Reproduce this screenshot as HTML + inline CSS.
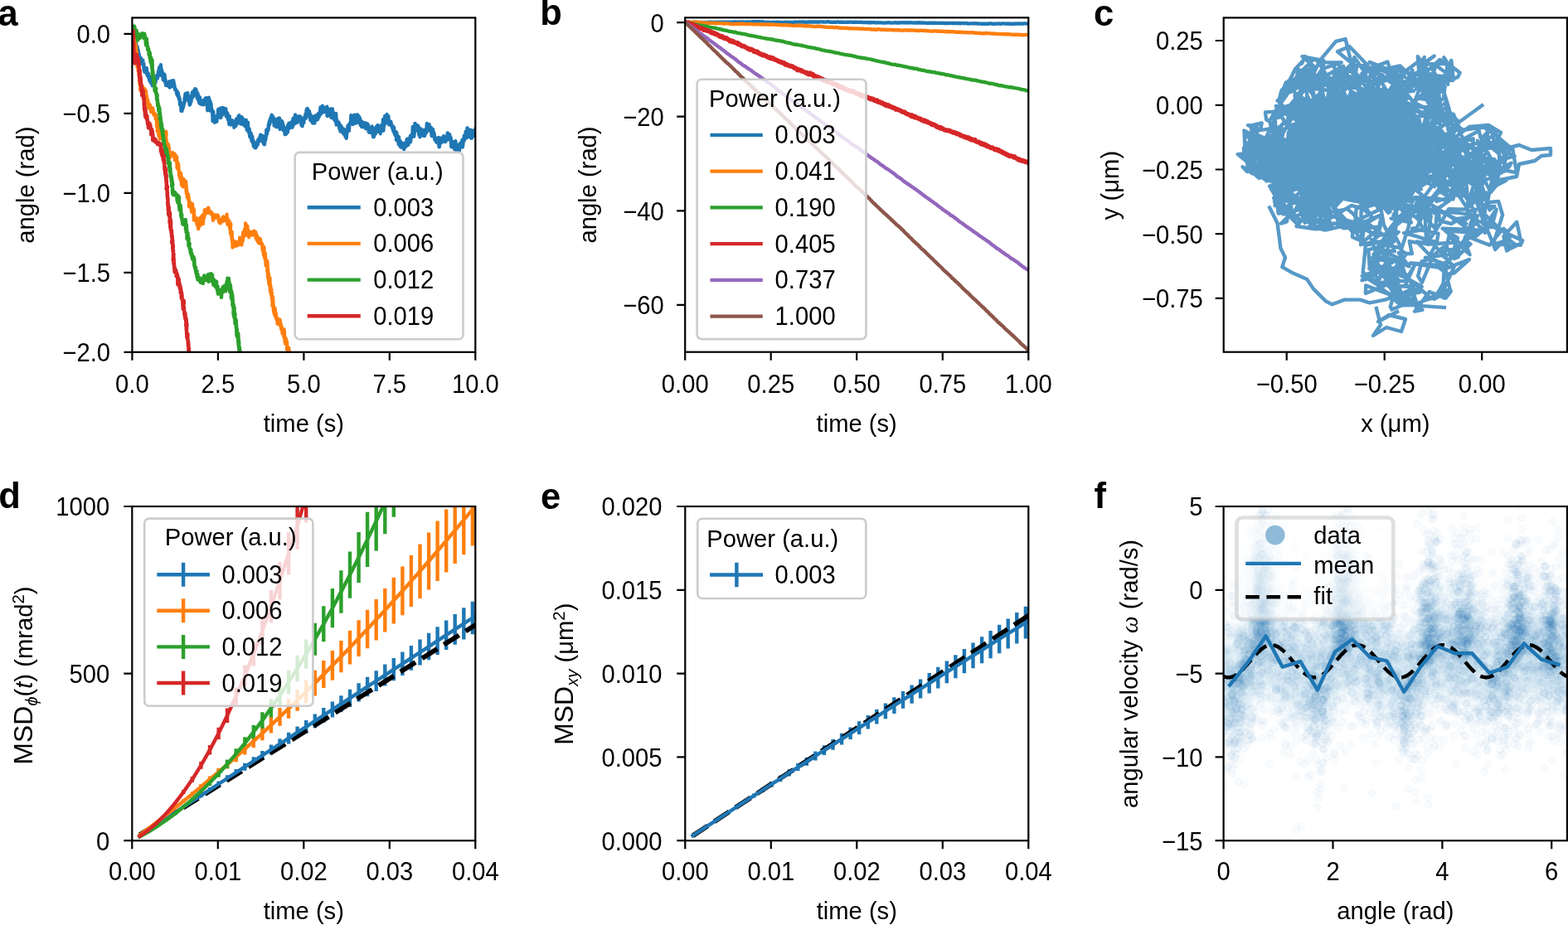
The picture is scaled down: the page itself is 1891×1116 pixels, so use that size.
<!DOCTYPE html>
<html><head><meta charset="utf-8"><title>Figure</title><style>html,body{margin:0;padding:0;background:#fff;overflow:hidden;}svg{display:block;}.sc circle{fill:#1f77b4;fill-opacity:.026;stroke:#1f77b4;stroke-opacity:.03;stroke-width:1.4px}</style></head><body>
<svg width="1891" height="1116" viewBox="0 0 1891 1116" font-family="'Liberation Sans', Arial, Helvetica, sans-serif" fill="#000"><defs><clipPath id="clipa"><rect x="159.4" y="21.4" width="413.9" height="403.4"/></clipPath><clipPath id="clipb"><rect x="826.2" y="21.3" width="414.1" height="403.4"/></clipPath><clipPath id="clipc"><rect x="1475.7" y="21.4" width="414.2" height="403.3"/></clipPath><clipPath id="clipd"><rect x="159.3" y="611" width="414" height="403.2"/></clipPath><clipPath id="clipe"><rect x="826.3" y="611" width="414" height="403.2"/></clipPath><clipPath id="clipf"><rect x="1475.6" y="611" width="414.3" height="403.2"/></clipPath><filter id="blurf" x="-20%" y="-20%" width="140%" height="140%"><feGaussianBlur stdDeviation="14"/></filter></defs><rect width="100%" height="100%" fill="#fff"/><g clip-path="url(#clipa)">
<polyline points="159.4,41 159.7,42.8 160,41.4 160.3,37 160.6,36.5 160.9,36.7 161.2,40.5 161.5,41 161.8,44.3 162.1,39 162.4,50.3 162.7,47.1 163,50.9 163.3,49.2 163.6,50.2 163.9,53.7 164.2,56.2 164.5,54.6 164.8,55.3 165.1,58.8 165.4,55.9 165.7,56.7 166,63.8 166.3,61.4 166.6,60.3 166.9,64.1 167.2,66.8 167.5,65.9 167.8,65.4 168.1,71.7 168.4,75.3 168.7,71.6 169,69.1 169.3,72 169.6,72.4 169.9,70.1 170.2,73.4 170.5,76.4 170.8,73.2 171.1,73.2 171.4,77.4 171.7,76.9 172,77.8 172.3,72.8 172.6,75.1 172.9,77 173.2,76.4 173.5,82.1 173.8,84.9 174.1,81 174.4,86.9 174.7,85.6 175,87 175.3,87.2 175.6,86.4 175.9,82.3 176.2,86.9 176.5,88.2 176.8,82.2 177.1,88.4 177.4,87.9 177.7,91 178,87.5 178.3,90.1 178.6,91.7 178.9,88.9 179.2,93.6 179.5,91.7 179.8,95.1 180.1,92.9 180.4,97.6 180.7,96.9 181,94.3 181.3,95.7 181.6,97.9 181.9,100 182.2,93 182.5,99.9 182.8,98.2 183.1,97.6 183.4,96.4 183.7,103.3 184,97.1 184.3,100.2 184.6,102.6 184.9,94.1 185.2,97.5 185.5,93.1 185.8,97.4 186.1,99.6 186.4,101.5 186.7,92.9 187,96.4 187.3,98.1 187.6,99 187.9,95 188.2,92.2 188.5,94.7 188.8,93.4 189.1,92.5 189.4,91 189.7,93.8 190,94.3 190.3,92.4 190.6,91.4 190.9,86.3 191.2,86.6 191.5,89.9 191.8,84.9 192.1,81.5 192.4,89.1 192.7,86.1 193,89.3 193.3,83.2 193.6,81.6 193.9,78.2 194.2,86.6 194.5,91 194.8,83.5 195.1,85.4 195.4,89.4 195.7,86.7 196,90.4 196.3,90.8 196.6,93.5 196.9,96.5 197.2,94 197.5,96.6 197.8,93.2 198.1,95.9 198.4,89.8 198.7,91.6 199,98.8 199.3,95.5 199.6,99.8 199.9,100.2 200.2,103.1 200.5,101.5 200.8,102.4 201.1,102 201.4,101.2 201.7,102 202,102.8 202.3,101.8 202.6,102.3 202.9,102.7 203.2,103.9 203.5,103 203.8,98.5 204.1,103 204.4,103.4 204.7,105.5 205,103.2 205.3,99.1 205.6,99 205.9,104.8 206.2,101.2 206.5,103.8 206.8,104.2 207.1,97.4 207.4,100.5 207.7,101.1 208,101 208.3,100.8 208.6,100.9 208.9,101.5 209.2,97.2 209.5,101.3 209.8,100.3 210.1,103 210.4,103.1 210.7,106.1 211,107.9 211.3,107.8 211.6,108.5 211.9,107.8 212.2,108 212.5,109.8 212.8,109.9 213.1,113 213.4,112.9 213.7,114.5 214,110.8 214.3,115.9 214.6,112.7 214.9,112.5 215.2,114.9 215.5,115.9 215.8,119.1 216.1,117.7 216.4,118.1 216.7,119.7 217,126.1 217.3,123.7 217.6,123.2 217.9,127.8 218.2,125.3 218.5,133.8 218.8,127 219.1,132 219.4,133.8 219.7,126.8 220,132 220.3,131.2 220.6,130 220.9,129.1 221.2,128.2 221.5,125 221.8,125.7 222.1,124.4 222.4,123.8 222.7,118.3 223,120.8 223.3,115.7 223.6,112.9 223.9,117.4 224.2,121.1 224.5,119.2 224.8,115.3 225.1,119.2 225.4,117 225.7,117.1 226,119.1 226.3,112.1 226.6,118.4 226.9,115.8 227.2,118.2 227.5,115.9 227.8,116.1 228.1,118.7 228.4,123.6 228.7,126.6 229,122.9 229.3,125.8 229.6,122 229.9,117.5 230.2,121.6 230.5,122.6 230.8,117.5 231.1,117.7 231.4,118.7 231.7,114.4 232,111.3 232.3,113.9 232.6,114 232.9,112.2 233.2,115.3 233.5,116.1 233.8,109.6 234.1,111.5 234.4,112.2 234.7,109.7 235,109.4 235.3,107.1 235.6,109.7 235.9,112.5 236.2,110.8 236.5,108.1 236.8,112.1 237.1,114.8 237.4,112.6 237.7,113.6 238,118.9 238.3,112.2 238.6,116.3 238.9,115.6 239.2,114.9 239.5,121.9 239.8,121.1 240.1,117.6 240.4,124.5 240.7,122.3 241,117.5 241.3,121.5 241.6,123.7 241.9,125.4 242.2,124.4 242.5,124.5 242.8,125.8 243.1,123.4 243.4,125.9 243.7,124.5 244,125 244.3,126.1 244.6,121.8 244.9,121.3 245.2,126.4 245.5,125 245.8,123.2 246.1,124.9 246.4,121.6 246.7,123.3 247,120.8 247.3,123.3 247.6,118.7 247.9,125.8 248.2,120.8 248.5,118.3 248.8,122.2 249.1,121.8 249.4,124.8 249.7,121.6 250,125.6 250.3,133.2 250.6,121.5 250.9,124.6 251.2,121.6 251.5,122.2 251.8,117.7 252.1,118.5 252.4,123.9 252.7,122.6 253,126.7 253.3,121.7 253.6,126.6 253.9,133.9 254.2,124.5 254.5,125.7 254.8,130.1 255.1,131.9 255.4,134.8 255.7,134.1 256,133 256.3,137.3 256.6,146.1 256.9,143.2 257.2,134.6 257.5,141.7 257.8,140.9 258.1,144.6 258.4,142.3 258.7,147.7 259,144.1 259.3,144.5 259.6,142 259.9,141.2 260.2,141.9 260.5,143.8 260.8,141.8 261.1,140.2 261.4,146.7 261.7,142.4 262,141.6 262.3,139.2 262.6,138.6 262.9,138.4 263.2,131.9 263.5,141.4 263.8,141.1 264.1,137.1 264.4,140.4 264.7,139.1 265,137.9 265.3,131 265.6,136.9 265.9,138.4 266.2,142 266.5,141.3 266.8,140.7 267.1,133.7 267.4,130.1 267.7,137 268,135.3 268.3,138.3 268.6,134.2 268.9,135 269.2,130.2 269.5,136.6 269.8,133.3 270.1,136.2 270.4,134.9 270.7,133.8 271,134.7 271.3,134.2 271.6,135.6 271.9,134.1 272.2,131.2 272.5,133.3 272.8,140.4 273.1,135.9 273.4,140.4 273.7,139.1 274,137 274.3,136.5 274.6,140.7 274.9,143.6 275.2,144.5 275.5,140.7 275.8,144 276.1,147.8 276.4,150 276.7,140.1 277,147.8 277.3,144.1 277.6,147.1 277.9,145 278.2,147.9 278.5,150.5 278.8,147.9 279.1,147.6 279.4,148.1 279.7,145.4 280,148.4 280.3,145.4 280.6,145.4 280.9,148.4 281.2,148.6 281.5,150.4 281.8,148.1 282.1,148.2 282.4,153.8 282.7,151.7 283,152.4 283.3,150.8 283.6,148.7 283.9,147.1 284.2,148.4 284.5,151.8 284.8,149.2 285.1,143.6 285.4,146.7 285.7,143.2 286,147.9 286.3,144 286.6,144.7 286.9,148.2 287.2,146.9 287.5,140.4 287.8,145.6 288.1,148.2 288.4,139.1 288.7,148.1 289,143 289.3,143.6 289.6,143.5 289.9,142.3 290.2,149.5 290.5,147.1 290.8,143.6 291.1,143.6 291.4,141.1 291.7,144.3 292,148.9 292.3,142.8 292.6,146.6 292.9,148.8 293.2,150.4 293.5,150.4 293.8,145.5 294.1,144.2 294.4,147.7 294.7,146 295,147.4 295.3,151.5 295.6,152 295.9,149.2 296.2,150 296.5,151 296.8,144.9 297.1,150.5 297.4,147.6 297.7,156.8 298,153.5 298.3,151.9 298.6,152.2 298.9,147.6 299.2,155.6 299.5,158.9 299.8,154.7 300.1,158.9 300.4,160.1 300.7,155.6 301,162.3 301.3,164.9 301.6,162.9 301.9,161.9 302.2,165.1 302.5,160.5 302.8,165.9 303.1,168.2 303.4,163.3 303.7,170.6 304,167.6 304.3,164.8 304.6,171.2 304.9,169.2 305.2,173.3 305.5,169.5 305.8,176.4 306.1,172 306.4,174.6 306.7,172.6 307,173.6 307.3,178.2 307.6,176.5 307.9,174.4 308.2,172.2 308.5,178.3 308.8,176.8 309.1,173.4 309.4,176.3 309.7,172.9 310,171.8 310.3,171.9 310.6,174.9 310.9,174 311.2,168.7 311.5,171.6 311.8,170.8 312.1,170.2 312.4,169.8 312.7,166.8 313,166.1 313.3,167.4 313.6,164.9 313.9,166.6 314.2,162.6 314.5,169.7 314.8,165.1 315.1,166.8 315.4,163.5 315.7,168.6 316,170.2 316.3,169.9 316.6,170.8 316.9,164 317.2,165 317.5,166.3 317.8,167.1 318.1,173.6 318.4,172.6 318.7,173.3 319,174.2 319.3,170.8 319.6,167.8 319.9,166.2 320.2,169.1 320.5,166.2 320.8,164 321.1,163.3 321.4,156.4 321.7,158.5 322,161.5 322.3,157.7 322.6,157.1 322.9,157.9 323.2,157.2 323.5,157 323.8,151.8 324.1,149.7 324.4,151.7 324.7,147 325,147.7 325.3,149.6 325.6,145.1 325.9,143.4 326.2,144.4 326.5,146.4 326.8,143.8 327.1,140.8 327.4,142.5 327.7,138.8 328,140.8 328.3,144.4 328.6,141.4 328.9,141.1 329.2,140.9 329.5,142.3 329.8,144.5 330.1,142.7 330.4,147.1 330.7,151.6 331,146.3 331.3,150.6 331.6,146.6 331.9,143.9 332.2,148.4 332.5,146.8 332.8,151.5 333.1,146.4 333.4,153.3 333.7,150.8 334,144.6 334.3,151.3 334.6,152.8 334.9,146.9 335.2,151.4 335.5,142.9 335.8,150 336.1,145.3 336.4,149.3 336.7,144.6 337,142.5 337.3,150.5 337.6,156 337.9,148 338.2,149.3 338.5,147.7 338.8,147.2 339.1,150.8 339.4,153 339.7,146 340,151.6 340.3,151.3 340.6,147.1 340.9,155.7 341.2,156.3 341.5,150.8 341.8,157.4 342.1,153.7 342.4,153.4 342.7,157.6 343,155.5 343.3,157.1 343.6,161.9 343.9,162.1 344.2,161 344.5,156.3 344.8,154.9 345.1,161.7 345.4,156.4 345.7,159 346,154.3 346.3,154.9 346.6,153.1 346.9,159.6 347.2,151 347.5,151.9 347.8,151.5 348.1,155.7 348.4,148.6 348.7,152.8 349,152 349.3,153.8 349.6,153.9 349.9,150.5 350.2,152 350.5,149.5 350.8,150.9 351.1,149.8 351.4,147.5 351.7,149 352,149.2 352.3,153.8 352.6,146.3 352.9,149.2 353.2,152 353.5,142.9 353.8,145 354.1,143.6 354.4,145.4 354.7,149.6 355,144.6 355.3,147.3 355.6,144.3 355.9,138.8 356.2,138.5 356.5,148.5 356.8,146.5 357.1,142.4 357.4,147.5 357.7,141 358,147.3 358.3,147.7 358.6,142.2 358.9,141.5 359.2,145.7 359.5,141.9 359.8,146.3 360.1,140.4 360.4,146.2 360.7,144.9 361,143.9 361.3,142.7 361.6,146 361.9,140.4 362.2,143.5 362.5,144.4 362.8,146.6 363.1,142 363.4,150.7 363.7,145.9 364,146.5 364.3,151.9 364.6,152.2 364.9,147.9 365.2,146.4 365.5,147.7 365.8,143.8 366.1,145 366.4,148.1 366.7,144.2 367,143.6 367.3,142.7 367.6,140.5 367.9,142.4 368.2,141.6 368.5,137.8 368.8,137.4 369.1,142.5 369.4,135.7 369.7,132.2 370,138.9 370.3,133.3 370.6,131 370.9,135.3 371.2,131.9 371.5,133.4 371.8,135 372.1,135.1 372.4,133.6 372.7,134.7 373,134.1 373.3,140.3 373.6,136.9 373.9,138.3 374.2,144.8 374.5,138.5 374.8,145.5 375.1,145.4 375.4,142.6 375.7,140.1 376,144.5 376.3,147.1 376.6,146.7 376.9,145.4 377.2,148.6 377.5,147.4 377.8,141.3 378.1,147.8 378.4,144.4 378.7,141.5 379,142.3 379.3,148.5 379.6,146 379.9,140 380.2,144.9 380.5,144.4 380.8,144.8 381.1,142.6 381.4,139.1 381.7,144.9 382,140.1 382.3,142.2 382.6,141.8 382.9,140.9 383.2,144 383.5,142.1 383.8,138.4 384.1,136.8 384.4,138.3 384.7,141.1 385,138.2 385.3,138.1 385.6,135.9 385.9,135.5 386.2,134.5 386.5,129.5 386.8,137.8 387.1,131.7 387.4,132.4 387.7,135.4 388,134.5 388.3,133.9 388.6,132.1 388.9,127.8 389.2,132.7 389.5,135.4 389.8,129.5 390.1,135.3 390.4,129.7 390.7,130.4 391,132.8 391.3,132.8 391.6,134.8 391.9,131.1 392.2,132.3 392.5,130.2 392.8,131.6 393.1,132 393.4,130.7 393.7,135.2 394,132.8 394.3,128.8 394.6,140 394.9,131.9 395.2,131.1 395.5,138 395.8,138.4 396.1,132.6 396.4,132.1 396.7,132.8 397,138 397.3,135.1 397.6,132 397.9,134.4 398.2,140.2 398.5,131.8 398.8,135.6 399.1,131.4 399.4,140.9 399.7,141.9 400,141.3 400.3,138 400.6,139.3 400.9,131.5 401.2,138.8 401.5,134.9 401.8,135.5 402.1,137.9 402.4,139.7 402.7,143.1 403,144 403.3,142 403.6,140.8 403.9,143.1 404.2,142.8 404.5,146.3 404.8,141.4 405.1,137 405.4,143.2 405.7,150.6 406,146.8 406.3,144.8 406.6,148.9 406.9,148 407.2,149.6 407.5,147.5 407.8,148.9 408.1,150.1 408.4,149.2 408.7,147.6 409,151.1 409.3,155 409.6,153.7 409.9,153.1 410.2,153.8 410.5,158.6 410.8,151.2 411.1,152.6 411.4,156.2 411.7,152.7 412,154.5 412.3,157.5 412.6,158.7 412.9,156.4 413.2,158.2 413.5,157.4 413.8,155.4 414.1,161.5 414.4,158.7 414.7,155.7 415,158.9 415.3,156.7 415.6,158.2 415.9,161.3 416.2,159 416.5,165 416.8,159.4 417.1,164.3 417.4,165.3 417.7,166.8 418,164 418.3,158.8 418.6,157.4 418.9,156 419.2,157.6 419.5,151.6 419.8,154.4 420.1,153 420.4,154.6 420.7,153.3 421,157.7 421.3,149.7 421.6,149.9 421.9,149.6 422.2,149.8 422.5,147.9 422.8,146.8 423.1,147 423.4,139.2 423.7,143.3 424,142.3 424.3,146.4 424.6,143.2 424.9,143.4 425.2,144.9 425.5,150 425.8,147.1 426.1,146.2 426.4,148.4 426.7,142.5 427,139 427.3,143.4 427.6,142.2 427.9,145.7 428.2,148.9 428.5,138.8 428.8,147.7 429.1,146.3 429.4,144.7 429.7,144.6 430,148.1 430.3,142.6 430.6,140.5 430.9,141.4 431.2,138.5 431.5,144.7 431.8,142.4 432.1,143.1 432.4,143.3 432.7,140.3 433,145.9 433.3,142.6 433.6,148.4 433.9,142.3 434.2,147.3 434.5,146.8 434.8,151.2 435.1,149.1 435.4,145.7 435.7,149.7 436,151.8 436.3,153 436.6,149.1 436.9,147.1 437.2,150.1 437.5,150.6 437.8,149.1 438.1,149.4 438.4,153 438.7,152.4 439,151.6 439.3,149.1 439.6,152 439.9,151 440.2,148.1 440.5,154.6 440.8,152.7 441.1,149.9 441.4,155.2 441.7,153.6 442,154.7 442.3,154.6 442.6,154.5 442.9,149.1 443.2,150.1 443.5,155.1 443.8,150.3 444.1,153.2 444.4,154.5 444.7,158.5 445,159.5 445.3,159.7 445.6,157.7 445.9,159.3 446.2,157.2 446.5,156.1 446.8,159.6 447.1,158.4 447.4,155.8 447.7,160.2 448,156 448.3,157.8 448.6,152.4 448.9,156.8 449.2,155.8 449.5,157.5 449.8,154.8 450.1,165.2 450.4,161.3 450.7,162.9 451,165 451.3,159.6 451.6,160.3 451.9,155.7 452.2,159.1 452.5,159.3 452.8,161.5 453.1,160.7 453.4,155.5 453.7,153.3 454,154.8 454.3,158.7 454.6,157.8 454.9,158 455.2,152 455.5,151.1 455.8,155 456.1,155.8 456.4,155.3 456.7,158.9 457,157.1 457.3,154.5 457.6,154.3 457.9,157.1 458.2,157 458.5,155.8 458.8,161.2 459.1,154.5 459.4,155.7 459.7,151.1 460,152.9 460.3,154.2 460.6,155.2 460.9,153.8 461.2,153.9 461.5,151.7 461.8,148 462.1,144 462.4,157.7 462.7,152.5 463,149.2 463.3,144.6 463.6,145.3 463.9,150.4 464.2,139.9 464.5,145.5 464.8,146.8 465.1,144.9 465.4,145.3 465.7,142.9 466,147.9 466.3,139.9 466.6,138 466.9,143.1 467.2,145.3 467.5,142.3 467.8,143.6 468.1,140.4 468.4,140.2 468.7,147.9 469,150.1 469.3,149.7 469.6,146.6 469.9,146.7 470.2,146.1 470.5,148.3 470.8,150.5 471.1,150.9 471.4,146.8 471.7,149.5 472,150.3 472.3,151.1 472.6,150.7 472.9,151.9 473.2,154.3 473.5,154.8 473.8,156.2 474.1,154.2 474.4,158.5 474.7,158.4 475,153.4 475.3,159.1 475.6,157.4 475.9,161.7 476.2,159.4 476.5,161.7 476.8,163.2 477.1,163.3 477.4,163 477.7,159.3 478,169 478.3,160.3 478.6,162.1 478.9,163.9 479.2,164.8 479.5,165.8 479.8,167.1 480.1,167.9 480.4,165.9 480.7,174.2 481,165.1 481.3,168.7 481.6,169.4 481.9,169.5 482.2,172.1 482.5,176.7 482.8,170.3 483.1,171.6 483.4,175 483.7,174.6 484,177.8 484.3,175.7 484.6,173.9 484.9,172.9 485.2,174.5 485.5,174.7 485.8,173 486.1,176.9 486.4,176.8 486.7,176 487,174.3 487.3,180.1 487.6,177.4 487.9,178.5 488.2,172.8 488.5,173.9 488.8,174.4 489.1,175.7 489.4,174.8 489.7,173.8 490,176.2 490.3,172.7 490.6,168.3 490.9,168.3 491.2,168.2 491.5,170.9 491.8,167.4 492.1,171.2 492.4,174.7 492.7,172.8 493,169.5 493.3,169.3 493.6,170.1 493.9,171.5 494.2,171.8 494.5,168.3 494.8,164.3 495.1,171 495.4,167 495.7,166.8 496,165.8 496.3,162.7 496.6,164.7 496.9,164 497.2,165 497.5,162.3 497.8,153 498.1,160.2 498.4,161.1 498.7,163.1 499,160.7 499.3,164.6 499.6,161.4 499.9,159 500.2,156.4 500.5,148.9 500.8,155.4 501.1,154.2 501.4,150.9 501.7,153.8 502,153.4 502.3,151 502.6,153.1 502.9,152.9 503.2,155.9 503.5,154.8 503.8,157.7 504.1,151.6 504.4,156.1 504.7,153 505,157.7 505.3,162.5 505.6,160.4 505.9,160.6 506.2,161.9 506.5,165.2 506.8,158.1 507.1,163.2 507.4,155.5 507.7,159.4 508,161.5 508.3,159.2 508.6,161.7 508.9,163 509.2,159.8 509.5,162.4 509.8,161.8 510.1,156.9 510.4,161.2 510.7,158.9 511,163.8 511.3,157 511.6,162.6 511.9,157.1 512.2,163.7 512.5,160.2 512.8,159 513.1,159.9 513.4,157.6 513.7,159.6 514,160.2 514.3,154.9 514.6,153.3 514.9,149 515.2,155.3 515.5,157.4 515.8,156.6 516.1,155.2 516.4,153.9 516.7,154 517,153.9 517.3,155.3 517.6,150.1 517.9,157.3 518.2,154.6 518.5,157.8 518.8,155.3 519.1,156 519.4,153.6 519.7,153.6 520,156.8 520.3,154.6 520.6,164 520.9,155.9 521.2,156.5 521.5,157.1 521.8,157.7 522.1,155.9 522.4,161.5 522.7,163.5 523,159.7 523.3,165 523.6,161.2 523.9,164.8 524.2,167.9 524.5,168.5 524.8,168.9 525.1,166.3 525.4,169.6 525.7,167.5 526,170.1 526.3,171.4 526.6,169.7 526.9,168.1 527.2,171.5 527.5,167.9 527.8,168.3 528.1,168.2 528.4,172.9 528.7,170 529,165.9 529.3,173.9 529.6,177.4 529.9,176.9 530.2,171.3 530.5,173 530.8,171.7 531.1,171.7 531.4,169.1 531.7,166.7 532,172.3 532.3,170.7 532.6,167 532.9,169 533.2,170.5 533.5,168.8 533.8,169.2 534.1,170.6 534.4,169.2 534.7,166.9 535,164.2 535.3,170 535.6,170 535.9,170.7 536.2,165 536.5,165.9 536.8,171.1 537.1,170.1 537.4,167.6 537.7,169.3 538,166.6 538.3,169.6 538.6,166.8 538.9,167.9 539.2,165.8 539.5,164.1 539.8,160.5 540.1,164.9 540.4,166.3 540.7,164.3 541,164.1 541.3,164 541.6,166.1 541.9,168.2 542.2,162.1 542.5,165.8 542.8,165.5 543.1,166.1 543.4,165.4 543.7,169.3 544,168 544.3,177.1 544.6,171.9 544.9,172.1 545.2,170.9 545.5,177.6 545.8,170.9 546.1,174.7 546.4,173.2 546.7,174.8 547,174.5 547.3,178.1 547.6,171.5 547.9,174.5 548.2,180.2 548.5,176.2 548.8,176.5 549.1,173.7 549.4,170.3 549.7,175.9 550,181.5 550.3,177 550.6,174.1 550.9,178.2 551.2,177.6 551.5,180.8 551.8,180.7 552.1,177.1 552.4,180.8 552.7,175.5 553,182.4 553.3,179.3 553.6,181.2 553.9,182.2 554.2,177.8 554.5,178.1 554.8,175.4 555.1,172.8 555.4,176.8 555.7,177.5 556,174 556.3,177.3 556.6,175.5 556.9,176.4 557.2,171.5 557.5,168.8 557.8,177.5 558.1,175.8 558.4,173.5 558.7,170.5 559,170.4 559.3,169.4 559.6,168.3 559.9,163.6 560.2,169 560.5,163.4 560.8,165.4 561.1,163.9 561.4,164.7 561.7,158.8 562,166.2 562.3,164.6 562.6,164.5 562.9,166.2 563.2,159.7 563.5,154.5 563.8,161.5 564.1,165.3 564.4,165 564.7,160.3 565,160.7 565.3,162 565.6,156.4 565.9,159.1 566.2,159.9 566.5,165 566.8,159 567.1,164.9 567.4,161.6 567.7,156.9 568,166.8 568.3,158.4 568.6,162.9 568.9,166.6 569.2,159.7 569.5,157.5 569.8,163 570.1,160.8 570.4,158.5 570.7,158.4 571,160 571.3,164.1 571.6,159.4 571.9,160.9 572.2,162.8 572.5,161.7 572.8,162.2 573.1,161 573.4,155.1 573.7,161.5 574,158.8 574.3,158.4" fill="none" stroke="#1f77b4" stroke-width="4.4" stroke-linejoin="round" stroke-linecap="square"/>
<polyline points="159.2,40 160,43.2 159.8,42.7 159.9,38.9 160.6,37.9 160.6,35.6 160.5,35.4 160.4,36 160.3,37.5 161.2,41.5 160.8,40.5 161.1,42.2 160.9,42.2 161.2,41.5 161.6,42.7 161.6,44.1 161.5,48 161.5,48.3 162,48 162,48.6 162.1,45.1 162.3,53.1 162.4,48.3 161.9,50.6 162.4,56.4 162.2,46.8 162.5,50 162.7,53.8 162.9,56.7 162.9,51.5 162.3,55.2 162.9,57.1 163.3,58.5 163.1,53.9 163.2,61.2 163.9,63.9 163.3,63 163.2,60.6 163.7,59.8 163.4,55.4 163.6,63.5 164.2,64.2 164.2,63.2 164.1,55.5 163.9,63.7 164.1,64.6 164.6,65 164.3,67.5 164.5,62.2 165,65.2 164.8,68 164.5,69.8 164.5,69.1 165,70.4 164.9,71 165.2,69.6 165.4,76.2 165.2,73.5 165.6,70.8 165.5,75.6 165.6,80.1 166.2,80.7 165.7,81.3 165.8,78.9 166.1,72.2 166.2,80.8 166.2,80 166.7,72.8 166.8,79.1 166.5,78.8 166.7,84.9 166.3,81.5 166.9,82.9 167.1,82.7 167,79.7 167.2,79.5 166.8,86.1 167.3,85.9 167.8,87.2 167.6,87.2 167.2,86.6 167.7,90.9 167.9,91.3 168,87.8 167.7,85.1 168,84.6 167.9,88 168.2,91.2 168.4,94 168.4,90.7 168.5,93.5 168.5,96.4 168.2,100.6 168.9,96.3 168.7,100.6 168.1,98.2 168.3,95.3 168.7,92.6 169.3,100.1 168.8,101.7 169.4,106.3 169.2,99.1 169.2,103.7 169.2,102.8 169.3,97.9 169.3,104.4 169,102.7 169.3,100.2 169.2,108.4 169.1,104 169.4,107.8 169.8,106.4 169.7,105.3 170,108.2 170.5,110.9 171.1,106.6 172,104.7 172.5,113.7 173,110.6 173.2,107.5 174,109.5 174.1,107.7 173.9,109.9 174.4,114.3 174.6,107.3 174.5,115.3 175.3,115.4 175.2,112.7 175.1,112.7 175.9,112.6 176,112.5 176.2,110.3 175.7,120.1 176.5,115.2 177,116.1 176.8,115.6 177.3,119.3 177.3,120.5 176.8,118 177.9,121.8 177.7,121.5 178.3,121 178.4,128.7 178.6,129.3 178.9,125.5 179.3,126.8 179.3,125.3 179.3,125.6 180,126.6 180.4,131.1 180.9,126.5 180.7,126.3 181.2,131.6 182.2,130.2 182.2,135.1 182.8,130 183.1,133.7 184.1,133.2 184.2,130.5 185,135.9 185.4,138.5 185.8,138.5 186.1,136.3 187.3,139.1 187.6,138 187.5,138.6 187.1,137.7 187.7,140.4 187.7,139.3 187.6,143.2 187.7,140.7 187.8,139.7 188.2,144 188.3,143.9 188.5,140.5 188.6,142.5 188.7,144.1 189.2,145.4 189.1,147.8 189.1,148.4 189.1,145.5 188.9,144.6 189.4,143.6 189.9,149.3 189.1,148.6 189.1,152.6 190,154.4 189.8,158.4 190,152.7 190.4,157.4 190.4,152 190.5,157.9 190.8,154.8 190.9,156.6 191.1,154.8 191.4,163.5 191.7,162.1 191.2,162.5 191.7,160.8 191.6,163.9 191.6,160.1 192.3,162.1 192.7,167.5 193.1,158.7 193.7,164 194.5,167.2 194.6,166.6 195,165.5 196.2,163.9 196.7,168.3 197.4,165 197.6,165.4 197.8,161.1 198.8,167.1 199.2,163.8 199.5,163.9 200.1,158.8 200.5,162.1 200,166 200,164.9 200.8,170.9 201,175.3 200.2,171.5 201,173.7 201.3,173.2 201.9,175.2 201.9,173.3 201.9,178.2 202.4,174.8 202,177 202,177.1 202.6,173.7 203.2,175 203.1,176.1 202.8,180 203.9,178.3 203.3,182 203.3,180.7 203.9,181.3 204.2,184.4 204.2,183.4 204.3,185.8 204.1,184.3 204.6,185.3 204.9,190.2 205.6,184.2 206.2,184.2 207,186.8 207.4,186.4 208,184.2 208.2,187.5 208.9,187.8 209.7,188.9 210.5,185.5 211,193.4 211.4,190.8 212.1,187.8 212.6,193.3 212.4,190 213,189.5 212.7,188.8 212.7,191.7 212.2,190.8 213.3,189.8 212.9,193.2 213,194.9 213.2,194.9 213.6,199.1 213.5,201.8 213.8,202.9 213.7,196.9 213.8,195.7 214,195.4 214.3,200.9 214.3,199.3 214.6,202.3 214.9,202 215,203.5 215,201.6 214.6,203.1 215.2,204.6 215.1,197.6 215.4,202.5 215.8,206.9 215.9,207.9 216.1,210.1 216,208.1 216,211.3 216.7,208.6 216.2,208.3 216.7,209.7 216.7,214.1 217.1,214.2 217.1,213.3 217.3,214 217.3,208.9 217.8,217.1 217.7,208.8 218.4,212.8 218,209 218.5,215.4 218.8,214.9 219,223.3 219.1,217.4 219.3,214.4 219.4,221.7 220.4,220.7 220.8,225.4 220.7,224.3 221.5,216.3 222.1,219.7 222,221 222.4,221.2 223.2,222 223.9,223.4 224,224.4 224,218.8 224.3,222.4 224.9,229.4 224.4,229.1 224.6,229.7 225.2,232.2 224.8,233.3 225.2,234 224.9,230.2 224.8,228.8 225.6,234.3 225.3,231.7 225.4,231 226,235.2 225.8,233.3 226.1,233.7 226.3,234.9 225.7,237.7 226.3,238.6 226.4,239 226.6,234.9 227.1,234.8 226.8,236.5 227.6,238 227.6,242.4 227.6,240.7 228.1,242.8 227.9,249.1 228.6,243.6 229,244 229.7,245.9 229.7,244.8 228.9,249.5 230,248.9 230,245.4 229.9,249.8 230.5,245.8 230.8,253.6 231.7,250.4 231.8,245.9 231.2,256 231.7,248.9 232,246.2 232.2,255.7 232.8,250.8 233,252.7 233.6,253.3 233.4,255.1 233.7,258.4 234,253.1 233.8,265.5 234.2,260 234.1,259.6 234.7,262.1 234.8,262.1 234.8,265.3 235.6,264.8 235.8,266.1 236,265.7 236,264.4 236.5,266.5 236.2,264.2 236.8,266.7 236.8,263.4 237.4,264.1 237.3,269.8 237.9,264.6 237.6,269.6 237.9,271.6 238.1,263.5 239,270.4 239,274.9 239,269.5 239.2,276.1 239.7,270.5 239.2,268.2 239.8,270 240.2,269.3 240.4,272.8 240.7,268.3 241,267 241.4,267.2 242.1,271.6 242.2,262 242.4,262.7 242.6,263 242.7,263 242.7,263.6 243.1,265.5 243.6,260.5 244.3,262.4 244.6,259.4 245,269.9 245.1,262.9 245.5,259.1 245.4,263.7 246,260.5 246.3,262.4 246.4,260.5 246.9,253.3 246.9,259.5 247.5,255.7 248,255 247.7,257.3 248.1,254.5 249.1,256 249.3,257.1 249.4,254.1 249.6,254.6 250.2,256.5 250.1,251.9 250.1,252.7 250.6,252.3 251.1,255.8 251.3,250.6 251.8,254.4 252.4,256.6 252.9,254.9 253.3,256.1 253.5,255.2 254,256.8 254.8,255.7 254.9,258.7 255.4,257.8 255.7,257.4 256.1,258.7 256.4,258 257,265.8 257.6,261.9 258.2,261.5 257.9,260.6 259.5,263 259.7,259.5 260.2,260.5 260.6,260.6 261,261.8 261.2,261.2 262.5,259.5 262.7,262.6 263.3,261.3 263.9,266.5 264.6,268.6 264.6,265.1 265.4,265 265.9,269.3 266.7,265.2 267,266 267.7,264.9 268.4,263.1 269.1,261.6 269.6,266.7 270.2,265.1 270.2,262.8 271.6,264 272.2,261.7 272.5,264.6 272.2,263.5 273.1,266.4 273.5,258.8 273.6,266.9 273.9,264.5 274.3,270.2 274.6,264 275,269.2 274.7,270.9 275.6,266.6 275.6,270.4 276.4,271 276.8,267.1 276.3,272.1 276.8,270 276.6,272.3 277,270 277.1,269.9 277,272.2 277.2,274.5 277.2,269.5 277.3,276.4 277.6,274.9 277.6,276.3 278.3,270.2 278,274 277.8,276.1 278,277.7 277.9,281.1 278.4,278.9 278.8,280 279,285 279.2,285.1 278.8,282.4 279.2,282.8 279.6,279.6 279.6,286 279.4,284.5 279.8,290.4 279.9,285.9 280.3,290.1 280,288.1 280.3,290.7 280.6,298.6 280.6,291.5 280.7,290.8 281.2,295.1 280.9,295.4 280.9,290.5 281.6,297 281.2,291.6 281.5,297.7 281.6,293.9 281.6,292.5 282.1,295.1 282.8,293 283.3,291.3 284,294.5 284.4,296.7 285.4,293.8 285.8,296.4 286.7,291.9 287.2,295.6 287.9,293.9 289,292 289.2,286.7 289.7,294.1 290.6,288 291,291.3 291.1,289.5 291.4,295.6 291.4,290.2 291.8,291.2 291.6,291.7 292.3,289.7 292.2,292.1 292.3,287.1 292.5,291 292.8,289.5 293,287 293,282.1 293.4,280.1 293.3,282.7 293.8,282.8 293.8,284.9 293.7,281.9 294.1,281.9 294.3,283.3 294.3,282.4 294.5,281.7 294.8,282.2 295,284.4 295.3,281.3 295.3,282.2 295.4,284.5 295.2,276.2 295.4,277.1 295.7,279.3 295.8,278 296.3,274.1 296.1,269.4 296.3,273.4 296.8,273.7 296.7,276 297.5,273.2 297.5,275.8 298.5,273.7 298.1,272.4 298.2,282.6 298.9,277 298.9,281.2 299.2,279.8 299.6,280.2 300,284.6 300.1,286.2 300.6,280.4 301,283.2 300.8,279.4 301.3,283.5 301.8,283.5 301.8,281 302.3,280.7 303.6,280 303.9,282 304.7,283.6 305.5,280.2 306,280.6 306.3,278.6 307.2,282.1 307.7,280.3 308.1,279.9 308.6,287.2 308.9,282.1 309.7,289.3 310,288.7 310.2,284.9 310.4,289.2 311.7,292.8 311.6,292.5 312.1,290.7 312.7,293.6 312.9,287.6 313.5,291.1 313.9,288.1 314,291.1 314.6,291.9 314.8,292.3 315.6,294.2 316.2,294.6 316.2,295.8 316.3,297.1 316.5,300.3 317,299.2 317.7,304.1 317.3,298.7 317,302.2 317.3,301.5 317.6,301.5 317.9,307.7 318,302.4 318.2,303.2 318.3,298 318.5,299.8 318.4,302.3 318.7,308.4 318.4,306.2 318.7,304.5 319.4,307.1 319.2,311.5 319.8,305.5 319.3,309.4 319.8,307.6 319.6,308.1 320.1,310.2 319.5,306.4 320.1,312.2 320.2,313.4 320.4,314.5 320.4,312.4 320.7,315.5 320.6,313.5 320.4,313.1 320.6,320.5 321.1,317.7 321.1,313.6 321.1,315.1 321.4,316 321.2,317 321.3,317.1 321.7,321.6 322.1,321 322.7,324.6 322.4,315.3 322.4,318.6 322.4,320.1 322.5,316.9 322.4,321.9 322.3,327.9 323,323.8 323.1,327.2 323.1,328.7 323,323.7 322.9,326.6 322.9,331.1 323.6,333.7 323.6,336.7 323.9,330.5 323.1,334.7 323.8,332.5 323.6,334.8 324,331 323.8,337.3 324.4,340.1 324.1,337.3 324.3,338.2 324.5,339.4 324.5,340.2 324.1,337.8 324.4,342.6 324.7,339 325.2,344.6 325,342.9 325,342.1 325.1,342 325.4,335.3 325.5,342.9 325.4,343.5 325.2,343.4 326,343.4 325.8,348.4 325.8,348.9 325.8,348.5 325.9,350.6 326.1,346.1 326.3,352.7 326.2,349.5 326.4,345.4 326.9,351.9 326.8,352.1 327.2,355.8 327.2,352.5 327.4,349.5 327,349.2 327.3,355.8 327.8,353.4 327.6,352.6 327.7,356 327.8,359.8 328.5,360.4 328.2,358.7 328.1,360.6 328.9,358.2 328.3,359.8 328.5,363.6 328.7,360.8 328.5,368.9 329.2,367.3 329.3,361.4 329.2,367.4 329.3,365.4 329.8,371 329.8,370.1 329.9,374.3 329.7,373.5 330.5,370.4 330.3,372.4 330.2,376 330.5,376.2 330.9,378 330.5,377.3 330.5,373.9 331,379.2 331.1,372.4 331.2,373.7 331.7,372.3 331.9,375.4 332.1,382.2 332.4,379.8 332.8,382.5 332.7,377.5 332.9,382.2 333.4,385 334.1,384.8 333.8,383.2 334.2,385.2 334.7,390.9 334.6,385.1 335.2,388.2 335.4,387.8 335.6,387.7 335.7,385.4 336.2,385.5 336.6,387.8 336.6,390.3 337.4,389.2 337,390.6 337.6,391.6 338,393 337.5,385.8 338.4,390.9 338.7,391.3 338.8,391.9 339.1,395.7 339.3,396.7 339.8,396.9 339.1,397 339.9,395.1 339.6,395.7 340.3,396.6 340.6,402.6 340.8,397.5 340.9,398.3 341.4,402.5 340.8,398.9 340.8,397.5 341.8,400.2 342.3,398.7 342,397.2 342.1,403.1 342.3,406.3 342.4,404.1 342.7,397.8 342.8,399 343.2,406.5 343,407.1 343.4,408.8 343.3,409 343.3,406.7 343.8,413 344.3,407.8 344.1,414.8 344.8,412.3 345.2,411.1 345.2,413.3 344.7,408.7 345.2,410.5 345.1,415.1 346.1,412.8 346.2,417.5 346,421.4 346.5,421.8 346.1,420.1 346.9,422.6 347,421.5 347.2,421.2 347.3,422 347.1,423.1 347.6,421.9 347.9,420.3 348.5,420.3 348,425.6 347.9,419.4 348.8,428.1 348.5,424 349,425.1 348.6,427.9 349.7,430.8 349.2,424.8 349.3,426 349.2,430.6 349.6,429 350.3,433.1" fill="none" stroke="#ff7f0e" stroke-width="4.4" stroke-linejoin="round" stroke-linecap="square"/>
<polyline points="159.3,41.8 159.2,43.2 159.6,34.8 160.2,42.7 160.5,38.4 160.1,37 160.3,36.5 160.5,34.9 160.7,36.7 160.8,38.9 161.1,37.4 161.6,36.3 161.8,31.5 162.3,32.1 162.2,39.5 162,39.2 162.6,42.4 162.8,40.2 163.2,35.9 163.4,41.6 164.1,40.5 163.9,39.4 164.4,36.4 165.1,39.7 165,41.5 164.9,44 165.7,43.8 165.9,48.8 166.3,44.4 166.9,46 167.1,45 167.7,42.7 168.5,41.3 168.7,46.2 169.4,45 170.5,43.3 170.5,43.6 171.5,40.3 172.2,42.7 172.5,40.4 172.7,42.2 173.4,45.7 173.1,43.6 174.1,46.6 173.8,41.9 174.3,45 174.3,40.7 174.6,44.7 175.4,45.3 175.5,44.9 175.8,46.2 175.7,51.1 176.1,54.5 176.1,48.1 176.5,54.7 176.8,46.7 177,50.6 177.2,52 177,53.4 177.5,52.2 177.4,54.4 178,57.1 177.8,56.5 178.3,56.5 178.1,59.3 178.5,59.2 178.5,57.8 178.3,60.3 179,60.3 178.8,59.7 178.7,59.8 179.3,59.4 179.7,62.6 179.8,62.2 179.6,63.6 179.5,64.4 179.5,65 180.1,67.2 180.3,64.3 180.6,65.9 181,67.1 180.8,63.9 180.7,70.1 180.9,70.3 181,71.1 181.2,69.2 181.6,72.6 181.5,74.9 181.7,72.7 181.9,71.3 182,69.1 182.3,76.9 182.5,73.8 182.1,71.6 182.4,76.2 182.6,74.6 182.7,70.9 183.1,76 183.2,76 183,80.1 183.6,72.8 183.5,78.3 183.7,79.2 183.4,83.1 183.8,79.4 183.6,75.8 183.6,80.8 183.9,83.9 183.7,87.2 183.7,91.5 184.2,88.5 184.3,85.8 184.1,90 184.5,89.3 184.6,88.1 184.7,89.6 184.6,95 184.5,90.1 185,91.9 184.6,94.5 184.9,94.6 185.1,93.8 185.3,93.9 185.1,97.5 185.1,100 185.3,97.9 185.3,98.3 185.6,100.9 185.7,94.4 186,96 185.7,98.8 186,97.3 185.8,98.3 186,101.5 186.5,98.7 186.2,101.5 186,98.5 186.4,102.8 186.6,109.6 186.4,105.8 187,107.4 187.2,108.2 187.1,106 187.5,109.4 186.9,109.8 187.7,110.1 187.7,107.7 188.3,106.6 187.9,108.1 188,109.4 188.2,113.1 188.2,111.9 188.3,112.6 188.7,112.2 188.8,115.6 188.9,113.7 189,119.8 188.9,113.1 189.7,115.3 189.1,118.6 189.7,119.9 189.6,118.4 190,121.5 189.8,121.5 190.2,126.1 190.2,126.7 190.5,124.3 190.8,128.5 190.5,126.7 190.7,127.5 190.2,127.7 190.9,126.1 191.2,127.8 191.1,129.7 191.3,131.3 191.4,133.9 191.1,131.7 191.9,129.1 191.6,132.3 191.5,133.2 192.2,133.2 192.1,133.7 192.2,134.5 192.2,132.8 192.1,133.4 192.6,131.3 192.2,138.3 192.6,136.6 192.4,134.8 192.4,134.4 193,136.6 192.7,143.1 193.3,140.3 192.7,135.8 193.4,140.4 193.1,141.8 193.5,144.4 193.5,144.4 193,142.3 193.7,146.7 193.5,143.5 193.5,141.4 194,145.1 193.9,145.1 194,151.3 194.4,154.8 194.3,150.7 194.2,153.2 194.1,151.5 194.7,148.5 194.3,147.6 194.2,152.6 195.1,153.7 195.2,152 194.5,148.2 195.1,155.4 194.8,154.6 195.3,152.7 195.2,155.3 195.1,153 195.8,158.7 195.4,158.2 195.8,156 195.7,158.9 196.4,158.2 196.3,156.1 196.1,160.8 195.8,161.8 196.5,158.7 196.3,162.6 196.9,164.9 197.1,163.4 196.9,169.1 197.2,170.8 196.8,166.6 197.3,170.3 197.7,174.2 197.1,168.9 197.7,169.3 197.7,171 197.9,168.7 197.9,168.7 197.9,173.3 198.3,172.4 198.2,175.3 198.4,176.4 198.2,174.5 198.7,176.2 199,177.9 198.9,177.3 199.1,177.9 198.8,181.5 199.2,179.7 199.5,182.3 199.7,184.1 200.4,185.4 200.3,179 200,178.8 200.9,179.6 200.2,180.2 200.5,183.2 200.7,179.7 201,181.3 201.8,184 201.3,187 201.7,189.1 201.4,184.8 201.8,187.8 202.6,187.6 202.5,193.8 202.6,193.8 202.9,191 202.8,190.8 203,193.5 202.7,196.6 202.8,193.2 203.2,195.5 203.4,195.8 203.4,197.4 203.9,198.6 204.3,196.6 204,198.4 203.7,194.4 203.9,199.6 204.5,203.3 204.6,197.1 204.5,200.3 204.7,203.8 205,200.3 204.8,196.2 205,204.2 204.9,198.6 204.6,207.1 205.2,202.7 205.3,202.5 205.5,205 205.4,205.8 205.7,208.5 205.8,209.2 205.7,208.3 205.7,213.2 205.9,212.2 206.2,211.1 206.4,211.5 206.8,213.3 206.4,213.3 206.7,217.8 206.9,217.3 206.5,217.3 207,218.9 206.9,216.3 207,219.9 207.4,220.5 207.2,215.7 207.5,218.8 207.2,224.6 207.5,217.5 207.3,222.6 207.5,218.3 208.4,223.1 207.7,220.8 207.7,222.5 207.7,224.3 207.7,225.5 208.4,228.9 207.8,229.9 208.6,231.2 208,231 208.5,234.6 208.2,233.5 208.1,232.3 208.3,229 209.1,234.6 209.1,235 209.1,233.2 210.5,235.4 210.2,235.1 210.8,231.8 211.6,233.9 211.3,234.2 212,235 212.6,234.1 213.1,234.9 213.5,238.5 213.5,241.3 214.4,244.4 214.5,238.4 215,236.2 215.2,238.2 216.1,237.9 215.7,239.7 215.8,241.7 215.8,239.9 216.1,244.6 215.8,246.2 216.2,249.9 216.3,250 216.8,249.4 216.4,253.4 216.6,246.3 216.7,248.8 217.1,248.8 217.4,249.2 217.1,252.1 217.2,248.8 217.6,253 217.3,253.6 217.5,251.8 217.3,253.3 217.5,250.7 217.5,247.4 218.3,253.9 218,253.6 218.1,254.2 217.8,251.1 218.2,254.2 218.1,260.1 218.2,258.1 218.1,258.9 218.4,256.7 219.3,259.8 218.6,261.9 219,262 219.1,259 219.1,262.4 219.3,260.4 218.9,262.3 219.7,265.7 220.1,264.5 220,266.8 220.2,270.4 220.6,268.1 220.9,270.8 221.8,269.7 222.3,267 223,270.1 222.6,269.6 223.6,265 224,267.3 223.9,270.7 223.9,276.9 224.3,273 224.9,275 224.1,276.7 224.4,278.1 224.5,275.8 224.7,280.4 225.2,279.6 224.9,271.2 224.5,280 224.9,280.3 225,280.8 225.5,280.2 225.6,284.1 225.4,288 225.9,287.7 225.4,287.9 225.9,287.5 226.4,286.3 225.8,286.4 226.4,280.8 226.7,290 226.4,287.4 226.7,288 226.4,289 226.9,289.6 226.7,283.6 226.9,289.7 227.3,287.7 227.2,288.3 227.1,286.4 227.5,287.6 227.5,295.3 227.5,293.3 227.3,296.3 227.9,296.9 228.3,294.6 228,297.1 228.1,295.6 228.3,297.7 228.6,293.7 228.3,297.6 229,300.6 229.5,301.6 229.3,302.4 229.4,302.5 229.7,300.5 229.9,305.6 229.9,305.5 230.2,305.2 230.3,301.1 230.7,306.1 231.2,308.8 231,308.6 231.6,306.4 231.1,308.3 231.7,308.1 231.5,308.8 231.9,310.3 232.1,310.8 231.8,311.2 232.4,312.9 232.8,310.7 232.9,310.5 232.7,312.6 232.9,310.5 233.6,314.1 233.4,309.6 234.3,316.9 234.1,315.1 234.3,320.4 234.3,312.3 234.3,314.3 234.8,322.7 234.8,320.6 235.5,322.1 235.3,323.3 235.5,324.2 235.9,324.5 236,322.6 235.5,323.6 236.6,328.4 236,327.3 236.3,325.3 236.6,327.6 236.7,330.4 237.5,327.1 237.2,328.2 237.1,329.8 237.5,331.7 237.6,334.5 237.8,332 238.2,334.8 238.4,337.2 238.4,330.7 238.4,335.9 239.2,336.7 240.2,336.2 240.6,335 241,339 241.9,340.6 241.8,338.2 242.6,336.3 243.4,336.7 244,341.5 244.8,341.9 245.1,337.9 245.8,334 246.4,332.4 246.7,335.2 247.5,335.7 248.5,338 248.9,335.9 249.2,336.7 249.9,337.7 250.9,331.3 251.5,339.9 252.2,335.4 252.6,334.6 252.7,330.7 253.1,331.7 253.1,336.2 254.2,337.2 254.6,330.1 255.3,339.2 254.9,337.1 255.9,335.9 256.1,331.6 256.3,336.5 256.8,335.9 256.8,339.7 257.5,343.8 257.7,339.6 258.1,341.9 258.6,339 258.7,338.1 259.3,340.8 259.2,342.8 259.6,345.7 259.9,343.2 260.3,344.1 260.7,342.2 261.1,339.6 261.1,345.8 261.3,347.9 261.9,346.8 262.5,348.9 262.6,345.8 262.2,350.2 263,354.7 263.2,351.8 263.7,352.9 264.6,353.4 265.1,350.6 265.7,351.6 265.9,349.6 267,358.8 267.4,351.6 268.3,347.9 269.2,345.9 269.4,352.2 270.2,350.4 270.9,350.3 270.6,345.2 271.1,346.9 271.2,344.5 271.7,349.5 272,345.4 272.2,351.3 272.9,348.4 273,345.1 273.1,348.8 273.6,339.5 274.1,342.1 273.8,343.4 274.1,346.5 274.5,345.1 274.9,342.2 274.4,335.8 275.1,338.1 276,336 275.5,342.2 276.2,338.7 276.4,342.4 276.2,345.6 276.7,341.7 276.3,344.4 276,343.2 276.5,345.1 277.1,346.1 277.5,346.8 277.2,348.4 276.8,347.6 277.3,352.5 277,347.2 277.6,349.3 278.2,347 277.7,343.5 277.8,352.3 278.1,351.5 278.3,348.7 278.6,350.8 278.7,350.2 279,355.6 278.7,359.1 279.4,358.9 279.4,351.7 279.2,351.9 279.4,357.1 279.5,361.2 279.4,357.9 280.5,361.2 280.2,355.4 280.2,360.7 280.5,361.1 280.3,359.8 280.4,360.4 280.9,362.4 280.4,361.4 280.5,361.4 280.4,368.4 280.7,368.3 281.3,366 281,370.4 281.6,367.4 281.2,369.9 281.4,370.1 281.2,370.6 281.8,369.3 282.2,372.4 281.7,372.5 281.5,378.9 281.9,374.8 282.2,371.5 281.9,381.2 282.7,371.1 282,381.2 282.6,375.1 282.9,378.8 282.7,377.2 283,379 282.9,379.3 282.8,380.2 282.9,382 283.6,378.9 282.7,384 283.3,380.9 283.2,383.3 283.4,384.5 283.8,386.7 283.4,390.5 283.4,384.8 284.2,384.7 284.3,385 284.1,386.5 284,389.4 284,386.9 284.5,389.6 284.6,390.8 284.7,391.3 284.9,387.2 284.8,395.7 285.1,395.9 285,391.3 285.2,394.9 285.2,393.6 285.4,398.5 285.2,398.4 285.5,405.2 285.3,398.2 285.9,397.4 285.7,399.1 285.7,398.1 285.8,402.4 285.9,403.5 285.9,405.4 286.4,405.5 286.5,403.7 286.7,408 286.4,405.8 286.7,406.6 286.2,402.6 287,404.1 286.6,405.8 287.3,406.3 287.2,402.2 287.7,409.9 287.4,407.3 287.1,411.7 288,412.7 287.8,415 287.9,413.9 288.1,414.4 287.8,411.6 287.3,413.8 287.9,418 287.9,410.6 288.3,414.5 288.1,418 288.4,421.8 288.2,417.3 288.8,419.3 288.7,421.7 288.5,429.6 289.1,421.1 289.2,422 289.1,425.3 288.9,422.1 289.2,425.4 289.2,425.3 289.1,423.6 289.3,427.1 289.4,431.9 289.1,427.4 289.5,426.9 289.3,426.5 289.7,430.5 289.7,433.4 290.1,432.4 289.8,433.3 290,439.6" fill="none" stroke="#2ca02c" stroke-width="4.4" stroke-linejoin="round" stroke-linecap="square"/>
<polyline points="159.4,37.4 160,37.9 160.6,37.1 160.5,39.2 160.4,45.7 160.9,39.4 160.7,46.3 160.8,46.6 160.2,42.4 160.1,41.5 161,46.2 160.8,49.1 160.3,52.1 160.8,49.5 160.7,51.3 160.5,47.7 160.7,46.5 161.2,44.5 160.6,47.4 160.9,50.6 160.6,52.6 160.5,48.5 161.5,53.6 161.1,53 160.8,52.8 160.9,54.4 160.9,61.5 160.7,57.5 161.1,54.7 161.2,56.7 160.9,62.8 161,58.1 160.8,64.5 161.2,64.8 160.6,54.9 161.1,64 161.5,59.9 161.1,59.1 161.8,61.3 161,64.2 161.2,64.5 161.3,66.8 161.5,64.5 161.6,69.9 161.4,72.9 161,73.5 161.7,71.7 162,75.7 162.5,76.5 162.4,71.9 163.3,72.2 163.6,70.3 164.4,70.6 165,72.6 164.9,65.7 165.5,71.4 166,75.1 166.3,69.8 167,71.4 167.1,79.6 166.8,74.2 166.9,77 167.2,80.7 166.8,77.2 167.4,76.3 167.6,77 167.7,77.8 167.3,78.5 168,83.1 168.2,87.1 167.5,85.3 168.2,89 168.2,87.3 168.2,89.4 167.9,88.2 168.4,87.1 167.9,91 168.3,93.8 168.5,89.7 168.5,93.6 168.4,92.4 168.7,92 168.6,90.3 168.8,85.7 168.6,97.4 168.6,93.8 168.8,89.4 168.7,95.5 169.4,92.3 169.8,96.5 169.4,93.4 169.6,97.6 169.1,97.1 169.4,98.1 169.3,98.7 169.7,102.2 169.7,95.7 169.5,102.7 170.2,101.9 170,99.7 170.3,102 170.5,101.8 170.7,102.7 170.8,105.7 170.6,104 170.7,108.9 170.7,109.8 170.7,109 171.5,112.7 171.1,109.2 171.6,110.2 171.2,115.1 171.4,111.2 171.9,110 171.7,111.2 171.7,112.8 172.4,110.6 171.8,112 172.1,108.4 172.5,109 172.8,110 172.6,110.9 172.5,113.6 173.4,116.5 173,114.5 172.9,115.1 173.2,118.8 173.6,119.2 172.7,115.2 173.2,119.8 173.7,118 173.7,121 173.7,121.7 173.7,126.2 174,123.1 174.2,125.5 173.8,127.3 174,129.9 174.3,131.9 174.1,126.4 174,132.3 174.3,130 174.2,132.5 174.6,134.1 174.8,130.2 174.5,132.7 174.7,134.3 174.9,136.7 175.1,140.1 175.2,135.9 175.1,132.6 175.2,140.6 175.5,132 175.5,136.3 175.7,137.6 175.6,134.1 176.1,140.6 176.4,141.5 176.5,140.9 176.5,143.1 176.6,143.4 177.4,139.5 177.6,146.4 177.7,143.7 177.7,145.5 178.1,149.5 178.4,150.7 178.8,147.2 178.9,151.7 178.9,154.3 179.2,150.8 179.3,149.2 180.2,150.9 179.9,149.9 180.6,149 180.6,153.3 181.2,154.7 180.6,151.3 181.2,151.4 181,152.3 181.2,152.9 181.4,151.5 181.4,151.2 181.7,156.6 182,155 182.6,157.2 182.3,162.6 182.2,156.4 182.8,159.3 183.2,156.2 182.4,157.6 183.3,162.2 183,160.5 183.1,158.5 183.8,158.4 184.2,164.3 184.4,162.3 184.2,167.6 184.2,169.3 184.6,167.8 185.3,168.6 185.9,170 186.5,170 186.8,167.4 187.4,171.4 187.8,169 188.1,169.4 188.9,172.3 189.7,172.4 190,174.1 189.9,172.3 191.2,172 191.2,173.4 192.5,175.1 193,173 193.1,173.8 193.9,174 193.5,174.5 193.8,176.4 193.9,182.7 194.3,177.3 194.3,179.4 194.5,179.3 194.6,180.2 195.1,180.5 194.9,186.5 194.9,182.7 195.2,186.1 195.4,185 195.6,182.2 195.4,183.3 195.6,184.5 195.8,182.4 195.8,188.8 195.8,187.7 196.2,187.3 195.8,184.1 196.5,187.4 196.4,186 196.8,193.2 197,188.1 197.6,188.7 197.8,189.6 197.9,188.1 197.5,189.1 197.4,191 197.8,196.6 197.5,192.1 197.8,194.9 197.7,196.4 197.9,195 198.2,193.2 197.9,194.2 198.3,196.7 198.3,196.8 198.4,203.1 198.6,201.6 198.4,202 198.6,200.6 198.6,205.1 198.4,204.9 199.2,202.9 199.1,202.9 199.2,210.6 198.9,204.3 198.8,204.1 199.3,209.8 199.1,207.3 199.8,205.2 199.9,209.6 199.5,202.7 200,205.7 199.9,203.8 199.8,212.4 199.5,209.4 200.1,215.2 200.3,211.6 200.3,214.2 200,211.2 200.2,211.9 200.3,213.4 200.3,217.7 200.2,215.1 200.7,210.8 200.6,220.2 200.4,219.4 200.7,217.1 200.9,221.7 200.8,223.7 200.8,224.7 201,220 200.7,223.5 201.1,223 200.8,228.1 201.1,226.5 201.4,225 201,227.1 201.5,228.8 201.4,223.3 201.6,224.4 201,227.2 200.5,227.5 201.2,228 202,225.9 201.6,226.9 201.6,231.3 201.7,234 201.9,231.8 201.8,236.3 202.4,240 201.9,234.5 201.6,235.7 201.7,234.6 202,239.2 202.1,239.2 202.4,240.4 202.5,239.2 202.5,242.5 202.1,244.1 202.5,244.1 202.3,247.9 202.5,240.5 202.3,247.3 202.9,245.8 203,249.6 202.8,251.3 202.5,247.7 203.1,247.3 203,248.3 202.7,253 203.2,254.5 203.4,252.8 203.4,254.6 202.9,258.2 203.6,255.7 203.8,250.1 203.5,253.1 204,253.7 203.9,256 204.1,254.6 203.6,259.4 204,255.2 204.3,258.9 203.9,253.8 204.4,258.8 204.9,256.6 204.2,261.2 205,263.2 204.9,263.6 204.6,262.9 204.7,260.3 204.7,261.7 205.1,256.9 204.5,268.6 205.3,269.4 204.9,269.1 205.2,264.3 205.3,274.7 205.6,266.5 205.3,270 205.4,263.8 206,266.9 206.1,272.5 205.8,273.4 205.8,268.4 206,271.8 206.1,275.6 206.1,268.7 205.9,277.9 205.7,272.2 206.4,277.4 206.4,276.1 206.7,281.1 206.8,277.6 207,279.6 206.6,279.2 206.9,278 206.5,280.2 207,278.8 207.1,280.7 206.9,284.4 207.1,282.4 207.8,285.8 207.1,286.2 207.6,287.3 207.3,283.4 207.7,288.8 207,292.3 207.3,291.7 207.7,294.2 208.2,294.9 207.8,286.7 207.6,292.1 207.9,291.8 208.3,290.7 207.8,288.6 208.3,293.1 208.3,293.4 208.2,299.9 208.5,299.3 208.2,295.8 208.6,294.7 208.7,295.4 209,298.1 208.7,297 208.6,303.5 208.4,296.2 208.6,300.3 208.4,301.7 209.1,302.5 208.3,300.2 209,303.1 209,304 209.1,306.4 208.9,305.7 209.6,306.7 209,309.4 208.7,314.2 209,307.4 209,311.8 209.6,314.2 209.3,307.3 209.1,314.9 209.2,315.1 209.4,311.3 209.3,313.5 209.5,316.1 209.8,312.7 209.3,315.8 209.5,314.3 209.7,315.6 209.4,318.2 209.9,316.9 210.1,322.4 209.9,319.4 210.1,317 209.9,322.2 210,322.6 210.1,322.6 210.1,322.8 210.4,321 210.1,321.8 210.6,328.2 210.5,327.2 211.2,325.9 211.4,327.7 211.3,325.7 211.1,323.9 211.4,326.3 211.2,328.6 212.3,326.4 212.2,327.1 212.3,326.3 212.7,330.2 212.6,333.4 213,329.3 213.4,330.3 213.8,330.8 214.3,334.3 213.8,334.1 214.4,334.3 214.2,333.8 214.3,343.3 214.9,337.1 215,335.5 214.9,336 215.4,338.7 216.1,340.4 215.6,340.9 215.7,336.6 216.3,345.1 216.2,345.6 216.1,344.7 216.6,345.1 216.4,343.9 216.5,346.3 216.9,342.9 216.7,348 217.3,345.3 217.6,346.1 217.2,345.9 217.3,345.8 217.4,347.1 217.7,351 217.7,353.2 218,349.4 218.3,348.8 218,353.9 218.4,350.8 218.8,354.1 218.9,355 218.6,358.3 219.2,353.8 218.8,359.8 219.4,359.6 218.9,352.7 219.6,357.4 219.5,358.6 219.6,361.1 219.7,360.2 219.7,359.8 220.2,363.3 220.2,364.1 220.5,364.1 220.3,365.5 220.8,373.1 221,368.3 220.6,364.2 221.3,366.1 221.5,367.3 220.9,363.5 221.1,366.3 222,366 221.6,362.4 221.5,368.2 221.4,369.9 221.9,371.1 221.7,370.3 222,371 222.1,373.2 222.2,374.4 222.4,376.9 222.2,378.3 222.5,378.8 222.6,376.8 222.5,378.6 222.5,375.6 222.8,381.4 223.2,381.9 222.9,382.4 222.9,380.5 223.2,383.4 223.1,378.2 223.3,381.2 223.3,380.3 223.3,381.5 223.6,378.4 223.4,382.1 223.5,380.2 223.4,385 223.7,384.6 224,386.8 224.3,383.5 224.9,387 224.2,388.6 224.2,384.9 224.9,395.4 224.1,391.9 224.8,389 224.7,397.9 225.1,395.9 224.8,388.2 224.9,393.3 224.5,393.3 224.9,396.5 225.1,393.8 225,397 225,396.6 225.5,391.1 225,397.8 225,402.1 225.1,400.4 225.3,404.5 225.3,407 225.5,403.9 225.5,404 226.1,405 225.6,403.1 225.8,408.8 226.1,403.5 226.5,404.5 226,406.3 226,408.7 226.4,402.9 226.1,403.4 225.9,407.5 226,408.5 226.3,405.7 226.2,406.2 226.8,413.6 226.7,414.4 227.1,412.2 226.8,412.7 226.7,412.6 227.1,412.4 227.1,414.4 226.8,416.8 227.5,415.8 227.2,420 227.4,415.1 227.1,415.7 227.6,422.2 228,420.4 227.4,422.8 227.3,423 227.6,420.1 227.7,420.4 227.9,424.6 227.4,417.9 228.1,427.3 228,422.9 228,430.4 227.8,428.5 228.2,429.8 228.5,430.3 228.5,430.1 228.5,426.4 228.5,433.3" fill="none" stroke="#d62728" stroke-width="4.4" stroke-linejoin="round" stroke-linecap="square"/>
</g>
<rect x="159.4" y="21.4" width="413.9" height="403.4" fill="none" stroke="#000" stroke-width="2.2" stroke-linejoin="miter"/>
<path d="M159.4 424.8v10.0M262.9 424.8v10.0M366.4 424.8v10.0M469.8 424.8v10.0M573.3 424.8v10.0" stroke="#000" stroke-width="2.2"/>
<text transform="translate(159.4 463.3) scale(1 1.06)" y="10.2" text-anchor="middle" font-size="29.2">0.0</text>
<text transform="translate(262.9 463.3) scale(1 1.06)" y="10.2" text-anchor="middle" font-size="29.2">2.5</text>
<text transform="translate(366.4 463.3) scale(1 1.06)" y="10.2" text-anchor="middle" font-size="29.2">5.0</text>
<text transform="translate(469.8 463.3) scale(1 1.06)" y="10.2" text-anchor="middle" font-size="29.2">7.5</text>
<text transform="translate(573.3 463.3) scale(1 1.06)" y="10.2" text-anchor="middle" font-size="29.2">10.0</text>
<path d="M159.4 40.9h-10.0M159.4 136.9h-10.0M159.4 232.9h-10.0M159.4 328.8h-10.0M159.4 424.8h-10.0" stroke="#000" stroke-width="2.2"/>
<text transform="translate(133 41.5) scale(1 1.06)" y="10.2" text-anchor="end" font-size="29.2">0.0</text>
<text transform="translate(133 137.5) scale(1 1.06)" y="10.2" text-anchor="end" font-size="29.2">−0.5</text>
<text transform="translate(133 233.5) scale(1 1.06)" y="10.2" text-anchor="end" font-size="29.2">−1.0</text>
<text transform="translate(133 329.4) scale(1 1.06)" y="10.2" text-anchor="end" font-size="29.2">−1.5</text>
<text transform="translate(133 425.4) scale(1 1.06)" y="10.2" text-anchor="end" font-size="29.2">−2.0</text>
<text x="366.4" y="520.5" text-anchor="middle" font-size="29.2">time (s)</text>
<text transform="translate(41 223.1) rotate(-90)" text-anchor="middle" font-size="29.2">angle (rad)</text>
<rect x="355.7" y="183.9" width="202.8" height="225.4" rx="5.5" fill="#fff" fill-opacity="0.8" stroke="#cccccc" stroke-width="2.6"/>
<text x="375.8" y="217.1" font-size="29.2">Power (a.u.)</text>
<path d="M370.7 250.2H434.8" stroke="#1f77b4" stroke-width="4.4"/>
<text transform="translate(450.2 249.9) scale(1 1.06)" y="10.2" font-size="29.2">0.003</text>
<path d="M370.7 293.9H434.8" stroke="#ff7f0e" stroke-width="4.4"/>
<text transform="translate(450.2 293.6) scale(1 1.06)" y="10.2" font-size="29.2">0.006</text>
<path d="M370.7 337.6H434.8" stroke="#2ca02c" stroke-width="4.4"/>
<text transform="translate(450.2 337.3) scale(1 1.06)" y="10.2" font-size="29.2">0.012</text>
<path d="M370.7 381.3H434.8" stroke="#d62728" stroke-width="4.4"/>
<text transform="translate(450.2 381) scale(1 1.06)" y="10.2" font-size="29.2">0.019</text>
<g clip-path="url(#clipb)">
<polyline points="826.2,26.9 827.8,26.7 829.4,26.8 831,26.9 832.6,26.9 834.2,27 835.8,27 837.4,26.7 839,26.7 840.6,27.1 842.2,27 843.8,27.1 845.4,26.8 847,27.2 848.6,27.1 850.2,26.9 851.8,26.9 853.4,26.9 855,26.8 856.7,26.8 858.3,26.7 859.9,27 861.5,26.9 863.1,26.8 864.7,26.9 866.3,26.6 867.9,26.9 869.5,26.8 871.1,26.8 872.7,26.8 874.3,26.6 875.9,26.8 877.5,26.7 879.1,26.6 880.7,26.6 882.3,26.7 883.9,26.7 885.5,26.5 887.1,26.4 888.7,26.6 890.3,26.4 891.9,26.8 893.5,26.5 895.1,26.5 896.7,26.4 898.3,26.6 899.9,26.6 901.5,26.4 903.1,26.5 904.7,26.6 906.3,26.4 907.9,26.3 909.5,26.3 911.1,26.2 912.7,26.3 914.3,26.3 916,26.3 917.6,26.5 919.2,26.3 920.8,26.5 922.4,27 924,26.9 925.6,26.8 927.2,26.8 928.8,27.1 930.4,26.9 932,26.9 933.6,26.7 935.2,26.9 936.8,26.8 938.4,26.8 940,26.9 941.6,27 943.2,26.9 944.8,27.1 946.4,26.8 948,26.8 949.6,27 951.2,26.9 952.8,27 954.4,26.9 956,26.9 957.6,26.9 959.2,26.5 960.8,26.6 962.4,26.6 964,26.4 965.6,26.6 967.2,26.5 968.8,26.4 970.4,26.6 972,26.7 973.6,26.6 975.3,26.5 976.9,26.5 978.5,26.5 980.1,26.5 981.7,26.5 983.3,26.5 984.9,26.5 986.5,26.5 988.1,26.5 989.7,26.4 991.3,26.4 992.9,26.5 994.5,26.6 996.1,26.6 997.7,26.2 999.3,26.3 1000.9,26.7 1002.5,26.7 1004.1,26.9 1005.7,26.8 1007.3,26.7 1008.9,26.7 1010.5,26.4 1012.1,26.7 1013.7,26.6 1015.3,26.7 1016.9,26.7 1018.5,26.9 1020.1,26.9 1021.7,26.7 1023.3,26.7 1024.9,26.6 1026.5,26.6 1028.1,26.9 1029.7,26.7 1031.3,26.8 1032.9,26.8 1034.6,26.9 1036.2,26.9 1037.8,26.7 1039.4,26.9 1041,27.1 1042.6,27 1044.2,27.1 1045.8,27 1047.4,27.2 1049,27 1050.6,27.3 1052.2,27.1 1053.8,27 1055.4,27.5 1057,27.4 1058.6,27.3 1060.2,27.4 1061.8,27.4 1063.4,27.4 1065,27.6 1066.6,27.6 1068.2,27.5 1069.8,27.4 1071.4,27.3 1073,27.4 1074.6,27.6 1076.2,27.6 1077.8,27.4 1079.4,27.3 1081,27.5 1082.6,27.5 1084.2,27.5 1085.8,27.3 1087.4,27.4 1089,27.3 1090.6,27.4 1092.2,27.2 1093.9,27.5 1095.5,27.3 1097.1,27.4 1098.7,27.3 1100.3,27.4 1101.9,27.6 1103.5,27.4 1105.1,27.5 1106.7,27.5 1108.3,27.3 1109.9,27.5 1111.5,27.4 1113.1,27.6 1114.7,27.5 1116.3,27.6 1117.9,27.9 1119.5,27.8 1121.1,27.8 1122.7,27.7 1124.3,27.7 1125.9,27.8 1127.5,27.8 1129.1,27.8 1130.7,27.9 1132.3,27.8 1133.9,27.9 1135.5,27.7 1137.1,27.9 1138.7,28 1140.3,28 1141.9,28 1143.5,28.1 1145.1,27.9 1146.7,27.9 1148.3,28 1149.9,27.8 1151.5,28.1 1153.2,28 1154.8,27.9 1156.4,28 1158,28.2 1159.6,28 1161.2,28 1162.8,28.1 1164.4,28 1166,28.1 1167.6,28.5 1169.2,28.4 1170.8,28.4 1172.4,28.4 1174,28.2 1175.6,28.4 1177.2,28.2 1178.8,28.6 1180.4,28.4 1182,28.6 1183.6,28.7 1185.2,28.6 1186.8,28.8 1188.4,28.7 1190,28.7 1191.6,28.9 1193.2,28.4 1194.8,28.3 1196.4,28.7 1198,28.7 1199.6,28.8 1201.2,28.6 1202.8,28.6 1204.4,28.4 1206,28.7 1207.6,28.7 1209.2,28.4 1210.8,28.4 1212.5,28.6 1214.1,28.7 1215.7,28.4 1217.3,28.7 1218.9,28.7 1220.5,28.6 1222.1,28.7 1223.7,28.7 1225.3,28.5 1226.9,28.6 1228.5,28.5 1230.1,28.4 1231.7,28.6 1233.3,28.7 1234.9,28.4 1236.5,28.4 1238.1,28.5 1239.7,29 1241.3,28.8" fill="none" stroke="#1f77b4" stroke-width="4.4" stroke-linejoin="round" stroke-linecap="square"/>
<polyline points="826.2,26.8 827.8,26.8 829.4,27 831,26.8 832.6,26.9 834.2,27.2 835.8,26.8 837.4,26.8 839,27 840.6,26.8 842.2,26.8 843.8,27.3 845.4,27.4 847,27.5 848.6,27.7 850.2,27.7 851.8,27.5 853.4,27.7 855,27.7 856.7,27.9 858.3,27.8 859.9,27.7 861.5,27.9 863.1,28.3 864.7,27.8 866.3,28.1 867.9,28 869.5,28.1 871.1,28.1 872.7,28.5 874.3,28.5 875.9,28.4 877.5,28.4 879.1,28.6 880.7,28.8 882.3,28.9 883.9,29.1 885.5,28.9 887.1,29 888.7,28.8 890.3,28.9 891.9,29 893.5,28.8 895.1,28.7 896.7,28.6 898.3,28.9 899.9,29.1 901.5,29.1 903.1,28.9 904.7,29 906.3,29.1 907.9,29.2 909.5,29.2 911.1,29.4 912.7,29.4 914.3,29.4 916,29.2 917.6,29.5 919.2,29.4 920.8,29.5 922.4,29.5 924,29.4 925.6,29.5 927.2,29.5 928.8,29.8 930.4,29.6 932,29.4 933.6,29.8 935.2,29.9 936.8,29.9 938.4,29.9 940,30.1 941.6,30.2 943.2,30.2 944.8,30.1 946.4,30.3 948,30.1 949.6,30.2 951.2,30.5 952.8,30.4 954.4,30.7 956,31.1 957.6,30.9 959.2,30.8 960.8,30.6 962.4,30.8 964,30.7 965.6,30.7 967.2,31 968.8,31 970.4,31.3 972,31.5 973.6,31.3 975.3,31.4 976.9,31.5 978.5,31.6 980.1,31.7 981.7,31.9 983.3,32.1 984.9,31.8 986.5,31.8 988.1,31.8 989.7,31.9 991.3,32.1 992.9,32.3 994.5,32.5 996.1,32.7 997.7,32.7 999.3,32.9 1000.9,32.9 1002.5,33.1 1004.1,32.7 1005.7,33.3 1007.3,33 1008.9,33 1010.5,33.4 1012.1,33.5 1013.7,33.7 1015.3,33.6 1016.9,33.7 1018.5,33.9 1020.1,33.8 1021.7,34 1023.3,34.2 1024.9,34.2 1026.5,34.2 1028.1,34.4 1029.7,34.6 1031.3,34.4 1032.9,34.4 1034.6,34.7 1036.2,34.6 1037.8,34.6 1039.4,34.8 1041,34.7 1042.6,35.1 1044.2,35 1045.8,35 1047.4,35.1 1049,35.1 1050.6,35.5 1052.2,35.5 1053.8,35.4 1055.4,35.8 1057,35.8 1058.6,35.4 1060.2,35.2 1061.8,35.8 1063.4,35.7 1065,35.7 1066.6,35.7 1068.2,36 1069.8,36 1071.4,36 1073,35.9 1074.6,36 1076.2,36.2 1077.8,36 1079.4,36.4 1081,36.3 1082.6,36.3 1084.2,36.3 1085.8,36.5 1087.4,36.6 1089,36.7 1090.6,36.4 1092.2,36.4 1093.9,36.5 1095.5,36.4 1097.1,36.5 1098.7,36.4 1100.3,36.5 1101.9,36.6 1103.5,36.8 1105.1,36.8 1106.7,37 1108.3,37 1109.9,36.7 1111.5,36.9 1113.1,36.9 1114.7,37 1116.3,36.9 1117.9,37.2 1119.5,37.3 1121.1,37.4 1122.7,37.6 1124.3,37.7 1125.9,37.4 1127.5,37.4 1129.1,37.6 1130.7,37.5 1132.3,37.7 1133.9,37.8 1135.5,37.9 1137.1,37.8 1138.7,38.1 1140.3,38 1141.9,38.2 1143.5,38 1145.1,38.2 1146.7,38.3 1148.3,38.2 1149.9,38.2 1151.5,38.7 1153.2,38.7 1154.8,38.6 1156.4,38.7 1158,38.8 1159.6,39 1161.2,39 1162.8,39.1 1164.4,39.1 1166,39.2 1167.6,39.4 1169.2,39.3 1170.8,39.4 1172.4,39.2 1174,39.4 1175.6,39.7 1177.2,39.7 1178.8,39.9 1180.4,40 1182,40 1183.6,40.3 1185.2,40.1 1186.8,40.2 1188.4,40.2 1190,40 1191.6,40.1 1193.2,40.4 1194.8,40.3 1196.4,40.6 1198,40.5 1199.6,40.7 1201.2,40.9 1202.8,40.9 1204.4,41.1 1206,40.8 1207.6,41.1 1209.2,41.1 1210.8,41.2 1212.5,41.2 1214.1,41.3 1215.7,41.3 1217.3,41.3 1218.9,41.6 1220.5,41.6 1222.1,41.7 1223.7,41.7 1225.3,41.7 1226.9,41.7 1228.5,41.9 1230.1,42 1231.7,42 1233.3,42.3 1234.9,42.1 1236.5,42 1238.1,41.9 1239.7,41.9 1241.3,42.1" fill="none" stroke="#ff7f0e" stroke-width="4.4" stroke-linejoin="round" stroke-linecap="square"/>
<polyline points="826.2,26.9 827.8,27.3 829.4,27.6 831,27.6 832.6,27.9 834.2,28.3 835.8,28.6 837.4,29.2 839,29.4 840.6,30 842.2,30 843.8,30.4 845.4,30.7 847,31.1 848.6,31 850.2,31.4 851.8,31.6 853.4,31.9 855,32.6 856.7,32.9 858.3,33.3 859.9,33.4 861.5,33.8 863.1,34 864.7,34.4 866.3,34.6 867.9,35.2 869.5,35.3 871.1,36.1 872.7,36.2 874.3,36.6 875.9,36.8 877.5,37.2 879.1,37.8 880.7,38 882.3,38.1 883.9,38.5 885.5,39 887.1,38.8 888.7,39.6 890.3,40 891.9,40 893.5,40.5 895.1,40.8 896.7,40.9 898.3,41.2 899.9,41.7 901.5,42.2 903.1,42.6 904.7,42.8 906.3,43 907.9,43.3 909.5,43.6 911.1,43.9 912.7,44.4 914.3,44.5 916,45 917.6,45.2 919.2,45.6 920.8,45.9 922.4,46.1 924,46.6 925.6,46.7 927.2,46.9 928.8,47.3 930.4,47.5 932,47.5 933.6,48.1 935.2,48.5 936.8,48.7 938.4,49 940,49.1 941.6,49.5 943.2,49.7 944.8,50 946.4,50.6 948,51.1 949.6,51.6 951.2,51.7 952.8,52 954.4,52.6 956,53 957.6,53.5 959.2,53.7 960.8,53.7 962.4,54.2 964,54.4 965.6,54.6 967.2,55 968.8,55.4 970.4,55.7 972,56 973.6,56.6 975.3,56.9 976.9,57.2 978.5,57.5 980.1,57.6 981.7,57.9 983.3,58.4 984.9,58.8 986.5,58.9 988.1,59.4 989.7,59.8 991.3,60.4 992.9,60.6 994.5,60.9 996.1,61.4 997.7,61.6 999.3,61.7 1000.9,62.2 1002.5,62.3 1004.1,62.7 1005.7,63.1 1007.3,63.6 1008.9,63.7 1010.5,63.9 1012.1,64.4 1013.7,64.8 1015.3,65.1 1016.9,65.4 1018.5,65.8 1020.1,66.1 1021.7,66.3 1023.3,66.4 1024.9,66.9 1026.5,66.8 1028.1,67.4 1029.7,67.9 1031.3,68 1032.9,68.6 1034.6,69 1036.2,69.3 1037.8,69.5 1039.4,69.9 1041,70 1042.6,70.3 1044.2,70.5 1045.8,70.8 1047.4,71.1 1049,71.4 1050.6,71.6 1052.2,72.2 1053.8,72.5 1055.4,73 1057,73.3 1058.6,73.7 1060.2,74.1 1061.8,74.4 1063.4,74.6 1065,75 1066.6,75.2 1068.2,75.7 1069.8,76.2 1071.4,76.3 1073,76.8 1074.6,77.4 1076.2,77.7 1077.8,77.9 1079.4,77.8 1081,78.3 1082.6,78.8 1084.2,78.9 1085.8,79.2 1087.4,79.4 1089,80 1090.6,80.1 1092.2,80.5 1093.9,80.8 1095.5,81.4 1097.1,81.6 1098.7,82 1100.3,82 1101.9,82.7 1103.5,82.8 1105.1,82.8 1106.7,83.2 1108.3,84 1109.9,84.1 1111.5,84.8 1113.1,84.8 1114.7,84.9 1116.3,85.7 1117.9,86 1119.5,86.3 1121.1,86.3 1122.7,86.6 1124.3,87 1125.9,87.1 1127.5,87.2 1129.1,87.9 1130.7,88 1132.3,88.5 1133.9,88.7 1135.5,89 1137.1,89.3 1138.7,89.4 1140.3,90.2 1141.9,90.2 1143.5,90.5 1145.1,91 1146.7,91.2 1148.3,91.6 1149.9,92 1151.5,92.3 1153.2,92.7 1154.8,93.1 1156.4,93.2 1158,93.6 1159.6,93.8 1161.2,94.4 1162.8,94.3 1164.4,94.9 1166,95.1 1167.6,95.4 1169.2,95.7 1170.8,96.1 1172.4,96.5 1174,96.4 1175.6,96.6 1177.2,97 1178.8,97.4 1180.4,97.8 1182,98.2 1183.6,98.6 1185.2,98.7 1186.8,99 1188.4,99.4 1190,99.7 1191.6,100.2 1193.2,100.8 1194.8,100.8 1196.4,100.9 1198,101.1 1199.6,101.8 1201.2,102 1202.8,102.3 1204.4,103 1206,103.2 1207.6,103.2 1209.2,103.6 1210.8,104.1 1212.5,104.4 1214.1,104.5 1215.7,105 1217.3,105.2 1218.9,105.2 1220.5,105.5 1222.1,105.7 1223.7,106.1 1225.3,106.4 1226.9,106.6 1228.5,106.9 1230.1,107.3 1231.7,107.8 1233.3,108.1 1234.9,108.2 1236.5,108.8 1238.1,109.3 1239.7,109.4 1241.3,109.6" fill="none" stroke="#2ca02c" stroke-width="4.4" stroke-linejoin="round" stroke-linecap="square"/>
<polyline points="826.2,27.1 826.8,26.8 827.4,27.3 828,27.4 828.6,28.1 829.2,27.8 829.8,27.4 830.4,28.8 831,29.2 831.5,29.1 832.1,28.9 832.7,28.9 833.3,29.8 833.9,29.5 834.5,30.1 835.1,30.4 835.7,30.3 836.3,29.8 836.9,31 837.5,30.7 838.1,30.9 838.7,31.5 839.3,31.9 839.9,32 840.5,32.6 841,31.8 841.6,33 842.2,33.5 842.8,33.2 843.4,33.4 844,33.7 844.6,34.4 845.2,34 845.8,34.1 846.4,33.9 847,35.1 847.6,35.2 848.2,35 848.8,36 849.4,35.4 850,36.1 850.5,35.6 851.1,36 851.7,36.6 852.3,37 852.9,37.2 853.5,36.8 854.1,37.2 854.7,37.5 855.3,37.6 855.9,38 856.5,38.6 857.1,39 857.7,38.3 858.3,39.5 858.9,39.2 859.5,39.6 860,39.8 860.6,40.3 861.2,40.5 861.8,39.9 862.4,41 863,40.7 863.6,41.6 864.2,41.7 864.8,41.3 865.4,42 866,42.3 866.6,42.4 867.2,43.5 867.8,43.1 868.4,43.2 869,44.2 869.6,43.8 870.1,44 870.7,43.7 871.3,44.9 871.9,45.3 872.5,45.8 873.1,45.1 873.7,46 874.3,46.4 874.9,46.5 875.5,46.5 876.1,45.9 876.7,47 877.3,47.1 877.9,47.1 878.5,48.2 879.1,48.2 879.6,48.7 880.2,49.6 880.8,49 881.4,48.8 882,49 882.6,50.3 883.2,50.1 883.8,50.3 884.4,49.9 885,50.8 885.6,51 886.2,51.5 886.8,51.3 887.4,51.5 888,52.1 888.6,52 889.1,52.8 889.7,51.8 890.3,52.7 890.9,53.7 891.5,53.6 892.1,53.4 892.7,54 893.3,54.2 893.9,54.5 894.5,55.5 895.1,55.2 895.7,55.7 896.3,55.6 896.9,55.9 897.5,55.8 898.1,56.4 898.6,56.8 899.2,56.9 899.8,57.4 900.4,57.6 901,58.2 901.6,58 902.2,58.9 902.8,59 903.4,59.5 904,59.2 904.6,59.9 905.2,59.7 905.8,59.4 906.4,60.2 907,60.3 907.6,60.1 908.2,60.6 908.7,61 909.3,62.2 909.9,61.6 910.5,62.4 911.1,62.5 911.7,62.7 912.3,62.9 912.9,62.3 913.5,63.6 914.1,63 914.7,63.9 915.3,64 915.9,64.8 916.5,65.1 917.1,65.5 917.7,65.1 918.2,65.3 918.8,65.8 919.4,66.6 920,66.2 920.6,66.4 921.2,66.1 921.8,66.5 922.4,66.8 923,67.3 923.6,67.4 924.2,67.5 924.8,67.9 925.4,68.7 926,69 926.6,69.1 927.2,69.3 927.7,69.5 928.3,70 928.9,69.1 929.5,69.5 930.1,70.1 930.7,70.3 931.3,70.8 931.9,69.9 932.5,70.8 933.1,71 933.7,71.1 934.3,71.5 934.9,72.2 935.5,72.2 936.1,72.3 936.7,72.6 937.2,72.7 937.8,73.4 938.4,73.5 939,74.1 939.6,73.9 940.2,74.3 940.8,74.3 941.4,74.8 942,75.3 942.6,74.9 943.2,75.3 943.8,75.7 944.4,75.7 945,76.4 945.6,75.9 946.2,77 946.8,77.6 947.3,78 947.9,77.6 948.5,77.6 949.1,77.7 949.7,78.7 950.3,78.9 950.9,78.8 951.5,79.1 952.1,79.6 952.7,79.5 953.3,79.4 953.9,79.6 954.5,80.2 955.1,80.4 955.7,80.2 956.3,80.9 956.8,80.9 957.4,81.8 958,81.9 958.6,82.4 959.2,82 959.8,82.5 960.4,82.5 961,83.4 961.6,84.6 962.2,83.9 962.8,83.7 963.4,84.1 964,84.2 964.6,84.9 965.2,84.8 965.8,84.7 966.3,84.7 966.9,85.8 967.5,86.2 968.1,86.2 968.7,86.2 969.3,86.6 969.9,86.7 970.5,87.2 971.1,87.3 971.7,88 972.3,87.7 972.9,87.8 973.5,88.8 974.1,88.1 974.7,88.3 975.3,89.5 975.8,89 976.4,89.7 977,88.2 977.6,89.6 978.2,89.6 978.8,89.9 979.4,90.4 980,89.4 980.6,90.5 981.2,91.2 981.8,92.4 982.4,91.4 983,92.7 983.6,92.5 984.2,92.9 984.8,92.4 985.4,93.2 985.9,92.8 986.5,92.9 987.1,94.1 987.7,93.5 988.3,93.9 988.9,94.6 989.5,94.4 990.1,94.5 990.7,95.4 991.3,95.8 991.9,96.5 992.5,95.8 993.1,96.8 993.7,97 994.3,96.9 994.9,97.3 995.4,97.6 996,97.3 996.6,97.3 997.2,98.4 997.8,97.9 998.4,98.1 999,99 999.6,98.9 1000.2,99.2 1000.8,99.1 1001.4,99.3 1002,99.4 1002.6,99.6 1003.2,100.9 1003.8,100.4 1004.4,100.3 1004.9,101 1005.5,101.6 1006.1,101.3 1006.7,101.9 1007.3,101.6 1007.9,101.7 1008.5,102.3 1009.1,102.4 1009.7,103.1 1010.3,103.6 1010.9,103.5 1011.5,104.8 1012.1,103.7 1012.7,104.8 1013.3,104.8 1013.9,105.6 1014.4,105.6 1015,104.8 1015.6,105.7 1016.2,106.4 1016.8,106.3 1017.4,106.1 1018,106.6 1018.6,107.1 1019.2,107.8 1019.8,107.5 1020.4,108 1021,107.9 1021.6,108 1022.2,108.3 1022.8,109.2 1023.4,109.2 1024,109.1 1024.5,109.4 1025.1,109.8 1025.7,109.6 1026.3,109.7 1026.9,109.9 1027.5,110.5 1028.1,110.3 1028.7,110.9 1029.3,110.3 1029.9,110.9 1030.5,111.3 1031.1,111.9 1031.7,111.7 1032.3,112 1032.9,112.6 1033.5,112.7 1034,112.6 1034.6,113 1035.2,113 1035.8,113.9 1036.4,114 1037,114.5 1037.6,115 1038.2,114.8 1038.8,114.9 1039.4,114.8 1040,115.9 1040.6,115.4 1041.2,115.4 1041.8,116.1 1042.4,115.9 1043,116 1043.5,116.6 1044.1,117.2 1044.7,116.8 1045.3,117.2 1045.9,117 1046.5,117.4 1047.1,118.2 1047.7,118 1048.3,118.3 1048.9,118.9 1049.5,118.6 1050.1,119.6 1050.7,118.9 1051.3,119.1 1051.9,119.2 1052.5,119.3 1053.1,120.4 1053.6,120.4 1054.2,121 1054.8,120.5 1055.4,121.2 1056,121.6 1056.6,121.3 1057.2,121.5 1057.8,121.1 1058.4,122.9 1059,122.4 1059.6,122.8 1060.2,122.6 1060.8,123.2 1061.4,123 1062,124 1062.6,124.1 1063.1,124.3 1063.7,124.7 1064.3,124.2 1064.9,125.1 1065.5,125 1066.1,125.9 1066.7,125.8 1067.3,125.7 1067.9,125.9 1068.5,127.3 1069.1,126.4 1069.7,127.5 1070.3,127.4 1070.9,127.8 1071.5,127 1072.1,128.2 1072.6,128 1073.2,128.1 1073.8,128.7 1074.4,128.5 1075,129.3 1075.6,129.2 1076.2,130 1076.8,130.1 1077.4,129.9 1078,129.9 1078.6,130.2 1079.2,130.7 1079.8,130.9 1080.4,132 1081,131.7 1081.6,131.7 1082.1,131.8 1082.7,132 1083.3,132.6 1083.9,132.7 1084.5,132.9 1085.1,133.1 1085.7,133.4 1086.3,133.6 1086.9,134.2 1087.5,134.2 1088.1,134.9 1088.7,134.7 1089.3,135.2 1089.9,135.2 1090.5,135 1091.1,135.4 1091.7,136.1 1092.2,136.6 1092.8,136.9 1093.4,137.2 1094,137.6 1094.6,137.6 1095.2,138 1095.8,138.1 1096.4,138.6 1097,138.7 1097.6,138.7 1098.2,139.1 1098.8,140.1 1099.4,138.8 1100,139.6 1100.6,140 1101.2,140.4 1101.7,140.5 1102.3,141.3 1102.9,140.4 1103.5,141.7 1104.1,140.8 1104.7,141.3 1105.3,142.1 1105.9,142.2 1106.5,142.3 1107.1,142.6 1107.7,142.9 1108.3,143.3 1108.9,143.4 1109.5,143 1110.1,143.5 1110.7,144.5 1111.2,145 1111.8,144.9 1112.4,145.1 1113,145 1113.6,145.8 1114.2,145.1 1114.8,145.3 1115.4,145.3 1116,146.5 1116.6,146.1 1117.2,146.8 1117.8,146.5 1118.4,146.7 1119,147.8 1119.6,147.8 1120.2,148.1 1120.7,148.2 1121.3,148.3 1121.9,148.6 1122.5,148.8 1123.1,149.5 1123.7,150.3 1124.3,150.1 1124.9,149.9 1125.5,150.6 1126.1,150.4 1126.7,150.5 1127.3,151 1127.9,151.3 1128.5,151.2 1129.1,152.5 1129.7,152.9 1130.3,152.6 1130.8,153.4 1131.4,153.2 1132,153.6 1132.6,154.3 1133.2,154.3 1133.8,154.8 1134.4,153.7 1135,155.1 1135.6,155.1 1136.2,155.3 1136.8,155 1137.4,155.5 1138,156.1 1138.6,156.4 1139.2,156.7 1139.8,156.8 1140.3,157.1 1140.9,157.1 1141.5,157 1142.1,157.1 1142.7,157.4 1143.3,157.3 1143.9,157.5 1144.5,157.9 1145.1,157.4 1145.7,158 1146.3,158.3 1146.9,158.8 1147.5,159.1 1148.1,159.2 1148.7,159.2 1149.3,159.3 1149.8,160 1150.4,160 1151,159.8 1151.6,160.1 1152.2,160.5 1152.8,160.9 1153.4,160.7 1154,161.6 1154.6,161.8 1155.2,161.4 1155.8,161.8 1156.4,161.8 1157,162 1157.6,162.6 1158.2,163.4 1158.8,163.7 1159.3,163.6 1159.9,163.7 1160.5,163.7 1161.1,164.3 1161.7,164.3 1162.3,164.9 1162.9,164.7 1163.5,164.9 1164.1,165 1164.7,166 1165.3,166 1165.9,165.8 1166.5,165.7 1167.1,166.6 1167.7,166.8 1168.3,166.3 1168.9,166.9 1169.4,167.7 1170,167.2 1170.6,167.2 1171.2,167.9 1171.8,168.7 1172.4,168.2 1173,168.3 1173.6,168.6 1174.2,169 1174.8,169.6 1175.4,169.5 1176,168.8 1176.6,170.1 1177.2,170.5 1177.8,171 1178.4,171.1 1178.9,171.2 1179.5,171.7 1180.1,171.5 1180.7,171.4 1181.3,172.1 1181.9,172 1182.5,173.3 1183.1,172.9 1183.7,173.8 1184.3,173 1184.9,173.3 1185.5,174.2 1186.1,173.8 1186.7,174.4 1187.3,174.1 1187.9,175.1 1188.4,174.6 1189,175.5 1189.6,175.1 1190.2,176.1 1190.8,176.7 1191.4,176.5 1192,176.3 1192.6,177 1193.2,177.3 1193.8,177.4 1194.4,178 1195,178.4 1195.6,178.1 1196.2,178 1196.8,178.2 1197.4,178.7 1197.9,178.9 1198.5,179.1 1199.1,179.7 1199.7,180.5 1200.3,179.8 1200.9,180.1 1201.5,180.3 1202.1,180.1 1202.7,181.2 1203.3,181 1203.9,181.5 1204.5,181 1205.1,182.2 1205.7,182.2 1206.3,182 1206.9,183 1207.5,183.2 1208,183.1 1208.6,183.7 1209.2,183.5 1209.8,184.5 1210.4,184.4 1211,185.1 1211.6,185.5 1212.2,185.7 1212.8,185.4 1213.4,186.1 1214,186.4 1214.6,187 1215.2,186.7 1215.8,187.4 1216.4,187.5 1217,187.6 1217.5,188.4 1218.1,188.1 1218.7,187.9 1219.3,188.2 1219.9,188.2 1220.5,188.3 1221.1,188.8 1221.7,189.1 1222.3,189.9 1222.9,189.8 1223.5,189 1224.1,190.1 1224.7,190.2 1225.3,190.7 1225.9,191.2 1226.5,191.4 1227,191.9 1227.6,191.8 1228.2,192.7 1228.8,192.3 1229.4,193.1 1230,192.8 1230.6,193.2 1231.2,193 1231.8,193.9 1232.4,193.7 1233,193.6 1233.6,194 1234.2,194.5 1234.8,194.1 1235.4,194.7 1236,194.6 1236.5,195.3 1237.1,195.2 1237.7,195.2 1238.3,195.6 1238.9,195.9 1239.5,195.2 1240.1,196.2 1240.7,197.1 1241.3,196.3" fill="none" stroke="#d62728" stroke-width="5.6" stroke-linejoin="round" stroke-linecap="square"/>
<polyline points="826.2,27.1 827.8,27.9 829.4,28.9 831,30.2 832.6,31.4 834.2,32.4 835.8,33.8 837.4,34.7 839,36 840.6,37.5 842.2,38.3 843.8,39.8 845.4,40.9 847,42 848.6,43.3 850.2,44.4 851.8,45.6 853.4,46.5 855,48.1 856.7,49.1 858.3,50.4 859.9,51.5 861.5,52.6 863.1,54 864.7,55.1 866.3,56.3 867.9,57.3 869.5,58.5 871.1,59.8 872.7,60.8 874.3,62.2 875.9,63.5 877.5,64.9 879.1,65.8 880.7,67.2 882.3,68.3 883.9,69.4 885.5,70.4 887.1,71.6 888.7,73 890.3,74.2 891.9,75.4 893.5,76.6 895.1,77.9 896.7,79.2 898.3,79.7 899.9,81 901.5,82.2 903.1,83.2 904.7,84.1 906.3,85.2 907.9,86.6 909.5,87.8 911.1,88.8 912.7,89.9 914.3,90.9 916,92.1 917.6,93.2 919.2,94.5 920.8,95.5 922.4,96.7 924,97.7 925.6,99.1 927.2,100.2 928.8,101.1 930.4,102.3 932,103.7 933.6,104.7 935.2,105.9 936.8,107.3 938.4,108.8 940,109.8 941.6,110.8 943.2,112.3 944.8,113.5 946.4,114.7 948,115.9 949.6,117.2 951.2,118.3 952.8,119.4 954.4,120.7 956,121.9 957.6,123.1 959.2,124.2 960.8,125.4 962.4,126.2 964,127.5 965.6,128.6 967.2,129.9 968.8,130.9 970.4,132.1 972,133.1 973.6,134.3 975.3,135.4 976.9,136.7 978.5,138.2 980.1,139.1 981.7,140.2 983.3,141.6 984.9,142.6 986.5,143.6 988.1,144.9 989.7,146.2 991.3,147.5 992.9,148.5 994.5,149.5 996.1,150.8 997.7,151.8 999.3,153 1000.9,154.1 1002.5,155.1 1004.1,156.2 1005.7,157.6 1007.3,158.6 1008.9,159.9 1010.5,161.2 1012.1,162.5 1013.7,163.6 1015.3,165 1016.9,166.2 1018.5,167.3 1020.1,168.5 1021.7,169.6 1023.3,170.4 1024.9,172.1 1026.5,173.3 1028.1,174.5 1029.7,175.5 1031.3,176.3 1032.9,177.3 1034.6,178.3 1036.2,179.6 1037.8,180.6 1039.4,182 1041,183.4 1042.6,184.4 1044.2,185.6 1045.8,186.8 1047.4,187.9 1049,189.1 1050.6,190.3 1052.2,191.3 1053.8,192.4 1055.4,193.5 1057,194.6 1058.6,195.6 1060.2,196.9 1061.8,198.3 1063.4,199.4 1065,200.2 1066.6,201.5 1068.2,203 1069.8,203.6 1071.4,204.7 1073,205.8 1074.6,207 1076.2,208.1 1077.8,209.3 1079.4,210.4 1081,212 1082.6,213.3 1084.2,214 1085.8,215.3 1087.4,216.4 1089,217.8 1090.6,219.1 1092.2,220.2 1093.9,221.3 1095.5,222.3 1097.1,223.3 1098.7,224.7 1100.3,225.6 1101.9,226.8 1103.5,228 1105.1,228.8 1106.7,230.2 1108.3,231.3 1109.9,232.6 1111.5,233.8 1113.1,235 1114.7,236.2 1116.3,237.5 1117.9,238.5 1119.5,239.6 1121.1,240.8 1122.7,242.1 1124.3,243 1125.9,244.3 1127.5,245.3 1129.1,246.4 1130.7,247.9 1132.3,249.1 1133.9,250.3 1135.5,251.3 1137.1,253 1138.7,253.7 1140.3,255.1 1141.9,256 1143.5,257.1 1145.1,258.2 1146.7,259.9 1148.3,260.3 1149.9,261.6 1151.5,262.8 1153.2,264.2 1154.8,265.2 1156.4,266.7 1158,267.8 1159.6,268.8 1161.2,270 1162.8,271.3 1164.4,272.4 1166,273.6 1167.6,274.6 1169.2,275.7 1170.8,276.8 1172.4,277.8 1174,279.3 1175.6,280.2 1177.2,281.3 1178.8,282.3 1180.4,283.8 1182,284.9 1183.6,285.8 1185.2,287.2 1186.8,288.1 1188.4,289.1 1190,290.4 1191.6,291.5 1193.2,292.4 1194.8,294 1196.4,295.2 1198,296.3 1199.6,297.5 1201.2,298.7 1202.8,300 1204.4,300.8 1206,302 1207.6,303.2 1209.2,304.4 1210.8,305.4 1212.5,306.9 1214.1,307.7 1215.7,308.8 1217.3,310 1218.9,311.2 1220.5,312.5 1222.1,313.1 1223.7,314.3 1225.3,315.3 1226.9,316.4 1228.5,317.6 1230.1,319.2 1231.7,320.2 1233.3,321.6 1234.9,322.6 1236.5,323.7 1238.1,324.6 1239.7,325.6 1241.3,327.1" fill="none" stroke="#9467bd" stroke-width="4.4" stroke-linejoin="round" stroke-linecap="square"/>
<polyline points="826.2,26.9 827.8,28.3 829.4,29.7 831,31.5 832.6,32.9 834.2,34.5 835.8,35.9 837.4,37.4 839,39.2 840.6,40.6 842.2,42 843.8,43.8 845.4,45.4 847,46.6 848.6,48.2 850.2,49.9 851.8,51.2 853.4,53.1 855,54.6 856.7,56.2 858.3,57.8 859.9,59.7 861.5,60.9 863.1,62.5 864.7,64 866.3,65.7 867.9,67.3 869.5,68.8 871.1,70.5 872.7,72 874.3,73.6 875.9,75.1 877.5,76.5 879.1,77.8 880.7,79.4 882.3,80.8 883.9,82.7 885.5,84.2 887.1,86 888.7,87 890.3,88.9 891.9,90.4 893.5,92.2 895.1,93.4 896.7,94.9 898.3,96.6 899.9,98.1 901.5,99.7 903.1,101.4 904.7,102.4 906.3,104.1 907.9,105.8 909.5,107.2 911.1,108.5 912.7,110.4 914.3,111.6 916,113 917.6,114.7 919.2,116.1 920.8,117.7 922.4,119.4 924,120.8 925.6,122.4 927.2,124.1 928.8,125.3 930.4,126.8 932,128.1 933.6,130 935.2,131.4 936.8,132.8 938.4,134.2 940,135.9 941.6,137.4 943.2,138.9 944.8,140.6 946.4,142.4 948,143.5 949.6,145 951.2,146.8 952.8,148.2 954.4,150 956,151.6 957.6,153 959.2,154.5 960.8,156.1 962.4,157.9 964,159.3 965.6,160.7 967.2,161.9 968.8,163.8 970.4,165.6 972,166.8 973.6,168.6 975.3,169.8 976.9,171.1 978.5,172.8 980.1,174.5 981.7,175.9 983.3,177.4 984.9,178.8 986.5,180.2 988.1,181.8 989.7,183.5 991.3,185 992.9,186.6 994.5,187.9 996.1,189.3 997.7,190.9 999.3,192.4 1000.9,194.2 1002.5,195.5 1004.1,197.4 1005.7,198.8 1007.3,200.5 1008.9,201.8 1010.5,203.1 1012.1,204.5 1013.7,206.3 1015.3,207.8 1016.9,209.4 1018.5,211.1 1020.1,212.8 1021.7,214.1 1023.3,215.6 1024.9,216.9 1026.5,218.7 1028.1,220.2 1029.7,221.8 1031.3,223.9 1032.9,225.2 1034.6,226.4 1036.2,228 1037.8,229.2 1039.4,230.9 1041,232.6 1042.6,233.9 1044.2,235.6 1045.8,237.2 1047.4,238.7 1049,240.2 1050.6,241.8 1052.2,243.6 1053.8,245.2 1055.4,246.5 1057,248.2 1058.6,249.8 1060.2,251.1 1061.8,252.7 1063.4,254.3 1065,255.8 1066.6,257.3 1068.2,258.7 1069.8,260.2 1071.4,261.7 1073,263 1074.6,264.7 1076.2,266 1077.8,267.8 1079.4,269.1 1081,270.9 1082.6,272 1084.2,273.4 1085.8,274.7 1087.4,276.4 1089,277.9 1090.6,279.6 1092.2,281.4 1093.9,282.8 1095.5,284.4 1097.1,286.3 1098.7,287.4 1100.3,289.2 1101.9,291 1103.5,292.3 1105.1,293.9 1106.7,295.1 1108.3,296.7 1109.9,298.4 1111.5,300.3 1113.1,301.4 1114.7,302.9 1116.3,304.4 1117.9,306 1119.5,307.7 1121.1,309.2 1122.7,310.6 1124.3,312.1 1125.9,313.8 1127.5,315.3 1129.1,316.9 1130.7,318.4 1132.3,320.1 1133.9,321.4 1135.5,323.1 1137.1,324.8 1138.7,326.5 1140.3,327.6 1141.9,329.2 1143.5,330.6 1145.1,332.2 1146.7,333.7 1148.3,335.5 1149.9,336.8 1151.5,338.4 1153.2,340.1 1154.8,341.3 1156.4,342.9 1158,344.3 1159.6,346.2 1161.2,347.9 1162.8,349.4 1164.4,350.9 1166,352.2 1167.6,353.7 1169.2,355.2 1170.8,357 1172.4,358.5 1174,360 1175.6,361.4 1177.2,362.7 1178.8,364.4 1180.4,365.8 1182,367.6 1183.6,368.9 1185.2,370.6 1186.8,371.8 1188.4,373.5 1190,375.2 1191.6,376.4 1193.2,378.3 1194.8,379.8 1196.4,381.4 1198,382.8 1199.6,384.6 1201.2,385.9 1202.8,387.8 1204.4,389.2 1206,390.6 1207.6,392 1209.2,393.4 1210.8,395 1212.5,396.9 1214.1,398.2 1215.7,399.6 1217.3,401 1218.9,402.6 1220.5,404 1222.1,405.4 1223.7,407 1225.3,408.5 1226.9,410 1228.5,411.5 1230.1,413.1 1231.7,415.1 1233.3,416.1 1234.9,417.6 1236.5,419 1238.1,420.5 1239.7,422.2 1241.3,423.5" fill="none" stroke="#8c564b" stroke-width="4.4" stroke-linejoin="round" stroke-linecap="square"/>
</g>
<rect x="826.2" y="21.3" width="414.1" height="403.4" fill="none" stroke="#000" stroke-width="2.2" stroke-linejoin="miter"/>
<path d="M826.2 424.7v10.0M929.7 424.7v10.0M1033.2 424.7v10.0M1136.8 424.7v10.0M1240.3 424.7v10.0" stroke="#000" stroke-width="2.2"/>
<text transform="translate(826.2 463.3) scale(1 1.06)" y="10.2" text-anchor="middle" font-size="29.2">0.00</text>
<text transform="translate(929.7 463.3) scale(1 1.06)" y="10.2" text-anchor="middle" font-size="29.2">0.25</text>
<text transform="translate(1033.2 463.3) scale(1 1.06)" y="10.2" text-anchor="middle" font-size="29.2">0.50</text>
<text transform="translate(1136.8 463.3) scale(1 1.06)" y="10.2" text-anchor="middle" font-size="29.2">0.75</text>
<text transform="translate(1240.3 463.3) scale(1 1.06)" y="10.2" text-anchor="middle" font-size="29.2">1.00</text>
<path d="M826.2 27.1h-10.0M826.2 140.7h-10.0M826.2 254.3h-10.0M826.2 367.9h-10.0" stroke="#000" stroke-width="2.2"/>
<text transform="translate(800.8 27.7) scale(1 1.06)" y="10.2" text-anchor="end" font-size="29.2">0</text>
<text transform="translate(800.8 141.3) scale(1 1.06)" y="10.2" text-anchor="end" font-size="29.2">−20</text>
<text transform="translate(800.8 254.9) scale(1 1.06)" y="10.2" text-anchor="end" font-size="29.2">−40</text>
<text transform="translate(800.8 368.5) scale(1 1.06)" y="10.2" text-anchor="end" font-size="29.2">−60</text>
<text x="1033.2" y="520.5" text-anchor="middle" font-size="29.2">time (s)</text>
<text transform="translate(719 223) rotate(-90)" text-anchor="middle" font-size="29.2">angle (rad)</text>
<rect x="840.6" y="95.8" width="203.9" height="313.3" rx="5.5" fill="#fff" fill-opacity="0.8" stroke="#cccccc" stroke-width="2.6"/>
<text x="855.1" y="128.8" font-size="29.2">Power (a.u.)</text>
<path d="M856.5 162.9H919.8" stroke="#1f77b4" stroke-width="4.4"/>
<text transform="translate(934.6 162.6) scale(1 1.06)" y="10.2" font-size="29.2">0.003</text>
<path d="M856.5 206.6H919.8" stroke="#ff7f0e" stroke-width="4.4"/>
<text transform="translate(934.6 206.3) scale(1 1.06)" y="10.2" font-size="29.2">0.041</text>
<path d="M856.5 250.4H919.8" stroke="#2ca02c" stroke-width="4.4"/>
<text transform="translate(934.6 250.1) scale(1 1.06)" y="10.2" font-size="29.2">0.190</text>
<path d="M856.5 294.1H919.8" stroke="#d62728" stroke-width="4.4"/>
<text transform="translate(934.6 293.8) scale(1 1.06)" y="10.2" font-size="29.2">0.405</text>
<path d="M856.5 337.9H919.8" stroke="#9467bd" stroke-width="4.4"/>
<text transform="translate(934.6 337.5) scale(1 1.06)" y="10.2" font-size="29.2">0.737</text>
<path d="M856.5 381.6H919.8" stroke="#8c564b" stroke-width="4.4"/>
<text transform="translate(934.6 381.3) scale(1 1.06)" y="10.2" font-size="29.2">1.000</text>
<g clip-path="url(#clipc)">
<polygon points="1560,150 1600,120 1657,112 1700,130 1720,160 1728,190 1720,222 1695,240 1650,248 1600,238 1560,218 1545,185" fill="#5799c7"/>
<polyline points="1640,190 1649.7,176.3 1608.8,171.3 1609.3,178.5 1596.9,215.6 1602.1,254 1603.7,246.8 1574,237.8 1576.9,234.4 1582.7,236.5 1559.5,244.8 1570.5,244.5 1569.5,230.4 1592.1,226.2 1604.1,210.8 1596.5,216.5 1599.4,221.5 1578,207 1582,203.7 1576.4,196.2 1575.4,193.1 1578.9,205.3 1590.6,197.3 1607.6,191.9 1602.7,172.4 1599.2,191.5 1596.1,165.6 1576.6,172.8 1576,172.6 1589.3,179.4 1591.1,199.7 1587.9,178.9 1585.3,191.8 1595.5,206.9 1620.6,201.3 1614.5,204.9 1608.7,187 1617.4,179.4 1591.3,179.7 1600,184 1591.6,199.5 1565.7,207.7 1554.8,210.6 1574.3,190.4 1572.3,164.6 1596.9,155.9 1593.1,159.7 1604.8,143.3 1609.8,177.3 1608.4,159.3 1584.2,162.4 1600.6,162.9 1595.5,141.7 1610.4,137.9 1606.6,156.4 1595.7,151.3 1614.1,168.7 1646.3,169.1 1617.9,167.1 1609.7,172.2 1608.8,184 1615.8,175.8 1594.1,180 1588.3,187.9 1605.2,176.2 1604.9,169.1 1613,168.8 1620,182.8 1618,180.8 1602.7,176 1607,162.8 1592.6,171.5 1610.5,159.5 1607.8,175.6 1613.8,183.3 1623.5,195.9 1633.6,178.9 1636.3,167.1 1635.7,169.6 1631.9,166.2 1630.2,170.9 1640.2,164.1 1634,154.9 1658.1,158.3 1660.6,154.3 1671.7,183.4 1694.9,194.6 1700.3,198.8 1706.8,203.2 1711.5,195.9 1696.3,185.1 1692.4,188.2 1684.7,201.7 1702.5,201.3 1701.6,188.2 1694,185.7 1673.5,181 1666.1,179.2 1657.2,175.5 1652.3,176.7 1638,158.8 1657.5,157.4 1673.2,171 1653.3,153.7 1672.4,175.7 1668,192.8 1655.4,199.7 1651.3,195.6 1651.6,174.4 1663,185.4 1668,188.5 1665.9,191.2 1666.9,173.6 1661.4,171.9 1675.6,182.2 1670.5,197 1701.6,189 1721.4,174.5 1725.1,175.9 1726.3,155.8 1720.1,158.6 1723.3,160.8 1718.7,161.7 1704.6,150.3 1685.8,141.9 1691.9,136.4 1697.3,173.9 1694.7,180.5 1704.8,140.4 1706.5,122.5 1724.2,105 1733.5,130.8 1735.8,122.9 1732,117.3 1730.2,143.8 1729.6,127 1702.2,147.1 1696.5,146.7 1718.2,164.7 1723.2,160.8 1719.9,140.7 1712.1,167.4 1703.8,192.6 1703.2,189.8 1719,170.4 1734.5,164.4 1713,169.7 1707.5,174.3 1719.7,184.3 1733.3,182 1745.3,192.8 1733.6,208.9 1728.2,202.6 1718,166.2 1703,141 1694.3,151.9 1709.3,164.1 1718.5,187.7 1697,187.2 1712.7,183.8 1709.4,182.5 1707.9,178.8 1695.5,162.6 1695.8,155.1 1698.5,176.6 1723.9,141.9 1725.2,126.2 1716.3,105.3 1708,107.2 1707.4,99.7 1674.1,97.1 1693.5,110.8 1704.9,109.8 1695.1,103.2 1686.5,95.7 1670.5,93.7 1663.5,90.3 1643.8,84.3 1633.3,69 1632,85.3 1622.6,47.1 1611.1,49.9 1590,75.2 1599.2,89.6 1609.1,101.8 1583.3,102.8 1566.7,112.5 1572.9,99.6 1550.6,106 1554.1,97.3 1573.1,92.9 1572.6,102 1595.8,104 1586.3,101.6 1600.9,102.5 1612.6,100 1599.2,125.7 1594.4,156.6 1603.2,148.2 1602.8,143.8 1621.9,139.8 1625.2,141.2 1614.7,163.7 1600.9,182.1 1600.7,168.5 1605,137.8 1596.2,159.6 1605.7,169.9 1622.4,151.8 1617.2,133.8 1619.7,123.7 1640.6,125.2 1640.8,124.8 1625.8,133.1 1636.2,133 1617.6,130 1616.5,131 1599,127.7 1593.8,106.9 1590.9,123.7 1579.7,109.6 1579.5,95.7 1573.2,98.9 1580,97 1596.6,99.9 1578.7,96.7 1558.6,95.6 1561.3,108.8 1563.8,92.2 1577.2,84.6 1565.3,85 1565.2,81.4 1564.5,90.9 1580.7,88.5 1577.2,84.1 1570.1,103.3 1546.8,114.4 1556.6,108.8 1551,99.4 1543,118.7 1545.5,109 1551.8,103.7 1562.2,82.9 1570,74.7 1570,76.7 1573.9,68 1578.6,75.5 1586,71.1 1596.4,82.1 1589.8,99.5 1586.2,100.6 1572.8,109.3 1554.6,129.1 1552.7,151.3 1541.9,135.2 1527.2,164.9 1528.3,175.3 1512.4,163.7 1500.3,157.5 1519.3,186.7 1537,199.1 1541,195.2 1554,198.3 1578.6,201.2 1586.7,212.7 1582.5,207 1538.1,206.7 1549,212.2 1533.4,210.4 1534.9,214.1 1542.8,207.2 1547.2,225.2 1570,220.6 1579.4,203.7 1585.1,206.6 1588.3,224.8 1561.4,220 1575.6,229.9 1560.6,196.4 1560.7,170.8 1570.1,147.5 1570.5,157 1564.7,187.4 1556.3,203.9 1551.3,215.2 1532.1,218.6 1529.6,210.9 1518.4,214.8 1507.5,205.4 1509.6,204.2 1527.7,218.4 1529,216 1551.7,205 1534,188.2 1523.7,206.7 1532.9,204.3 1516.3,182.6 1537.5,177.6 1526.2,185.2 1525,180.3 1501.9,171.9 1523.7,184.6 1505.8,166.4 1508.1,162.9 1510,185.5 1504.7,180.9 1507.4,203 1532.4,203.2 1538.1,207.9 1525.4,196.5 1527.5,182.5 1525.5,178.6 1506.3,202.5 1500.8,188.7 1512.6,186.1 1518.4,178.1 1530.7,178.3 1531.2,173.9 1551.7,178.7 1538.7,176 1525.5,183.2 1538.7,188.3 1550,192.4 1535.4,186.5 1555.5,191.8 1542.2,198.1 1532,195.2 1534.8,205 1547.8,192.8 1528.6,210.5 1533.2,216 1533.7,210.3 1546,202.3 1536.3,214.7 1545.9,226.7 1548.1,216.6 1537.5,248.1 1550.7,239.1 1549.4,236.8 1528.8,209.7 1514.6,206.7 1519,192 1542.8,187.2 1549,187.7 1532.9,190.3 1561.3,180 1574.7,196.2 1586.6,163.7 1589.4,162.6 1579.9,159.4 1565.3,174.8 1561,195.2 1565.7,218.1 1564.3,225.5 1557.5,215.5 1561.6,228.8 1583.7,219 1575.4,202.3 1559.2,198.6 1579.1,195.5 1570.8,201.3 1575,212.4 1562.7,222 1566.5,214.3 1575.1,219.6 1584.9,207 1596.1,205.6 1586.9,206.1 1584.2,195.4 1566.2,194 1574.8,184.7 1572.1,185.4 1570.4,207.4 1563.8,204.5 1551.5,216.6 1551.5,227 1586.6,230.5 1582.7,228.1 1579.2,240.4 1595.8,225 1568.3,240.7 1559.1,260.2 1551.6,255.6 1547,244 1537,242.4 1547.7,258.5 1540.9,241.2 1541.2,234.4 1547.4,238.5 1558,226 1533.8,218.5 1532.8,213.5 1528.5,200.9 1529,208.3 1525.2,215.6 1539.1,201.3 1533.4,194 1515.2,186.1 1505.7,173.4 1511.4,160.5 1515.4,156.5 1505.1,151.1 1515.6,151.7 1516.2,162.7 1556.9,180.1 1550.5,185.5 1545.6,196.3 1529,194.3 1546.5,204.6 1575.3,197.8 1581.7,196.8 1589.1,217.6 1591.1,230.5 1586.6,237.1 1595.3,245.8 1599.5,240 1605,257.4 1594.1,269.1 1575.6,266.3 1595.6,266.4 1603.2,274.8 1586.8,276.2 1563.5,273 1587.8,244.7 1580.9,253.4 1570.1,264.7 1578.6,240.3 1545.2,243.1 1561.8,261.1 1581.5,254 1582.6,248.5 1575.3,267.1 1579.2,253.7 1582.8,264.9 1580.8,229.6 1572.7,208.8 1583.6,203.2 1582.9,216.7 1600.8,219.8 1621.8,216 1622.4,175.3 1622.6,172.7 1615.1,178.8 1620.4,154.6 1612.9,175.3 1620.2,177.4 1603.4,179.6 1623.5,174.5 1620.8,154 1624.7,134.6 1613.7,115.4 1592.2,120.4 1584.4,132.2 1575.7,131.9 1574.6,127.1 1567.8,113.2 1576.9,138 1592.3,111 1596.7,126 1601,127 1598,145.7 1591.8,150.6 1575.3,130.8 1577.6,126.5 1574.5,100.6 1585.4,80.7 1570.5,68.1 1596.4,73.1 1593,111.4 1582.2,122.5 1570.6,158.9 1579.1,171.6 1572.8,190.7 1566.3,184 1555.7,178.6 1564.4,145.1 1583.1,129.8 1564.9,149.6 1571.9,152.8 1554.2,174.1 1557,191.6 1585.6,211.3 1576.1,215.1 1579.5,205 1591.8,203.6 1576.4,192.5 1544.8,176.4 1516.6,180.2 1525.1,168.2 1542.1,165.4 1548.6,155.8 1546.2,165.5 1551.6,181.8 1547.1,187.1 1529.1,186.3 1528.1,177.5 1535.1,168.2 1536.9,169.9 1569.9,183.2 1584.6,163.1 1562.3,150 1553.7,160.1 1552.8,184.4 1560.7,195.5 1573.8,174.1 1569.7,177.1 1587.4,172 1603.2,185.1 1583.1,192.4 1578.5,199.5 1589,204.9 1597.5,212.3 1594.9,208.4 1610,198.9 1615.1,194.9 1638,170.1 1635.5,161.9 1633.7,169.2 1648.6,168.9 1658.4,183.9 1668.1,197.6 1640.9,181.3 1642,175 1653.2,198.6 1647.4,205.6 1668.6,211.8 1676,220.2 1666.1,211.5 1651.4,187.3 1687.9,189.2 1663.7,184.4 1679,190.5 1691,177.5 1683.3,194.8 1655.7,168.4 1658.6,184.8 1680.2,196.3 1666.7,216.7 1681.4,206.6 1655.6,214.8 1655.9,173.7 1640.1,161.8 1636.2,163.5 1640.3,163.2 1630,134.3 1634.9,150.2 1622.7,151.1 1630.4,189.5 1609.6,168.9 1614.7,163.7 1615.9,170.3 1620.8,144.8 1612.6,121.6 1611.1,122.6 1601.1,119.4 1604.1,97.9 1581.5,99.6 1576.8,100.5 1580,96 1589.3,147.5 1582.4,152.3 1592.5,149.6 1575.2,149.2 1579,137.4 1563.3,144.6 1558.4,137.9 1581,123.3 1582.2,128.1 1548.4,136.2 1560.4,143.1 1578.6,138.1 1607.3,155.2 1609,175.7 1607.8,156.9 1603,159.6 1618.9,134.8 1605.6,124.4 1603.6,107.8 1592.6,91.3 1617.4,101.2 1620.8,87.1 1620.1,79.6 1598.5,91.6 1617.7,102.3 1600.8,92.7 1614.4,97.5 1612.5,88.2 1607.2,77.2 1614.9,77.3 1619.5,108.3 1621.2,90.9 1628.7,92.5 1641.4,107 1619.3,104.1 1616.9,127.8 1611.3,133.2 1598.7,127.8 1622.6,142.1 1617.9,157.8 1615,151.7 1628.8,148.5 1621.2,137.7 1630.4,138.6 1625.9,143.8 1626.7,146 1615.4,124.6 1623.5,144.2 1625.8,164.2 1631.7,180 1618.4,163.6 1609.5,178.9 1636.7,194.6 1624,192.7 1612.7,205.4 1620.8,186 1604.3,207.5 1596.9,208.9 1609.4,213.7 1588.6,214.2 1586.3,196.9 1591.8,186.5 1590.2,195.6 1593.5,177.2 1604.6,180.8 1618.8,146.2 1628.7,147.9 1611.9,156.3 1611.2,163.3 1621.8,184.3 1616.2,185.9 1627.8,185.4 1633.4,169.4 1640.3,174.7 1638.5,170.4 1634.8,171.7 1669.8,162.2 1670.9,181.2 1650.3,149.6 1659.5,116.2 1646.8,114.2 1649.6,136.4 1654.3,139.9 1649.6,152.8 1658.9,153.1 1671,155.1 1680.9,136.8 1668.1,123.1 1655.8,122.1 1652.2,126.3 1652.1,121.2 1656.7,101.1 1641.2,118.9 1632.2,119.2 1604.6,109.2 1582.8,106.8 1587.1,125.7 1581.6,141.9 1587.3,162.2 1602.3,179.9 1614.2,162 1615.6,158.6 1619.1,141.8 1626,153.5 1612.3,130.1 1614.1,133.9 1602.9,146 1609.8,159.6 1604.2,166.3 1587.2,143.3 1593.7,151.7 1603.4,161.3 1585.9,164 1609.2,184.4 1583.1,190.8 1601.3,187.2 1602.1,155.8 1583.9,159.6 1592.4,166.1 1607.9,150.6 1602.5,137.4 1610.8,153.2 1607.4,166.4 1610.1,162.8 1602.6,186.6 1610.4,182.3 1608.7,186 1594.1,162.5 1603.6,157.5 1611.8,142 1617.5,161.6 1620.3,169.6 1630.2,174.2 1620.3,193.1 1651.6,182.9 1683.5,199.5 1708.3,204.6 1708.6,209.6 1701.4,211.9 1705.7,197.5 1699.5,198.3 1711.8,211.3 1710.6,227.3 1709.9,227 1712.8,204.5 1722.9,186.5 1743.7,165.5 1770.6,180.1 1762.6,174.9 1745.1,195.4 1736.4,199 1737.1,203.1 1738.6,203.1 1748.7,203.8 1758.9,213.5 1752.7,193.4 1787.2,188.1 1781.9,169.7 1793.3,184.9 1791.9,181.6 1787.5,177.6 1784.3,182 1763.3,191.2 1774.7,197.3 1749.2,198.2 1750.7,186.2 1717.8,198.9 1723.9,207.2 1731.8,201 1699.6,199 1712.5,222.6 1703.5,225 1705.4,217.6 1722.8,202.8 1736.4,199.4 1719.3,189.5 1733.9,178.6 1740.2,188.2 1754.4,213.1 1763.2,204.1 1765.1,199.6 1750.5,175 1739.8,189 1745.8,175.4 1741.6,188.2 1727.2,192.8 1740.7,198.4 1731.8,188.9 1745,184.5 1759.6,188.1 1756.4,195 1777.7,215.6 1783.1,206 1787.4,210.8 1792.7,205.2 1776.5,217.5 1763.9,218.6 1744,198.3 1741.9,209.7 1737.6,203.9 1756.6,181.6 1742.5,161.6 1754.1,165.2 1783.5,181.5 1800.6,177.8 1814.1,179.2 1806.4,184.2 1789.3,170.6 1810,174 1803.2,160 1783.4,178.9 1789.4,169.8 1804.1,179 1811.8,195.4 1803.5,200.7 1793.9,183.7 1781,195.9 1786.1,189.9 1765.4,200.7 1776.2,199.9 1784.3,204.3 1785.3,175.9 1774.6,185.4 1787.1,174.2 1791.6,170.6 1795.9,154.6 1792.4,155.8 1793.3,153.3 1784.4,154.2 1764.5,156.8 1755.4,150.7 1742.3,148.8 1735.3,127.1 1738.5,126.8 1735.3,139.3 1737.3,155.4 1726.5,166.4 1711.8,154.5 1721.9,148.5 1714.3,164 1723.8,173 1705.7,170.2 1692.5,140 1716.4,156.6 1716.3,161.1 1716.8,182.5 1722,182.9 1725.6,181.8 1701.4,207.9 1708.2,227.8 1700,210.7 1684.9,210.2 1703.1,216.2 1696.2,221.7 1718.3,208 1715.8,192.8 1707.3,205.9 1706.9,215.7 1730.1,212.2 1729.9,217.1 1737.4,212.5 1735.1,228.7 1708.4,261.8 1708.5,262.3 1737.2,249.6 1748.2,241.8 1754.5,216.2 1764.4,197 1781.4,211.6 1798,195.5 1770.9,186.6 1795.5,197.1 1779.1,207.4 1773.4,206.5 1766,179.2 1771.3,187.1 1783.1,185.7 1804,168.8 1824.1,180.2 1797.6,157.9 1788.1,165.4 1798.6,154.4 1803.4,178.3 1810.4,175.6 1815.5,191.3 1798.8,202.6 1794.3,190.5 1777.9,195.6 1776.1,173.7 1776.7,167.3 1754.5,170.7 1775.9,168.4 1762.1,170.3 1737.8,188.1 1730.4,215.7 1737.3,226.8 1730.6,219.8 1718.1,236.7 1684.2,246 1685.3,250.7 1688.8,236.7 1703,244.2 1705.9,238.1 1732.4,239.2 1732.4,243 1751.1,237.3 1754.5,233.2 1752.3,240.5 1738.2,232.2 1750.8,218.6 1761.2,204.8 1774.6,198.3 1763.5,176.7 1794.8,207.4 1764.4,204.6 1762.6,238.1 1766.1,228.2 1755.4,226.9 1766.1,222.9 1744.2,223.2 1741.7,213.6 1758.2,201.7 1766.5,201.4 1758.5,208 1748.9,206.8 1742,208.2 1754.3,187.2 1749.6,179.3 1726.8,159.7 1706.3,180.4 1705.4,183.2 1715.5,174.4 1731.6,205.1 1732.6,199.3 1730.5,180.9 1751.4,197.2 1732.1,211.6 1737.3,226.7 1741.3,216.1 1738.1,229.7 1727.8,238.3 1742.4,241.3 1760.2,224.7 1730,215.7 1712.4,216.4 1708.7,208.9 1714.2,203 1731.5,207.3 1735.1,205 1721.2,218.8 1714.9,197.1 1711.9,183.4 1723.2,194.1 1703.5,204.8 1690.2,209 1687.9,217.8 1702.7,202.1 1674,185.8 1661.2,184.9 1675.9,189.9 1680.9,206.7 1716.5,222.6 1687.6,218.4 1693.2,224.1 1678.3,224.2 1694.7,207.7 1688,199.6 1681.4,212.7 1691.4,216.3 1685.2,218.2 1687.4,229.9 1693.7,239.5 1680.5,259.7 1691,240.1 1686.3,244.1 1669.6,240.6 1672.6,232 1673,242.4 1685.7,242.9 1678.8,231.2 1674.6,221.4 1673.8,199 1675.1,182 1667.3,163.6 1671.2,169.5 1675.2,147.1 1682.2,144.6 1670.5,149.2 1673.1,156.8 1681.6,151.3 1706.3,166.2 1707.9,179.1 1710.1,167.4 1718.2,153.7 1701.6,162.7 1709.5,151.4 1722.7,151.1 1721.7,131.4 1710.6,140.6 1734.2,137.7 1709.6,125.7 1692.7,128.8 1722.8,129.1 1731.2,139.4 1716.8,114.1 1712,101.6 1730.5,92.5 1737,95.6 1746,128.5 1741.9,124.7 1752.2,140.5 1759.9,155 1738.6,164.8 1728.8,153.8 1720.7,174.8 1710.1,147.3 1711.5,144.2 1713.8,155.2 1694.5,166.5 1703.5,156.6 1713.3,154.3 1738,146.3 1721.2,153.4 1703.5,181.9 1704,187 1694.5,197.8 1664,197.5 1660.8,178.9 1660.7,171.4 1663.4,189.6 1659.1,184.1 1660,196.5 1668.7,198 1653.9,193.5 1656.4,200 1661.4,197.8 1643.9,227.7 1646.2,210.6 1649.6,197.9 1636.4,188.5 1661.1,201.6 1676.1,186.1 1694.2,171.6 1709.9,190.5 1691.4,207 1662.7,203.4 1667.1,190.8 1668.6,188.7 1675.1,193.3 1673.7,184.8 1665.6,177.9 1654.6,195.4 1652.6,200.8 1650,209 1637.2,215.3 1631.7,214 1630.8,201.9 1625.5,226.1 1648.5,225.7 1635.1,227.3 1615.4,234.7 1608.9,252.3 1624.6,267.6 1613.3,272.3 1620.5,275.3 1632.8,274.1 1634.2,268.3 1635.6,252.4 1659.1,233 1651.6,227.5 1639.7,229.5 1627.5,221.9 1644.3,226.8 1632.9,230 1621.1,223.6 1650.7,221.3 1663.2,207.2 1655.7,214.6 1633.9,227.6 1648.6,220.1 1671.8,237.7 1668.8,247.3 1686,248.9 1692,232.3 1709.7,197.1 1690.5,190.7 1692.8,187 1688.5,173 1684.9,193.8 1698.1,182.5 1690.7,187.3 1674.5,191.1 1662.6,196.3 1619.3,193.4 1640.5,187.6 1647.3,158.5 1657.1,157 1683.7,148.2 1691.6,157.1 1690.6,167.3 1685.1,172.6 1696.2,164.9 1732.1,187.4 1740.9,187.2 1758.2,194.3 1767.6,209.9 1769.5,235.3 1785.5,240.1 1789.6,257.6 1810.6,278.1 1796.5,295.7 1768.1,284.8 1768.6,299.5 1764.9,300.6 1772.6,307.2 1769.6,299.7 1759.5,297.1 1758.7,310.2 1753.5,312 1745.6,299.7 1740.9,298 1725.1,311.1 1740.4,318.7 1757.3,306.4 1723.4,309.8 1733.1,292.4 1726.4,292 1753.6,321.9 1738.3,355.9 1729.7,360.9 1740.7,341.8 1741.5,326.5 1741.2,320.2 1701,317.5 1735.5,322.9 1743.7,329.2 1749.5,351.9 1743.5,359.7 1723.8,352.1 1706,375.7 1715.5,373.8 1708.3,366.5 1721.3,361.3 1741.4,356 1741.1,359.6 1734.1,353.7 1735.8,356.1 1749.8,351 1738.6,348.6 1730.3,356.7 1725.2,359.5 1698.1,335.7 1676.4,328.2 1671.2,318.1 1675.1,287.5 1660,310.2 1656.6,306.7 1656.4,329.1 1647.6,331.3 1642.5,338.2 1649.7,336.4 1660.8,343.3 1674.7,355 1647.2,344.4 1646.9,354 1674.3,342.8 1686.6,364.2 1700.1,361.5 1686.5,365.8 1672.4,352.8 1687.5,359.9 1684.4,353.9 1686.4,337.7 1680.8,338.2 1675.5,319.6 1657.7,331.2 1652.7,332.3 1653.1,330.8 1655.5,321.2 1653.3,320.7 1651.3,324 1657.1,327.8 1642.7,332.9 1664.1,342.9 1704.6,346.5 1707,365.3 1691.4,354 1702.1,349.1 1709.1,374.6 1707.2,361.3 1678.5,373.6 1676.8,370 1680.6,356.5 1682.7,352.7 1678.2,339.8 1684.2,344.3 1683,336.1 1682.7,329.6 1688.4,330.9 1714.7,345.8 1691.2,361.3 1691.8,368.2 1705.1,368 1701.3,338.1 1669.1,340.8 1688.7,356.7 1712.3,352.7 1695,343.5 1705.5,320.9 1697.6,334.2 1682.4,313.7 1691.6,328.6 1675.5,335.3 1670.3,318.9 1677.6,323.2 1693.8,328.9 1688,310.7 1693.2,318.3 1678.3,313.9 1665.4,332.3 1654.9,311 1671,314.7 1666.8,302.5 1692.1,314.1 1669.6,340.5 1662.3,342.2 1665.4,329.8 1667.3,322 1662.6,323.8 1655.5,312.2 1664.9,291.5 1663.1,310.7 1676.7,317.2 1668,329.1 1662.4,319.3 1658.2,333.3 1659.5,321.4 1654.5,317.9 1660.2,301.5 1681.9,303.3 1676.2,289.7 1686.7,280 1659.1,284.5 1656.7,291.9 1641,295.2 1643.3,273.4 1629.6,278.3 1644.3,279.5 1642.7,291.7 1631,273.9 1597,237.1 1576.2,238.4 1570.4,233.3 1567,248 1545.1,269.6 1552,267.3 1555.2,242.2 1552.2,236.9 1553.9,239.8 1549.3,228.5 1568.8,240.9 1574,218.9 1563.4,206.6 1568,216.5 1568.8,218.3 1580.2,238.1 1604.1,270.3 1620.6,268.3 1627.9,276.2 1636.4,269.2 1613,265.2 1644.3,278.8 1654.1,261.4 1639.8,238 1632.8,242.2 1611.9,217.6 1610.2,212.2 1620.9,224.8 1600.9,229.6 1589.2,232.6 1578,233.9 1572.2,226.6 1564.2,217 1584.3,239.8 1587.8,248.6 1572,236.7 1571.9,241.1 1575.9,251 1572,264.6 1586.8,272.9 1606.5,273.4 1598.4,257.1 1580.4,274.4 1579.1,273.2 1586.6,264.3 1574,246.8 1573.7,237.3 1577.5,242.8 1570.8,265.4 1553,260.5 1537.3,244.3 1543.3,246.2 1534.3,226.4 1555.4,238.6 1552.8,231.9 1538.6,238.7 1557.5,215.6 1568.5,213.3 1566.2,201.4 1564.3,197.4 1573.4,202 1558.6,183.2 1572.5,203.8 1575.1,206.6 1584.1,209.6 1591.3,205 1595.2,217.4 1572.9,227.8 1559.2,239.3 1545.7,235.3 1550.2,215.9 1562.7,212.8 1556.8,236.3 1557.3,255 1541.7,257.5 1539.6,240.8 1548.1,236.5 1545.4,223.7 1530.6,197.7 1509,199.4 1492.7,186.1 1503.3,185.1 1513.2,190.5 1500.7,188.2 1500,178.4 1508.7,176.7 1509.5,194.2 1498.3,190.6 1509,176.3 1531.3,170.8 1515.6,173.7 1529.8,178 1536.4,182.8 1539.3,175.8 1532.7,172 1518.2,164.1 1511.1,180.8 1520.2,190.4 1532.5,193.3 1528.2,218 1517.4,203.3 1510.4,209.4 1498.6,201.2 1504,207 1506.1,173.8 1522.1,196.8 1538.2,183.3 1525.2,205.7 1519.3,188.3 1508.2,181.2 1514.4,204.4 1520.4,199.5 1528.4,190 1507.4,202.6 1527.4,200.2 1530.9,182 1539.1,166 1556,170.1 1563.2,179.3 1559.1,192.3 1567.7,182.2 1584.8,185.5 1607.6,170.2 1596.9,170.3 1591.1,200.8 1569.3,191.8 1596.7,147.6 1599.5,126.1 1616.2,114.1 1621.6,112.8 1626.5,132.2 1614.8,124.8 1623.6,120.2 1633.8,123.7 1642.5,152.8 1653.1,134.6 1634.9,149.9 1630.2,151.8 1617.9,145.7 1620.2,164.6 1631.4,181.4 1629.7,169.6 1628.1,159.6 1640,163.7 1636.3,148.4 1649.3,125.8 1667.3,128.7 1637.8,108.4 1640.6,98.9 1627.4,83.8 1620.3,95.6 1613.1,100.9 1642.2,99.2 1648.2,96 1645.5,82.3 1667.9,90.7 1651,100.3 1635.4,89.2 1622.5,100.9 1615.8,97.9 1607.4,122.2 1603.8,131.8 1584.5,139.6 1581.5,153.8 1569.5,147 1555,151.8 1566.9,176.5 1569.2,157.8 1575.5,174.9 1548.6,187.4 1539.1,185.5 1541.5,208.5 1545.9,209.6 1529.4,209.2 1540.3,209.1 1550,206.4 1566.7,222.4 1569,214.2 1597,191.2 1616.2,197.4 1624.1,225.7 1645.4,199.8 1616.3,199.5 1631.1,201.7 1640.9,179.6 1655.8,192.9 1643.1,227.8 1626,212.3 1628.5,209.9 1655.1,191.2 1644.4,192.9 1660.3,187.2 1676,199.4 1682.7,200.1 1665.5,202.3 1665.4,212.1 1658.2,202.8 1667.1,205.8 1650.7,209 1661.4,198.9 1657.6,187.1 1640.9,193.6 1638.1,190.8 1653,188.2 1635.5,214.6 1633,207.4 1641,202.1 1673.4,201.1 1666.6,202.7 1671.5,202.4 1662.9,197.2 1665.9,182.7 1639.8,182.9 1631,187.5 1613.6,185.1 1613.7,177.7 1606.2,191.2 1621.7,176.3 1604.7,159.6 1597.8,158.8 1584.6,168.6 1556.6,158.4 1569.7,143.7 1569,133.5 1546.5,138.1 1538.9,134.6 1526,135.4 1527.1,144.2 1531.3,146.5 1535.4,164.9 1540.2,163.5 1540.6,160 1548.3,147.8 1543.3,153.4 1519.7,157.1 1521.7,148.5 1508.8,151.5 1510.7,167.8 1514.3,168.4 1500.6,158.7 1501.7,186.8 1512.7,192.8 1513.4,182.2 1528.2,200.4 1523.3,210.9 1540.8,221.9 1527.1,203.6 1528.7,210.4 1532.7,202.6 1545.7,212 1540.4,218.3 1516.8,207.9 1528,206.9 1526.1,185.9 1524.4,169.3 1544.5,183.1 1545.1,189.3 1551.5,193.7 1561.1,191.6 1573.6,202.2 1578,202.9 1564.1,192.5 1555.8,189.1 1571.9,188.6 1569.2,168 1578.1,153.5 1585.2,144.7 1581.8,143 1576.6,135.8 1569.1,142.9 1568.1,138.7 1566.8,134.9 1586.3,122.6 1571.6,118.7 1557.6,129.4 1568.3,128.7 1576.2,124 1561.3,111.7 1581,130.1 1577.3,116.4 1580.7,127.3 1561.8,140.3 1568.8,128.5 1558.5,142.2 1559.6,139.8 1545,164.5 1539.6,158.3 1549.2,176.7 1536.6,176.9 1564.1,191.3 1548,193.4 1538.8,214 1569,201.2 1579.5,220.4 1579.2,205.5 1574.8,202.2 1574.1,201.6 1582,203.8 1555.4,199.9 1559.4,206.3 1540.7,216.3 1539.5,221 1539.2,210.6 1548.3,202.5 1538.5,200.4 1543,203.2 1556.1,192.1 1563.1,181.4 1550.9,176.8 1531.7,164.1 1546.9,191.9 1541.7,193.5 1548.3,176 1569.2,175.7 1572.5,173.8 1574.6,177.2 1592.8,185.1 1606.4,188.6 1610.8,172.9 1605.2,174 1611.6,165.4 1621.9,167.9 1615.5,160.8 1593.9,163.9 1569.6,190.5 1573.2,183 1582.4,177 1600.3,156.9 1589.6,162.9 1593.6,151.8 1575.3,143.4 1581.1,142.8 1596,117.9 1595,147.3 1602.5,129.5 1611.1,138.7 1617.2,123.9 1613,145 1600.2,140.5 1589.9,147.4 1583,120.3 1595.1,141 1606.8,141.5 1598.2,145.9 1593.8,144.8 1591.5,145 1592.3,131 1591.9,119.4 1588.4,144.2 1607.1,146 1597.1,130.8 1585.2,132.2 1582.1,123.9 1590.8,134.9 1597.1,138.7 1624.2,147.5 1633.2,160.1 1617.7,178.9 1634.9,183.7 1670.3,178.7 1654.5,184.9 1657,184.1 1661,206.8 1686.2,203.7 1689.2,182.4 1676,162.1 1692.9,173 1697.4,188.2 1694.1,202.1 1704.9,196.5 1697.5,188.9 1703.5,196.8 1707.2,186 1726.7,193.4 1748.8,211.2 1743,204.1 1727.5,201.2 1732,219.4 1760.3,237.5 1770.3,252.6 1747,252.2 1738.7,267.1 1722,292.1 1707,292.5 1699.7,291.1 1702.9,306.1 1686.8,305.3 1699.5,321.4 1673.4,310.9 1679.3,316.7 1665.4,322.3 1654.6,325.9 1667.4,345.3 1643.7,328.6 1646.9,296 1676.1,288.6 1673.6,280.7 1659,303.8 1653.7,289.1 1670.3,295.3 1690.2,299.4 1680.5,281.3 1677.2,287.6 1668.9,271.5 1665.4,251.9 1643.8,262.4 1638.4,270.5 1663.4,260.3 1643.1,272 1635.1,268.9 1606.6,260.8 1600.6,258.8 1596.7,272.8 1604.9,256.1 1625,252.1 1631.8,257.9 1649.6,277.3 1656.2,282.3 1643.4,275 1664.6,273.7 1660.6,286.3 1666.1,259.6 1664.3,274.4 1644.2,291.6 1631,286 1631.7,272 1648.3,268.4 1669.4,284.3 1686.6,262.3 1693.2,256.6 1694.7,232.5 1693.7,237.7 1668.9,224.7 1661.1,240.7 1649.5,220 1646.6,218.4 1637.9,211.4 1640.5,198.1 1647.3,196 1665.9,187.9 1663.8,185.5 1653.9,170.9 1659.2,193.2 1651.2,204.5 1653.5,201.3 1666.9,199.8 1687.7,158.8 1716.6,182.1 1721.6,172.8 1726.2,185.2 1720.2,203.9 1737,194.1 1700.6,174.3 1704.3,173.7 1690.5,165.4 1689,158.8 1673,164.4 1673.8,132.9 1680.9,125.9 1689.7,123.8 1667,134.8 1662.9,133.2 1641.2,136.3 1640.4,131.7 1647.6,147.6 1660.4,132.4 1652.6,126.4 1660,114.3 1658.5,117.6 1676,115 1655.6,125.7 1634.3,132.3 1642.9,141.3 1638.8,141.8 1663.3,128.8 1654.9,131.1 1664.6,96.3 1676.7,116.8 1657.2,111.3 1646.2,107.5 1635.9,113.8 1628.6,109.4 1625.1,93.8 1613.6,90.5 1627.6,103.7 1643.8,94.1 1639.2,93.2 1621.3,109.1 1613.9,102.3 1610.7,102.9 1608.6,88.2 1610.2,103.5 1614.8,120.8 1624.5,122.9 1623.7,142.6 1630.2,152.5 1609.9,166.6 1617.5,168.2 1599.7,175.4 1610,175.6 1612.9,179.3 1630.2,162.9 1632.6,145 1617.2,150.8 1631,129.7 1628.3,130.3 1650.7,118.8 1650.2,114.4 1667.5,111.1 1656.4,110.5 1670,109.4 1666.3,114.7 1664.9,111.5 1673.6,112.3 1686.4,132.4 1658.6,130.6 1628,113.3 1649.9,114.4 1638.8,108.8 1638.4,113.5 1645.4,116.3 1652.7,90.7 1662.6,98.9 1646.6,80.7 1671.8,86.3 1689.6,83.2 1703.5,90.2 1716.6,83.8 1713.5,72.1 1694.4,86.3 1690.5,94.2 1681.1,108.1 1674.7,121.1 1666.6,119.1 1683.6,116.2 1693.9,117.3 1687.4,122.7 1668,125.3 1677.9,126.5 1681.5,139.7 1675.9,140.5 1671.2,142.7 1655.9,132.5 1656.8,118.9 1669.4,105.6 1667.8,146.7 1664.4,159.2 1659.8,167.2 1639.9,179.9 1664.8,176.3 1660.4,201.9 1673.7,179.1 1671.9,192.6 1691.5,207.9 1687.8,203.3 1669.4,206 1671.2,199.2 1702.6,183.7 1692.3,181.5 1687.7,198.7 1706.4,180.3 1713.3,155.1 1730.7,152.9 1743.3,169.8 1756.9,154.5 1750.7,165.1 1738,133.5 1733.3,100 1735.6,91.6 1740.5,107.1 1727.7,121.3 1718.9,100.6 1711.3,89.8 1720.7,105.7 1712.3,118.8 1727.6,112.1 1725.6,89.1 1743,94.7 1724.3,100.3 1731.4,96.1 1728.6,105.6 1728.5,101.5 1721.4,102.5 1722.5,119.2 1728.8,113.1 1707.9,118.2 1729.7,121.4 1740.9,92.5 1746.2,101.9 1744,94.4 1751.6,97.3 1741.3,69.2 1746.8,77.9 1747.5,82.7 1750,82.8 1743.1,99.3 1758.1,93 1760.6,87.7 1748.5,78.4 1736.3,72 1724.3,83.2 1728.3,83.9 1733.3,79.9 1747.7,90.7 1707.3,95.9 1687,126.9 1688.2,125.4 1690.8,134.7 1662.4,122.2 1648.6,108.9 1634.5,105.1 1643.5,99 1647.2,95.3 1632.2,102.2 1636.1,81.3 1630.5,79.2 1649.8,79.3 1627.4,55.9 1613,62.2 1630.9,76.7 1620,86.2 1620.3,89.6 1591.5,106 1600.6,98 1616.3,130.6 1622.4,152.5 1627.1,173 1618.9,154.1 1627.5,130.6 1629,136.2 1623.2,128.1 1617,112.2 1596.4,87.6 1574.7,106.8 1558.1,98.9 1562.6,96.5 1551.1,115.5 1536.6,135.7 1545.3,141.1 1532.5,143.5 1537.3,135.3 1538.1,149.8 1539.5,179.6 1551.5,178 1552.2,181.5 1557.2,175.5 1571,179.1 1563.4,205.2 1551.1,201.3 1549.3,214.9 1531.6,208.8 1548.3,211.1 1538.9,187.9 1533.7,186.4 1537.4,196.9 1523.6,211.9 1533.9,215 1539.3,216.4 1552.6,229.5 1535,231 1535.8,226 1564.1,221.5 1577.9,219.3 1589.5,215.9 1597.9,229.5 1608.1,189.1 1602.8,226.8 1596.7,222.5 1574.9,228 1547,224.2 1536.2,238.9 1554,257 1570.3,251.6 1569.3,243.1 1571.3,251.7 1595.3,240.3 1592.2,273.7 1583.8,273 1582.3,273.6 1598.3,277.6 1623.9,271.6 1634.8,278.3 1640.1,269.5 1640.7,275.9 1641.9,250.7 1647.8,255.5 1647.7,242.7 1623.8,220.7 1635.9,214.3 1630.8,213.3 1626,214.7 1626.6,216.6 1632.1,203.6 1620.6,234.2 1612.1,218 1623.6,204.2 1622.3,197.4 1623,175.3 1661.7,203 1660.3,196.3 1662.1,184.7 1650.5,179.5 1635,186.1 1644.5,183 1642,177.2 1638.1,180.7 1628.7,193.4 1629.3,175.4 1625.5,175.8 1628,182.1 1607.9,176.2 1609.6,183.5 1614.2,155.3 1603.4,186.7 1594.8,221.6 1613.7,221 1622.7,207.8 1639.4,193.1 1608.6,168.3 1597.9,201.3 1606.8,200.6 1619.6,189.4 1605.6,202.5 1604,205.4 1615.5,218 1612.4,209.3 1609.5,198.4 1601.4,213.2 1629.1,202.7 1602.7,185.2 1594.4,167.4 1601.2,169.5 1597.5,160.1 1570.1,138.1 1567,147.5 1538.8,127.9 1546.2,138.8 1568,112.2 1570.3,98.2 1565.4,92.6 1572.7,92.9 1585.3,103.7 1583.2,92 1562.8,95 1558.6,110 1544.2,115.7 1556,103.1 1583.1,90.8 1590.7,75.3 1617.8,75.4 1594.9,82.8 1579.1,105.5 1561.5,115.4 1566.2,132.6 1566,133.3 1561.8,124.8 1540.3,132.2 1556.2,158.1 1560.6,160.6 1568,166.6 1559.6,201.3 1563.4,179.4 1563.9,174.9 1545.4,181.2 1535.7,179.3 1526.2,187.1 1541.9,191.1 1569.6,186.1 1587.1,195 1603.4,211.8 1620.3,214.5 1617.7,216.4 1609,234.9 1588.1,240.4 1609.9,232.8 1591.6,234.9 1584.4,228.1 1586.8,231.7 1594.1,243 1588,256.3 1580.5,250.6 1577.5,252.7 1598.2,249.2 1585.1,260.9 1563.1,268.9 1548.9,254.9 1531.1,224.6 1551.2,216.8 1553.6,205.1 1560.2,226.5 1551.4,228.4 1550,231.6 1540.6,235.1 1543.1,229.1 1541.4,210.3 1541.8,192.5 1547.1,204.4 1552.1,184.4 1569.1,166.7 1567.9,162.1 1563.5,176.6 1574.4,193.2 1573.1,180.4 1572.9,178.7 1545.9,178.9 1555.4,177.3 1559.5,183.2 1566.9,173.4 1588.1,161.1 1603.2,166.6 1605.7,182.9 1603,166.9 1617.8,183 1594.7,201.4 1602.7,200.2 1594.7,176 1609,149 1616.4,158 1619.3,140.4 1623.4,164.7 1614.9,161.1 1604.3,154.1 1605.5,163.3 1591.2,192.1 1576,195.7 1576.4,201 1576.4,188 1586.4,173.6 1580,198.9 1581.5,179.6 1597.8,179.8 1600.5,184.6 1573.9,163.7 1567.7,175.1 1587.8,189.1 1596,209.6 1574.1,234.4 1568.4,257.2 1591.4,244.1 1607.7,238 1619.4,239.2 1608.4,251.6 1605.9,239.5 1592.7,242.8 1605.2,218 1612.4,224.2 1633.7,231.9 1652.7,227.4 1641.6,228.6 1648.8,244.4 1642.9,250.5 1660.2,239.6 1674.4,256.9 1676.7,231.7 1682.6,227.3 1688.2,228.9 1696.2,260.5 1706.5,251.2 1709.2,241.9 1718.4,255.7 1723.6,260.2 1706.6,251.9 1677.2,251.4 1680,250.7 1677.7,248.5 1684.5,246.4 1683.6,271.1 1670,296 1650.2,301.3 1651.8,322 1670.6,309 1658.4,313.8 1661.4,320 1674.7,333.3 1678.1,328 1686.8,338 1683.1,351.1 1678.4,333.6 1682.1,344.7 1666,331.8 1682.6,333.7 1690.8,355.8 1678.1,340.9 1680,326.1 1696.2,306.4 1689.6,302.1 1698.6,273.8 1702.6,253.5 1684.4,266.5 1681.1,291.5 1674.4,279.9 1693.5,263.7 1696.5,247.4 1717.4,251.4 1720.9,256.6 1723.2,245.5 1709.2,238 1711.1,249.9 1735.3,259 1736,266.3 1750.6,270 1756.2,266.4 1764.8,267 1772.1,261.9 1752.7,264.7 1768.3,269.7 1737.3,255.5 1758.9,256.9 1782.1,260.2 1773.3,280.6 1742.9,278.3 1759,292.2 1740.9,293.5 1721.4,294.7 1708.6,291.4 1727.2,311.1 1722.8,322.2 1714.9,340.9 1710.1,333.1 1714.6,315.4 1721.6,313.4 1718.9,310.7 1742.5,318.3 1744.3,330.6 1753.5,329.6 1772,313 1744.2,323.9 1746,315.8 1767.4,287.6 1789.3,277 1777.7,287.2 1766.7,286.2 1767,296.5 1755.3,300.2 1755.9,311.2 1773.5,294.3 1766.2,290 1779.9,252.7 1769.6,255.8 1777.6,253.6 1763,230.2 1742.8,230.6 1740.5,208.5 1735.8,166.4 1720.7,170.2 1712.6,192.4 1712.8,187.4 1714.2,176.8 1720.4,164 1722.5,181.5 1715.7,187.2 1738,193 1749.1,202.7 1756,186.3 1753,176.5 1743.8,165.6 1729.4,159.7 1726.1,173.6 1716.2,178.7 1696.6,161.9 1676.8,159.4 1668.5,138.8 1677.8,138.3 1671.5,163.6 1668.3,168.7 1661.1,168 1647,178 1652.9,177.9 1664.2,188.4 1648.2,192.1 1652,199.2 1654.6,214 1651.9,203.1 1664,223.4 1643.2,206.4 1632.4,202.6 1653.9,210.6 1636.9,224.9 1651.1,228.3 1652.6,235.4 1661.7,251 1674.3,245.6 1682.9,247.3 1664.6,249.6 1665.7,207.7 1666.5,209.7 1671.1,201.6 1682.8,217.9 1680,199.3 1696.2,208.8 1715.2,215 1722.1,191.7 1740.7,200 1732,199.9 1751.7,193.8 1744.9,185.8 1759.7,168 1754.2,188.7 1764.1,176.1 1770.4,174.7 1783.3,186.7 1804.8,205.4 1791.5,208.2 1783.5,239.3 1767.5,252.4 1778.5,220.2 1777.6,195 1784.9,189.7 1788.8,176.7 1792.6,177.9 1785.3,165.3 1783.7,157.8 1760.5,170.3 1747.7,178.6 1738.9,165.1 1734.7,171.2 1753.9,184.9 1751.9,180.8 1766.6,176.2 1733.9,187.2 1738.6,160.6 1713.3,167.4 1741.3,177.1 1711.5,189 1742.2,201.9 1737.4,199.2 1719.6,196.6 1724.1,196.3 1715.3,209.8 1743.6,200.9 1716.8,197.1 1726,205.7 1738.1,188.3 1738.7,185.1 1746.7,180 1743.8,191.1 1750.1,222.5 1725.3,212.5 1712.1,217.6 1722.9,221.2 1730,225.1 1730,212 1743.5,223.1 1724.1,243.3 1710.3,238.8 1708.3,238.1 1717.9,246.7 1719.9,285.6 1722.2,286 1725.7,260.7 1718.8,252 1697.5,258.9 1677.6,263.6 1702,268.5 1695.7,261.1 1683.2,241.5 1664.4,233.3 1676.5,255.5 1662.6,245.4 1641.8,251.4 1630.1,247.9 1603.7,263.5 1602,254.2 1597.7,254 1573.8,269 1582,228.5 1578.5,212.5 1590.6,234.8 1614,243.5 1615.9,241.8 1604.5,241.1 1599.8,234.7 1599.5,249.4 1591.5,231.6 1597.8,225.7 1600.4,248.2 1591.3,259.7 1598.3,260.7 1598.3,247.5 1577.1,264.6 1587.1,249.2 1606.2,247 1607.4,234.4 1611.9,237.7 1642.7,230.2 1625.4,229.7 1643.1,205.7 1642.6,222.1 1626.3,228.9 1643.8,214.1 1613.6,212.4 1628.7,218.1 1649.5,213.8 1668,200.7 1639.8,187.1 1642.8,190.5 1650.1,212.9 1652,212 1680.4,212.7 1669.4,197.9 1654.8,189.8 1654,184.4 1684.3,174.8 1639.3,173.8 1650.8,159.6 1642.6,155.7 1663.3,164.3 1650.1,174.8 1632.2,183.3 1641.3,187.6 1647.9,170.1 1655.2,173.8 1668.5,163.3 1672.8,146.3 1654.7,134.2 1630.6,149.5 1628.3,147.5 1633.9,148.3 1604.8,160.3 1625.5,152.8 1621.2,139.2 1635.6,174 1626.3,180 1647.7,180.3 1675.7,180 1674,199.3 1668.6,212.4 1671.5,193.5 1645.6,178.5 1647,184.3 1634.6,189.1 1632.5,180.1 1622.6,193.8 1625.2,202.7 1621.5,206.4 1629.7,174.4 1637.3,155.5 1631.8,162.1 1629.3,171 1627.9,180.7 1668.2,162.4 1670.5,159.6 1644.5,139.3 1613.7,156.1 1624.9,140 1610.7,155.4 1588.3,132.5 1625.6,135.2 1632.5,131.9 1635,133 1641.5,127.4 1629.9,135.8 1622.3,136.4 1627.4,129.4 1607.8,143.4 1599.7,163.1 1619.2,162.1 1620.7,160.2 1640.6,169.9 1629.4,170.8 1614.9,188.4 1623.4,184.8 1595.9,201.1 1602.8,212.4 1601.3,197.9 1602.8,209.7 1584,213.8 1593.1,221.1 1591.7,218.8 1558.7,218.2 1564.3,215.9 1582.3,222 1579.3,200.9 1582.8,187.8 1582.3,189.8 1600.2,199.1 1634.3,184.9 1635.1,149.1 1645.2,151.4 1644.7,129.5 1642,137.6 1650.6,131.8 1653.6,134.2 1655.8,136.7 1672.6,137.5 1673.5,144.9 1676.2,164.4 1676.1,175.1 1673.4,172 1638.3,176.7 1646.5,176.2 1653.2,189.4 1646.8,209.8 1668.7,217.9 1681,220.4 1678.7,218.9 1656,197.4 1648.5,176.1 1644.2,172.5 1652.8,170.6 1643.9,170.5 1658.3,160.6 1640.4,159.2 1649.3,156.5 1656.2,146.2 1681.9,135.4 1685.8,144.6 1684.9,138.2 1679.4,145.6 1657.1,145.1 1662.6,153 1693.9,158 1665.9,140.4 1691.8,149.4 1683.5,141.8 1682,150.1 1708.5,182.9 1691.7,178 1705.6,182.2 1713.5,163.1 1703.8,164.4 1699.3,180.9 1690.7,158.6 1694.8,155.3 1672.6,155.7 1683.2,169.3 1685.7,166.8 1660.4,151.7 1675,157.1 1688,166.8 1680.3,175.3 1666,199.7 1653.2,187.8 1647.6,195.5 1640.6,222.2 1638.9,213.8 1633.6,213.9 1636.8,194.2 1650.4,213.4 1670.1,227 1713.9,228.4 1698.9,221.6 1684.7,202.9 1701.5,210.1 1694.2,200.3 1684.2,184.1 1674.7,186.4 1659.9,171.9 1664.5,173 1674.9,174.5 1652.8,156.3 1664.4,160.9 1662.7,160.1 1688.9,142.4 1702.3,139.8 1710,145.8 1706.6,150.8 1694.3,132.4 1680.9,142.1 1688.1,127.3 1700.5,131.7 1704.6,141.7 1706.7,139 1702.9,144.2 1684.7,174.6 1685.3,165.5 1685.5,163.7 1682.2,162.9 1673,168.9 1686.1,178.2 1692.4,171.4 1686.3,182.2 1698.4,175.2 1711.5,188.9 1717.9,193.1 1725.7,179.7 1723.9,163.1 1727,180.2 1713.3,163.8 1708.7,169.7 1717,163.5 1717.6,190.2 1706.1,181.3 1720.8,181.1 1714.8,175.8 1707,204.3 1721.7,212.2 1706.2,190.3 1703.6,183.2 1706.3,171.9 1702.5,158.4 1722,182.3 1712.7,200.7 1708.2,203.5 1710.6,193.1 1674.5,160.1 1664.4,169.1 1680.2,168.7 1662.9,171.4 1662.9,170.9 1662.2,175 1655.8,175.3 1669.1,183.7 1685.8,185.4 1683,189.9 1694.2,189 1696,189.5 1703.9,202.6 1684,187.1 1662.8,194.1 1645.1,200.8 1633.9,189.6 1622.3,186.1 1616.6,194.4 1621.7,176.8 1638.7,160.7 1658.4,147.4 1637.9,149.7 1642.4,178.6 1652.8,187 1644.6,203 1658.8,207 1654.8,206.1 1624.4,192.7 1608.2,177.5 1595.9,192.1 1590.4,174 1598.4,150.4 1586.6,154.3 1574.8,142.7 1593.2,151.5 1584.1,163.5 1588.5,167.5 1598.2,144.2 1581.6,124.1 1596.1,129.8 1594.6,147.4 1594.4,165.7 1585.6,165.8 1588,173.6 1614,160.2 1629.8,168.4 1623.4,177.8 1651.8,178.5 1645.6,182.2 1637.1,191.7 1633,193.9 1625.6,178.1 1628.5,153.7 1638.4,150.6 1638,151.8 1625.7,140.6 1635.2,123.7 1645.6,111.3 1653.4,106.3 1652,99.5 1661.3,100.2 1643.8,94.9 1642.3,88.8 1651.8,82.3 1673.5,74.6 1678.3,90.6 1669.8,86.4 1659.8,80.1 1651.7,74.9 1671.5,82.7 1685.8,84.6 1660,100.9 1665.4,115.6 1698.3,117.9 1679.8,105.7 1681.7,121.4 1681.1,126.3 1688,113.7 1709.4,100.6 1703.1,89.6 1703.5,84.6 1694.1,101.5 1701.5,91.9 1688.3,79.3 1678.1,81.6 1681.9,88.1 1691.4,104.2 1682.1,94.8 1704.7,123.3 1680.5,95 1671.5,87 1676.5,90.1 1694.1,92.9 1687.1,83.9 1681.4,83.4 1697.8,107.6 1700.3,98.5 1720.4,77.1 1710.4,101.6 1718.6,111.1 1727.1,128.5 1739.4,135.1 1753.4,143.5 1747.4,136.1 1754.2,145.6 1743,130.7 1721,137.9 1703,130.9 1713.1,103.6 1705.8,102.7 1720.9,91.6 1711.7,92.3 1709.8,68.2 1715.7,77.1 1717.8,69 1712.2,80.8 1729.7,67.5 1714.5,77.5 1746,76.8 1744.1,89.3 1750.3,72.9 1752.9,96.2 1725.3,101.7 1731.6,98 1727,137.5 1731.3,144.5 1751.5,145.9 1723.9,159 1743.6,162.6 1732.5,157.7 1734.4,156.8 1723,162.5 1728.1,143.5 1725.7,154.5 1736.5,138.1 1729,133.1 1691.7,122.9 1675.7,111.9 1689,113.5 1689.6,97 1688,101.1 1672.3,92.6 1667.9,98.1 1693.4,90 1678,110.5 1673.9,118.5 1686.2,106.2 1696.5,119.7 1672.1,133.9 1687.3,149.6 1691.5,167.2 1698.8,158.6 1707,159.9 1709.4,151.3 1724.1,173.2 1734.4,164.5 1738.2,170.1 1721,173.5 1714.7,178.9 1731.8,194.8 1750.4,179.1 1765.6,199.3 1775.6,202.6 1753.2,220.7 1742.8,218.5 1739.5,232.5 1751,237.6 1760.2,231.9 1772.8,200.6 1783.8,205.9 1765.3,202.1 1766.3,206.1 1754.3,194.8 1744.8,207.6 1738.9,221.9 1768.8,216.5 1776.2,217.5 1790.6,201.1 1802.9,211.9 1790.7,205.3 1761.5,188.1 1760.8,205 1751.3,220.5 1783,210.7 1785.5,201 1811.2,208.3 1813.1,201.8 1822.5,196.8 1820.5,200.5 1814.7,206.6 1813.8,203.9 1785.1,207.4 1791.4,201.4 1789.6,203.9 1780.9,208.6 1748.2,209.5 1764.4,222.5 1770.4,218.6 1783.1,228.5 1776.2,218.5 1779.4,222.5 1804.1,211.7 1809.8,206.1 1800.1,226.1 1816.2,217.7 1799.6,215.4 1794,243.1 1781.9,220.8 1788,226.7 1793.5,242.1 1794.3,244.1 1807.2,243 1812.1,259.3 1800.7,295.1 1812.8,291.4 1822.3,299.6 1834.7,293.5 1829.2,267.8 1813.4,285.1 1817.1,302.6 1825,297 1807.6,294.3 1818.1,290.8 1821.3,285.5 1813.5,275.8 1819.7,297.1 1816.3,278.2 1802.4,274.6 1836.2,290.3 1833.7,295.9 1827,294.8 1816.8,286.9 1803.2,301.1 1800,292.2 1788.7,265.8 1781.3,244.9 1800.7,249.3 1802.4,248.7 1796.5,253.3 1791.8,241 1802,218.2 1810.2,217.9 1790.9,207.9 1774.4,216.2 1761.2,212.3 1764.6,211.7 1765,219.5 1757.4,221.2 1769.2,211 1754.4,196 1741.7,174.3 1762.3,172.4 1759.5,171 1744.7,162.3 1758.6,150.7 1753,151.5 1744.3,177.5 1739.2,158.1 1722.6,157.8 1725.8,153.2 1717.7,168.4 1725.6,161.7 1726.3,158.3 1717.9,174.5 1714,161.1 1723.3,181 1733.9,166.8 1758.3,195.5 1777.5,224.5 1788.3,239 1777.3,232.6 1794.6,232.6 1790.1,258.8 1793.5,276.4 1790.7,280.8 1799.1,260.5 1804.6,252.6 1798.8,274.2 1796.8,272.8 1793.5,276.4 1786.9,267.9 1775.7,265.6 1789.4,277.7 1739.6,275.6 1758,287 1753.1,301.7 1738.2,300.2 1741.7,310.3 1747.8,283.2 1757.6,297.4 1763.3,297.2 1776.5,280.7 1754.9,264.8 1727.6,247.9 1733,254.6 1731.2,276.3 1720.6,264.3 1721.3,254.5 1729.7,252.4 1712.9,252.1 1720.2,239.5 1695.4,219.5 1684.9,228.1 1647,231.9 1642.7,219 1643.5,230.4 1647.4,202.5 1644.3,199.3 1648,205.9 1656.7,205.8 1668.3,193 1666.1,172.3 1651.8,189.1 1649.9,176.2 1627.8,190.8 1634.7,186.2 1641.5,181.3 1637.7,181.7 1637.2,176.9 1630.5,181.4 1623.9,159.7 1620,178.4 1603.3,191 1599.8,173.4 1591.5,156.2 1595.5,149.2 1585.3,162.5 1584.2,189 1590.8,206.3 1591.1,207.5 1587.1,215.9 1591,216 1570.5,201.3 1578.1,181 1571.5,184.5 1582.2,170.8 1601,172.1 1611.8,173.7 1591.5,185.8 1602.7,187.8 1603.8,181.5 1634.1,196.7 1621.2,185.4 1606.6,170.8 1611.2,170.6 1588.3,149 1565.2,153.6 1580.1,139.9 1572,163.8 1568.1,132 1565.2,120.8 1579.7,133.5 1577.4,121.5 1569.9,128.9 1552.4,132.8 1540.6,121.4 1547.2,117.2 1566.3,88.8 1578.4,77.5 1591,98.9 1603.8,104.8 1610.4,106.6 1616.7,91.5 1614.1,86.6 1633.3,85.3 1646.3,103.8 1667.8,109.2 1666.9,122.8 1672.8,158.8 1670.9,180.7 1641.9,210.4 1652.4,194.1 1653.2,183.7 1659.7,192.3 1668.7,204.9 1672.9,204.9 1671.3,204.5 1664.8,201.7 1676.5,190.9 1679.9,204.7 1670.5,205.7 1685.2,207.8 1686.5,190.5 1677.3,205.9 1672.3,212.7 1656.6,214.5 1652.4,225.6 1649.1,227.3 1682,223.6 1685.3,215 1677,213.5 1697.1,204.7 1706,229.5 1726.2,217.1 1739.6,225.1 1718,255.5 1708.6,275 1702.9,275.7 1734.6,281.7 1732.8,292.2 1720.8,289.3 1709.3,285.4 1693.1,281.1 1716.7,277.1 1709.6,263.6 1697.3,255.3 1694.4,242.9 1694.8,223.6 1696.5,235.8 1698.6,242.4 1711.5,217.3 1704.6,208.1 1682.8,225.2 1687.8,220 1690.2,224.8 1688.8,199.4 1706.2,183.8 1718.6,176.4 1731.3,136.2 1743.6,142 1728.9,143.5 1739.7,152.1 1748.2,144 1727.5,141.2 1723.7,140.5 1704.1,132.4 1693.9,150.7 1699.7,162.5 1695.2,166.9 1714.4,153.1 1693.5,150.2 1692.7,142 1683.3,127.4 1667.8,120.3 1680.3,102.2 1676.6,108.6 1661.1,111 1672.2,124.1 1671.3,137.5 1661.6,129.6 1654,130.1 1665.7,118.9 1691.1,126.9 1707,128.1 1737.8,130.6 1724.5,124.3 1727.7,127.7 1740.8,119 1742.5,104.8 1740.6,102 1728.7,86.7 1729.8,84.6 1722.8,102.2 1721.6,83.2 1715,101.5 1729.3,99.3 1741.6,112 1747.8,132 1744.5,137 1757.3,144.9 1752.5,144.2 1752.9,137.8 1759.9,153.9 1758,155.5 1764.9,167.9 1750.5,175.8 1759.7,182.3 1754.2,181.2 1753.8,193 1760.2,184.9 1744.9,202.8 1766.6,176.7 1794.3,169.3 1804.5,180.4 1806,171.9 1809.8,175.3 1816.8,185 1813.3,205 1829,208.3 1824,177.9 1808.9,193.5 1826.6,188.2 1808.6,180.4 1807.2,210.4 1792.3,199.4 1788.2,203.4 1787.6,201.3 1784.7,223.3 1777.7,203.9 1785.7,222.2 1772.2,243.3 1783.6,239.7 1791.2,235.9 1786.5,243.7 1772.7,242.5" fill="none" stroke="#5799c7" stroke-width="4.4" stroke-linejoin="round" stroke-linecap="square"/>
<polyline points="1531.2,250.5 1540.6,269.4 1544.4,299.5 1550,310.8 1546.3,322.1 1559.4,329.6 1576.4,337.1 1583.9,348.4 1598.9,363.4 1606.5,367.2 1621.5,361.6 1640.3,361.6 1651.6,365.3 1670.4,361.6 1681.7,357.8 1696.8,361.6 1715.6,369.1 1741.9,371" fill="none" stroke="#5799c7" stroke-width="4.4" stroke-linejoin="round" stroke-linecap="square"/>
<polyline points="1660,372 1665,392 1656,405 1672,395 1690,400 1695,385 1675,380 1662,388 1685,376" fill="none" stroke="#5799c7" stroke-width="4.4" stroke-linejoin="round" stroke-linecap="square"/>
<polyline points="1757,164 1772,153 1795,151 1810,160 1802,175 1817,179 1832,175 1847,181 1870,179 1870,187 1859,188 1851,194 1832,198 1829,213 1810,217 1798,232 1780,198 1802,192 1810,202 1798,209 1783,211" fill="none" stroke="#5799c7" stroke-width="4.4" stroke-linejoin="round" stroke-linecap="square"/>
<path d="M1745 158L1789.1 126" stroke="#5799c7" stroke-width="4.4"/>
</g>
<rect x="1475.7" y="21.4" width="414.2" height="403.3" fill="none" stroke="#000" stroke-width="2.2" stroke-linejoin="miter"/>
<path d="M1551.7 424.7v10.0M1669.7 424.7v10.0M1787.2 424.7v10.0" stroke="#000" stroke-width="2.2"/>
<text transform="translate(1551.7 463.3) scale(1 1.06)" y="10.2" text-anchor="middle" font-size="29.2">−0.50</text>
<text transform="translate(1669.7 463.3) scale(1 1.06)" y="10.2" text-anchor="middle" font-size="29.2">−0.25</text>
<text transform="translate(1787.2 463.3) scale(1 1.06)" y="10.2" text-anchor="middle" font-size="29.2">0.00</text>
<path d="M1475.7 49h-10.0M1475.7 126.9h-10.0M1475.7 204.5h-10.0M1475.7 282.2h-10.0M1475.7 359.9h-10.0" stroke="#000" stroke-width="2.2"/>
<text transform="translate(1450.8 49.6) scale(1 1.06)" y="10.2" text-anchor="end" font-size="29.2">0.25</text>
<text transform="translate(1450.8 127.5) scale(1 1.06)" y="10.2" text-anchor="end" font-size="29.2">0.00</text>
<text transform="translate(1450.8 205.1) scale(1 1.06)" y="10.2" text-anchor="end" font-size="29.2">−0.25</text>
<text transform="translate(1450.8 282.8) scale(1 1.06)" y="10.2" text-anchor="end" font-size="29.2">−0.50</text>
<text transform="translate(1450.8 360.5) scale(1 1.06)" y="10.2" text-anchor="end" font-size="29.2">−0.75</text>
<text x="1682.8" y="520.5" text-anchor="middle" font-size="29.2">x (μm)</text>
<text transform="translate(1348.5 223.5) rotate(-90)" text-anchor="middle" font-size="29.2">y (μm)</text>
<g clip-path="url(#clipd)">
<path d="M168.5 1007.9V1008.4M179.1 1000.7V1001.8M189.6 993.5V995.2M200.2 986.3V988.6M210.8 979V982M221.3 971.8V975.4M231.9 964.5V968.9M242.4 957.2V962.3M253 949.9V955.8M263.6 942.6V949.3M274.1 935.3V942.8M284.7 928V936.3M295.3 920.7V929.8M305.8 913.3V923.3M316.4 906V916.8M326.9 898.6V910.4M337.5 891.2V903.9M348.1 883.8V897.5M358.6 876.4V891.1M369.2 869V884.7M379.8 861.5V878.3M390.3 854.1V871.9M400.9 846.6V865.6M411.4 839.2V859.2M422 831.7V852.9M432.6 824.2V846.5M443.1 816.7V840.2M453.7 809.2V833.9M464.3 801.6V827.6M474.8 794.1V821.3M485.4 786.5V815M495.9 779V808.8M506.5 771.4V802.5M517.1 763.8V796.3M527.6 756.2V790.1M538.2 748.6V783.9M548.7 741V777.7M559.3 733.3V771.5M569.9 725.7V765.3M580.4 718V759.1" stroke="#1f77b4" stroke-width="4.4"/>
<path d="M168.5 1007.3V1007.5M179.1 999.1V999.8M189.6 990.7V992.1M200.2 982.1V984.3M210.8 973.4V976.4M221.3 964.4V968.5M231.9 955.3V960.5M242.4 946V952.4M253 936.5V944.2M263.6 926.8V935.9M274.1 916.9V927.6M284.7 906.9V919.2M295.3 896.7V910.6M305.8 886.3V902M316.4 875.8V893.3M326.9 865V884.6M337.5 854.1V875.7M348.1 843.1V866.7M358.6 831.8V857.7M369.2 820.4V848.6M379.8 808.8V839.4M390.3 797.1V830M400.9 785.1V820.7M411.4 773V811.2M422 760.8V801.6M432.6 748.3V791.9M443.1 735.7V782.2M453.7 722.9V772.4M464.3 709.9V762.4M474.8 696.8V752.4M485.4 683.5V742.3M495.9 670V732.1M506.5 656.4V721.9M517.1 642.5V711.5M527.6 628.5V701M538.2 614.4V690.5M548.7 600V679.9M559.3 585.5V669.2M569.9 570.8V658.4M580.4 555.9V647.5" stroke="#ff7f0e" stroke-width="4.4"/>
<path d="M168.5 1009.4V1009.6M179.1 1003.3V1003.8M189.6 996.5V997.5M200.2 988.9V990.6M210.8 980.7V983.2M221.3 971.8V975.2M231.9 962.1V966.7M242.4 951.8V957.6M253 940.7V948M263.6 928.9V937.8M274.1 916.4V927.1M284.7 903.2V915.9M295.3 889.3V904.1M305.8 874.7V891.8M316.4 859.3V879M326.9 843.2V865.6M337.5 826.4V851.7M348.1 808.8V837.2M358.6 790.6V822.3M369.2 771.6V806.8M379.8 751.8V790.8M390.3 731.3V774.3M400.9 710.1V757.3M411.4 688.2V739.7M422 665.5V721.7M432.6 642V703.1M443.1 617.8V684M453.7 592.9V664.4M464.3 567.2V644.3M474.8 540.8V623.7M485.4 513.6V602.6M495.9 485.6V581M506.5 456.9V558.9M517.1 427.5V536.3M527.6 397.3V513.2M538.2 366.3V489.7M548.7 334.5V465.6M559.3 302V441M569.9 268.8V416M580.4 234.7V390.4" stroke="#2ca02c" stroke-width="4.4"/>
<path d="M168.5 1008.8V1009M179.1 1001.1V1001.7M189.6 991.7V993M200.2 980.5V982.8M210.8 967.7V971.2M221.3 953.1V958.1M231.9 936.9V943.7M242.4 918.9V927.8M253 899.1V910.6M263.6 877.7V892M274.1 854.4V871.9M284.7 829.4V850.5M295.3 802.7V827.8M305.8 774.2V803.6M316.4 743.9V778.2M326.9 711.8V751.3M337.5 677.9V723.2M348.1 642.2V693.6M358.6 604.7V662.8M369.2 565.4V630.6M379.8 524.3V597.1M390.3 481.4V562.3M400.9 436.7V526.2M411.4 390.1V488.8M422 341.7V450.1M432.6 291.5V410M443.1 239.4V368.7M453.7 185.4V326.1M464.3 129.6V282.3M474.8 72V237.1M485.4 12.5V190.7M495.9 -48.9V143M506.5 -112.1V94M517.1 -177.2V43.8M527.6 -244.2V-7.7M538.2 -313.1V-60.4M548.7 -383.9V-114.3M559.3 -456.6V-169.5M569.9 -531.1V-226M580.4 -607.6V-283.7" stroke="#d62728" stroke-width="4.4"/>
<path d="M168.5 1007.2L583.6 747.6" stroke="#000" stroke-width="5.83" stroke-dasharray="21.6 9.3" fill="none"/>
<polyline points="168.5,1008.2 179.1,1001.3 189.6,994.3 200.2,987.4 210.8,980.5 221.3,973.6 231.9,966.7 242.4,959.8 253,952.9 263.6,946 274.1,939 284.7,932.1 295.3,925.2 305.8,918.3 316.4,911.4 326.9,904.5 337.5,897.6 348.1,890.7 358.6,883.7 369.2,876.8 379.8,869.9 390.3,863 400.9,856.1 411.4,849.2 422,842.3 432.6,835.4 443.1,828.4 453.7,821.5 464.3,814.6 474.8,807.7 485.4,800.8 495.9,793.9 506.5,787 517.1,780.1 527.6,773.1 538.2,766.2 548.7,759.3 559.3,752.4 569.9,745.5 580.4,738.6" fill="none" stroke="#1f77b4" stroke-width="4.4" stroke-linejoin="round" stroke-linecap="square"/>
<polyline points="168.5,1007.4 179.1,999.5 189.6,991.4 200.2,983.2 210.8,974.9 221.3,966.5 231.9,957.9 242.4,949.2 253,940.3 263.6,931.4 274.1,922.3 284.7,913 295.3,903.7 305.8,894.2 316.4,884.6 326.9,874.8 337.5,864.9 348.1,854.9 358.6,844.8 369.2,834.5 379.8,824.1 390.3,813.6 400.9,802.9 411.4,792.1 422,781.2 432.6,770.1 443.1,758.9 453.7,747.6 464.3,736.2 474.8,724.6 485.4,712.9 495.9,701.1 506.5,689.1 517.1,677 527.6,664.8 538.2,652.4 548.7,639.9 559.3,627.3 569.9,614.6 580.4,601.7" fill="none" stroke="#ff7f0e" stroke-width="4.4" stroke-linejoin="round" stroke-linecap="square"/>
<polyline points="168.5,1009.5 179.1,1003.6 189.6,997 200.2,989.8 210.8,982 221.3,973.5 231.9,964.4 242.4,954.7 253,944.3 263.6,933.4 274.1,921.8 284.7,909.6 295.3,896.7 305.8,883.2 316.4,869.1 326.9,854.4 337.5,839 348.1,823 358.6,806.4 369.2,789.2 379.8,771.3 390.3,752.8 400.9,733.7 411.4,713.9 422,693.6 432.6,672.5 443.1,650.9 453.7,628.7 464.3,605.8 474.8,582.2 485.4,558.1 495.9,533.3 506.5,507.9 517.1,481.9 527.6,455.3 538.2,428 548.7,400.1 559.3,371.5 569.9,342.4 580.4,312.6" fill="none" stroke="#2ca02c" stroke-width="4.4" stroke-linejoin="round" stroke-linecap="square"/>
<polyline points="168.5,1008.9 179.1,1001.4 189.6,992.3 200.2,981.7 210.8,969.4 221.3,955.6 231.9,940.3 242.4,923.4 253,904.9 263.6,884.8 274.1,863.2 284.7,840 295.3,815.2 305.8,788.9 316.4,761 326.9,731.5 337.5,700.5 348.1,667.9 358.6,633.8 369.2,598 379.8,560.7 390.3,521.9 400.9,481.4 411.4,439.4 422,395.9 432.6,350.8 443.1,304.1 453.7,255.8 464.3,206 474.8,154.6 485.4,101.6 495.9,47.1 506.5,-9 517.1,-66.7 527.6,-126 538.2,-186.8 548.7,-249.1 559.3,-313.1 569.9,-378.6 580.4,-445.6" fill="none" stroke="#d62728" stroke-width="4.4" stroke-linejoin="round" stroke-linecap="square"/>
</g>
<rect x="159.3" y="611" width="414" height="403.2" fill="none" stroke="#000" stroke-width="2.2" stroke-linejoin="miter"/>
<path d="M159.3 1014.2v10.0M262.8 1014.2v10.0M366.3 1014.2v10.0M469.8 1014.2v10.0M573.3 1014.2v10.0" stroke="#000" stroke-width="2.2"/>
<text transform="translate(159.3 1051.4) scale(1 1.06)" y="10.2" text-anchor="middle" font-size="29.2">0.00</text>
<text transform="translate(262.8 1051.4) scale(1 1.06)" y="10.2" text-anchor="middle" font-size="29.2">0.01</text>
<text transform="translate(366.3 1051.4) scale(1 1.06)" y="10.2" text-anchor="middle" font-size="29.2">0.02</text>
<text transform="translate(469.8 1051.4) scale(1 1.06)" y="10.2" text-anchor="middle" font-size="29.2">0.03</text>
<text transform="translate(573.3 1051.4) scale(1 1.06)" y="10.2" text-anchor="middle" font-size="29.2">0.04</text>
<path d="M159.3 1014.2h-10.0M159.3 812.6h-10.0M159.3 611h-10.0" stroke="#000" stroke-width="2.2"/>
<text transform="translate(132.2 1014.8) scale(1 1.06)" y="10.2" text-anchor="end" font-size="29.2">0</text>
<text transform="translate(132.2 813.2) scale(1 1.06)" y="10.2" text-anchor="end" font-size="29.2">500</text>
<text transform="translate(132.2 611.6) scale(1 1.06)" y="10.2" text-anchor="end" font-size="29.2">1000</text>
<text x="366.3" y="1109.3" text-anchor="middle" font-size="29.2">time (s)</text>
<text transform="translate(39 815) rotate(-90)" text-anchor="middle" font-size="29.2"><tspan font-size="31.8">MSD</tspan><tspan font-size="20.4" dy="6" font-style="italic">ϕ</tspan><tspan dy="-6">(</tspan><tspan font-style="italic">t</tspan>) (mrad<tspan font-size="20.4" dy="-10">2</tspan><tspan dy="10">)</tspan></text>
<rect x="174.2" y="625.6" width="203.2" height="226.1" rx="5.5" fill="#fff" fill-opacity="0.8" stroke="#cccccc" stroke-width="2.6"/>
<text x="198.7" y="658.3" font-size="29.2">Power (a.u.)</text>
<path d="M189.3 693.2H252.9M221.1 678.7V707.7" stroke="#1f77b4" stroke-width="4.4"/>
<text transform="translate(267.5 692.9) scale(1 1.06)" y="10.2" font-size="29.2">0.003</text>
<path d="M189.3 736.8H252.9M221.1 722.3V751.3" stroke="#ff7f0e" stroke-width="4.4"/>
<text transform="translate(267.5 736.5) scale(1 1.06)" y="10.2" font-size="29.2">0.006</text>
<path d="M189.3 780.4H252.9M221.1 765.9V794.9" stroke="#2ca02c" stroke-width="4.4"/>
<text transform="translate(267.5 780.1) scale(1 1.06)" y="10.2" font-size="29.2">0.012</text>
<path d="M189.3 824H252.9M221.1 809.5V838.5" stroke="#d62728" stroke-width="4.4"/>
<text transform="translate(267.5 823.7) scale(1 1.06)" y="10.2" font-size="29.2">0.019</text>
<g clip-path="url(#clipe)">
<path d="M835.5 1007.9V1008.4M846.1 1000.7V1001.8M856.6 993.5V995.2M867.2 986.2V988.6M877.8 979V982M888.3 971.8V975.4M898.9 964.5V968.9M909.4 957.3V962.4M920 950.1V955.9M930.6 942.8V949.4M941.1 935.6V943M951.7 928.3V936.6M962.3 921.1V930.1M972.8 913.8V923.8M983.4 906.6V917.4M993.9 899.3V911M1004.5 892.1V904.7M1015.1 884.8V898.4M1025.6 877.5V892.1M1036.2 870.3V885.9M1046.8 863V879.6M1057.3 855.7V873.4M1067.9 848.5V867.2M1078.4 841.2V861M1089 833.9V854.8M1099.6 826.6V848.7M1110.1 819.4V842.6M1120.7 812.1V836.5M1131.3 804.8V830.4M1141.8 797.5V824.3M1152.4 790.2V818.3M1162.9 782.9V812.2M1173.5 775.6V806.2M1184.1 768.3V800.2M1194.6 761V794.3M1205.2 753.7V788.3M1215.7 746.4V782.4M1226.3 739.1V776.5M1236.9 731.8V770.6M1247.4 724.5V764.7" stroke="#1f77b4" stroke-width="4.4"/>
<path d="M835.5 1008.2L1250.6 736" stroke="#000" stroke-width="5.83" stroke-dasharray="21.6 9.3" fill="none"/>
<polyline points="835.5,1008.2 846.1,1001.2 856.6,994.3 867.2,987.4 877.8,980.5 888.3,973.6 898.9,966.7 909.4,959.8 920,953 930.6,946.1 941.1,939.3 951.7,932.4 962.3,925.6 972.8,918.8 983.4,912 993.9,905.2 1004.5,898.4 1015.1,891.6 1025.6,884.8 1036.2,878.1 1046.8,871.3 1057.3,864.6 1067.9,857.8 1078.4,851.1 1089,844.4 1099.6,837.7 1110.1,831 1120.7,824.3 1131.3,817.6 1141.8,810.9 1152.4,804.2 1162.9,797.6 1173.5,790.9 1184.1,784.3 1194.6,777.7 1205.2,771 1215.7,764.4 1226.3,757.8 1236.9,751.2 1247.4,744.6" fill="none" stroke="#1f77b4" stroke-width="4.4" stroke-linejoin="round" stroke-linecap="square"/>
</g>
<rect x="826.3" y="611" width="414" height="403.2" fill="none" stroke="#000" stroke-width="2.2" stroke-linejoin="miter"/>
<path d="M826.3 1014.2v10.0M929.8 1014.2v10.0M1033.3 1014.2v10.0M1136.8 1014.2v10.0M1240.3 1014.2v10.0" stroke="#000" stroke-width="2.2"/>
<text transform="translate(826.3 1051.4) scale(1 1.06)" y="10.2" text-anchor="middle" font-size="29.2">0.00</text>
<text transform="translate(929.8 1051.4) scale(1 1.06)" y="10.2" text-anchor="middle" font-size="29.2">0.01</text>
<text transform="translate(1033.3 1051.4) scale(1 1.06)" y="10.2" text-anchor="middle" font-size="29.2">0.02</text>
<text transform="translate(1136.8 1051.4) scale(1 1.06)" y="10.2" text-anchor="middle" font-size="29.2">0.03</text>
<text transform="translate(1240.3 1051.4) scale(1 1.06)" y="10.2" text-anchor="middle" font-size="29.2">0.04</text>
<path d="M826.3 1014.2h-10.0M826.3 913.4h-10.0M826.3 812.6h-10.0M826.3 711.8h-10.0M826.3 611h-10.0" stroke="#000" stroke-width="2.2"/>
<text transform="translate(798.5 1014.8) scale(1 1.06)" y="10.2" text-anchor="end" font-size="29.2">0.000</text>
<text transform="translate(798.5 914) scale(1 1.06)" y="10.2" text-anchor="end" font-size="29.2">0.005</text>
<text transform="translate(798.5 813.2) scale(1 1.06)" y="10.2" text-anchor="end" font-size="29.2">0.010</text>
<text transform="translate(798.5 712.4) scale(1 1.06)" y="10.2" text-anchor="end" font-size="29.2">0.015</text>
<text transform="translate(798.5 611.6) scale(1 1.06)" y="10.2" text-anchor="end" font-size="29.2">0.020</text>
<text x="1033.3" y="1109.3" text-anchor="middle" font-size="29.2">time (s)</text>
<text transform="translate(691.3 813.1) rotate(-90)" text-anchor="middle" font-size="29.2"><tspan font-size="31.8">MSD</tspan><tspan font-size="20.4" dy="6" font-style="italic">xy</tspan><tspan dy="-6"> (μm</tspan><tspan font-size="20.4" dy="-10">2</tspan><tspan dy="10">)</tspan></text>
<rect x="841.3" y="625.7" width="203" height="96.3" rx="5.5" fill="#fff" fill-opacity="0.8" stroke="#cccccc" stroke-width="2.6"/>
<text x="852.3" y="660.2" font-size="29.2">Power (a.u.)</text>
<path d="M856.1 693.5H920.1M888.4 678.7V708.3" stroke="#1f77b4" stroke-width="4.4"/>
<text transform="translate(934.6 693.2) scale(1 1.06)" y="10.2" font-size="29.2">0.003</text>
<g clip-path="url(#clipf)">
<g fill="#1f77b4" filter="url(#blurf)"><polygon points="1460,786 1465,786 1470,786 1475,786 1480,785.1 1485,782.1 1490,775.8 1495,769.6 1500,763.4 1505,757.2 1510,749.8 1515,742.5 1520,735.1 1525,727.8 1530,731.5 1535,740.9 1540,750.2 1545,759.6 1550,761.6 1555,760.1 1560,758.6 1565,757.1 1570,758.9 1575,767.3 1580,775.6 1585,784 1590,788.1 1595,777.1 1600,766.2 1605,755.2 1610,744.4 1615,740.8 1620,737.2 1625,733.6 1630,730 1635,733.5 1640,738.5 1645,743.6 1650,748.7 1655,751.6 1660,752.7 1665,753.8 1670,754.9 1675,759.9 1680,768.9 1685,777.9 1690,786.9 1695,790 1700,782.4 1705,774.9 1710,767.3 1715,760.3 1720,754.3 1725,748.2 1730,742.2 1735,738.2 1740,740.3 1745,742.3 1750,744.4 1755,746.3 1760,746.3 1765,746.3 1770,746.3 1775,746.3 1780,751.6 1785,757.2 1790,762.8 1795,768.4 1800,768.7 1805,767 1810,765.3 1815,763.6 1820,759.8 1825,752.7 1830,745.6 1835,738.5 1840,736.3 1845,740.9 1850,745.5 1855,750 1860,753.9 1865,755.4 1870,756.9 1875,758.4 1880,759.9 1885,761.8 1890,763.6 1895,764 1900,764 1905,764 1905,854.3 1900,854.3 1895,854.3 1890,853.9 1885,852.1 1880,850.2 1875,848.7 1870,847.2 1865,845.7 1860,844.2 1855,840.3 1850,835.8 1845,831.2 1840,826.6 1835,828.8 1830,835.9 1825,843 1820,850.1 1815,853.9 1810,855.6 1805,857.3 1800,859 1795,858.7 1790,853.1 1785,847.5 1780,841.9 1775,836.6 1770,836.6 1765,836.6 1760,836.6 1755,836.6 1750,834.7 1745,832.6 1740,830.6 1735,828.5 1730,832.5 1725,838.5 1720,844.6 1715,850.6 1710,857.6 1705,865.2 1700,872.7 1695,880.3 1690,877.2 1685,868.2 1680,859.2 1675,850.2 1670,845.2 1665,844.1 1660,843 1655,841.9 1650,839 1645,833.9 1640,828.8 1635,823.8 1630,820.3 1625,823.9 1620,827.5 1615,831.1 1610,834.7 1605,845.5 1600,856.5 1595,867.4 1590,878.4 1585,874.3 1580,865.9 1575,857.6 1570,849.2 1565,847.4 1560,848.9 1555,850.4 1550,851.9 1545,849.9 1540,840.5 1535,831.2 1530,821.8 1525,818.1 1520,825.4 1515,832.8 1510,840.1 1505,847.5 1500,853.7 1495,859.9 1490,866.1 1485,872.4 1480,875.4 1475,876.3 1470,876.3 1465,876.3 1460,876.3" fill-opacity="0.13"/><rect x="1513" y="658.7" width="16" height="117" fill-opacity="0.2"/><rect x="1611" y="669.4" width="16" height="110.5" fill-opacity="0.2"/><rect x="1716" y="697.8" width="16" height="93.6" fill-opacity="0.1"/><rect x="1757" y="697.3" width="16" height="91" fill-opacity="0.1"/><rect x="1822" y="699.2" width="16" height="88.4" fill-opacity="0.1"/><rect x="1862" y="720.9" width="16" height="78" fill-opacity="0.1"/><rect x="1487" y="811.6" width="16" height="65" fill-opacity="0"/><rect x="1584" y="825.7" width="16" height="71.5" fill-opacity="0"/><rect x="1689" y="829" width="16" height="65" fill-opacity="0"/><rect x="1797" y="809" width="16" height="58.5" fill-opacity="0"/></g>
<g class="sc"><circle cx="1777" cy="789" r="4.3"/><circle cx="1524" cy="690" r="4.3"/><circle cx="1510" cy="747" r="4.3"/><circle cx="1664" cy="814" r="4.3"/><circle cx="1624" cy="810" r="4.3"/><circle cx="1692" cy="730" r="4.3"/><circle cx="1753" cy="778" r="4.3"/><circle cx="1759" cy="776" r="4.3"/><circle cx="1878" cy="791" r="4.3"/><circle cx="1605" cy="791" r="4.3"/><circle cx="1772" cy="699" r="4.3"/><circle cx="1770" cy="770" r="4.3"/><circle cx="1586" cy="868" r="4.3"/><circle cx="1614" cy="812" r="4.3"/><circle cx="1528" cy="674" r="4.3"/><circle cx="1485" cy="861" r="4.3"/><circle cx="1851" cy="732" r="4.3"/><circle cx="1767" cy="837" r="4.3"/><circle cx="1506" cy="812" r="4.3"/><circle cx="1553" cy="759" r="4.3"/><circle cx="1506" cy="894" r="4.3"/><circle cx="1736" cy="790" r="4.3"/><circle cx="1632" cy="729" r="4.3"/><circle cx="1572" cy="742" r="4.3"/><circle cx="1603" cy="804" r="4.3"/><circle cx="1723" cy="770" r="4.3"/><circle cx="1507" cy="797" r="4.3"/><circle cx="1725" cy="782" r="4.3"/><circle cx="1700" cy="784" r="4.3"/><circle cx="1529" cy="696" r="4.3"/><circle cx="1816" cy="767" r="4.3"/><circle cx="1501" cy="790" r="4.3"/><circle cx="1617" cy="703" r="4.3"/><circle cx="1617" cy="763" r="4.3"/><circle cx="1746" cy="800" r="4.3"/><circle cx="1771" cy="785" r="4.3"/><circle cx="1735" cy="844" r="4.3"/><circle cx="1872" cy="785" r="4.3"/><circle cx="1565" cy="789" r="4.3"/><circle cx="1570" cy="759" r="4.3"/><circle cx="1816" cy="834" r="4.3"/><circle cx="1486" cy="809" r="4.3"/><circle cx="1652" cy="812" r="4.3"/><circle cx="1757" cy="767" r="4.3"/><circle cx="1624" cy="676" r="4.3"/><circle cx="1564" cy="822" r="4.3"/><circle cx="1764" cy="772" r="4.3"/><circle cx="1819" cy="865" r="4.3"/><circle cx="1490" cy="922" r="4.3"/><circle cx="1875" cy="804" r="4.3"/><circle cx="1779" cy="738" r="4.3"/><circle cx="1741" cy="787" r="4.3"/><circle cx="1711" cy="821" r="4.3"/><circle cx="1834" cy="657" r="4.3"/><circle cx="1523" cy="740" r="4.3"/><circle cx="1727" cy="771" r="4.3"/><circle cx="1515" cy="815" r="4.3"/><circle cx="1767" cy="789" r="4.3"/><circle cx="1606" cy="888" r="4.3"/><circle cx="1545" cy="872" r="4.3"/><circle cx="1515" cy="762" r="4.3"/><circle cx="1754" cy="756" r="4.3"/><circle cx="1833" cy="741" r="4.3"/><circle cx="1752" cy="803" r="4.3"/><circle cx="1871" cy="793" r="4.3"/><circle cx="1879" cy="797" r="4.3"/><circle cx="1828" cy="752" r="4.3"/><circle cx="1571" cy="782" r="4.3"/><circle cx="1667" cy="855" r="4.3"/><circle cx="1729" cy="757" r="4.3"/><circle cx="1834" cy="745" r="4.3"/><circle cx="1523" cy="696" r="4.3"/><circle cx="1575" cy="866" r="4.3"/><circle cx="1515" cy="729" r="4.3"/><circle cx="1755" cy="862" r="4.3"/><circle cx="1635" cy="778" r="4.3"/><circle cx="1622" cy="720" r="4.3"/><circle cx="1722" cy="700" r="4.3"/><circle cx="1884" cy="808" r="4.3"/><circle cx="1789" cy="802" r="4.3"/><circle cx="1526" cy="635" r="4.3"/><circle cx="1843" cy="736" r="4.3"/><circle cx="1602" cy="785" r="4.3"/><circle cx="1494" cy="816" r="4.3"/><circle cx="1512" cy="796" r="4.3"/><circle cx="1858" cy="860" r="4.3"/><circle cx="1611" cy="783" r="4.3"/><circle cx="1883" cy="816" r="4.3"/><circle cx="1828" cy="892" r="4.3"/><circle cx="1580" cy="842" r="4.3"/><circle cx="1547" cy="719" r="4.3"/><circle cx="1536" cy="730" r="4.3"/><circle cx="1885" cy="754" r="4.3"/><circle cx="1823" cy="686" r="4.3"/><circle cx="1481" cy="876" r="4.3"/><circle cx="1821" cy="730" r="4.3"/><circle cx="1616" cy="754" r="4.3"/><circle cx="1537" cy="729" r="4.3"/><circle cx="1822" cy="855" r="4.3"/><circle cx="1583" cy="885" r="4.3"/><circle cx="1726" cy="748" r="4.3"/><circle cx="1563" cy="815" r="4.3"/><circle cx="1872" cy="852" r="4.3"/><circle cx="1884" cy="786" r="4.3"/><circle cx="1754" cy="818" r="4.3"/><circle cx="1860" cy="807" r="4.3"/><circle cx="1866" cy="703" r="4.3"/><circle cx="1473" cy="792" r="4.3"/><circle cx="1772" cy="820" r="4.3"/><circle cx="1770" cy="823" r="4.3"/><circle cx="1471" cy="841" r="4.3"/><circle cx="1862" cy="732" r="4.3"/><circle cx="1832" cy="732" r="4.3"/><circle cx="1743" cy="853" r="4.3"/><circle cx="1625" cy="701" r="4.3"/><circle cx="1728" cy="666" r="4.3"/><circle cx="1599" cy="800" r="4.3"/><circle cx="1867" cy="804" r="4.3"/><circle cx="1599" cy="741" r="4.3"/><circle cx="1883" cy="753" r="4.3"/><circle cx="1873" cy="834" r="4.3"/><circle cx="1613" cy="670" r="4.3"/><circle cx="1807" cy="823" r="4.3"/><circle cx="1790" cy="737" r="4.3"/><circle cx="1593" cy="757" r="4.3"/><circle cx="1787" cy="737" r="4.3"/><circle cx="1529" cy="744" r="4.3"/><circle cx="1538" cy="763" r="4.3"/><circle cx="1488" cy="850" r="4.3"/><circle cx="1622" cy="703" r="4.3"/><circle cx="1672" cy="767" r="4.3"/><circle cx="1666" cy="765" r="4.3"/><circle cx="1587" cy="809" r="4.3"/><circle cx="1680" cy="792" r="4.3"/><circle cx="1647" cy="874" r="4.3"/><circle cx="1786" cy="756" r="4.3"/><circle cx="1794" cy="857" r="4.3"/><circle cx="1808" cy="829" r="4.3"/><circle cx="1554" cy="781" r="4.3"/><circle cx="1605" cy="805" r="4.3"/><circle cx="1750" cy="818" r="4.3"/><circle cx="1674" cy="800" r="4.3"/><circle cx="1528" cy="799" r="4.3"/><circle cx="1682" cy="865" r="4.3"/><circle cx="1611" cy="767" r="4.3"/><circle cx="1655" cy="760" r="4.3"/><circle cx="1857" cy="722" r="4.3"/><circle cx="1559" cy="737" r="4.3"/><circle cx="1826" cy="747" r="4.3"/><circle cx="1622" cy="802" r="4.3"/><circle cx="1584" cy="870" r="4.3"/><circle cx="1732" cy="742" r="4.3"/><circle cx="1876" cy="765" r="4.3"/><circle cx="1869" cy="798" r="4.3"/><circle cx="1816" cy="823" r="4.3"/><circle cx="1738" cy="764" r="4.3"/><circle cx="1878" cy="885" r="4.3"/><circle cx="1494" cy="767" r="4.3"/><circle cx="1858" cy="755" r="4.3"/><circle cx="1815" cy="791" r="4.3"/><circle cx="1609" cy="917" r="4.3"/><circle cx="1620" cy="628" r="4.3"/><circle cx="1618" cy="728" r="4.3"/><circle cx="1615" cy="713" r="4.3"/><circle cx="1767" cy="833" r="4.3"/><circle cx="1845" cy="786" r="4.3"/><circle cx="1702" cy="822" r="4.3"/><circle cx="1477" cy="928" r="4.3"/><circle cx="1815" cy="784" r="4.3"/><circle cx="1784" cy="727" r="4.3"/><circle cx="1826" cy="720" r="4.3"/><circle cx="1863" cy="696" r="4.3"/><circle cx="1747" cy="770" r="4.3"/><circle cx="1759" cy="741" r="4.3"/><circle cx="1617" cy="751" r="4.3"/><circle cx="1694" cy="822" r="4.3"/><circle cx="1785" cy="748" r="4.3"/><circle cx="1781" cy="858" r="4.3"/><circle cx="1476" cy="950" r="4.3"/><circle cx="1723" cy="757" r="4.3"/><circle cx="1725" cy="781" r="4.3"/><circle cx="1767" cy="720" r="4.3"/><circle cx="1782" cy="802" r="4.3"/><circle cx="1709" cy="813" r="4.3"/><circle cx="1812" cy="796" r="4.3"/><circle cx="1754" cy="744" r="4.3"/><circle cx="1713" cy="840" r="4.3"/><circle cx="1482" cy="898" r="4.3"/><circle cx="1775" cy="712" r="4.3"/><circle cx="1833" cy="857" r="4.3"/><circle cx="1677" cy="873" r="4.3"/><circle cx="1790" cy="791" r="4.3"/><circle cx="1702" cy="822" r="4.3"/><circle cx="1729" cy="809" r="4.3"/><circle cx="1526" cy="701" r="4.3"/><circle cx="1716" cy="780" r="4.3"/><circle cx="1722" cy="679" r="4.3"/><circle cx="1878" cy="847" r="4.3"/><circle cx="1780" cy="841" r="4.3"/><circle cx="1507" cy="795" r="4.3"/><circle cx="1727" cy="816" r="4.3"/><circle cx="1509" cy="679" r="4.3"/><circle cx="1832" cy="733" r="4.3"/><circle cx="1722" cy="802" r="4.3"/><circle cx="1613" cy="729" r="4.3"/><circle cx="1514" cy="719" r="4.3"/><circle cx="1724" cy="778" r="4.3"/><circle cx="1510" cy="892" r="4.3"/><circle cx="1878" cy="853" r="4.3"/><circle cx="1794" cy="789" r="4.3"/><circle cx="1726" cy="777" r="4.3"/><circle cx="1842" cy="851" r="4.3"/><circle cx="1613" cy="787" r="4.3"/><circle cx="1623" cy="709" r="4.3"/><circle cx="1633" cy="694" r="4.3"/><circle cx="1869" cy="745" r="4.3"/><circle cx="1474" cy="869" r="4.3"/><circle cx="1722" cy="716" r="4.3"/><circle cx="1627" cy="670" r="4.3"/><circle cx="1887" cy="750" r="4.3"/><circle cx="1517" cy="694" r="4.3"/><circle cx="1836" cy="727" r="4.3"/><circle cx="1474" cy="819" r="4.3"/><circle cx="1520" cy="837" r="4.3"/><circle cx="1646" cy="760" r="4.3"/><circle cx="1729" cy="726" r="4.3"/><circle cx="1816" cy="822" r="4.3"/><circle cx="1826" cy="774" r="4.3"/><circle cx="1612" cy="765" r="4.3"/><circle cx="1880" cy="770" r="4.3"/><circle cx="1831" cy="771" r="4.3"/><circle cx="1874" cy="743" r="4.3"/><circle cx="1826" cy="748" r="4.3"/><circle cx="1769" cy="742" r="4.3"/><circle cx="1761" cy="797" r="4.3"/><circle cx="1698" cy="822" r="4.3"/><circle cx="1517" cy="744" r="4.3"/><circle cx="1616" cy="819" r="4.3"/><circle cx="1744" cy="797" r="4.3"/><circle cx="1763" cy="781" r="4.3"/><circle cx="1608" cy="625" r="4.3"/><circle cx="1613" cy="701" r="4.3"/><circle cx="1596" cy="773" r="4.3"/><circle cx="1756" cy="656" r="4.3"/><circle cx="1508" cy="822" r="4.3"/><circle cx="1692" cy="864" r="4.3"/><circle cx="1895" cy="854" r="4.3"/><circle cx="1547" cy="774" r="4.3"/><circle cx="1888" cy="755" r="4.3"/><circle cx="1496" cy="878" r="4.3"/><circle cx="1485" cy="873" r="4.3"/><circle cx="1578" cy="851" r="4.3"/><circle cx="1831" cy="836" r="4.3"/><circle cx="1855" cy="862" r="4.3"/><circle cx="1655" cy="756" r="4.3"/><circle cx="1799" cy="891" r="4.3"/><circle cx="1624" cy="727" r="4.3"/><circle cx="1499" cy="759" r="4.3"/><circle cx="1632" cy="699" r="4.3"/><circle cx="1773" cy="767" r="4.3"/><circle cx="1508" cy="887" r="4.3"/><circle cx="1683" cy="836" r="4.3"/><circle cx="1694" cy="830" r="4.3"/><circle cx="1873" cy="763" r="4.3"/><circle cx="1872" cy="781" r="4.3"/><circle cx="1763" cy="754" r="4.3"/><circle cx="1594" cy="833" r="4.3"/><circle cx="1788" cy="826" r="4.3"/><circle cx="1827" cy="690" r="4.3"/><circle cx="1564" cy="848" r="4.3"/><circle cx="1534" cy="660" r="4.3"/><circle cx="1826" cy="878" r="4.3"/><circle cx="1529" cy="694" r="4.3"/><circle cx="1528" cy="665" r="4.3"/><circle cx="1840" cy="725" r="4.3"/><circle cx="1759" cy="765" r="4.3"/><circle cx="1675" cy="790" r="4.3"/><circle cx="1525" cy="691" r="4.3"/><circle cx="1475" cy="787" r="4.3"/><circle cx="1496" cy="770" r="4.3"/><circle cx="1891" cy="836" r="4.3"/><circle cx="1840" cy="731" r="4.3"/><circle cx="1475" cy="844" r="4.3"/><circle cx="1641" cy="742" r="4.3"/><circle cx="1533" cy="843" r="4.3"/><circle cx="1767" cy="733" r="4.3"/><circle cx="1871" cy="805" r="4.3"/><circle cx="1860" cy="857" r="4.3"/><circle cx="1741" cy="746" r="4.3"/><circle cx="1515" cy="717" r="4.3"/><circle cx="1523" cy="875" r="4.3"/><circle cx="1759" cy="712" r="4.3"/><circle cx="1607" cy="798" r="4.3"/><circle cx="1512" cy="697" r="4.3"/><circle cx="1501" cy="867" r="4.3"/><circle cx="1625" cy="757" r="4.3"/><circle cx="1694" cy="893" r="4.3"/><circle cx="1615" cy="608" r="4.3"/><circle cx="1776" cy="726" r="4.3"/><circle cx="1532" cy="841" r="4.3"/><circle cx="1514" cy="726" r="4.3"/><circle cx="1757" cy="858" r="4.3"/><circle cx="1760" cy="838" r="4.3"/><circle cx="1541" cy="786" r="4.3"/><circle cx="1617" cy="777" r="4.3"/><circle cx="1626" cy="757" r="4.3"/><circle cx="1757" cy="849" r="4.3"/><circle cx="1699" cy="910" r="4.3"/><circle cx="1841" cy="787" r="4.3"/><circle cx="1710" cy="830" r="4.3"/><circle cx="1568" cy="798" r="4.3"/><circle cx="1528" cy="715" r="4.3"/><circle cx="1594" cy="770" r="4.3"/><circle cx="1827" cy="798" r="4.3"/><circle cx="1492" cy="777" r="4.3"/><circle cx="1684" cy="868" r="4.3"/><circle cx="1617" cy="744" r="4.3"/><circle cx="1618" cy="783" r="4.3"/><circle cx="1637" cy="741" r="4.3"/><circle cx="1589" cy="974" r="4.3"/><circle cx="1758" cy="798" r="4.3"/><circle cx="1875" cy="807" r="4.3"/><circle cx="1860" cy="778" r="4.3"/><circle cx="1636" cy="695" r="4.3"/><circle cx="1739" cy="747" r="4.3"/><circle cx="1824" cy="870" r="4.3"/><circle cx="1653" cy="850" r="4.3"/><circle cx="1829" cy="787" r="4.3"/><circle cx="1613" cy="749" r="4.3"/><circle cx="1769" cy="785" r="4.3"/><circle cx="1606" cy="793" r="4.3"/><circle cx="1651" cy="806" r="4.3"/><circle cx="1600" cy="914" r="4.3"/><circle cx="1836" cy="759" r="4.3"/><circle cx="1608" cy="755" r="4.3"/><circle cx="1530" cy="750" r="4.3"/><circle cx="1717" cy="717" r="4.3"/><circle cx="1611" cy="771" r="4.3"/><circle cx="1876" cy="823" r="4.3"/><circle cx="1611" cy="776" r="4.3"/><circle cx="1525" cy="693" r="4.3"/><circle cx="1487" cy="840" r="4.3"/><circle cx="1808" cy="764" r="4.3"/><circle cx="1502" cy="798" r="4.3"/><circle cx="1565" cy="792" r="4.3"/><circle cx="1619" cy="722" r="4.3"/><circle cx="1832" cy="747" r="4.3"/><circle cx="1585" cy="816" r="4.3"/><circle cx="1720" cy="667" r="4.3"/><circle cx="1559" cy="818" r="4.3"/><circle cx="1775" cy="761" r="4.3"/><circle cx="1714" cy="812" r="4.3"/><circle cx="1852" cy="766" r="4.3"/><circle cx="1587" cy="848" r="4.3"/><circle cx="1718" cy="732" r="4.3"/><circle cx="1649" cy="768" r="4.3"/><circle cx="1581" cy="795" r="4.3"/><circle cx="1516" cy="709" r="4.3"/><circle cx="1718" cy="833" r="4.3"/><circle cx="1702" cy="891" r="4.3"/><circle cx="1530" cy="741" r="4.3"/><circle cx="1759" cy="703" r="4.3"/><circle cx="1628" cy="691" r="4.3"/><circle cx="1478" cy="801" r="4.3"/><circle cx="1698" cy="952" r="4.3"/><circle cx="1864" cy="799" r="4.3"/><circle cx="1484" cy="899" r="4.3"/><circle cx="1849" cy="768" r="4.3"/><circle cx="1603" cy="796" r="4.3"/><circle cx="1670" cy="785" r="4.3"/><circle cx="1834" cy="775" r="4.3"/><circle cx="1887" cy="804" r="4.3"/><circle cx="1828" cy="839" r="4.3"/><circle cx="1866" cy="717" r="4.3"/><circle cx="1667" cy="791" r="4.3"/><circle cx="1683" cy="841" r="4.3"/><circle cx="1838" cy="782" r="4.3"/><circle cx="1868" cy="748" r="4.3"/><circle cx="1856" cy="764" r="4.3"/><circle cx="1833" cy="773" r="4.3"/><circle cx="1561" cy="827" r="4.3"/><circle cx="1773" cy="855" r="4.3"/><circle cx="1520" cy="699" r="4.3"/><circle cx="1553" cy="854" r="4.3"/><circle cx="1516" cy="736" r="4.3"/><circle cx="1547" cy="798" r="4.3"/><circle cx="1701" cy="842" r="4.3"/><circle cx="1517" cy="774" r="4.3"/><circle cx="1613" cy="621" r="4.3"/><circle cx="1823" cy="775" r="4.3"/><circle cx="1754" cy="804" r="4.3"/><circle cx="1737" cy="794" r="4.3"/><circle cx="1827" cy="759" r="4.3"/><circle cx="1874" cy="738" r="4.3"/><circle cx="1497" cy="898" r="4.3"/><circle cx="1563" cy="863" r="4.3"/><circle cx="1509" cy="815" r="4.3"/><circle cx="1565" cy="849" r="4.3"/><circle cx="1832" cy="790" r="4.3"/><circle cx="1822" cy="829" r="4.3"/><circle cx="1705" cy="816" r="4.3"/><circle cx="1619" cy="724" r="4.3"/><circle cx="1872" cy="800" r="4.3"/><circle cx="1837" cy="785" r="4.3"/><circle cx="1837" cy="758" r="4.3"/><circle cx="1479" cy="822" r="4.3"/><circle cx="1519" cy="656" r="4.3"/><circle cx="1545" cy="780" r="4.3"/><circle cx="1816" cy="774" r="4.3"/><circle cx="1544" cy="843" r="4.3"/><circle cx="1511" cy="791" r="4.3"/><circle cx="1764" cy="775" r="4.3"/><circle cx="1471" cy="833" r="4.3"/><circle cx="1737" cy="764" r="4.3"/><circle cx="1719" cy="796" r="4.3"/><circle cx="1746" cy="763" r="4.3"/><circle cx="1760" cy="737" r="4.3"/><circle cx="1612" cy="739" r="4.3"/><circle cx="1725" cy="783" r="4.3"/><circle cx="1627" cy="742" r="4.3"/><circle cx="1855" cy="859" r="4.3"/><circle cx="1518" cy="802" r="4.3"/><circle cx="1715" cy="779" r="4.3"/><circle cx="1591" cy="880" r="4.3"/><circle cx="1866" cy="871" r="4.3"/><circle cx="1870" cy="813" r="4.3"/><circle cx="1512" cy="726" r="4.3"/><circle cx="1509" cy="730" r="4.3"/><circle cx="1614" cy="737" r="4.3"/><circle cx="1623" cy="738" r="4.3"/><circle cx="1765" cy="836" r="4.3"/><circle cx="1831" cy="786" r="4.3"/><circle cx="1617" cy="637" r="4.3"/><circle cx="1766" cy="670" r="4.3"/><circle cx="1870" cy="744" r="4.3"/><circle cx="1614" cy="878" r="4.3"/><circle cx="1625" cy="742" r="4.3"/><circle cx="1523" cy="629" r="4.3"/><circle cx="1629" cy="711" r="4.3"/><circle cx="1791" cy="745" r="4.3"/><circle cx="1693" cy="875" r="4.3"/><circle cx="1674" cy="864" r="4.3"/><circle cx="1770" cy="787" r="4.3"/><circle cx="1516" cy="715" r="4.3"/><circle cx="1830" cy="675" r="4.3"/><circle cx="1586" cy="744" r="4.3"/><circle cx="1533" cy="702" r="4.3"/><circle cx="1775" cy="742" r="4.3"/><circle cx="1756" cy="701" r="4.3"/><circle cx="1755" cy="774" r="4.3"/><circle cx="1715" cy="735" r="4.3"/><circle cx="1602" cy="723" r="4.3"/><circle cx="1524" cy="717" r="4.3"/><circle cx="1500" cy="780" r="4.3"/><circle cx="1527" cy="607" r="4.3"/><circle cx="1824" cy="779" r="4.3"/><circle cx="1848" cy="808" r="4.3"/><circle cx="1700" cy="861" r="4.3"/><circle cx="1561" cy="736" r="4.3"/><circle cx="1630" cy="717" r="4.3"/><circle cx="1543" cy="671" r="4.3"/><circle cx="1587" cy="839" r="4.3"/><circle cx="1827" cy="720" r="4.3"/><circle cx="1614" cy="700" r="4.3"/><circle cx="1890" cy="794" r="4.3"/><circle cx="1720" cy="879" r="4.3"/><circle cx="1548" cy="907" r="4.3"/><circle cx="1821" cy="723" r="4.3"/><circle cx="1694" cy="831" r="4.3"/><circle cx="1551" cy="836" r="4.3"/><circle cx="1477" cy="788" r="4.3"/><circle cx="1626" cy="740" r="4.3"/><circle cx="1821" cy="681" r="4.3"/><circle cx="1491" cy="840" r="4.3"/><circle cx="1769" cy="773" r="4.3"/><circle cx="1498" cy="818" r="4.3"/><circle cx="1619" cy="770" r="4.3"/><circle cx="1855" cy="804" r="4.3"/><circle cx="1815" cy="765" r="4.3"/><circle cx="1633" cy="735" r="4.3"/><circle cx="1760" cy="835" r="4.3"/><circle cx="1622" cy="770" r="4.3"/><circle cx="1592" cy="805" r="4.3"/><circle cx="1817" cy="834" r="4.3"/><circle cx="1668" cy="806" r="4.3"/><circle cx="1520" cy="784" r="4.3"/><circle cx="1873" cy="658" r="4.3"/><circle cx="1726" cy="759" r="4.3"/><circle cx="1727" cy="793" r="4.3"/><circle cx="1829" cy="830" r="4.3"/><circle cx="1490" cy="856" r="4.3"/><circle cx="1506" cy="776" r="4.3"/><circle cx="1731" cy="654" r="4.3"/><circle cx="1619" cy="622" r="4.3"/><circle cx="1808" cy="755" r="4.3"/><circle cx="1586" cy="846" r="4.3"/><circle cx="1492" cy="857" r="4.3"/><circle cx="1709" cy="803" r="4.3"/><circle cx="1827" cy="773" r="4.3"/><circle cx="1711" cy="847" r="4.3"/><circle cx="1547" cy="757" r="4.3"/><circle cx="1658" cy="786" r="4.3"/><circle cx="1630" cy="786" r="4.3"/><circle cx="1816" cy="759" r="4.3"/><circle cx="1650" cy="830" r="4.3"/><circle cx="1712" cy="844" r="4.3"/><circle cx="1727" cy="727" r="4.3"/><circle cx="1638" cy="692" r="4.3"/><circle cx="1706" cy="865" r="4.3"/><circle cx="1625" cy="695" r="4.3"/><circle cx="1743" cy="848" r="4.3"/><circle cx="1698" cy="886" r="4.3"/><circle cx="1707" cy="862" r="4.3"/><circle cx="1585" cy="748" r="4.3"/><circle cx="1609" cy="779" r="4.3"/><circle cx="1791" cy="757" r="4.3"/><circle cx="1848" cy="765" r="4.3"/><circle cx="1888" cy="837" r="4.3"/><circle cx="1720" cy="705" r="4.3"/><circle cx="1858" cy="823" r="4.3"/><circle cx="1520" cy="759" r="4.3"/><circle cx="1739" cy="792" r="4.3"/><circle cx="1806" cy="850" r="4.3"/><circle cx="1528" cy="737" r="4.3"/><circle cx="1770" cy="863" r="4.3"/><circle cx="1729" cy="747" r="4.3"/><circle cx="1759" cy="801" r="4.3"/><circle cx="1618" cy="633" r="4.3"/><circle cx="1560" cy="757" r="4.3"/><circle cx="1835" cy="780" r="4.3"/><circle cx="1510" cy="778" r="4.3"/><circle cx="1721" cy="765" r="4.3"/><circle cx="1495" cy="823" r="4.3"/><circle cx="1765" cy="760" r="4.3"/><circle cx="1562" cy="872" r="4.3"/><circle cx="1522" cy="670" r="4.3"/><circle cx="1885" cy="746" r="4.3"/><circle cx="1813" cy="703" r="4.3"/><circle cx="1807" cy="853" r="4.3"/><circle cx="1752" cy="851" r="4.3"/><circle cx="1870" cy="712" r="4.3"/><circle cx="1874" cy="801" r="4.3"/><circle cx="1483" cy="851" r="4.3"/><circle cx="1832" cy="821" r="4.3"/><circle cx="1870" cy="694" r="4.3"/><circle cx="1695" cy="847" r="4.3"/><circle cx="1837" cy="700" r="4.3"/><circle cx="1665" cy="807" r="4.3"/><circle cx="1515" cy="761" r="4.3"/><circle cx="1706" cy="789" r="4.3"/><circle cx="1882" cy="815" r="4.3"/><circle cx="1601" cy="713" r="4.3"/><circle cx="1663" cy="822" r="4.3"/><circle cx="1545" cy="788" r="4.3"/><circle cx="1480" cy="873" r="4.3"/><circle cx="1868" cy="779" r="4.3"/><circle cx="1615" cy="709" r="4.3"/><circle cx="1513" cy="766" r="4.3"/><circle cx="1643" cy="700" r="4.3"/><circle cx="1754" cy="817" r="4.3"/><circle cx="1699" cy="821" r="4.3"/><circle cx="1526" cy="635" r="4.3"/><circle cx="1851" cy="732" r="4.3"/><circle cx="1831" cy="766" r="4.3"/><circle cx="1727" cy="781" r="4.3"/><circle cx="1492" cy="831" r="4.3"/><circle cx="1766" cy="742" r="4.3"/><circle cx="1668" cy="834" r="4.3"/><circle cx="1639" cy="647" r="4.3"/><circle cx="1765" cy="734" r="4.3"/><circle cx="1617" cy="718" r="4.3"/><circle cx="1849" cy="798" r="4.3"/><circle cx="1870" cy="789" r="4.3"/><circle cx="1496" cy="795" r="4.3"/><circle cx="1602" cy="813" r="4.3"/><circle cx="1749" cy="710" r="4.3"/><circle cx="1470" cy="868" r="4.3"/><circle cx="1771" cy="715" r="4.3"/><circle cx="1826" cy="797" r="4.3"/><circle cx="1637" cy="815" r="4.3"/><circle cx="1773" cy="748" r="4.3"/><circle cx="1761" cy="789" r="4.3"/><circle cx="1619" cy="770" r="4.3"/><circle cx="1765" cy="697" r="4.3"/><circle cx="1829" cy="763" r="4.3"/><circle cx="1608" cy="720" r="4.3"/><circle cx="1868" cy="877" r="4.3"/><circle cx="1510" cy="870" r="4.3"/><circle cx="1871" cy="753" r="4.3"/><circle cx="1507" cy="748" r="4.3"/><circle cx="1665" cy="802" r="4.3"/><circle cx="1668" cy="760" r="4.3"/><circle cx="1623" cy="657" r="4.3"/><circle cx="1830" cy="768" r="4.3"/><circle cx="1872" cy="758" r="4.3"/><circle cx="1770" cy="765" r="4.3"/><circle cx="1614" cy="649" r="4.3"/><circle cx="1836" cy="775" r="4.3"/><circle cx="1722" cy="771" r="4.3"/><circle cx="1525" cy="686" r="4.3"/><circle cx="1650" cy="768" r="4.3"/><circle cx="1880" cy="802" r="4.3"/><circle cx="1725" cy="890" r="4.3"/><circle cx="1528" cy="728" r="4.3"/><circle cx="1613" cy="700" r="4.3"/><circle cx="1761" cy="773" r="4.3"/><circle cx="1726" cy="764" r="4.3"/><circle cx="1862" cy="756" r="4.3"/><circle cx="1818" cy="728" r="4.3"/><circle cx="1714" cy="798" r="4.3"/><circle cx="1742" cy="743" r="4.3"/><circle cx="1823" cy="779" r="4.3"/><circle cx="1764" cy="789" r="4.3"/><circle cx="1669" cy="838" r="4.3"/><circle cx="1823" cy="802" r="4.3"/><circle cx="1615" cy="694" r="4.3"/><circle cx="1673" cy="755" r="4.3"/><circle cx="1862" cy="694" r="4.3"/><circle cx="1693" cy="895" r="4.3"/><circle cx="1761" cy="709" r="4.3"/><circle cx="1526" cy="720" r="4.3"/><circle cx="1596" cy="853" r="4.3"/><circle cx="1870" cy="810" r="4.3"/><circle cx="1495" cy="731" r="4.3"/><circle cx="1783" cy="732" r="4.3"/><circle cx="1518" cy="718" r="4.3"/><circle cx="1815" cy="788" r="4.3"/><circle cx="1496" cy="872" r="4.3"/><circle cx="1771" cy="746" r="4.3"/><circle cx="1515" cy="778" r="4.3"/><circle cx="1794" cy="756" r="4.3"/><circle cx="1562" cy="820" r="4.3"/><circle cx="1523" cy="626" r="4.3"/><circle cx="1498" cy="802" r="4.3"/><circle cx="1812" cy="823" r="4.3"/><circle cx="1629" cy="898" r="4.3"/><circle cx="1728" cy="804" r="4.3"/><circle cx="1592" cy="830" r="4.3"/><circle cx="1539" cy="832" r="4.3"/><circle cx="1542" cy="794" r="4.3"/><circle cx="1508" cy="785" r="4.3"/><circle cx="1894" cy="872" r="4.3"/><circle cx="1672" cy="743" r="4.3"/><circle cx="1861" cy="792" r="4.3"/><circle cx="1660" cy="770" r="4.3"/><circle cx="1702" cy="885" r="4.3"/><circle cx="1615" cy="738" r="4.3"/><circle cx="1830" cy="730" r="4.3"/><circle cx="1525" cy="748" r="4.3"/><circle cx="1868" cy="776" r="4.3"/><circle cx="1824" cy="795" r="4.3"/><circle cx="1889" cy="762" r="4.3"/><circle cx="1591" cy="803" r="4.3"/><circle cx="1612" cy="751" r="4.3"/><circle cx="1498" cy="882" r="4.3"/><circle cx="1813" cy="807" r="4.3"/><circle cx="1768" cy="698" r="4.3"/><circle cx="1585" cy="804" r="4.3"/><circle cx="1482" cy="839" r="4.3"/><circle cx="1714" cy="745" r="4.3"/><circle cx="1509" cy="865" r="4.3"/><circle cx="1624" cy="740" r="4.3"/><circle cx="1615" cy="780" r="4.3"/><circle cx="1522" cy="732" r="4.3"/><circle cx="1772" cy="653" r="4.3"/><circle cx="1639" cy="789" r="4.3"/><circle cx="1624" cy="721" r="4.3"/><circle cx="1606" cy="799" r="4.3"/><circle cx="1650" cy="816" r="4.3"/><circle cx="1796" cy="837" r="4.3"/><circle cx="1864" cy="770" r="4.3"/><circle cx="1874" cy="734" r="4.3"/><circle cx="1840" cy="753" r="4.3"/><circle cx="1613" cy="845" r="4.3"/><circle cx="1622" cy="807" r="4.3"/><circle cx="1525" cy="733" r="4.3"/><circle cx="1884" cy="834" r="4.3"/><circle cx="1852" cy="790" r="4.3"/><circle cx="1647" cy="764" r="4.3"/><circle cx="1582" cy="723" r="4.3"/><circle cx="1506" cy="781" r="4.3"/><circle cx="1783" cy="854" r="4.3"/><circle cx="1717" cy="768" r="4.3"/><circle cx="1598" cy="794" r="4.3"/><circle cx="1708" cy="721" r="4.3"/><circle cx="1489" cy="818" r="4.3"/><circle cx="1623" cy="815" r="4.3"/><circle cx="1796" cy="806" r="4.3"/><circle cx="1690" cy="765" r="4.3"/><circle cx="1743" cy="725" r="4.3"/><circle cx="1625" cy="701" r="4.3"/><circle cx="1731" cy="779" r="4.3"/><circle cx="1792" cy="874" r="4.3"/><circle cx="1478" cy="819" r="4.3"/><circle cx="1728" cy="672" r="4.3"/><circle cx="1519" cy="714" r="4.3"/><circle cx="1873" cy="825" r="4.3"/><circle cx="1862" cy="804" r="4.3"/><circle cx="1833" cy="887" r="4.3"/><circle cx="1476" cy="871" r="4.3"/><circle cx="1780" cy="755" r="4.3"/><circle cx="1819" cy="791" r="4.3"/><circle cx="1770" cy="776" r="4.3"/><circle cx="1703" cy="864" r="4.3"/><circle cx="1637" cy="833" r="4.3"/><circle cx="1520" cy="643" r="4.3"/><circle cx="1762" cy="650" r="4.3"/><circle cx="1612" cy="847" r="4.3"/><circle cx="1525" cy="670" r="4.3"/><circle cx="1762" cy="822" r="4.3"/><circle cx="1832" cy="651" r="4.3"/><circle cx="1696" cy="828" r="4.3"/><circle cx="1745" cy="811" r="4.3"/><circle cx="1563" cy="758" r="4.3"/><circle cx="1520" cy="735" r="4.3"/><circle cx="1652" cy="860" r="4.3"/><circle cx="1604" cy="813" r="4.3"/><circle cx="1614" cy="672" r="4.3"/><circle cx="1724" cy="782" r="4.3"/><circle cx="1824" cy="753" r="4.3"/><circle cx="1754" cy="793" r="4.3"/><circle cx="1614" cy="743" r="4.3"/><circle cx="1834" cy="678" r="4.3"/><circle cx="1837" cy="767" r="4.3"/><circle cx="1573" cy="849" r="4.3"/><circle cx="1646" cy="725" r="4.3"/><circle cx="1619" cy="782" r="4.3"/><circle cx="1574" cy="843" r="4.3"/><circle cx="1886" cy="714" r="4.3"/><circle cx="1805" cy="821" r="4.3"/><circle cx="1481" cy="843" r="4.3"/><circle cx="1484" cy="807" r="4.3"/><circle cx="1809" cy="845" r="4.3"/><circle cx="1521" cy="661" r="4.3"/><circle cx="1652" cy="831" r="4.3"/><circle cx="1709" cy="766" r="4.3"/><circle cx="1714" cy="751" r="4.3"/><circle cx="1696" cy="855" r="4.3"/><circle cx="1767" cy="773" r="4.3"/><circle cx="1877" cy="794" r="4.3"/><circle cx="1748" cy="705" r="4.3"/><circle cx="1871" cy="766" r="4.3"/><circle cx="1614" cy="829" r="4.3"/><circle cx="1693" cy="753" r="4.3"/><circle cx="1753" cy="855" r="4.3"/><circle cx="1675" cy="763" r="4.3"/><circle cx="1606" cy="728" r="4.3"/><circle cx="1508" cy="856" r="4.3"/><circle cx="1496" cy="721" r="4.3"/><circle cx="1587" cy="916" r="4.3"/><circle cx="1817" cy="752" r="4.3"/><circle cx="1820" cy="758" r="4.3"/><circle cx="1586" cy="850" r="4.3"/><circle cx="1844" cy="692" r="4.3"/><circle cx="1821" cy="834" r="4.3"/><circle cx="1766" cy="772" r="4.3"/><circle cx="1535" cy="800" r="4.3"/><circle cx="1624" cy="704" r="4.3"/><circle cx="1770" cy="756" r="4.3"/><circle cx="1636" cy="824" r="4.3"/><circle cx="1694" cy="882" r="4.3"/><circle cx="1754" cy="775" r="4.3"/><circle cx="1689" cy="852" r="4.3"/><circle cx="1599" cy="840" r="4.3"/><circle cx="1822" cy="799" r="4.3"/><circle cx="1595" cy="920" r="4.3"/><circle cx="1498" cy="889" r="4.3"/><circle cx="1618" cy="673" r="4.3"/><circle cx="1493" cy="822" r="4.3"/><circle cx="1550" cy="841" r="4.3"/><circle cx="1678" cy="753" r="4.3"/><circle cx="1732" cy="653" r="4.3"/><circle cx="1531" cy="684" r="4.3"/><circle cx="1522" cy="712" r="4.3"/><circle cx="1826" cy="741" r="4.3"/><circle cx="1488" cy="705" r="4.3"/><circle cx="1754" cy="671" r="4.3"/><circle cx="1650" cy="680" r="4.3"/><circle cx="1557" cy="773" r="4.3"/><circle cx="1868" cy="796" r="4.3"/><circle cx="1877" cy="757" r="4.3"/><circle cx="1671" cy="791" r="4.3"/><circle cx="1821" cy="827" r="4.3"/><circle cx="1859" cy="731" r="4.3"/><circle cx="1850" cy="707" r="4.3"/><circle cx="1799" cy="839" r="4.3"/><circle cx="1769" cy="784" r="4.3"/><circle cx="1733" cy="739" r="4.3"/><circle cx="1711" cy="828" r="4.3"/><circle cx="1526" cy="728" r="4.3"/><circle cx="1696" cy="842" r="4.3"/><circle cx="1760" cy="713" r="4.3"/><circle cx="1663" cy="823" r="4.3"/><circle cx="1824" cy="680" r="4.3"/><circle cx="1721" cy="769" r="4.3"/><circle cx="1633" cy="754" r="4.3"/><circle cx="1738" cy="774" r="4.3"/><circle cx="1865" cy="786" r="4.3"/><circle cx="1586" cy="867" r="4.3"/><circle cx="1534" cy="807" r="4.3"/><circle cx="1733" cy="806" r="4.3"/><circle cx="1565" cy="851" r="4.3"/><circle cx="1865" cy="713" r="4.3"/><circle cx="1736" cy="793" r="4.3"/><circle cx="1529" cy="747" r="4.3"/><circle cx="1817" cy="882" r="4.3"/><circle cx="1674" cy="757" r="4.3"/><circle cx="1830" cy="703" r="4.3"/><circle cx="1757" cy="855" r="4.3"/><circle cx="1844" cy="898" r="4.3"/><circle cx="1642" cy="872" r="4.3"/><circle cx="1621" cy="673" r="4.3"/><circle cx="1845" cy="761" r="4.3"/><circle cx="1863" cy="683" r="4.3"/><circle cx="1563" cy="1001" r="4.3"/><circle cx="1812" cy="910" r="4.3"/><circle cx="1662" cy="888" r="4.3"/><circle cx="1836" cy="767" r="4.3"/><circle cx="1883" cy="837" r="4.3"/><circle cx="1654" cy="739" r="4.3"/><circle cx="1871" cy="783" r="4.3"/><circle cx="1520" cy="748" r="4.3"/><circle cx="1876" cy="710" r="4.3"/><circle cx="1727" cy="682" r="4.3"/><circle cx="1804" cy="768" r="4.3"/><circle cx="1699" cy="864" r="4.3"/><circle cx="1839" cy="751" r="4.3"/><circle cx="1863" cy="763" r="4.3"/><circle cx="1827" cy="898" r="4.3"/><circle cx="1520" cy="670" r="4.3"/><circle cx="1520" cy="743" r="4.3"/><circle cx="1788" cy="883" r="4.3"/><circle cx="1497" cy="856" r="4.3"/><circle cx="1517" cy="769" r="4.3"/><circle cx="1615" cy="674" r="4.3"/><circle cx="1859" cy="728" r="4.3"/><circle cx="1876" cy="787" r="4.3"/><circle cx="1805" cy="821" r="4.3"/><circle cx="1835" cy="773" r="4.3"/><circle cx="1861" cy="777" r="4.3"/><circle cx="1513" cy="772" r="4.3"/><circle cx="1510" cy="799" r="4.3"/><circle cx="1603" cy="831" r="4.3"/><circle cx="1765" cy="785" r="4.3"/><circle cx="1512" cy="820" r="4.3"/><circle cx="1647" cy="795" r="4.3"/><circle cx="1769" cy="789" r="4.3"/><circle cx="1830" cy="771" r="4.3"/><circle cx="1522" cy="825" r="4.3"/><circle cx="1833" cy="789" r="4.3"/><circle cx="1601" cy="845" r="4.3"/><circle cx="1635" cy="760" r="4.3"/><circle cx="1836" cy="652" r="4.3"/><circle cx="1501" cy="795" r="4.3"/><circle cx="1856" cy="807" r="4.3"/><circle cx="1528" cy="682" r="4.3"/><circle cx="1657" cy="840" r="4.3"/><circle cx="1871" cy="778" r="4.3"/><circle cx="1723" cy="767" r="4.3"/><circle cx="1523" cy="690" r="4.3"/><circle cx="1823" cy="778" r="4.3"/><circle cx="1662" cy="745" r="4.3"/><circle cx="1737" cy="840" r="4.3"/><circle cx="1631" cy="776" r="4.3"/><circle cx="1784" cy="781" r="4.3"/><circle cx="1541" cy="859" r="4.3"/><circle cx="1516" cy="709" r="4.3"/><circle cx="1836" cy="829" r="4.3"/><circle cx="1665" cy="858" r="4.3"/><circle cx="1761" cy="749" r="4.3"/><circle cx="1543" cy="833" r="4.3"/><circle cx="1583" cy="846" r="4.3"/><circle cx="1718" cy="712" r="4.3"/><circle cx="1822" cy="758" r="4.3"/><circle cx="1834" cy="760" r="4.3"/><circle cx="1753" cy="808" r="4.3"/><circle cx="1510" cy="757" r="4.3"/><circle cx="1888" cy="758" r="4.3"/><circle cx="1501" cy="886" r="4.3"/><circle cx="1745" cy="825" r="4.3"/><circle cx="1731" cy="789" r="4.3"/><circle cx="1877" cy="796" r="4.3"/><circle cx="1696" cy="896" r="4.3"/><circle cx="1613" cy="724" r="4.3"/><circle cx="1699" cy="840" r="4.3"/><circle cx="1599" cy="841" r="4.3"/><circle cx="1502" cy="805" r="4.3"/><circle cx="1633" cy="808" r="4.3"/><circle cx="1661" cy="812" r="4.3"/><circle cx="1734" cy="739" r="4.3"/><circle cx="1732" cy="825" r="4.3"/><circle cx="1599" cy="823" r="4.3"/><circle cx="1485" cy="864" r="4.3"/><circle cx="1596" cy="845" r="4.3"/><circle cx="1617" cy="782" r="4.3"/><circle cx="1789" cy="805" r="4.3"/><circle cx="1518" cy="713" r="4.3"/><circle cx="1583" cy="868" r="4.3"/><circle cx="1723" cy="703" r="4.3"/><circle cx="1770" cy="684" r="4.3"/><circle cx="1828" cy="690" r="4.3"/><circle cx="1834" cy="769" r="4.3"/><circle cx="1729" cy="688" r="4.3"/><circle cx="1707" cy="803" r="4.3"/><circle cx="1562" cy="885" r="4.3"/><circle cx="1583" cy="817" r="4.3"/><circle cx="1713" cy="796" r="4.3"/><circle cx="1834" cy="741" r="4.3"/><circle cx="1708" cy="879" r="4.3"/><circle cx="1621" cy="952" r="4.3"/><circle cx="1511" cy="889" r="4.3"/><circle cx="1705" cy="790" r="4.3"/><circle cx="1827" cy="759" r="4.3"/><circle cx="1873" cy="821" r="4.3"/><circle cx="1863" cy="776" r="4.3"/><circle cx="1719" cy="747" r="4.3"/><circle cx="1718" cy="779" r="4.3"/><circle cx="1697" cy="874" r="4.3"/><circle cx="1773" cy="757" r="4.3"/><circle cx="1598" cy="732" r="4.3"/><circle cx="1731" cy="779" r="4.3"/><circle cx="1818" cy="650" r="4.3"/><circle cx="1624" cy="672" r="4.3"/><circle cx="1757" cy="746" r="4.3"/><circle cx="1586" cy="857" r="4.3"/><circle cx="1607" cy="778" r="4.3"/><circle cx="1489" cy="845" r="4.3"/><circle cx="1608" cy="803" r="4.3"/><circle cx="1523" cy="676" r="4.3"/><circle cx="1472" cy="847" r="4.3"/><circle cx="1708" cy="778" r="4.3"/><circle cx="1696" cy="786" r="4.3"/><circle cx="1720" cy="735" r="4.3"/><circle cx="1667" cy="740" r="4.3"/><circle cx="1713" cy="864" r="4.3"/><circle cx="1836" cy="704" r="4.3"/><circle cx="1828" cy="790" r="4.3"/><circle cx="1892" cy="766" r="4.3"/><circle cx="1890" cy="855" r="4.3"/><circle cx="1572" cy="790" r="4.3"/><circle cx="1837" cy="831" r="4.3"/><circle cx="1505" cy="727" r="4.3"/><circle cx="1872" cy="818" r="4.3"/><circle cx="1526" cy="761" r="4.3"/><circle cx="1478" cy="812" r="4.3"/><circle cx="1582" cy="854" r="4.3"/><circle cx="1502" cy="805" r="4.3"/><circle cx="1521" cy="755" r="4.3"/><circle cx="1767" cy="777" r="4.3"/><circle cx="1678" cy="778" r="4.3"/><circle cx="1626" cy="713" r="4.3"/><circle cx="1723" cy="963" r="4.3"/><circle cx="1597" cy="765" r="4.3"/><circle cx="1772" cy="732" r="4.3"/><circle cx="1806" cy="818" r="4.3"/><circle cx="1613" cy="737" r="4.3"/><circle cx="1647" cy="766" r="4.3"/><circle cx="1830" cy="781" r="4.3"/><circle cx="1880" cy="779" r="4.3"/><circle cx="1548" cy="776" r="4.3"/><circle cx="1522" cy="691" r="4.3"/><circle cx="1754" cy="828" r="4.3"/><circle cx="1763" cy="754" r="4.3"/><circle cx="1893" cy="910" r="4.3"/><circle cx="1622" cy="724" r="4.3"/><circle cx="1839" cy="779" r="4.3"/><circle cx="1527" cy="704" r="4.3"/><circle cx="1689" cy="838" r="4.3"/><circle cx="1699" cy="832" r="4.3"/><circle cx="1692" cy="779" r="4.3"/><circle cx="1724" cy="795" r="4.3"/><circle cx="1532" cy="816" r="4.3"/><circle cx="1714" cy="876" r="4.3"/><circle cx="1522" cy="627" r="4.3"/><circle cx="1635" cy="776" r="4.3"/><circle cx="1539" cy="834" r="4.3"/><circle cx="1770" cy="774" r="4.3"/><circle cx="1709" cy="835" r="4.3"/><circle cx="1770" cy="743" r="4.3"/><circle cx="1597" cy="767" r="4.3"/><circle cx="1533" cy="789" r="4.3"/><circle cx="1682" cy="786" r="4.3"/><circle cx="1630" cy="730" r="4.3"/><circle cx="1837" cy="746" r="4.3"/><circle cx="1533" cy="688" r="4.3"/><circle cx="1795" cy="764" r="4.3"/><circle cx="1571" cy="848" r="4.3"/><circle cx="1750" cy="790" r="4.3"/><circle cx="1807" cy="830" r="4.3"/><circle cx="1819" cy="729" r="4.3"/><circle cx="1816" cy="844" r="4.3"/><circle cx="1824" cy="865" r="4.3"/><circle cx="1697" cy="807" r="4.3"/><circle cx="1551" cy="826" r="4.3"/><circle cx="1627" cy="774" r="4.3"/><circle cx="1628" cy="729" r="4.3"/><circle cx="1871" cy="789" r="4.3"/><circle cx="1620" cy="738" r="4.3"/><circle cx="1613" cy="746" r="4.3"/><circle cx="1564" cy="810" r="4.3"/><circle cx="1719" cy="766" r="4.3"/><circle cx="1616" cy="754" r="4.3"/><circle cx="1487" cy="820" r="4.3"/><circle cx="1759" cy="859" r="4.3"/><circle cx="1832" cy="792" r="4.3"/><circle cx="1768" cy="848" r="4.3"/><circle cx="1867" cy="811" r="4.3"/><circle cx="1850" cy="809" r="4.3"/><circle cx="1724" cy="834" r="4.3"/><circle cx="1884" cy="682" r="4.3"/><circle cx="1538" cy="783" r="4.3"/><circle cx="1536" cy="778" r="4.3"/><circle cx="1670" cy="789" r="4.3"/><circle cx="1808" cy="822" r="4.3"/><circle cx="1820" cy="778" r="4.3"/><circle cx="1539" cy="766" r="4.3"/><circle cx="1622" cy="744" r="4.3"/><circle cx="1717" cy="752" r="4.3"/><circle cx="1820" cy="836" r="4.3"/><circle cx="1849" cy="759" r="4.3"/><circle cx="1838" cy="710" r="4.3"/><circle cx="1696" cy="900" r="4.3"/><circle cx="1509" cy="769" r="4.3"/><circle cx="1764" cy="802" r="4.3"/><circle cx="1767" cy="822" r="4.3"/><circle cx="1886" cy="794" r="4.3"/><circle cx="1533" cy="772" r="4.3"/><circle cx="1894" cy="869" r="4.3"/><circle cx="1497" cy="804" r="4.3"/><circle cx="1629" cy="680" r="4.3"/><circle cx="1494" cy="897" r="4.3"/><circle cx="1532" cy="663" r="4.3"/><circle cx="1725" cy="758" r="4.3"/><circle cx="1502" cy="772" r="4.3"/><circle cx="1794" cy="901" r="4.3"/><circle cx="1514" cy="670" r="4.3"/><circle cx="1600" cy="816" r="4.3"/><circle cx="1520" cy="678" r="4.3"/><circle cx="1832" cy="764" r="4.3"/><circle cx="1673" cy="793" r="4.3"/><circle cx="1513" cy="749" r="4.3"/><circle cx="1842" cy="797" r="4.3"/><circle cx="1878" cy="797" r="4.3"/><circle cx="1825" cy="677" r="4.3"/><circle cx="1800" cy="750" r="4.3"/><circle cx="1521" cy="748" r="4.3"/><circle cx="1832" cy="699" r="4.3"/><circle cx="1693" cy="897" r="4.3"/><circle cx="1494" cy="818" r="4.3"/><circle cx="1868" cy="754" r="4.3"/><circle cx="1610" cy="824" r="4.3"/><circle cx="1529" cy="765" r="4.3"/><circle cx="1828" cy="821" r="4.3"/><circle cx="1877" cy="716" r="4.3"/><circle cx="1627" cy="673" r="4.3"/><circle cx="1750" cy="805" r="4.3"/><circle cx="1523" cy="744" r="4.3"/><circle cx="1652" cy="808" r="4.3"/><circle cx="1525" cy="722" r="4.3"/><circle cx="1619" cy="778" r="4.3"/><circle cx="1888" cy="836" r="4.3"/><circle cx="1626" cy="721" r="4.3"/><circle cx="1724" cy="801" r="4.3"/><circle cx="1705" cy="916" r="4.3"/><circle cx="1502" cy="883" r="4.3"/><circle cx="1497" cy="792" r="4.3"/><circle cx="1607" cy="743" r="4.3"/><circle cx="1481" cy="873" r="4.3"/><circle cx="1620" cy="711" r="4.3"/><circle cx="1639" cy="720" r="4.3"/><circle cx="1492" cy="839" r="4.3"/><circle cx="1774" cy="720" r="4.3"/><circle cx="1674" cy="834" r="4.3"/><circle cx="1632" cy="799" r="4.3"/><circle cx="1825" cy="769" r="4.3"/><circle cx="1628" cy="744" r="4.3"/><circle cx="1513" cy="737" r="4.3"/><circle cx="1763" cy="689" r="4.3"/><circle cx="1535" cy="780" r="4.3"/><circle cx="1509" cy="716" r="4.3"/><circle cx="1536" cy="799" r="4.3"/><circle cx="1516" cy="626" r="4.3"/><circle cx="1611" cy="711" r="4.3"/><circle cx="1711" cy="795" r="4.3"/><circle cx="1823" cy="730" r="4.3"/><circle cx="1733" cy="767" r="4.3"/><circle cx="1479" cy="820" r="4.3"/><circle cx="1754" cy="850" r="4.3"/><circle cx="1838" cy="838" r="4.3"/><circle cx="1818" cy="705" r="4.3"/><circle cx="1724" cy="707" r="4.3"/><circle cx="1715" cy="665" r="4.3"/><circle cx="1706" cy="759" r="4.3"/><circle cx="1600" cy="805" r="4.3"/><circle cx="1682" cy="877" r="4.3"/><circle cx="1890" cy="854" r="4.3"/><circle cx="1768" cy="777" r="4.3"/><circle cx="1879" cy="713" r="4.3"/><circle cx="1477" cy="810" r="4.3"/><circle cx="1653" cy="792" r="4.3"/><circle cx="1538" cy="796" r="4.3"/><circle cx="1594" cy="804" r="4.3"/><circle cx="1828" cy="748" r="4.3"/><circle cx="1557" cy="863" r="4.3"/><circle cx="1606" cy="793" r="4.3"/><circle cx="1606" cy="817" r="4.3"/><circle cx="1609" cy="840" r="4.3"/><circle cx="1848" cy="753" r="4.3"/><circle cx="1763" cy="734" r="4.3"/><circle cx="1725" cy="742" r="4.3"/><circle cx="1527" cy="753" r="4.3"/><circle cx="1596" cy="751" r="4.3"/><circle cx="1547" cy="755" r="4.3"/><circle cx="1797" cy="858" r="4.3"/><circle cx="1829" cy="800" r="4.3"/><circle cx="1721" cy="778" r="4.3"/><circle cx="1784" cy="759" r="4.3"/><circle cx="1607" cy="807" r="4.3"/><circle cx="1569" cy="797" r="4.3"/><circle cx="1560" cy="790" r="4.3"/><circle cx="1847" cy="706" r="4.3"/><circle cx="1873" cy="802" r="4.3"/><circle cx="1597" cy="893" r="4.3"/><circle cx="1827" cy="772" r="4.3"/><circle cx="1728" cy="789" r="4.3"/><circle cx="1820" cy="889" r="4.3"/><circle cx="1610" cy="749" r="4.3"/><circle cx="1801" cy="754" r="4.3"/><circle cx="1772" cy="771" r="4.3"/><circle cx="1705" cy="695" r="4.3"/><circle cx="1805" cy="791" r="4.3"/><circle cx="1588" cy="754" r="4.3"/><circle cx="1587" cy="890" r="4.3"/><circle cx="1689" cy="901" r="4.3"/><circle cx="1520" cy="750" r="4.3"/><circle cx="1497" cy="836" r="4.3"/><circle cx="1561" cy="713" r="4.3"/><circle cx="1789" cy="803" r="4.3"/><circle cx="1759" cy="790" r="4.3"/><circle cx="1640" cy="799" r="4.3"/><circle cx="1857" cy="765" r="4.3"/><circle cx="1868" cy="708" r="4.3"/><circle cx="1600" cy="736" r="4.3"/><circle cx="1691" cy="891" r="4.3"/><circle cx="1615" cy="716" r="4.3"/><circle cx="1519" cy="784" r="4.3"/><circle cx="1510" cy="769" r="4.3"/><circle cx="1519" cy="800" r="4.3"/><circle cx="1509" cy="815" r="4.3"/><circle cx="1600" cy="842" r="4.3"/><circle cx="1727" cy="717" r="4.3"/><circle cx="1715" cy="758" r="4.3"/><circle cx="1771" cy="777" r="4.3"/><circle cx="1608" cy="857" r="4.3"/><circle cx="1530" cy="808" r="4.3"/><circle cx="1825" cy="757" r="4.3"/><circle cx="1605" cy="706" r="4.3"/><circle cx="1811" cy="775" r="4.3"/><circle cx="1687" cy="823" r="4.3"/><circle cx="1634" cy="749" r="4.3"/><circle cx="1493" cy="785" r="4.3"/><circle cx="1851" cy="780" r="4.3"/><circle cx="1584" cy="817" r="4.3"/><circle cx="1673" cy="874" r="4.3"/><circle cx="1500" cy="828" r="4.3"/><circle cx="1677" cy="765" r="4.3"/><circle cx="1641" cy="640" r="4.3"/><circle cx="1831" cy="681" r="4.3"/><circle cx="1812" cy="785" r="4.3"/><circle cx="1583" cy="908" r="4.3"/><circle cx="1596" cy="776" r="4.3"/><circle cx="1515" cy="756" r="4.3"/><circle cx="1829" cy="768" r="4.3"/><circle cx="1829" cy="804" r="4.3"/><circle cx="1707" cy="941" r="4.3"/><circle cx="1533" cy="890" r="4.3"/><circle cx="1731" cy="823" r="4.3"/><circle cx="1634" cy="749" r="4.3"/><circle cx="1768" cy="812" r="4.3"/><circle cx="1703" cy="898" r="4.3"/><circle cx="1818" cy="795" r="4.3"/><circle cx="1876" cy="736" r="4.3"/><circle cx="1871" cy="810" r="4.3"/><circle cx="1747" cy="792" r="4.3"/><circle cx="1748" cy="803" r="4.3"/><circle cx="1888" cy="858" r="4.3"/><circle cx="1600" cy="892" r="4.3"/><circle cx="1817" cy="825" r="4.3"/><circle cx="1810" cy="769" r="4.3"/><circle cx="1711" cy="824" r="4.3"/><circle cx="1640" cy="759" r="4.3"/><circle cx="1513" cy="684" r="4.3"/><circle cx="1623" cy="761" r="4.3"/><circle cx="1517" cy="791" r="4.3"/><circle cx="1662" cy="788" r="4.3"/><circle cx="1721" cy="736" r="4.3"/><circle cx="1828" cy="793" r="4.3"/><circle cx="1487" cy="806" r="4.3"/><circle cx="1596" cy="788" r="4.3"/><circle cx="1525" cy="685" r="4.3"/><circle cx="1596" cy="863" r="4.3"/><circle cx="1596" cy="747" r="4.3"/><circle cx="1628" cy="769" r="4.3"/><circle cx="1524" cy="677" r="4.3"/><circle cx="1523" cy="713" r="4.3"/><circle cx="1836" cy="786" r="4.3"/><circle cx="1830" cy="690" r="4.3"/><circle cx="1552" cy="719" r="4.3"/><circle cx="1881" cy="780" r="4.3"/><circle cx="1767" cy="722" r="4.3"/><circle cx="1870" cy="727" r="4.3"/><circle cx="1864" cy="776" r="4.3"/><circle cx="1779" cy="735" r="4.3"/><circle cx="1586" cy="896" r="4.3"/><circle cx="1693" cy="845" r="4.3"/><circle cx="1496" cy="764" r="4.3"/><circle cx="1717" cy="776" r="4.3"/><circle cx="1874" cy="894" r="4.3"/><circle cx="1722" cy="660" r="4.3"/><circle cx="1859" cy="806" r="4.3"/><circle cx="1490" cy="884" r="4.3"/><circle cx="1556" cy="910" r="4.3"/><circle cx="1564" cy="815" r="4.3"/><circle cx="1507" cy="772" r="4.3"/><circle cx="1815" cy="765" r="4.3"/><circle cx="1886" cy="795" r="4.3"/><circle cx="1790" cy="713" r="4.3"/><circle cx="1575" cy="783" r="4.3"/><circle cx="1813" cy="831" r="4.3"/><circle cx="1868" cy="803" r="4.3"/><circle cx="1690" cy="835" r="4.3"/><circle cx="1777" cy="779" r="4.3"/><circle cx="1723" cy="756" r="4.3"/><circle cx="1624" cy="792" r="4.3"/><circle cx="1698" cy="828" r="4.3"/><circle cx="1876" cy="710" r="4.3"/><circle cx="1616" cy="774" r="4.3"/><circle cx="1820" cy="752" r="4.3"/><circle cx="1647" cy="690" r="4.3"/><circle cx="1724" cy="726" r="4.3"/><circle cx="1487" cy="830" r="4.3"/><circle cx="1508" cy="829" r="4.3"/><circle cx="1502" cy="784" r="4.3"/><circle cx="1588" cy="956" r="4.3"/><circle cx="1562" cy="703" r="4.3"/><circle cx="1868" cy="766" r="4.3"/><circle cx="1847" cy="774" r="4.3"/><circle cx="1662" cy="851" r="4.3"/><circle cx="1733" cy="751" r="4.3"/><circle cx="1825" cy="802" r="4.3"/><circle cx="1781" cy="839" r="4.3"/><circle cx="1728" cy="766" r="4.3"/><circle cx="1832" cy="794" r="4.3"/><circle cx="1517" cy="645" r="4.3"/><circle cx="1608" cy="754" r="4.3"/><circle cx="1574" cy="808" r="4.3"/><circle cx="1674" cy="797" r="4.3"/><circle cx="1696" cy="745" r="4.3"/><circle cx="1645" cy="760" r="4.3"/><circle cx="1864" cy="791" r="4.3"/><circle cx="1605" cy="794" r="4.3"/><circle cx="1869" cy="803" r="4.3"/><circle cx="1753" cy="656" r="4.3"/><circle cx="1607" cy="871" r="4.3"/><circle cx="1857" cy="803" r="4.3"/><circle cx="1525" cy="754" r="4.3"/><circle cx="1827" cy="720" r="4.3"/><circle cx="1729" cy="703" r="4.3"/><circle cx="1557" cy="770" r="4.3"/><circle cx="1525" cy="725" r="4.3"/><circle cx="1507" cy="818" r="4.3"/><circle cx="1759" cy="844" r="4.3"/><circle cx="1811" cy="854" r="4.3"/><circle cx="1832" cy="711" r="4.3"/><circle cx="1804" cy="891" r="4.3"/><circle cx="1728" cy="669" r="4.3"/><circle cx="1758" cy="835" r="4.3"/><circle cx="1861" cy="736" r="4.3"/><circle cx="1738" cy="770" r="4.3"/><circle cx="1759" cy="774" r="4.3"/><circle cx="1613" cy="793" r="4.3"/><circle cx="1629" cy="702" r="4.3"/><circle cx="1757" cy="779" r="4.3"/><circle cx="1875" cy="724" r="4.3"/><circle cx="1627" cy="750" r="4.3"/><circle cx="1761" cy="714" r="4.3"/><circle cx="1874" cy="730" r="4.3"/><circle cx="1664" cy="766" r="4.3"/><circle cx="1566" cy="788" r="4.3"/><circle cx="1526" cy="749" r="4.3"/><circle cx="1748" cy="809" r="4.3"/><circle cx="1584" cy="883" r="4.3"/><circle cx="1580" cy="866" r="4.3"/><circle cx="1680" cy="728" r="4.3"/><circle cx="1725" cy="769" r="4.3"/><circle cx="1805" cy="854" r="4.3"/><circle cx="1891" cy="764" r="4.3"/><circle cx="1674" cy="812" r="4.3"/><circle cx="1619" cy="775" r="4.3"/><circle cx="1684" cy="973" r="4.3"/><circle cx="1522" cy="735" r="4.3"/><circle cx="1717" cy="771" r="4.3"/><circle cx="1490" cy="894" r="4.3"/><circle cx="1532" cy="762" r="4.3"/><circle cx="1845" cy="803" r="4.3"/><circle cx="1494" cy="818" r="4.3"/><circle cx="1802" cy="808" r="4.3"/><circle cx="1591" cy="838" r="4.3"/><circle cx="1852" cy="797" r="4.3"/><circle cx="1604" cy="770" r="4.3"/><circle cx="1773" cy="771" r="4.3"/><circle cx="1584" cy="834" r="4.3"/><circle cx="1549" cy="836" r="4.3"/><circle cx="1520" cy="737" r="4.3"/><circle cx="1587" cy="841" r="4.3"/><circle cx="1563" cy="773" r="4.3"/><circle cx="1532" cy="634" r="4.3"/><circle cx="1520" cy="780" r="4.3"/><circle cx="1805" cy="839" r="4.3"/><circle cx="1837" cy="726" r="4.3"/><circle cx="1473" cy="795" r="4.3"/><circle cx="1713" cy="778" r="4.3"/><circle cx="1696" cy="821" r="4.3"/><circle cx="1587" cy="839" r="4.3"/><circle cx="1673" cy="702" r="4.3"/><circle cx="1880" cy="834" r="4.3"/><circle cx="1544" cy="727" r="4.3"/><circle cx="1630" cy="740" r="4.3"/><circle cx="1842" cy="748" r="4.3"/><circle cx="1782" cy="740" r="4.3"/><circle cx="1773" cy="697" r="4.3"/><circle cx="1519" cy="657" r="4.3"/><circle cx="1631" cy="788" r="4.3"/><circle cx="1767" cy="791" r="4.3"/><circle cx="1616" cy="746" r="4.3"/><circle cx="1486" cy="879" r="4.3"/><circle cx="1486" cy="877" r="4.3"/><circle cx="1527" cy="774" r="4.3"/><circle cx="1523" cy="668" r="4.3"/><circle cx="1647" cy="837" r="4.3"/><circle cx="1682" cy="745" r="4.3"/><circle cx="1888" cy="876" r="4.3"/><circle cx="1621" cy="734" r="4.3"/><circle cx="1819" cy="898" r="4.3"/><circle cx="1517" cy="630" r="4.3"/><circle cx="1858" cy="778" r="4.3"/><circle cx="1613" cy="756" r="4.3"/><circle cx="1623" cy="735" r="4.3"/><circle cx="1532" cy="755" r="4.3"/><circle cx="1838" cy="811" r="4.3"/><circle cx="1855" cy="764" r="4.3"/><circle cx="1547" cy="834" r="4.3"/><circle cx="1806" cy="757" r="4.3"/><circle cx="1787" cy="750" r="4.3"/><circle cx="1549" cy="762" r="4.3"/><circle cx="1614" cy="657" r="4.3"/><circle cx="1795" cy="757" r="4.3"/><circle cx="1781" cy="771" r="4.3"/><circle cx="1525" cy="814" r="4.3"/><circle cx="1844" cy="784" r="4.3"/><circle cx="1604" cy="751" r="4.3"/><circle cx="1831" cy="872" r="4.3"/><circle cx="1823" cy="715" r="4.3"/><circle cx="1877" cy="797" r="4.3"/><circle cx="1724" cy="700" r="4.3"/><circle cx="1538" cy="728" r="4.3"/><circle cx="1769" cy="744" r="4.3"/><circle cx="1611" cy="784" r="4.3"/><circle cx="1867" cy="787" r="4.3"/><circle cx="1779" cy="764" r="4.3"/><circle cx="1505" cy="893" r="4.3"/><circle cx="1523" cy="757" r="4.3"/><circle cx="1604" cy="766" r="4.3"/><circle cx="1626" cy="788" r="4.3"/><circle cx="1873" cy="804" r="4.3"/><circle cx="1731" cy="786" r="4.3"/><circle cx="1682" cy="854" r="4.3"/><circle cx="1812" cy="827" r="4.3"/><circle cx="1833" cy="757" r="4.3"/><circle cx="1665" cy="836" r="4.3"/><circle cx="1798" cy="817" r="4.3"/><circle cx="1726" cy="661" r="4.3"/><circle cx="1550" cy="748" r="4.3"/><circle cx="1708" cy="831" r="4.3"/><circle cx="1634" cy="730" r="4.3"/><circle cx="1632" cy="727" r="4.3"/><circle cx="1489" cy="824" r="4.3"/><circle cx="1606" cy="771" r="4.3"/><circle cx="1620" cy="774" r="4.3"/><circle cx="1521" cy="726" r="4.3"/><circle cx="1569" cy="918" r="4.3"/><circle cx="1727" cy="708" r="4.3"/><circle cx="1716" cy="746" r="4.3"/><circle cx="1670" cy="707" r="4.3"/><circle cx="1763" cy="780" r="4.3"/><circle cx="1507" cy="731" r="4.3"/><circle cx="1774" cy="710" r="4.3"/><circle cx="1596" cy="904" r="4.3"/><circle cx="1515" cy="762" r="4.3"/><circle cx="1793" cy="816" r="4.3"/><circle cx="1828" cy="780" r="4.3"/><circle cx="1615" cy="804" r="4.3"/><circle cx="1591" cy="850" r="4.3"/><circle cx="1724" cy="759" r="4.3"/><circle cx="1517" cy="741" r="4.3"/><circle cx="1506" cy="824" r="4.3"/><circle cx="1498" cy="817" r="4.3"/><circle cx="1880" cy="835" r="4.3"/><circle cx="1625" cy="695" r="4.3"/><circle cx="1828" cy="693" r="4.3"/><circle cx="1600" cy="830" r="4.3"/><circle cx="1593" cy="866" r="4.3"/><circle cx="1713" cy="740" r="4.3"/><circle cx="1649" cy="711" r="4.3"/><circle cx="1777" cy="739" r="4.3"/><circle cx="1502" cy="859" r="4.3"/><circle cx="1731" cy="722" r="4.3"/><circle cx="1838" cy="726" r="4.3"/><circle cx="1721" cy="716" r="4.3"/><circle cx="1543" cy="831" r="4.3"/><circle cx="1566" cy="859" r="4.3"/><circle cx="1614" cy="710" r="4.3"/><circle cx="1750" cy="853" r="4.3"/><circle cx="1843" cy="702" r="4.3"/><circle cx="1700" cy="767" r="4.3"/><circle cx="1640" cy="793" r="4.3"/><circle cx="1618" cy="757" r="4.3"/><circle cx="1873" cy="707" r="4.3"/><circle cx="1516" cy="746" r="4.3"/><circle cx="1690" cy="857" r="4.3"/><circle cx="1876" cy="718" r="4.3"/><circle cx="1485" cy="910" r="4.3"/><circle cx="1672" cy="825" r="4.3"/><circle cx="1646" cy="791" r="4.3"/><circle cx="1721" cy="747" r="4.3"/><circle cx="1478" cy="870" r="4.3"/><circle cx="1717" cy="711" r="4.3"/><circle cx="1869" cy="796" r="4.3"/><circle cx="1732" cy="828" r="4.3"/><circle cx="1610" cy="761" r="4.3"/><circle cx="1561" cy="757" r="4.3"/><circle cx="1547" cy="782" r="4.3"/><circle cx="1610" cy="763" r="4.3"/><circle cx="1790" cy="798" r="4.3"/><circle cx="1842" cy="752" r="4.3"/><circle cx="1685" cy="810" r="4.3"/><circle cx="1654" cy="773" r="4.3"/><circle cx="1800" cy="841" r="4.3"/><circle cx="1650" cy="844" r="4.3"/><circle cx="1659" cy="868" r="4.3"/><circle cx="1848" cy="844" r="4.3"/><circle cx="1825" cy="760" r="4.3"/><circle cx="1867" cy="753" r="4.3"/><circle cx="1871" cy="756" r="4.3"/><circle cx="1765" cy="704" r="4.3"/><circle cx="1773" cy="836" r="4.3"/><circle cx="1770" cy="724" r="4.3"/><circle cx="1595" cy="832" r="4.3"/><circle cx="1677" cy="782" r="4.3"/><circle cx="1697" cy="835" r="4.3"/><circle cx="1823" cy="728" r="4.3"/><circle cx="1725" cy="685" r="4.3"/><circle cx="1723" cy="971" r="4.3"/><circle cx="1863" cy="758" r="4.3"/><circle cx="1531" cy="672" r="4.3"/><circle cx="1806" cy="827" r="4.3"/><circle cx="1521" cy="739" r="4.3"/><circle cx="1796" cy="818" r="4.3"/><circle cx="1769" cy="727" r="4.3"/><circle cx="1866" cy="795" r="4.3"/><circle cx="1769" cy="742" r="4.3"/><circle cx="1588" cy="886" r="4.3"/><circle cx="1628" cy="818" r="4.3"/><circle cx="1587" cy="898" r="4.3"/><circle cx="1486" cy="876" r="4.3"/><circle cx="1866" cy="803" r="4.3"/><circle cx="1835" cy="753" r="4.3"/><circle cx="1530" cy="750" r="4.3"/><circle cx="1735" cy="739" r="4.3"/><circle cx="1811" cy="723" r="4.3"/><circle cx="1848" cy="801" r="4.3"/><circle cx="1591" cy="834" r="4.3"/><circle cx="1850" cy="826" r="4.3"/><circle cx="1528" cy="835" r="4.3"/><circle cx="1620" cy="716" r="4.3"/><circle cx="1716" cy="796" r="4.3"/><circle cx="1724" cy="777" r="4.3"/><circle cx="1866" cy="798" r="4.3"/><circle cx="1492" cy="857" r="4.3"/><circle cx="1576" cy="854" r="4.3"/><circle cx="1609" cy="821" r="4.3"/><circle cx="1521" cy="616" r="4.3"/><circle cx="1833" cy="886" r="4.3"/><circle cx="1823" cy="752" r="4.3"/><circle cx="1821" cy="842" r="4.3"/><circle cx="1531" cy="738" r="4.3"/><circle cx="1714" cy="795" r="4.3"/><circle cx="1521" cy="706" r="4.3"/><circle cx="1533" cy="728" r="4.3"/><circle cx="1576" cy="800" r="4.3"/><circle cx="1762" cy="757" r="4.3"/><circle cx="1621" cy="774" r="4.3"/><circle cx="1750" cy="730" r="4.3"/><circle cx="1790" cy="751" r="4.3"/><circle cx="1823" cy="801" r="4.3"/><circle cx="1620" cy="727" r="4.3"/><circle cx="1856" cy="840" r="4.3"/><circle cx="1521" cy="754" r="4.3"/><circle cx="1556" cy="901" r="4.3"/><circle cx="1636" cy="766" r="4.3"/><circle cx="1534" cy="777" r="4.3"/><circle cx="1823" cy="740" r="4.3"/><circle cx="1480" cy="779" r="4.3"/><circle cx="1557" cy="770" r="4.3"/><circle cx="1823" cy="707" r="4.3"/><circle cx="1716" cy="816" r="4.3"/><circle cx="1767" cy="766" r="4.3"/><circle cx="1869" cy="748" r="4.3"/><circle cx="1511" cy="752" r="4.3"/><circle cx="1561" cy="758" r="4.3"/><circle cx="1706" cy="840" r="4.3"/><circle cx="1725" cy="800" r="4.3"/><circle cx="1495" cy="821" r="4.3"/><circle cx="1894" cy="850" r="4.3"/><circle cx="1816" cy="691" r="4.3"/><circle cx="1569" cy="858" r="4.3"/><circle cx="1680" cy="844" r="4.3"/><circle cx="1667" cy="801" r="4.3"/><circle cx="1863" cy="837" r="4.3"/><circle cx="1682" cy="830" r="4.3"/><circle cx="1522" cy="763" r="4.3"/><circle cx="1741" cy="721" r="4.3"/><circle cx="1750" cy="798" r="4.3"/><circle cx="1781" cy="797" r="4.3"/><circle cx="1622" cy="761" r="4.3"/><circle cx="1557" cy="787" r="4.3"/><circle cx="1531" cy="769" r="4.3"/><circle cx="1772" cy="795" r="4.3"/><circle cx="1479" cy="786" r="4.3"/><circle cx="1499" cy="819" r="4.3"/><circle cx="1817" cy="830" r="4.3"/><circle cx="1828" cy="658" r="4.3"/><circle cx="1494" cy="816" r="4.3"/><circle cx="1511" cy="788" r="4.3"/><circle cx="1621" cy="757" r="4.3"/><circle cx="1745" cy="843" r="4.3"/><circle cx="1814" cy="764" r="4.3"/><circle cx="1833" cy="732" r="4.3"/><circle cx="1820" cy="779" r="4.3"/><circle cx="1879" cy="793" r="4.3"/><circle cx="1792" cy="768" r="4.3"/><circle cx="1833" cy="793" r="4.3"/><circle cx="1831" cy="722" r="4.3"/><circle cx="1867" cy="754" r="4.3"/><circle cx="1732" cy="749" r="4.3"/><circle cx="1478" cy="828" r="4.3"/><circle cx="1725" cy="721" r="4.3"/><circle cx="1742" cy="687" r="4.3"/><circle cx="1625" cy="708" r="4.3"/><circle cx="1519" cy="705" r="4.3"/><circle cx="1554" cy="761" r="4.3"/><circle cx="1880" cy="878" r="4.3"/><circle cx="1878" cy="720" r="4.3"/><circle cx="1719" cy="728" r="4.3"/><circle cx="1581" cy="823" r="4.3"/><circle cx="1516" cy="640" r="4.3"/><circle cx="1678" cy="789" r="4.3"/><circle cx="1824" cy="735" r="4.3"/><circle cx="1529" cy="790" r="4.3"/><circle cx="1602" cy="895" r="4.3"/><circle cx="1782" cy="752" r="4.3"/><circle cx="1523" cy="770" r="4.3"/><circle cx="1754" cy="755" r="4.3"/><circle cx="1629" cy="680" r="4.3"/><circle cx="1805" cy="779" r="4.3"/><circle cx="1786" cy="757" r="4.3"/><circle cx="1880" cy="725" r="4.3"/><circle cx="1726" cy="808" r="4.3"/><circle cx="1508" cy="806" r="4.3"/><circle cx="1620" cy="843" r="4.3"/><circle cx="1504" cy="764" r="4.3"/><circle cx="1865" cy="748" r="4.3"/><circle cx="1734" cy="799" r="4.3"/><circle cx="1628" cy="636" r="4.3"/><circle cx="1886" cy="832" r="4.3"/><circle cx="1616" cy="860" r="4.3"/><circle cx="1807" cy="784" r="4.3"/><circle cx="1618" cy="749" r="4.3"/><circle cx="1634" cy="754" r="4.3"/><circle cx="1825" cy="758" r="4.3"/><circle cx="1715" cy="820" r="4.3"/><circle cx="1575" cy="765" r="4.3"/><circle cx="1623" cy="726" r="4.3"/><circle cx="1486" cy="838" r="4.3"/><circle cx="1603" cy="792" r="4.3"/><circle cx="1677" cy="820" r="4.3"/><circle cx="1834" cy="768" r="4.3"/><circle cx="1606" cy="755" r="4.3"/><circle cx="1504" cy="676" r="4.3"/><circle cx="1717" cy="789" r="4.3"/><circle cx="1533" cy="771" r="4.3"/><circle cx="1625" cy="669" r="4.3"/><circle cx="1520" cy="666" r="4.3"/><circle cx="1703" cy="833" r="4.3"/><circle cx="1526" cy="729" r="4.3"/><circle cx="1526" cy="742" r="4.3"/><circle cx="1758" cy="751" r="4.3"/><circle cx="1623" cy="767" r="4.3"/><circle cx="1720" cy="798" r="4.3"/><circle cx="1844" cy="817" r="4.3"/><circle cx="1690" cy="795" r="4.3"/><circle cx="1877" cy="684" r="4.3"/><circle cx="1722" cy="762" r="4.3"/><circle cx="1769" cy="848" r="4.3"/><circle cx="1817" cy="786" r="4.3"/><circle cx="1719" cy="732" r="4.3"/><circle cx="1870" cy="758" r="4.3"/><circle cx="1592" cy="827" r="4.3"/><circle cx="1511" cy="729" r="4.3"/><circle cx="1837" cy="774" r="4.3"/><circle cx="1724" cy="740" r="4.3"/><circle cx="1593" cy="817" r="4.3"/><circle cx="1829" cy="794" r="4.3"/><circle cx="1477" cy="796" r="4.3"/><circle cx="1762" cy="738" r="4.3"/><circle cx="1644" cy="890" r="4.3"/><circle cx="1650" cy="839" r="4.3"/><circle cx="1558" cy="780" r="4.3"/><circle cx="1764" cy="744" r="4.3"/><circle cx="1620" cy="783" r="4.3"/><circle cx="1660" cy="713" r="4.3"/><circle cx="1815" cy="762" r="4.3"/><circle cx="1659" cy="855" r="4.3"/><circle cx="1619" cy="731" r="4.3"/><circle cx="1845" cy="838" r="4.3"/><circle cx="1598" cy="888" r="4.3"/><circle cx="1690" cy="851" r="4.3"/><circle cx="1482" cy="893" r="4.3"/><circle cx="1565" cy="753" r="4.3"/><circle cx="1512" cy="776" r="4.3"/><circle cx="1624" cy="613" r="4.3"/><circle cx="1755" cy="778" r="4.3"/><circle cx="1525" cy="766" r="4.3"/><circle cx="1649" cy="836" r="4.3"/><circle cx="1782" cy="687" r="4.3"/><circle cx="1597" cy="812" r="4.3"/><circle cx="1883" cy="739" r="4.3"/><circle cx="1830" cy="795" r="4.3"/><circle cx="1477" cy="847" r="4.3"/><circle cx="1689" cy="873" r="4.3"/><circle cx="1684" cy="724" r="4.3"/><circle cx="1505" cy="808" r="4.3"/><circle cx="1868" cy="826" r="4.3"/><circle cx="1772" cy="694" r="4.3"/><circle cx="1470" cy="765" r="4.3"/><circle cx="1765" cy="679" r="4.3"/><circle cx="1689" cy="787" r="4.3"/><circle cx="1850" cy="768" r="4.3"/><circle cx="1714" cy="812" r="4.3"/><circle cx="1811" cy="861" r="4.3"/><circle cx="1872" cy="767" r="4.3"/><circle cx="1604" cy="708" r="4.3"/><circle cx="1828" cy="832" r="4.3"/><circle cx="1511" cy="748" r="4.3"/><circle cx="1728" cy="764" r="4.3"/><circle cx="1825" cy="778" r="4.3"/><circle cx="1622" cy="706" r="4.3"/><circle cx="1720" cy="838" r="4.3"/><circle cx="1725" cy="781" r="4.3"/><circle cx="1558" cy="784" r="4.3"/><circle cx="1618" cy="715" r="4.3"/><circle cx="1828" cy="656" r="4.3"/><circle cx="1726" cy="812" r="4.3"/><circle cx="1842" cy="822" r="4.3"/><circle cx="1863" cy="742" r="4.3"/><circle cx="1615" cy="729" r="4.3"/><circle cx="1503" cy="870" r="4.3"/><circle cx="1579" cy="770" r="4.3"/><circle cx="1655" cy="833" r="4.3"/><circle cx="1587" cy="858" r="4.3"/><circle cx="1736" cy="855" r="4.3"/><circle cx="1649" cy="797" r="4.3"/><circle cx="1513" cy="675" r="4.3"/><circle cx="1473" cy="800" r="4.3"/><circle cx="1799" cy="826" r="4.3"/><circle cx="1800" cy="666" r="4.3"/><circle cx="1613" cy="670" r="4.3"/><circle cx="1829" cy="701" r="4.3"/><circle cx="1622" cy="675" r="4.3"/><circle cx="1560" cy="731" r="4.3"/><circle cx="1478" cy="878" r="4.3"/><circle cx="1807" cy="809" r="4.3"/><circle cx="1847" cy="857" r="4.3"/><circle cx="1779" cy="774" r="4.3"/><circle cx="1501" cy="799" r="4.3"/><circle cx="1555" cy="821" r="4.3"/><circle cx="1503" cy="851" r="4.3"/><circle cx="1619" cy="638" r="4.3"/><circle cx="1773" cy="746" r="4.3"/><circle cx="1630" cy="683" r="4.3"/><circle cx="1616" cy="651" r="4.3"/><circle cx="1884" cy="848" r="4.3"/><circle cx="1579" cy="767" r="4.3"/><circle cx="1507" cy="790" r="4.3"/><circle cx="1676" cy="755" r="4.3"/><circle cx="1563" cy="686" r="4.3"/><circle cx="1844" cy="856" r="4.3"/><circle cx="1800" cy="866" r="4.3"/><circle cx="1846" cy="808" r="4.3"/><circle cx="1759" cy="758" r="4.3"/><circle cx="1746" cy="715" r="4.3"/><circle cx="1870" cy="875" r="4.3"/><circle cx="1837" cy="804" r="4.3"/><circle cx="1547" cy="874" r="4.3"/><circle cx="1502" cy="834" r="4.3"/><circle cx="1614" cy="693" r="4.3"/><circle cx="1516" cy="784" r="4.3"/><circle cx="1809" cy="809" r="4.3"/><circle cx="1757" cy="832" r="4.3"/><circle cx="1787" cy="859" r="4.3"/><circle cx="1508" cy="786" r="4.3"/><circle cx="1838" cy="738" r="4.3"/><circle cx="1818" cy="801" r="4.3"/><circle cx="1626" cy="730" r="4.3"/><circle cx="1526" cy="777" r="4.3"/><circle cx="1644" cy="830" r="4.3"/><circle cx="1519" cy="754" r="4.3"/><circle cx="1533" cy="769" r="4.3"/><circle cx="1553" cy="770" r="4.3"/><circle cx="1624" cy="771" r="4.3"/><circle cx="1829" cy="747" r="4.3"/><circle cx="1480" cy="797" r="4.3"/><circle cx="1760" cy="792" r="4.3"/><circle cx="1835" cy="786" r="4.3"/><circle cx="1615" cy="651" r="4.3"/><circle cx="1522" cy="696" r="4.3"/><circle cx="1806" cy="860" r="4.3"/><circle cx="1868" cy="819" r="4.3"/><circle cx="1822" cy="781" r="4.3"/><circle cx="1786" cy="747" r="4.3"/><circle cx="1714" cy="762" r="4.3"/><circle cx="1524" cy="795" r="4.3"/><circle cx="1516" cy="750" r="4.3"/><circle cx="1826" cy="749" r="4.3"/><circle cx="1553" cy="816" r="4.3"/><circle cx="1864" cy="748" r="4.3"/><circle cx="1633" cy="738" r="4.3"/><circle cx="1489" cy="906" r="4.3"/><circle cx="1490" cy="868" r="4.3"/><circle cx="1503" cy="740" r="4.3"/><circle cx="1524" cy="736" r="4.3"/><circle cx="1683" cy="860" r="4.3"/><circle cx="1596" cy="844" r="4.3"/><circle cx="1525" cy="737" r="4.3"/><circle cx="1875" cy="712" r="4.3"/><circle cx="1767" cy="745" r="4.3"/><circle cx="1557" cy="844" r="4.3"/><circle cx="1875" cy="770" r="4.3"/><circle cx="1793" cy="905" r="4.3"/><circle cx="1554" cy="783" r="4.3"/><circle cx="1535" cy="747" r="4.3"/><circle cx="1521" cy="761" r="4.3"/><circle cx="1889" cy="858" r="4.3"/><circle cx="1708" cy="967" r="4.3"/><circle cx="1894" cy="857" r="4.3"/><circle cx="1659" cy="761" r="4.3"/><circle cx="1627" cy="720" r="4.3"/><circle cx="1820" cy="833" r="4.3"/><circle cx="1818" cy="707" r="4.3"/><circle cx="1827" cy="765" r="4.3"/><circle cx="1676" cy="758" r="4.3"/><circle cx="1718" cy="807" r="4.3"/><circle cx="1471" cy="895" r="4.3"/><circle cx="1618" cy="762" r="4.3"/><circle cx="1799" cy="892" r="4.3"/><circle cx="1665" cy="845" r="4.3"/><circle cx="1873" cy="777" r="4.3"/><circle cx="1818" cy="841" r="4.3"/><circle cx="1506" cy="814" r="4.3"/><circle cx="1828" cy="655" r="4.3"/><circle cx="1625" cy="783" r="4.3"/><circle cx="1855" cy="845" r="4.3"/><circle cx="1819" cy="886" r="4.3"/><circle cx="1661" cy="876" r="4.3"/><circle cx="1816" cy="905" r="4.3"/><circle cx="1733" cy="690" r="4.3"/><circle cx="1799" cy="859" r="4.3"/><circle cx="1534" cy="825" r="4.3"/><circle cx="1633" cy="846" r="4.3"/><circle cx="1815" cy="770" r="4.3"/><circle cx="1758" cy="742" r="4.3"/><circle cx="1634" cy="668" r="4.3"/><circle cx="1607" cy="853" r="4.3"/><circle cx="1656" cy="760" r="4.3"/><circle cx="1775" cy="790" r="4.3"/><circle cx="1626" cy="747" r="4.3"/><circle cx="1848" cy="787" r="4.3"/><circle cx="1574" cy="761" r="4.3"/><circle cx="1661" cy="798" r="4.3"/><circle cx="1754" cy="789" r="4.3"/><circle cx="1749" cy="776" r="4.3"/><circle cx="1866" cy="707" r="4.3"/><circle cx="1577" cy="772" r="4.3"/><circle cx="1563" cy="895" r="4.3"/><circle cx="1759" cy="755" r="4.3"/><circle cx="1669" cy="754" r="4.3"/><circle cx="1620" cy="686" r="4.3"/><circle cx="1863" cy="784" r="4.3"/><circle cx="1738" cy="736" r="4.3"/><circle cx="1770" cy="761" r="4.3"/><circle cx="1593" cy="786" r="4.3"/><circle cx="1570" cy="815" r="4.3"/><circle cx="1724" cy="657" r="4.3"/><circle cx="1625" cy="775" r="4.3"/><circle cx="1506" cy="886" r="4.3"/><circle cx="1629" cy="765" r="4.3"/><circle cx="1864" cy="664" r="4.3"/><circle cx="1813" cy="889" r="4.3"/><circle cx="1886" cy="747" r="4.3"/><circle cx="1531" cy="778" r="4.3"/><circle cx="1551" cy="900" r="4.3"/><circle cx="1826" cy="687" r="4.3"/><circle cx="1486" cy="719" r="4.3"/><circle cx="1806" cy="784" r="4.3"/><circle cx="1511" cy="777" r="4.3"/><circle cx="1485" cy="868" r="4.3"/><circle cx="1722" cy="909" r="4.3"/><circle cx="1863" cy="790" r="4.3"/><circle cx="1827" cy="855" r="4.3"/><circle cx="1494" cy="764" r="4.3"/><circle cx="1837" cy="757" r="4.3"/><circle cx="1799" cy="826" r="4.3"/><circle cx="1534" cy="695" r="4.3"/><circle cx="1574" cy="854" r="4.3"/><circle cx="1713" cy="801" r="4.3"/><circle cx="1694" cy="834" r="4.3"/><circle cx="1833" cy="731" r="4.3"/><circle cx="1590" cy="833" r="4.3"/><circle cx="1850" cy="831" r="4.3"/><circle cx="1474" cy="850" r="4.3"/><circle cx="1717" cy="727" r="4.3"/><circle cx="1488" cy="857" r="4.3"/><circle cx="1870" cy="866" r="4.3"/><circle cx="1522" cy="828" r="4.3"/><circle cx="1877" cy="773" r="4.3"/><circle cx="1743" cy="802" r="4.3"/><circle cx="1768" cy="746" r="4.3"/><circle cx="1483" cy="877" r="4.3"/><circle cx="1508" cy="812" r="4.3"/><circle cx="1621" cy="766" r="4.3"/><circle cx="1526" cy="714" r="4.3"/><circle cx="1701" cy="778" r="4.3"/><circle cx="1696" cy="837" r="4.3"/><circle cx="1584" cy="780" r="4.3"/><circle cx="1845" cy="748" r="4.3"/><circle cx="1710" cy="842" r="4.3"/><circle cx="1576" cy="796" r="4.3"/><circle cx="1775" cy="817" r="4.3"/><circle cx="1866" cy="695" r="4.3"/><circle cx="1856" cy="762" r="4.3"/><circle cx="1472" cy="802" r="4.3"/><circle cx="1670" cy="759" r="4.3"/><circle cx="1755" cy="729" r="4.3"/><circle cx="1637" cy="736" r="4.3"/><circle cx="1824" cy="734" r="4.3"/><circle cx="1744" cy="877" r="4.3"/><circle cx="1613" cy="827" r="4.3"/><circle cx="1655" cy="798" r="4.3"/><circle cx="1806" cy="799" r="4.3"/><circle cx="1814" cy="751" r="4.3"/><circle cx="1794" cy="821" r="4.3"/><circle cx="1549" cy="751" r="4.3"/><circle cx="1613" cy="777" r="4.3"/><circle cx="1854" cy="809" r="4.3"/><circle cx="1835" cy="671" r="4.3"/><circle cx="1718" cy="772" r="4.3"/><circle cx="1745" cy="818" r="4.3"/><circle cx="1486" cy="860" r="4.3"/><circle cx="1581" cy="854" r="4.3"/><circle cx="1799" cy="819" r="4.3"/><circle cx="1619" cy="750" r="4.3"/><circle cx="1726" cy="777" r="4.3"/><circle cx="1513" cy="781" r="4.3"/><circle cx="1836" cy="766" r="4.3"/><circle cx="1786" cy="765" r="4.3"/><circle cx="1522" cy="700" r="4.3"/><circle cx="1652" cy="762" r="4.3"/><circle cx="1835" cy="625" r="4.3"/><circle cx="1892" cy="768" r="4.3"/><circle cx="1722" cy="774" r="4.3"/><circle cx="1739" cy="779" r="4.3"/><circle cx="1828" cy="787" r="4.3"/><circle cx="1834" cy="761" r="4.3"/><circle cx="1707" cy="916" r="4.3"/><circle cx="1543" cy="779" r="4.3"/><circle cx="1815" cy="813" r="4.3"/><circle cx="1763" cy="761" r="4.3"/><circle cx="1661" cy="817" r="4.3"/><circle cx="1831" cy="900" r="4.3"/><circle cx="1638" cy="716" r="4.3"/><circle cx="1695" cy="771" r="4.3"/><circle cx="1723" cy="790" r="4.3"/><circle cx="1731" cy="821" r="4.3"/><circle cx="1526" cy="776" r="4.3"/><circle cx="1703" cy="789" r="4.3"/><circle cx="1506" cy="790" r="4.3"/><circle cx="1715" cy="738" r="4.3"/><circle cx="1615" cy="752" r="4.3"/><circle cx="1527" cy="716" r="4.3"/><circle cx="1625" cy="749" r="4.3"/><circle cx="1518" cy="765" r="4.3"/><circle cx="1696" cy="903" r="4.3"/><circle cx="1522" cy="759" r="4.3"/><circle cx="1596" cy="803" r="4.3"/><circle cx="1730" cy="649" r="4.3"/><circle cx="1723" cy="770" r="4.3"/><circle cx="1766" cy="859" r="4.3"/><circle cx="1522" cy="718" r="4.3"/><circle cx="1637" cy="821" r="4.3"/><circle cx="1868" cy="822" r="4.3"/><circle cx="1801" cy="815" r="4.3"/><circle cx="1560" cy="749" r="4.3"/><circle cx="1736" cy="802" r="4.3"/><circle cx="1478" cy="852" r="4.3"/><circle cx="1723" cy="818" r="4.3"/><circle cx="1670" cy="798" r="4.3"/><circle cx="1731" cy="753" r="4.3"/><circle cx="1692" cy="904" r="4.3"/><circle cx="1845" cy="733" r="4.3"/><circle cx="1878" cy="773" r="4.3"/><circle cx="1840" cy="742" r="4.3"/><circle cx="1843" cy="778" r="4.3"/><circle cx="1632" cy="678" r="4.3"/><circle cx="1730" cy="779" r="4.3"/><circle cx="1570" cy="857" r="4.3"/><circle cx="1495" cy="821" r="4.3"/><circle cx="1763" cy="775" r="4.3"/><circle cx="1502" cy="773" r="4.3"/><circle cx="1605" cy="819" r="4.3"/><circle cx="1870" cy="704" r="4.3"/><circle cx="1887" cy="857" r="4.3"/><circle cx="1869" cy="757" r="4.3"/><circle cx="1500" cy="785" r="4.3"/><circle cx="1791" cy="769" r="4.3"/><circle cx="1618" cy="686" r="4.3"/><circle cx="1634" cy="817" r="4.3"/><circle cx="1470" cy="848" r="4.3"/><circle cx="1515" cy="665" r="4.3"/><circle cx="1633" cy="712" r="4.3"/><circle cx="1801" cy="814" r="4.3"/><circle cx="1689" cy="824" r="4.3"/><circle cx="1583" cy="849" r="4.3"/><circle cx="1494" cy="890" r="4.3"/><circle cx="1877" cy="792" r="4.3"/><circle cx="1778" cy="854" r="4.3"/><circle cx="1525" cy="777" r="4.3"/><circle cx="1835" cy="718" r="4.3"/><circle cx="1630" cy="726" r="4.3"/><circle cx="1673" cy="774" r="4.3"/><circle cx="1520" cy="736" r="4.3"/><circle cx="1652" cy="804" r="4.3"/><circle cx="1518" cy="704" r="4.3"/><circle cx="1637" cy="742" r="4.3"/><circle cx="1581" cy="935" r="4.3"/><circle cx="1828" cy="685" r="4.3"/><circle cx="1558" cy="823" r="4.3"/><circle cx="1606" cy="817" r="4.3"/><circle cx="1785" cy="758" r="4.3"/><circle cx="1863" cy="927" r="4.3"/><circle cx="1777" cy="763" r="4.3"/><circle cx="1588" cy="888" r="4.3"/><circle cx="1565" cy="723" r="4.3"/><circle cx="1697" cy="848" r="4.3"/><circle cx="1514" cy="679" r="4.3"/><circle cx="1632" cy="778" r="4.3"/><circle cx="1605" cy="793" r="4.3"/><circle cx="1615" cy="797" r="4.3"/><circle cx="1666" cy="714" r="4.3"/><circle cx="1688" cy="757" r="4.3"/><circle cx="1714" cy="825" r="4.3"/><circle cx="1647" cy="758" r="4.3"/><circle cx="1867" cy="743" r="4.3"/><circle cx="1523" cy="812" r="4.3"/><circle cx="1753" cy="764" r="4.3"/><circle cx="1681" cy="861" r="4.3"/><circle cx="1518" cy="774" r="4.3"/><circle cx="1862" cy="786" r="4.3"/><circle cx="1729" cy="730" r="4.3"/><circle cx="1764" cy="711" r="4.3"/><circle cx="1701" cy="781" r="4.3"/><circle cx="1534" cy="858" r="4.3"/><circle cx="1620" cy="785" r="4.3"/><circle cx="1722" cy="784" r="4.3"/><circle cx="1630" cy="622" r="4.3"/><circle cx="1477" cy="784" r="4.3"/><circle cx="1786" cy="854" r="4.3"/><circle cx="1610" cy="775" r="4.3"/><circle cx="1789" cy="846" r="4.3"/><circle cx="1598" cy="875" r="4.3"/><circle cx="1539" cy="831" r="4.3"/><circle cx="1834" cy="753" r="4.3"/><circle cx="1838" cy="845" r="4.3"/><circle cx="1887" cy="809" r="4.3"/><circle cx="1767" cy="748" r="4.3"/><circle cx="1493" cy="825" r="4.3"/><circle cx="1737" cy="746" r="4.3"/><circle cx="1831" cy="746" r="4.3"/><circle cx="1706" cy="792" r="4.3"/><circle cx="1617" cy="747" r="4.3"/><circle cx="1816" cy="878" r="4.3"/><circle cx="1620" cy="697" r="4.3"/><circle cx="1550" cy="763" r="4.3"/><circle cx="1835" cy="787" r="4.3"/><circle cx="1679" cy="749" r="4.3"/><circle cx="1725" cy="731" r="4.3"/><circle cx="1549" cy="787" r="4.3"/><circle cx="1838" cy="784" r="4.3"/><circle cx="1892" cy="802" r="4.3"/><circle cx="1614" cy="700" r="4.3"/><circle cx="1590" cy="789" r="4.3"/><circle cx="1665" cy="755" r="4.3"/><circle cx="1833" cy="782" r="4.3"/><circle cx="1881" cy="874" r="4.3"/><circle cx="1728" cy="777" r="4.3"/><circle cx="1670" cy="733" r="4.3"/><circle cx="1571" cy="739" r="4.3"/><circle cx="1726" cy="792" r="4.3"/><circle cx="1549" cy="749" r="4.3"/><circle cx="1584" cy="876" r="4.3"/><circle cx="1562" cy="787" r="4.3"/><circle cx="1621" cy="690" r="4.3"/><circle cx="1615" cy="727" r="4.3"/><circle cx="1795" cy="774" r="4.3"/><circle cx="1622" cy="638" r="4.3"/><circle cx="1713" cy="723" r="4.3"/><circle cx="1870" cy="749" r="4.3"/><circle cx="1718" cy="704" r="4.3"/><circle cx="1526" cy="763" r="4.3"/><circle cx="1819" cy="770" r="4.3"/><circle cx="1589" cy="775" r="4.3"/><circle cx="1490" cy="824" r="4.3"/><circle cx="1579" cy="814" r="4.3"/><circle cx="1773" cy="773" r="4.3"/><circle cx="1763" cy="741" r="4.3"/><circle cx="1521" cy="774" r="4.3"/><circle cx="1624" cy="640" r="4.3"/><circle cx="1528" cy="791" r="4.3"/><circle cx="1862" cy="695" r="4.3"/><circle cx="1775" cy="754" r="4.3"/><circle cx="1518" cy="705" r="4.3"/><circle cx="1489" cy="914" r="4.3"/><circle cx="1510" cy="730" r="4.3"/><circle cx="1594" cy="844" r="4.3"/><circle cx="1676" cy="732" r="4.3"/><circle cx="1610" cy="759" r="4.3"/><circle cx="1546" cy="782" r="4.3"/><circle cx="1792" cy="885" r="4.3"/><circle cx="1852" cy="843" r="4.3"/><circle cx="1655" cy="957" r="4.3"/><circle cx="1627" cy="696" r="4.3"/><circle cx="1614" cy="727" r="4.3"/><circle cx="1854" cy="781" r="4.3"/><circle cx="1642" cy="778" r="4.3"/><circle cx="1592" cy="839" r="4.3"/><circle cx="1586" cy="856" r="4.3"/><circle cx="1728" cy="786" r="4.3"/><circle cx="1726" cy="791" r="4.3"/><circle cx="1714" cy="777" r="4.3"/><circle cx="1613" cy="748" r="4.3"/><circle cx="1755" cy="709" r="4.3"/><circle cx="1504" cy="816" r="4.3"/><circle cx="1745" cy="747" r="4.3"/><circle cx="1783" cy="806" r="4.3"/><circle cx="1619" cy="758" r="4.3"/><circle cx="1832" cy="764" r="4.3"/><circle cx="1528" cy="766" r="4.3"/><circle cx="1702" cy="875" r="4.3"/><circle cx="1873" cy="779" r="4.3"/><circle cx="1814" cy="812" r="4.3"/><circle cx="1752" cy="785" r="4.3"/><circle cx="1527" cy="769" r="4.3"/><circle cx="1526" cy="707" r="4.3"/><circle cx="1756" cy="745" r="4.3"/><circle cx="1865" cy="795" r="4.3"/><circle cx="1637" cy="775" r="4.3"/><circle cx="1665" cy="864" r="4.3"/><circle cx="1582" cy="791" r="4.3"/><circle cx="1872" cy="845" r="4.3"/><circle cx="1615" cy="775" r="4.3"/><circle cx="1610" cy="792" r="4.3"/><circle cx="1565" cy="817" r="4.3"/><circle cx="1557" cy="840" r="4.3"/><circle cx="1827" cy="788" r="4.3"/><circle cx="1516" cy="734" r="4.3"/><circle cx="1818" cy="853" r="4.3"/><circle cx="1539" cy="623" r="4.3"/><circle cx="1642" cy="733" r="4.3"/><circle cx="1860" cy="828" r="4.3"/><circle cx="1826" cy="881" r="4.3"/><circle cx="1632" cy="824" r="4.3"/><circle cx="1835" cy="757" r="4.3"/><circle cx="1531" cy="710" r="4.3"/><circle cx="1593" cy="862" r="4.3"/><circle cx="1730" cy="744" r="4.3"/><circle cx="1605" cy="754" r="4.3"/><circle cx="1726" cy="743" r="4.3"/><circle cx="1686" cy="857" r="4.3"/><circle cx="1813" cy="805" r="4.3"/><circle cx="1792" cy="852" r="4.3"/><circle cx="1861" cy="729" r="4.3"/><circle cx="1772" cy="867" r="4.3"/><circle cx="1761" cy="737" r="4.3"/><circle cx="1548" cy="635" r="4.3"/><circle cx="1879" cy="821" r="4.3"/><circle cx="1830" cy="683" r="4.3"/><circle cx="1726" cy="782" r="4.3"/><circle cx="1747" cy="687" r="4.3"/><circle cx="1824" cy="693" r="4.3"/><circle cx="1614" cy="661" r="4.3"/><circle cx="1486" cy="839" r="4.3"/><circle cx="1782" cy="751" r="4.3"/><circle cx="1685" cy="815" r="4.3"/><circle cx="1889" cy="829" r="4.3"/><circle cx="1722" cy="747" r="4.3"/><circle cx="1539" cy="848" r="4.3"/><circle cx="1702" cy="827" r="4.3"/><circle cx="1821" cy="709" r="4.3"/><circle cx="1519" cy="709" r="4.3"/><circle cx="1724" cy="788" r="4.3"/><circle cx="1773" cy="644" r="4.3"/><circle cx="1603" cy="716" r="4.3"/><circle cx="1828" cy="751" r="4.3"/><circle cx="1661" cy="817" r="4.3"/><circle cx="1892" cy="755" r="4.3"/><circle cx="1682" cy="789" r="4.3"/><circle cx="1751" cy="777" r="4.3"/><circle cx="1510" cy="744" r="4.3"/><circle cx="1862" cy="834" r="4.3"/><circle cx="1729" cy="758" r="4.3"/><circle cx="1624" cy="608" r="4.3"/><circle cx="1799" cy="843" r="4.3"/><circle cx="1500" cy="863" r="4.3"/><circle cx="1610" cy="753" r="4.3"/><circle cx="1547" cy="815" r="4.3"/><circle cx="1622" cy="672" r="4.3"/><circle cx="1869" cy="729" r="4.3"/><circle cx="1596" cy="844" r="4.3"/><circle cx="1830" cy="760" r="4.3"/><circle cx="1739" cy="823" r="4.3"/><circle cx="1588" cy="862" r="4.3"/><circle cx="1815" cy="759" r="4.3"/><circle cx="1873" cy="809" r="4.3"/><circle cx="1864" cy="683" r="4.3"/><circle cx="1882" cy="759" r="4.3"/><circle cx="1782" cy="794" r="4.3"/><circle cx="1780" cy="716" r="4.3"/><circle cx="1615" cy="746" r="4.3"/><circle cx="1845" cy="744" r="4.3"/><circle cx="1694" cy="804" r="4.3"/><circle cx="1597" cy="822" r="4.3"/><circle cx="1591" cy="749" r="4.3"/><circle cx="1707" cy="879" r="4.3"/><circle cx="1471" cy="817" r="4.3"/><circle cx="1697" cy="837" r="4.3"/><circle cx="1870" cy="767" r="4.3"/><circle cx="1612" cy="699" r="4.3"/><circle cx="1828" cy="774" r="4.3"/><circle cx="1699" cy="767" r="4.3"/><circle cx="1853" cy="697" r="4.3"/><circle cx="1495" cy="847" r="4.3"/><circle cx="1603" cy="833" r="4.3"/><circle cx="1624" cy="757" r="4.3"/><circle cx="1785" cy="897" r="4.3"/><circle cx="1841" cy="726" r="4.3"/><circle cx="1544" cy="721" r="4.3"/><circle cx="1881" cy="746" r="4.3"/><circle cx="1610" cy="718" r="4.3"/><circle cx="1883" cy="797" r="4.3"/><circle cx="1554" cy="795" r="4.3"/><circle cx="1756" cy="783" r="4.3"/><circle cx="1599" cy="862" r="4.3"/><circle cx="1765" cy="747" r="4.3"/><circle cx="1505" cy="797" r="4.3"/><circle cx="1700" cy="892" r="4.3"/><circle cx="1618" cy="772" r="4.3"/><circle cx="1636" cy="800" r="4.3"/><circle cx="1709" cy="632" r="4.3"/><circle cx="1524" cy="726" r="4.3"/><circle cx="1735" cy="840" r="4.3"/><circle cx="1662" cy="844" r="4.3"/><circle cx="1522" cy="682" r="4.3"/><circle cx="1830" cy="658" r="4.3"/><circle cx="1516" cy="734" r="4.3"/><circle cx="1854" cy="726" r="4.3"/><circle cx="1529" cy="722" r="4.3"/><circle cx="1575" cy="783" r="4.3"/><circle cx="1618" cy="668" r="4.3"/><circle cx="1822" cy="770" r="4.3"/><circle cx="1872" cy="789" r="4.3"/><circle cx="1729" cy="793" r="4.3"/><circle cx="1633" cy="766" r="4.3"/><circle cx="1530" cy="727" r="4.3"/><circle cx="1884" cy="746" r="4.3"/><circle cx="1805" cy="827" r="4.3"/><circle cx="1512" cy="746" r="4.3"/><circle cx="1660" cy="875" r="4.3"/><circle cx="1783" cy="809" r="4.3"/><circle cx="1527" cy="622" r="4.3"/><circle cx="1693" cy="881" r="4.3"/><circle cx="1546" cy="771" r="4.3"/><circle cx="1485" cy="867" r="4.3"/><circle cx="1790" cy="805" r="4.3"/><circle cx="1842" cy="822" r="4.3"/><circle cx="1768" cy="888" r="4.3"/><circle cx="1766" cy="643" r="4.3"/><circle cx="1623" cy="749" r="4.3"/><circle cx="1819" cy="807" r="4.3"/><circle cx="1500" cy="820" r="4.3"/><circle cx="1728" cy="620" r="4.3"/><circle cx="1874" cy="810" r="4.3"/><circle cx="1670" cy="809" r="4.3"/><circle cx="1527" cy="754" r="4.3"/><circle cx="1843" cy="725" r="4.3"/><circle cx="1716" cy="705" r="4.3"/><circle cx="1880" cy="809" r="4.3"/><circle cx="1805" cy="802" r="4.3"/><circle cx="1733" cy="644" r="4.3"/><circle cx="1837" cy="756" r="4.3"/><circle cx="1714" cy="929" r="4.3"/><circle cx="1876" cy="739" r="4.3"/><circle cx="1775" cy="840" r="4.3"/><circle cx="1762" cy="882" r="4.3"/><circle cx="1822" cy="771" r="4.3"/><circle cx="1674" cy="809" r="4.3"/><circle cx="1804" cy="876" r="4.3"/><circle cx="1753" cy="847" r="4.3"/><circle cx="1735" cy="713" r="4.3"/><circle cx="1693" cy="859" r="4.3"/><circle cx="1729" cy="745" r="4.3"/><circle cx="1626" cy="752" r="4.3"/><circle cx="1841" cy="742" r="4.3"/><circle cx="1569" cy="765" r="4.3"/><circle cx="1545" cy="831" r="4.3"/><circle cx="1815" cy="835" r="4.3"/><circle cx="1845" cy="778" r="4.3"/><circle cx="1722" cy="762" r="4.3"/><circle cx="1853" cy="823" r="4.3"/><circle cx="1496" cy="844" r="4.3"/><circle cx="1611" cy="752" r="4.3"/><circle cx="1751" cy="677" r="4.3"/><circle cx="1616" cy="660" r="4.3"/><circle cx="1481" cy="872" r="4.3"/><circle cx="1521" cy="804" r="4.3"/><circle cx="1797" cy="751" r="4.3"/><circle cx="1515" cy="713" r="4.3"/><circle cx="1865" cy="859" r="4.3"/><circle cx="1891" cy="744" r="4.3"/><circle cx="1770" cy="674" r="4.3"/><circle cx="1696" cy="831" r="4.3"/><circle cx="1782" cy="911" r="4.3"/><circle cx="1614" cy="687" r="4.3"/><circle cx="1620" cy="730" r="4.3"/><circle cx="1791" cy="897" r="4.3"/><circle cx="1598" cy="852" r="4.3"/><circle cx="1609" cy="719" r="4.3"/><circle cx="1798" cy="849" r="4.3"/><circle cx="1768" cy="868" r="4.3"/><circle cx="1877" cy="801" r="4.3"/><circle cx="1585" cy="783" r="4.3"/><circle cx="1620" cy="761" r="4.3"/><circle cx="1623" cy="688" r="4.3"/><circle cx="1886" cy="783" r="4.3"/><circle cx="1716" cy="774" r="4.3"/><circle cx="1876" cy="798" r="4.3"/><circle cx="1770" cy="726" r="4.3"/><circle cx="1523" cy="725" r="4.3"/><circle cx="1620" cy="730" r="4.3"/><circle cx="1485" cy="837" r="4.3"/><circle cx="1825" cy="811" r="4.3"/><circle cx="1858" cy="689" r="4.3"/><circle cx="1620" cy="745" r="4.3"/><circle cx="1628" cy="827" r="4.3"/><circle cx="1759" cy="741" r="4.3"/><circle cx="1724" cy="770" r="4.3"/><circle cx="1487" cy="860" r="4.3"/><circle cx="1742" cy="766" r="4.3"/><circle cx="1862" cy="713" r="4.3"/><circle cx="1683" cy="778" r="4.3"/><circle cx="1707" cy="909" r="4.3"/><circle cx="1518" cy="767" r="4.3"/><circle cx="1835" cy="761" r="4.3"/><circle cx="1575" cy="749" r="4.3"/><circle cx="1593" cy="798" r="4.3"/><circle cx="1819" cy="862" r="4.3"/><circle cx="1670" cy="822" r="4.3"/><circle cx="1763" cy="735" r="4.3"/><circle cx="1515" cy="786" r="4.3"/><circle cx="1830" cy="753" r="4.3"/><circle cx="1501" cy="782" r="4.3"/><circle cx="1540" cy="812" r="4.3"/><circle cx="1876" cy="809" r="4.3"/><circle cx="1718" cy="799" r="4.3"/><circle cx="1647" cy="731" r="4.3"/><circle cx="1543" cy="680" r="4.3"/><circle cx="1762" cy="763" r="4.3"/><circle cx="1770" cy="771" r="4.3"/><circle cx="1699" cy="831" r="4.3"/><circle cx="1522" cy="662" r="4.3"/><circle cx="1635" cy="847" r="4.3"/><circle cx="1510" cy="762" r="4.3"/><circle cx="1756" cy="791" r="4.3"/><circle cx="1772" cy="666" r="4.3"/><circle cx="1623" cy="710" r="4.3"/><circle cx="1594" cy="885" r="4.3"/><circle cx="1517" cy="751" r="4.3"/><circle cx="1519" cy="815" r="4.3"/><circle cx="1696" cy="863" r="4.3"/><circle cx="1509" cy="873" r="4.3"/><circle cx="1774" cy="819" r="4.3"/><circle cx="1521" cy="750" r="4.3"/><circle cx="1529" cy="805" r="4.3"/><circle cx="1618" cy="764" r="4.3"/><circle cx="1819" cy="847" r="4.3"/><circle cx="1839" cy="759" r="4.3"/><circle cx="1726" cy="763" r="4.3"/><circle cx="1660" cy="813" r="4.3"/><circle cx="1715" cy="762" r="4.3"/><circle cx="1862" cy="805" r="4.3"/><circle cx="1505" cy="783" r="4.3"/><circle cx="1557" cy="754" r="4.3"/><circle cx="1807" cy="844" r="4.3"/><circle cx="1553" cy="821" r="4.3"/><circle cx="1610" cy="831" r="4.3"/><circle cx="1663" cy="826" r="4.3"/><circle cx="1491" cy="910" r="4.3"/><circle cx="1490" cy="810" r="4.3"/><circle cx="1529" cy="720" r="4.3"/><circle cx="1582" cy="797" r="4.3"/><circle cx="1767" cy="786" r="4.3"/><circle cx="1628" cy="772" r="4.3"/><circle cx="1813" cy="825" r="4.3"/><circle cx="1798" cy="832" r="4.3"/><circle cx="1629" cy="748" r="4.3"/><circle cx="1489" cy="897" r="4.3"/><circle cx="1747" cy="698" r="4.3"/><circle cx="1660" cy="746" r="4.3"/><circle cx="1712" cy="783" r="4.3"/><circle cx="1831" cy="756" r="4.3"/><circle cx="1749" cy="818" r="4.3"/><circle cx="1844" cy="711" r="4.3"/><circle cx="1768" cy="756" r="4.3"/><circle cx="1658" cy="803" r="4.3"/><circle cx="1651" cy="813" r="4.3"/><circle cx="1762" cy="702" r="4.3"/><circle cx="1846" cy="764" r="4.3"/><circle cx="1621" cy="702" r="4.3"/><circle cx="1521" cy="631" r="4.3"/><circle cx="1514" cy="788" r="4.3"/><circle cx="1611" cy="827" r="4.3"/><circle cx="1554" cy="728" r="4.3"/><circle cx="1747" cy="772" r="4.3"/><circle cx="1813" cy="667" r="4.3"/><circle cx="1796" cy="812" r="4.3"/><circle cx="1505" cy="790" r="4.3"/><circle cx="1631" cy="797" r="4.3"/><circle cx="1522" cy="696" r="4.3"/><circle cx="1825" cy="771" r="4.3"/><circle cx="1531" cy="884" r="4.3"/><circle cx="1767" cy="777" r="4.3"/><circle cx="1819" cy="742" r="4.3"/><circle cx="1613" cy="736" r="4.3"/><circle cx="1757" cy="795" r="4.3"/><circle cx="1519" cy="727" r="4.3"/><circle cx="1769" cy="825" r="4.3"/><circle cx="1572" cy="753" r="4.3"/><circle cx="1652" cy="807" r="4.3"/><circle cx="1513" cy="835" r="4.3"/><circle cx="1557" cy="721" r="4.3"/><circle cx="1615" cy="706" r="4.3"/><circle cx="1700" cy="816" r="4.3"/><circle cx="1867" cy="778" r="4.3"/><circle cx="1770" cy="780" r="4.3"/><circle cx="1820" cy="762" r="4.3"/><circle cx="1662" cy="822" r="4.3"/><circle cx="1719" cy="735" r="4.3"/><circle cx="1625" cy="745" r="4.3"/><circle cx="1770" cy="744" r="4.3"/><circle cx="1520" cy="850" r="4.3"/><circle cx="1809" cy="775" r="4.3"/><circle cx="1486" cy="934" r="4.3"/><circle cx="1501" cy="795" r="4.3"/><circle cx="1629" cy="680" r="4.3"/><circle cx="1487" cy="764" r="4.3"/><circle cx="1829" cy="796" r="4.3"/><circle cx="1645" cy="751" r="4.3"/><circle cx="1485" cy="831" r="4.3"/><circle cx="1526" cy="748" r="4.3"/><circle cx="1587" cy="839" r="4.3"/><circle cx="1873" cy="787" r="4.3"/><circle cx="1777" cy="802" r="4.3"/><circle cx="1620" cy="744" r="4.3"/><circle cx="1782" cy="718" r="4.3"/><circle cx="1563" cy="783" r="4.3"/><circle cx="1509" cy="743" r="4.3"/><circle cx="1762" cy="742" r="4.3"/><circle cx="1617" cy="763" r="4.3"/><circle cx="1721" cy="727" r="4.3"/><circle cx="1491" cy="903" r="4.3"/><circle cx="1765" cy="773" r="4.3"/><circle cx="1746" cy="857" r="4.3"/><circle cx="1760" cy="758" r="4.3"/><circle cx="1784" cy="844" r="4.3"/><circle cx="1849" cy="786" r="4.3"/><circle cx="1763" cy="796" r="4.3"/><circle cx="1664" cy="829" r="4.3"/><circle cx="1868" cy="749" r="4.3"/><circle cx="1714" cy="774" r="4.3"/><circle cx="1655" cy="754" r="4.3"/><circle cx="1846" cy="846" r="4.3"/><circle cx="1721" cy="781" r="4.3"/><circle cx="1481" cy="783" r="4.3"/><circle cx="1877" cy="768" r="4.3"/><circle cx="1619" cy="749" r="4.3"/><circle cx="1513" cy="838" r="4.3"/><circle cx="1494" cy="812" r="4.3"/><circle cx="1784" cy="798" r="4.3"/><circle cx="1831" cy="767" r="4.3"/><circle cx="1751" cy="733" r="4.3"/><circle cx="1622" cy="685" r="4.3"/><circle cx="1817" cy="858" r="4.3"/><circle cx="1849" cy="772" r="4.3"/><circle cx="1761" cy="804" r="4.3"/><circle cx="1629" cy="794" r="4.3"/><circle cx="1830" cy="769" r="4.3"/><circle cx="1654" cy="772" r="4.3"/><circle cx="1620" cy="762" r="4.3"/><circle cx="1845" cy="708" r="4.3"/><circle cx="1518" cy="699" r="4.3"/><circle cx="1628" cy="723" r="4.3"/><circle cx="1523" cy="728" r="4.3"/><circle cx="1602" cy="823" r="4.3"/><circle cx="1582" cy="779" r="4.3"/><circle cx="1811" cy="798" r="4.3"/><circle cx="1762" cy="761" r="4.3"/><circle cx="1489" cy="873" r="4.3"/><circle cx="1819" cy="788" r="4.3"/><circle cx="1814" cy="856" r="4.3"/><circle cx="1595" cy="904" r="4.3"/><circle cx="1820" cy="789" r="4.3"/><circle cx="1523" cy="799" r="4.3"/><circle cx="1832" cy="844" r="4.3"/><circle cx="1844" cy="755" r="4.3"/><circle cx="1593" cy="849" r="4.3"/><circle cx="1515" cy="651" r="4.3"/><circle cx="1787" cy="773" r="4.3"/><circle cx="1629" cy="755" r="4.3"/><circle cx="1747" cy="786" r="4.3"/><circle cx="1520" cy="728" r="4.3"/><circle cx="1594" cy="784" r="4.3"/><circle cx="1586" cy="841" r="4.3"/><circle cx="1471" cy="815" r="4.3"/><circle cx="1875" cy="709" r="4.3"/><circle cx="1711" cy="739" r="4.3"/><circle cx="1590" cy="836" r="4.3"/><circle cx="1793" cy="844" r="4.3"/><circle cx="1512" cy="783" r="4.3"/><circle cx="1586" cy="824" r="4.3"/><circle cx="1686" cy="779" r="4.3"/><circle cx="1705" cy="809" r="4.3"/><circle cx="1808" cy="794" r="4.3"/><circle cx="1485" cy="816" r="4.3"/><circle cx="1871" cy="876" r="4.3"/><circle cx="1858" cy="791" r="4.3"/><circle cx="1863" cy="805" r="4.3"/><circle cx="1522" cy="772" r="4.3"/><circle cx="1521" cy="754" r="4.3"/><circle cx="1840" cy="710" r="4.3"/><circle cx="1616" cy="749" r="4.3"/><circle cx="1773" cy="761" r="4.3"/><circle cx="1496" cy="894" r="4.3"/><circle cx="1621" cy="722" r="4.3"/><circle cx="1708" cy="823" r="4.3"/><circle cx="1830" cy="697" r="4.3"/><circle cx="1518" cy="743" r="4.3"/><circle cx="1585" cy="771" r="4.3"/><circle cx="1831" cy="721" r="4.3"/><circle cx="1796" cy="828" r="4.3"/><circle cx="1628" cy="849" r="4.3"/><circle cx="1580" cy="791" r="4.3"/><circle cx="1847" cy="805" r="4.3"/><circle cx="1679" cy="832" r="4.3"/><circle cx="1801" cy="820" r="4.3"/><circle cx="1888" cy="767" r="4.3"/><circle cx="1843" cy="775" r="4.3"/><circle cx="1808" cy="785" r="4.3"/><circle cx="1747" cy="767" r="4.3"/><circle cx="1510" cy="720" r="4.3"/><circle cx="1518" cy="692" r="4.3"/><circle cx="1638" cy="840" r="4.3"/><circle cx="1504" cy="790" r="4.3"/><circle cx="1510" cy="835" r="4.3"/><circle cx="1582" cy="844" r="4.3"/><circle cx="1494" cy="833" r="4.3"/><circle cx="1563" cy="937" r="4.3"/><circle cx="1725" cy="758" r="4.3"/><circle cx="1673" cy="822" r="4.3"/><circle cx="1813" cy="764" r="4.3"/><circle cx="1880" cy="806" r="4.3"/><circle cx="1735" cy="711" r="4.3"/><circle cx="1603" cy="761" r="4.3"/><circle cx="1726" cy="759" r="4.3"/><circle cx="1515" cy="760" r="4.3"/><circle cx="1576" cy="853" r="4.3"/><circle cx="1547" cy="799" r="4.3"/><circle cx="1835" cy="779" r="4.3"/><circle cx="1714" cy="720" r="4.3"/><circle cx="1622" cy="780" r="4.3"/><circle cx="1582" cy="851" r="4.3"/><circle cx="1752" cy="717" r="4.3"/><circle cx="1575" cy="806" r="4.3"/><circle cx="1735" cy="843" r="4.3"/><circle cx="1818" cy="785" r="4.3"/><circle cx="1753" cy="753" r="4.3"/><circle cx="1494" cy="848" r="4.3"/><circle cx="1653" cy="680" r="4.3"/><circle cx="1509" cy="805" r="4.3"/><circle cx="1584" cy="808" r="4.3"/><circle cx="1750" cy="744" r="4.3"/><circle cx="1513" cy="783" r="4.3"/><circle cx="1619" cy="727" r="4.3"/><circle cx="1516" cy="757" r="4.3"/><circle cx="1519" cy="788" r="4.3"/><circle cx="1893" cy="830" r="4.3"/><circle cx="1831" cy="778" r="4.3"/><circle cx="1815" cy="812" r="4.3"/><circle cx="1819" cy="855" r="4.3"/><circle cx="1477" cy="883" r="4.3"/><circle cx="1832" cy="717" r="4.3"/><circle cx="1493" cy="805" r="4.3"/><circle cx="1609" cy="872" r="4.3"/><circle cx="1852" cy="806" r="4.3"/><circle cx="1617" cy="900" r="4.3"/><circle cx="1864" cy="684" r="4.3"/><circle cx="1620" cy="666" r="4.3"/><circle cx="1838" cy="719" r="4.3"/><circle cx="1869" cy="757" r="4.3"/><circle cx="1513" cy="784" r="4.3"/><circle cx="1727" cy="781" r="4.3"/><circle cx="1579" cy="846" r="4.3"/><circle cx="1681" cy="808" r="4.3"/><circle cx="1823" cy="754" r="4.3"/><circle cx="1724" cy="860" r="4.3"/><circle cx="1517" cy="694" r="4.3"/><circle cx="1484" cy="765" r="4.3"/><circle cx="1627" cy="689" r="4.3"/><circle cx="1829" cy="737" r="4.3"/><circle cx="1620" cy="710" r="4.3"/><circle cx="1852" cy="772" r="4.3"/><circle cx="1815" cy="846" r="4.3"/><circle cx="1715" cy="734" r="4.3"/><circle cx="1620" cy="742" r="4.3"/><circle cx="1702" cy="750" r="4.3"/><circle cx="1583" cy="833" r="4.3"/><circle cx="1782" cy="801" r="4.3"/><circle cx="1496" cy="785" r="4.3"/><circle cx="1756" cy="772" r="4.3"/><circle cx="1525" cy="757" r="4.3"/><circle cx="1737" cy="741" r="4.3"/><circle cx="1820" cy="863" r="4.3"/><circle cx="1525" cy="727" r="4.3"/><circle cx="1678" cy="864" r="4.3"/><circle cx="1511" cy="855" r="4.3"/><circle cx="1693" cy="898" r="4.3"/><circle cx="1683" cy="816" r="4.3"/><circle cx="1617" cy="748" r="4.3"/><circle cx="1523" cy="735" r="4.3"/><circle cx="1854" cy="820" r="4.3"/><circle cx="1538" cy="817" r="4.3"/><circle cx="1663" cy="823" r="4.3"/><circle cx="1520" cy="821" r="4.3"/><circle cx="1613" cy="733" r="4.3"/><circle cx="1874" cy="837" r="4.3"/><circle cx="1782" cy="777" r="4.3"/><circle cx="1773" cy="768" r="4.3"/><circle cx="1562" cy="783" r="4.3"/><circle cx="1799" cy="890" r="4.3"/><circle cx="1646" cy="824" r="4.3"/><circle cx="1783" cy="901" r="4.3"/><circle cx="1858" cy="743" r="4.3"/><circle cx="1835" cy="858" r="4.3"/><circle cx="1601" cy="802" r="4.3"/><circle cx="1744" cy="765" r="4.3"/><circle cx="1667" cy="790" r="4.3"/><circle cx="1782" cy="796" r="4.3"/><circle cx="1843" cy="885" r="4.3"/><circle cx="1642" cy="777" r="4.3"/><circle cx="1636" cy="727" r="4.3"/><circle cx="1611" cy="793" r="4.3"/><circle cx="1622" cy="729" r="4.3"/><circle cx="1802" cy="774" r="4.3"/><circle cx="1774" cy="805" r="4.3"/><circle cx="1620" cy="700" r="4.3"/><circle cx="1650" cy="796" r="4.3"/><circle cx="1871" cy="793" r="4.3"/><circle cx="1478" cy="897" r="4.3"/><circle cx="1480" cy="757" r="4.3"/><circle cx="1636" cy="822" r="4.3"/><circle cx="1637" cy="779" r="4.3"/><circle cx="1581" cy="715" r="4.3"/><circle cx="1734" cy="745" r="4.3"/><circle cx="1718" cy="792" r="4.3"/><circle cx="1763" cy="782" r="4.3"/><circle cx="1546" cy="854" r="4.3"/><circle cx="1871" cy="764" r="4.3"/><circle cx="1861" cy="726" r="4.3"/><circle cx="1594" cy="858" r="4.3"/><circle cx="1832" cy="770" r="4.3"/><circle cx="1811" cy="813" r="4.3"/><circle cx="1719" cy="834" r="4.3"/><circle cx="1604" cy="829" r="4.3"/><circle cx="1875" cy="744" r="4.3"/><circle cx="1861" cy="762" r="4.3"/><circle cx="1499" cy="766" r="4.3"/><circle cx="1531" cy="694" r="4.3"/><circle cx="1826" cy="722" r="4.3"/><circle cx="1499" cy="833" r="4.3"/><circle cx="1733" cy="720" r="4.3"/><circle cx="1733" cy="770" r="4.3"/><circle cx="1583" cy="897" r="4.3"/><circle cx="1793" cy="786" r="4.3"/><circle cx="1656" cy="772" r="4.3"/><circle cx="1783" cy="822" r="4.3"/><circle cx="1825" cy="734" r="4.3"/><circle cx="1589" cy="866" r="4.3"/><circle cx="1710" cy="911" r="4.3"/><circle cx="1615" cy="771" r="4.3"/><circle cx="1844" cy="820" r="4.3"/><circle cx="1737" cy="730" r="4.3"/><circle cx="1877" cy="751" r="4.3"/><circle cx="1830" cy="860" r="4.3"/><circle cx="1666" cy="750" r="4.3"/><circle cx="1518" cy="715" r="4.3"/><circle cx="1555" cy="797" r="4.3"/><circle cx="1792" cy="761" r="4.3"/><circle cx="1515" cy="709" r="4.3"/><circle cx="1694" cy="853" r="4.3"/><circle cx="1698" cy="883" r="4.3"/><circle cx="1551" cy="792" r="4.3"/><circle cx="1618" cy="737" r="4.3"/><circle cx="1779" cy="784" r="4.3"/><circle cx="1844" cy="802" r="4.3"/><circle cx="1756" cy="793" r="4.3"/><circle cx="1805" cy="730" r="4.3"/><circle cx="1873" cy="741" r="4.3"/><circle cx="1718" cy="802" r="4.3"/><circle cx="1867" cy="805" r="4.3"/><circle cx="1614" cy="793" r="4.3"/><circle cx="1592" cy="881" r="4.3"/><circle cx="1805" cy="786" r="4.3"/><circle cx="1523" cy="785" r="4.3"/><circle cx="1562" cy="806" r="4.3"/><circle cx="1595" cy="930" r="4.3"/><circle cx="1761" cy="787" r="4.3"/><circle cx="1780" cy="755" r="4.3"/><circle cx="1513" cy="777" r="4.3"/><circle cx="1624" cy="785" r="4.3"/><circle cx="1871" cy="773" r="4.3"/><circle cx="1549" cy="681" r="4.3"/><circle cx="1531" cy="922" r="4.3"/><circle cx="1496" cy="836" r="4.3"/><circle cx="1725" cy="707" r="4.3"/><circle cx="1538" cy="829" r="4.3"/><circle cx="1585" cy="858" r="4.3"/><circle cx="1587" cy="805" r="4.3"/><circle cx="1874" cy="745" r="4.3"/><circle cx="1812" cy="811" r="4.3"/><circle cx="1756" cy="778" r="4.3"/><circle cx="1557" cy="705" r="4.3"/><circle cx="1892" cy="868" r="4.3"/><circle cx="1671" cy="756" r="4.3"/><circle cx="1800" cy="838" r="4.3"/><circle cx="1874" cy="778" r="4.3"/><circle cx="1635" cy="744" r="4.3"/><circle cx="1690" cy="826" r="4.3"/><circle cx="1801" cy="818" r="4.3"/><circle cx="1489" cy="872" r="4.3"/><circle cx="1516" cy="678" r="4.3"/><circle cx="1871" cy="713" r="4.3"/><circle cx="1869" cy="839" r="4.3"/><circle cx="1604" cy="739" r="4.3"/><circle cx="1805" cy="831" r="4.3"/><circle cx="1623" cy="713" r="4.3"/><circle cx="1744" cy="791" r="4.3"/><circle cx="1612" cy="808" r="4.3"/><circle cx="1869" cy="712" r="4.3"/><circle cx="1700" cy="795" r="4.3"/><circle cx="1792" cy="790" r="4.3"/><circle cx="1625" cy="640" r="4.3"/><circle cx="1555" cy="802" r="4.3"/><circle cx="1626" cy="781" r="4.3"/><circle cx="1802" cy="845" r="4.3"/><circle cx="1635" cy="703" r="4.3"/><circle cx="1872" cy="889" r="4.3"/><circle cx="1708" cy="860" r="4.3"/><circle cx="1832" cy="741" r="4.3"/><circle cx="1705" cy="842" r="4.3"/><circle cx="1877" cy="827" r="4.3"/><circle cx="1788" cy="724" r="4.3"/><circle cx="1618" cy="790" r="4.3"/><circle cx="1581" cy="863" r="4.3"/><circle cx="1614" cy="737" r="4.3"/><circle cx="1494" cy="824" r="4.3"/><circle cx="1616" cy="765" r="4.3"/><circle cx="1642" cy="768" r="4.3"/><circle cx="1830" cy="756" r="4.3"/><circle cx="1710" cy="775" r="4.3"/><circle cx="1646" cy="847" r="4.3"/><circle cx="1790" cy="829" r="4.3"/><circle cx="1858" cy="764" r="4.3"/><circle cx="1863" cy="814" r="4.3"/><circle cx="1680" cy="716" r="4.3"/><circle cx="1709" cy="758" r="4.3"/><circle cx="1831" cy="718" r="4.3"/><circle cx="1596" cy="844" r="4.3"/><circle cx="1626" cy="786" r="4.3"/><circle cx="1787" cy="753" r="4.3"/><circle cx="1837" cy="751" r="4.3"/><circle cx="1766" cy="902" r="4.3"/><circle cx="1865" cy="787" r="4.3"/><circle cx="1887" cy="786" r="4.3"/><circle cx="1756" cy="712" r="4.3"/><circle cx="1694" cy="867" r="4.3"/><circle cx="1873" cy="856" r="4.3"/><circle cx="1514" cy="787" r="4.3"/><circle cx="1583" cy="793" r="4.3"/><circle cx="1824" cy="779" r="4.3"/><circle cx="1773" cy="716" r="4.3"/><circle cx="1532" cy="647" r="4.3"/><circle cx="1632" cy="876" r="4.3"/><circle cx="1739" cy="794" r="4.3"/><circle cx="1835" cy="673" r="4.3"/><circle cx="1845" cy="697" r="4.3"/><circle cx="1516" cy="767" r="4.3"/><circle cx="1589" cy="766" r="4.3"/><circle cx="1752" cy="853" r="4.3"/><circle cx="1819" cy="681" r="4.3"/><circle cx="1869" cy="718" r="4.3"/><circle cx="1473" cy="840" r="4.3"/><circle cx="1581" cy="837" r="4.3"/><circle cx="1660" cy="819" r="4.3"/><circle cx="1705" cy="883" r="4.3"/><circle cx="1554" cy="821" r="4.3"/><circle cx="1600" cy="884" r="4.3"/><circle cx="1830" cy="785" r="4.3"/><circle cx="1720" cy="793" r="4.3"/><circle cx="1836" cy="764" r="4.3"/><circle cx="1612" cy="661" r="4.3"/><circle cx="1675" cy="731" r="4.3"/><circle cx="1504" cy="898" r="4.3"/><circle cx="1729" cy="640" r="4.3"/><circle cx="1829" cy="714" r="4.3"/><circle cx="1876" cy="748" r="4.3"/><circle cx="1721" cy="754" r="4.3"/><circle cx="1818" cy="750" r="4.3"/><circle cx="1525" cy="760" r="4.3"/><circle cx="1790" cy="845" r="4.3"/><circle cx="1698" cy="822" r="4.3"/><circle cx="1839" cy="767" r="4.3"/><circle cx="1479" cy="853" r="4.3"/><circle cx="1731" cy="759" r="4.3"/><circle cx="1521" cy="724" r="4.3"/><circle cx="1591" cy="820" r="4.3"/><circle cx="1749" cy="778" r="4.3"/><circle cx="1763" cy="768" r="4.3"/><circle cx="1497" cy="889" r="4.3"/><circle cx="1817" cy="765" r="4.3"/><circle cx="1864" cy="724" r="4.3"/><circle cx="1829" cy="759" r="4.3"/><circle cx="1873" cy="754" r="4.3"/><circle cx="1765" cy="775" r="4.3"/><circle cx="1698" cy="794" r="4.3"/><circle cx="1578" cy="917" r="4.3"/><circle cx="1726" cy="815" r="4.3"/><circle cx="1820" cy="807" r="4.3"/><circle cx="1615" cy="702" r="4.3"/><circle cx="1482" cy="820" r="4.3"/><circle cx="1509" cy="884" r="4.3"/><circle cx="1696" cy="861" r="4.3"/><circle cx="1714" cy="796" r="4.3"/><circle cx="1866" cy="859" r="4.3"/><circle cx="1608" cy="785" r="4.3"/><circle cx="1495" cy="744" r="4.3"/><circle cx="1865" cy="743" r="4.3"/><circle cx="1752" cy="762" r="4.3"/><circle cx="1511" cy="754" r="4.3"/><circle cx="1572" cy="858" r="4.3"/><circle cx="1802" cy="764" r="4.3"/><circle cx="1679" cy="850" r="4.3"/><circle cx="1731" cy="745" r="4.3"/><circle cx="1561" cy="756" r="4.3"/><circle cx="1794" cy="716" r="4.3"/><circle cx="1822" cy="759" r="4.3"/><circle cx="1777" cy="772" r="4.3"/><circle cx="1592" cy="848" r="4.3"/><circle cx="1825" cy="776" r="4.3"/><circle cx="1592" cy="818" r="4.3"/><circle cx="1487" cy="824" r="4.3"/><circle cx="1866" cy="782" r="4.3"/><circle cx="1842" cy="698" r="4.3"/><circle cx="1823" cy="789" r="4.3"/><circle cx="1851" cy="876" r="4.3"/><circle cx="1471" cy="862" r="4.3"/><circle cx="1622" cy="725" r="4.3"/><circle cx="1632" cy="804" r="4.3"/><circle cx="1760" cy="739" r="4.3"/><circle cx="1877" cy="805" r="4.3"/><circle cx="1874" cy="730" r="4.3"/><circle cx="1729" cy="622" r="4.3"/><circle cx="1730" cy="652" r="4.3"/><circle cx="1831" cy="867" r="4.3"/><circle cx="1615" cy="624" r="4.3"/><circle cx="1737" cy="674" r="4.3"/><circle cx="1815" cy="899" r="4.3"/><circle cx="1817" cy="807" r="4.3"/><circle cx="1575" cy="827" r="4.3"/><circle cx="1470" cy="762" r="4.3"/><circle cx="1695" cy="844" r="4.3"/><circle cx="1493" cy="775" r="4.3"/><circle cx="1529" cy="711" r="4.3"/><circle cx="1482" cy="889" r="4.3"/><circle cx="1719" cy="751" r="4.3"/><circle cx="1527" cy="645" r="4.3"/><circle cx="1832" cy="719" r="4.3"/><circle cx="1717" cy="804" r="4.3"/><circle cx="1824" cy="710" r="4.3"/><circle cx="1733" cy="790" r="4.3"/><circle cx="1687" cy="813" r="4.3"/><circle cx="1725" cy="798" r="4.3"/><circle cx="1804" cy="752" r="4.3"/><circle cx="1620" cy="764" r="4.3"/><circle cx="1489" cy="865" r="4.3"/><circle cx="1720" cy="786" r="4.3"/><circle cx="1803" cy="822" r="4.3"/><circle cx="1747" cy="745" r="4.3"/><circle cx="1474" cy="831" r="4.3"/><circle cx="1740" cy="785" r="4.3"/><circle cx="1529" cy="683" r="4.3"/><circle cx="1523" cy="648" r="4.3"/><circle cx="1859" cy="750" r="4.3"/><circle cx="1528" cy="760" r="4.3"/><circle cx="1702" cy="844" r="4.3"/><circle cx="1612" cy="787" r="4.3"/><circle cx="1703" cy="831" r="4.3"/><circle cx="1698" cy="829" r="4.3"/><circle cx="1694" cy="846" r="4.3"/><circle cx="1868" cy="784" r="4.3"/><circle cx="1510" cy="784" r="4.3"/><circle cx="1494" cy="701" r="4.3"/><circle cx="1733" cy="775" r="4.3"/><circle cx="1519" cy="770" r="4.3"/><circle cx="1526" cy="782" r="4.3"/><circle cx="1772" cy="758" r="4.3"/><circle cx="1771" cy="812" r="4.3"/><circle cx="1587" cy="869" r="4.3"/><circle cx="1674" cy="800" r="4.3"/><circle cx="1796" cy="846" r="4.3"/><circle cx="1732" cy="702" r="4.3"/><circle cx="1842" cy="860" r="4.3"/><circle cx="1775" cy="694" r="4.3"/><circle cx="1637" cy="778" r="4.3"/><circle cx="1583" cy="748" r="4.3"/><circle cx="1528" cy="748" r="4.3"/><circle cx="1800" cy="823" r="4.3"/><circle cx="1703" cy="777" r="4.3"/><circle cx="1687" cy="879" r="4.3"/><circle cx="1770" cy="730" r="4.3"/><circle cx="1725" cy="771" r="4.3"/><circle cx="1876" cy="802" r="4.3"/><circle cx="1539" cy="794" r="4.3"/><circle cx="1828" cy="764" r="4.3"/><circle cx="1630" cy="632" r="4.3"/><circle cx="1620" cy="812" r="4.3"/><circle cx="1522" cy="777" r="4.3"/><circle cx="1768" cy="686" r="4.3"/><circle cx="1497" cy="802" r="4.3"/><circle cx="1822" cy="767" r="4.3"/><circle cx="1725" cy="735" r="4.3"/><circle cx="1842" cy="831" r="4.3"/><circle cx="1706" cy="956" r="4.3"/><circle cx="1582" cy="813" r="4.3"/><circle cx="1768" cy="667" r="4.3"/><circle cx="1692" cy="868" r="4.3"/><circle cx="1867" cy="748" r="4.3"/><circle cx="1577" cy="828" r="4.3"/><circle cx="1573" cy="833" r="4.3"/><circle cx="1721" cy="705" r="4.3"/><circle cx="1831" cy="745" r="4.3"/><circle cx="1870" cy="706" r="4.3"/><circle cx="1504" cy="777" r="4.3"/><circle cx="1727" cy="845" r="4.3"/><circle cx="1484" cy="855" r="4.3"/><circle cx="1586" cy="843" r="4.3"/><circle cx="1843" cy="786" r="4.3"/><circle cx="1785" cy="785" r="4.3"/><circle cx="1627" cy="782" r="4.3"/><circle cx="1679" cy="859" r="4.3"/><circle cx="1628" cy="759" r="4.3"/><circle cx="1777" cy="766" r="4.3"/><circle cx="1656" cy="838" r="4.3"/><circle cx="1616" cy="798" r="4.3"/><circle cx="1628" cy="821" r="4.3"/><circle cx="1631" cy="755" r="4.3"/><circle cx="1837" cy="836" r="4.3"/><circle cx="1662" cy="773" r="4.3"/><circle cx="1750" cy="832" r="4.3"/><circle cx="1592" cy="946" r="4.3"/><circle cx="1852" cy="757" r="4.3"/><circle cx="1876" cy="734" r="4.3"/><circle cx="1497" cy="808" r="4.3"/><circle cx="1500" cy="790" r="4.3"/><circle cx="1562" cy="807" r="4.3"/><circle cx="1798" cy="820" r="4.3"/><circle cx="1523" cy="713" r="4.3"/><circle cx="1601" cy="834" r="4.3"/><circle cx="1703" cy="841" r="4.3"/><circle cx="1558" cy="797" r="4.3"/><circle cx="1803" cy="820" r="4.3"/><circle cx="1471" cy="807" r="4.3"/><circle cx="1622" cy="749" r="4.3"/><circle cx="1725" cy="784" r="4.3"/><circle cx="1511" cy="723" r="4.3"/><circle cx="1845" cy="847" r="4.3"/><circle cx="1734" cy="765" r="4.3"/><circle cx="1533" cy="798" r="4.3"/><circle cx="1473" cy="834" r="4.3"/><circle cx="1533" cy="736" r="4.3"/><circle cx="1517" cy="696" r="4.3"/><circle cx="1866" cy="815" r="4.3"/><circle cx="1702" cy="777" r="4.3"/><circle cx="1486" cy="928" r="4.3"/><circle cx="1521" cy="792" r="4.3"/><circle cx="1536" cy="699" r="4.3"/><circle cx="1660" cy="827" r="4.3"/><circle cx="1708" cy="823" r="4.3"/><circle cx="1522" cy="811" r="4.3"/><circle cx="1612" cy="722" r="4.3"/><circle cx="1724" cy="645" r="4.3"/><circle cx="1680" cy="708" r="4.3"/><circle cx="1677" cy="818" r="4.3"/><circle cx="1866" cy="780" r="4.3"/><circle cx="1733" cy="815" r="4.3"/><circle cx="1598" cy="792" r="4.3"/><circle cx="1701" cy="843" r="4.3"/><circle cx="1587" cy="818" r="4.3"/><circle cx="1762" cy="792" r="4.3"/><circle cx="1610" cy="770" r="4.3"/><circle cx="1874" cy="802" r="4.3"/><circle cx="1627" cy="717" r="4.3"/><circle cx="1484" cy="874" r="4.3"/><circle cx="1513" cy="823" r="4.3"/><circle cx="1525" cy="681" r="4.3"/><circle cx="1519" cy="751" r="4.3"/><circle cx="1685" cy="830" r="4.3"/><circle cx="1517" cy="759" r="4.3"/><circle cx="1523" cy="714" r="4.3"/><circle cx="1749" cy="804" r="4.3"/><circle cx="1533" cy="814" r="4.3"/><circle cx="1625" cy="653" r="4.3"/><circle cx="1735" cy="696" r="4.3"/><circle cx="1741" cy="761" r="4.3"/><circle cx="1839" cy="805" r="4.3"/><circle cx="1836" cy="735" r="4.3"/><circle cx="1541" cy="856" r="4.3"/><circle cx="1521" cy="870" r="4.3"/><circle cx="1659" cy="775" r="4.3"/><circle cx="1828" cy="726" r="4.3"/><circle cx="1647" cy="775" r="4.3"/><circle cx="1609" cy="910" r="4.3"/><circle cx="1612" cy="786" r="4.3"/><circle cx="1489" cy="808" r="4.3"/><circle cx="1727" cy="738" r="4.3"/><circle cx="1813" cy="835" r="4.3"/><circle cx="1488" cy="846" r="4.3"/><circle cx="1640" cy="865" r="4.3"/><circle cx="1628" cy="651" r="4.3"/><circle cx="1503" cy="825" r="4.3"/><circle cx="1712" cy="689" r="4.3"/><circle cx="1509" cy="680" r="4.3"/><circle cx="1874" cy="752" r="4.3"/><circle cx="1526" cy="750" r="4.3"/><circle cx="1488" cy="804" r="4.3"/><circle cx="1843" cy="663" r="4.3"/><circle cx="1731" cy="721" r="4.3"/><circle cx="1873" cy="759" r="4.3"/><circle cx="1596" cy="882" r="4.3"/><circle cx="1720" cy="727" r="4.3"/><circle cx="1762" cy="657" r="4.3"/><circle cx="1718" cy="795" r="4.3"/><circle cx="1757" cy="785" r="4.3"/><circle cx="1862" cy="774" r="4.3"/><circle cx="1604" cy="866" r="4.3"/><circle cx="1640" cy="732" r="4.3"/><circle cx="1698" cy="864" r="4.3"/><circle cx="1819" cy="756" r="4.3"/><circle cx="1695" cy="859" r="4.3"/><circle cx="1710" cy="849" r="4.3"/><circle cx="1770" cy="790" r="4.3"/><circle cx="1763" cy="779" r="4.3"/><circle cx="1799" cy="824" r="4.3"/><circle cx="1789" cy="778" r="4.3"/><circle cx="1872" cy="755" r="4.3"/><circle cx="1562" cy="829" r="4.3"/><circle cx="1525" cy="750" r="4.3"/><circle cx="1614" cy="711" r="4.3"/><circle cx="1618" cy="777" r="4.3"/><circle cx="1745" cy="753" r="4.3"/><circle cx="1590" cy="872" r="4.3"/><circle cx="1805" cy="857" r="4.3"/><circle cx="1476" cy="827" r="4.3"/><circle cx="1589" cy="793" r="4.3"/><circle cx="1808" cy="818" r="4.3"/><circle cx="1723" cy="676" r="4.3"/><circle cx="1718" cy="826" r="4.3"/><circle cx="1621" cy="724" r="4.3"/><circle cx="1517" cy="763" r="4.3"/><circle cx="1759" cy="746" r="4.3"/><circle cx="1521" cy="743" r="4.3"/><circle cx="1715" cy="718" r="4.3"/><circle cx="1720" cy="763" r="4.3"/><circle cx="1832" cy="761" r="4.3"/><circle cx="1776" cy="715" r="4.3"/><circle cx="1594" cy="795" r="4.3"/><circle cx="1477" cy="751" r="4.3"/><circle cx="1716" cy="892" r="4.3"/><circle cx="1514" cy="790" r="4.3"/><circle cx="1704" cy="793" r="4.3"/><circle cx="1522" cy="766" r="4.3"/><circle cx="1520" cy="732" r="4.3"/><circle cx="1620" cy="742" r="4.3"/><circle cx="1657" cy="818" r="4.3"/><circle cx="1652" cy="847" r="4.3"/><circle cx="1651" cy="838" r="4.3"/><circle cx="1865" cy="709" r="4.3"/><circle cx="1495" cy="826" r="4.3"/><circle cx="1729" cy="902" r="4.3"/><circle cx="1720" cy="841" r="4.3"/><circle cx="1830" cy="723" r="4.3"/><circle cx="1785" cy="795" r="4.3"/><circle cx="1522" cy="715" r="4.3"/><circle cx="1828" cy="774" r="4.3"/><circle cx="1829" cy="890" r="4.3"/><circle cx="1515" cy="753" r="4.3"/><circle cx="1760" cy="738" r="4.3"/><circle cx="1732" cy="728" r="4.3"/><circle cx="1625" cy="813" r="4.3"/><circle cx="1726" cy="753" r="4.3"/><circle cx="1589" cy="842" r="4.3"/><circle cx="1851" cy="811" r="4.3"/><circle cx="1804" cy="740" r="4.3"/><circle cx="1736" cy="676" r="4.3"/><circle cx="1800" cy="758" r="4.3"/><circle cx="1730" cy="785" r="4.3"/><circle cx="1776" cy="819" r="4.3"/><circle cx="1637" cy="863" r="4.3"/><circle cx="1720" cy="787" r="4.3"/><circle cx="1854" cy="873" r="4.3"/><circle cx="1637" cy="758" r="4.3"/><circle cx="1824" cy="757" r="4.3"/><circle cx="1519" cy="711" r="4.3"/><circle cx="1864" cy="754" r="4.3"/><circle cx="1551" cy="757" r="4.3"/><circle cx="1579" cy="844" r="4.3"/><circle cx="1763" cy="734" r="4.3"/><circle cx="1718" cy="802" r="4.3"/><circle cx="1721" cy="766" r="4.3"/><circle cx="1541" cy="722" r="4.3"/><circle cx="1754" cy="873" r="4.3"/><circle cx="1492" cy="855" r="4.3"/><circle cx="1778" cy="811" r="4.3"/><circle cx="1715" cy="858" r="4.3"/><circle cx="1868" cy="804" r="4.3"/><circle cx="1665" cy="866" r="4.3"/><circle cx="1475" cy="868" r="4.3"/><circle cx="1643" cy="738" r="4.3"/><circle cx="1873" cy="748" r="4.3"/><circle cx="1741" cy="892" r="4.3"/><circle cx="1510" cy="748" r="4.3"/><circle cx="1831" cy="738" r="4.3"/><circle cx="1872" cy="769" r="4.3"/><circle cx="1719" cy="789" r="4.3"/><circle cx="1507" cy="819" r="4.3"/><circle cx="1882" cy="776" r="4.3"/><circle cx="1774" cy="783" r="4.3"/><circle cx="1626" cy="824" r="4.3"/><circle cx="1857" cy="770" r="4.3"/><circle cx="1659" cy="714" r="4.3"/><circle cx="1520" cy="655" r="4.3"/><circle cx="1774" cy="720" r="4.3"/><circle cx="1892" cy="869" r="4.3"/><circle cx="1699" cy="772" r="4.3"/><circle cx="1794" cy="923" r="4.3"/><circle cx="1831" cy="756" r="4.3"/><circle cx="1756" cy="727" r="4.3"/><circle cx="1880" cy="639" r="4.3"/><circle cx="1722" cy="767" r="4.3"/><circle cx="1722" cy="714" r="4.3"/><circle cx="1866" cy="732" r="4.3"/><circle cx="1725" cy="731" r="4.3"/><circle cx="1511" cy="892" r="4.3"/><circle cx="1784" cy="783" r="4.3"/><circle cx="1532" cy="757" r="4.3"/><circle cx="1760" cy="779" r="4.3"/><circle cx="1617" cy="748" r="4.3"/><circle cx="1475" cy="862" r="4.3"/><circle cx="1785" cy="864" r="4.3"/><circle cx="1542" cy="809" r="4.3"/><circle cx="1868" cy="762" r="4.3"/><circle cx="1868" cy="755" r="4.3"/><circle cx="1519" cy="788" r="4.3"/><circle cx="1718" cy="778" r="4.3"/><circle cx="1672" cy="878" r="4.3"/><circle cx="1869" cy="758" r="4.3"/><circle cx="1856" cy="651" r="4.3"/><circle cx="1531" cy="763" r="4.3"/><circle cx="1772" cy="765" r="4.3"/><circle cx="1860" cy="747" r="4.3"/><circle cx="1601" cy="895" r="4.3"/><circle cx="1499" cy="827" r="4.3"/><circle cx="1611" cy="766" r="4.3"/><circle cx="1836" cy="746" r="4.3"/><circle cx="1766" cy="748" r="4.3"/><circle cx="1873" cy="774" r="4.3"/><circle cx="1504" cy="691" r="4.3"/><circle cx="1827" cy="777" r="4.3"/><circle cx="1886" cy="730" r="4.3"/><circle cx="1514" cy="866" r="4.3"/><circle cx="1553" cy="788" r="4.3"/><circle cx="1621" cy="778" r="4.3"/><circle cx="1779" cy="831" r="4.3"/><circle cx="1805" cy="812" r="4.3"/><circle cx="1598" cy="1020" r="4.3"/><circle cx="1861" cy="749" r="4.3"/><circle cx="1600" cy="803" r="4.3"/><circle cx="1714" cy="938" r="4.3"/><circle cx="1493" cy="769" r="4.3"/><circle cx="1764" cy="699" r="4.3"/><circle cx="1872" cy="788" r="4.3"/><circle cx="1776" cy="819" r="4.3"/><circle cx="1676" cy="796" r="4.3"/><circle cx="1523" cy="827" r="4.3"/><circle cx="1527" cy="656" r="4.3"/><circle cx="1863" cy="795" r="4.3"/><circle cx="1867" cy="700" r="4.3"/><circle cx="1728" cy="796" r="4.3"/><circle cx="1820" cy="731" r="4.3"/><circle cx="1879" cy="772" r="4.3"/><circle cx="1490" cy="855" r="4.3"/><circle cx="1801" cy="870" r="4.3"/><circle cx="1622" cy="759" r="4.3"/><circle cx="1718" cy="721" r="4.3"/><circle cx="1508" cy="874" r="4.3"/><circle cx="1677" cy="820" r="4.3"/><circle cx="1866" cy="786" r="4.3"/><circle cx="1487" cy="821" r="4.3"/><circle cx="1861" cy="789" r="4.3"/><circle cx="1719" cy="738" r="4.3"/><circle cx="1710" cy="855" r="4.3"/><circle cx="1738" cy="829" r="4.3"/><circle cx="1800" cy="777" r="4.3"/><circle cx="1783" cy="856" r="4.3"/><circle cx="1723" cy="698" r="4.3"/><circle cx="1693" cy="887" r="4.3"/><circle cx="1759" cy="725" r="4.3"/><circle cx="1531" cy="758" r="4.3"/><circle cx="1800" cy="840" r="4.3"/><circle cx="1755" cy="747" r="4.3"/><circle cx="1622" cy="780" r="4.3"/><circle cx="1490" cy="871" r="4.3"/><circle cx="1749" cy="803" r="4.3"/><circle cx="1829" cy="774" r="4.3"/><circle cx="1705" cy="789" r="4.3"/><circle cx="1871" cy="785" r="4.3"/><circle cx="1763" cy="699" r="4.3"/><circle cx="1868" cy="751" r="4.3"/><circle cx="1595" cy="859" r="4.3"/><circle cx="1701" cy="829" r="4.3"/><circle cx="1522" cy="610" r="4.3"/><circle cx="1799" cy="747" r="4.3"/><circle cx="1843" cy="860" r="4.3"/><circle cx="1521" cy="664" r="4.3"/><circle cx="1744" cy="844" r="4.3"/><circle cx="1557" cy="795" r="4.3"/><circle cx="1512" cy="723" r="4.3"/><circle cx="1815" cy="879" r="4.3"/><circle cx="1670" cy="730" r="4.3"/><circle cx="1618" cy="801" r="4.3"/><circle cx="1517" cy="763" r="4.3"/><circle cx="1759" cy="742" r="4.3"/><circle cx="1611" cy="636" r="4.3"/><circle cx="1537" cy="759" r="4.3"/><circle cx="1874" cy="754" r="4.3"/><circle cx="1851" cy="778" r="4.3"/><circle cx="1855" cy="834" r="4.3"/><circle cx="1570" cy="760" r="4.3"/><circle cx="1858" cy="883" r="4.3"/><circle cx="1819" cy="813" r="4.3"/><circle cx="1758" cy="663" r="4.3"/><circle cx="1834" cy="784" r="4.3"/><circle cx="1497" cy="800" r="4.3"/><circle cx="1863" cy="772" r="4.3"/><circle cx="1498" cy="849" r="4.3"/><circle cx="1868" cy="749" r="4.3"/><circle cx="1881" cy="777" r="4.3"/><circle cx="1723" cy="773" r="4.3"/><circle cx="1825" cy="720" r="4.3"/><circle cx="1705" cy="761" r="4.3"/><circle cx="1874" cy="767" r="4.3"/><circle cx="1628" cy="684" r="4.3"/><circle cx="1793" cy="837" r="4.3"/><circle cx="1639" cy="862" r="4.3"/><circle cx="1569" cy="807" r="4.3"/><circle cx="1521" cy="712" r="4.3"/><circle cx="1703" cy="820" r="4.3"/><circle cx="1699" cy="825" r="4.3"/><circle cx="1800" cy="724" r="4.3"/><circle cx="1509" cy="736" r="4.3"/><circle cx="1595" cy="859" r="4.3"/><circle cx="1777" cy="879" r="4.3"/><circle cx="1887" cy="843" r="4.3"/><circle cx="1748" cy="779" r="4.3"/><circle cx="1760" cy="748" r="4.3"/><circle cx="1801" cy="867" r="4.3"/><circle cx="1597" cy="751" r="4.3"/><circle cx="1726" cy="701" r="4.3"/><circle cx="1876" cy="814" r="4.3"/><circle cx="1492" cy="717" r="4.3"/><circle cx="1553" cy="816" r="4.3"/><circle cx="1869" cy="797" r="4.3"/><circle cx="1560" cy="780" r="4.3"/><circle cx="1773" cy="735" r="4.3"/><circle cx="1522" cy="703" r="4.3"/><circle cx="1813" cy="799" r="4.3"/><circle cx="1530" cy="821" r="4.3"/><circle cx="1570" cy="795" r="4.3"/><circle cx="1703" cy="783" r="4.3"/><circle cx="1879" cy="761" r="4.3"/><circle cx="1494" cy="803" r="4.3"/><circle cx="1868" cy="754" r="4.3"/><circle cx="1879" cy="843" r="4.3"/><circle cx="1812" cy="711" r="4.3"/><circle cx="1793" cy="906" r="4.3"/><circle cx="1578" cy="830" r="4.3"/><circle cx="1507" cy="879" r="4.3"/><circle cx="1605" cy="722" r="4.3"/><circle cx="1573" cy="839" r="4.3"/><circle cx="1655" cy="786" r="4.3"/><circle cx="1755" cy="790" r="4.3"/><circle cx="1583" cy="813" r="4.3"/><circle cx="1629" cy="773" r="4.3"/><circle cx="1596" cy="865" r="4.3"/><circle cx="1853" cy="750" r="4.3"/><circle cx="1491" cy="836" r="4.3"/><circle cx="1766" cy="693" r="4.3"/><circle cx="1531" cy="741" r="4.3"/><circle cx="1603" cy="735" r="4.3"/><circle cx="1873" cy="751" r="4.3"/><circle cx="1534" cy="631" r="4.3"/><circle cx="1734" cy="654" r="4.3"/><circle cx="1761" cy="723" r="4.3"/><circle cx="1543" cy="664" r="4.3"/><circle cx="1620" cy="735" r="4.3"/><circle cx="1837" cy="792" r="4.3"/><circle cx="1871" cy="754" r="4.3"/><circle cx="1769" cy="750" r="4.3"/><circle cx="1530" cy="709" r="4.3"/><circle cx="1794" cy="823" r="4.3"/><circle cx="1706" cy="898" r="4.3"/><circle cx="1592" cy="895" r="4.3"/><circle cx="1559" cy="809" r="4.3"/><circle cx="1875" cy="792" r="4.3"/><circle cx="1603" cy="808" r="4.3"/><circle cx="1715" cy="789" r="4.3"/><circle cx="1479" cy="737" r="4.3"/><circle cx="1871" cy="693" r="4.3"/><circle cx="1876" cy="754" r="4.3"/><circle cx="1765" cy="659" r="4.3"/><circle cx="1493" cy="903" r="4.3"/><circle cx="1806" cy="831" r="4.3"/><circle cx="1872" cy="630" r="4.3"/><circle cx="1615" cy="629" r="4.3"/><circle cx="1553" cy="865" r="4.3"/><circle cx="1629" cy="827" r="4.3"/><circle cx="1646" cy="805" r="4.3"/><circle cx="1764" cy="740" r="4.3"/><circle cx="1551" cy="816" r="4.3"/><circle cx="1737" cy="772" r="4.3"/><circle cx="1727" cy="811" r="4.3"/><circle cx="1768" cy="836" r="4.3"/><circle cx="1726" cy="610" r="4.3"/><circle cx="1589" cy="860" r="4.3"/><circle cx="1862" cy="720" r="4.3"/><circle cx="1633" cy="649" r="4.3"/><circle cx="1653" cy="787" r="4.3"/><circle cx="1478" cy="804" r="4.3"/><circle cx="1544" cy="861" r="4.3"/><circle cx="1713" cy="757" r="4.3"/><circle cx="1748" cy="754" r="4.3"/><circle cx="1612" cy="794" r="4.3"/><circle cx="1582" cy="813" r="4.3"/><circle cx="1853" cy="768" r="4.3"/><circle cx="1715" cy="738" r="4.3"/><circle cx="1879" cy="842" r="4.3"/><circle cx="1773" cy="765" r="4.3"/><circle cx="1621" cy="757" r="4.3"/><circle cx="1777" cy="735" r="4.3"/><circle cx="1713" cy="795" r="4.3"/><circle cx="1483" cy="797" r="4.3"/><circle cx="1840" cy="778" r="4.3"/><circle cx="1810" cy="856" r="4.3"/><circle cx="1814" cy="839" r="4.3"/><circle cx="1868" cy="775" r="4.3"/><circle cx="1611" cy="722" r="4.3"/><circle cx="1683" cy="814" r="4.3"/><circle cx="1523" cy="769" r="4.3"/><circle cx="1750" cy="637" r="4.3"/><circle cx="1575" cy="728" r="4.3"/><circle cx="1886" cy="935" r="4.3"/><circle cx="1799" cy="735" r="4.3"/><circle cx="1688" cy="816" r="4.3"/><circle cx="1555" cy="777" r="4.3"/><circle cx="1627" cy="660" r="4.3"/><circle cx="1832" cy="766" r="4.3"/><circle cx="1618" cy="788" r="4.3"/><circle cx="1873" cy="795" r="4.3"/><circle cx="1833" cy="777" r="4.3"/><circle cx="1647" cy="671" r="4.3"/><circle cx="1762" cy="767" r="4.3"/><circle cx="1727" cy="663" r="4.3"/><circle cx="1605" cy="794" r="4.3"/><circle cx="1714" cy="764" r="4.3"/><circle cx="1832" cy="694" r="4.3"/><circle cx="1659" cy="770" r="4.3"/><circle cx="1725" cy="714" r="4.3"/><circle cx="1844" cy="668" r="4.3"/><circle cx="1870" cy="753" r="4.3"/><circle cx="1523" cy="751" r="4.3"/><circle cx="1475" cy="885" r="4.3"/><circle cx="1685" cy="810" r="4.3"/><circle cx="1729" cy="795" r="4.3"/><circle cx="1710" cy="853" r="4.3"/><circle cx="1571" cy="801" r="4.3"/><circle cx="1533" cy="744" r="4.3"/><circle cx="1499" cy="817" r="4.3"/><circle cx="1588" cy="851" r="4.3"/><circle cx="1530" cy="776" r="4.3"/><circle cx="1844" cy="768" r="4.3"/><circle cx="1516" cy="730" r="4.3"/><circle cx="1593" cy="952" r="4.3"/><circle cx="1502" cy="727" r="4.3"/><circle cx="1524" cy="676" r="4.3"/><circle cx="1693" cy="855" r="4.3"/><circle cx="1620" cy="699" r="4.3"/><circle cx="1863" cy="748" r="4.3"/><circle cx="1611" cy="839" r="4.3"/><circle cx="1689" cy="837" r="4.3"/><circle cx="1532" cy="771" r="4.3"/><circle cx="1516" cy="733" r="4.3"/><circle cx="1840" cy="699" r="4.3"/><circle cx="1644" cy="752" r="4.3"/><circle cx="1620" cy="727" r="4.3"/><circle cx="1836" cy="757" r="4.3"/><circle cx="1807" cy="860" r="4.3"/><circle cx="1771" cy="836" r="4.3"/><circle cx="1809" cy="875" r="4.3"/><circle cx="1701" cy="720" r="4.3"/><circle cx="1656" cy="755" r="4.3"/><circle cx="1523" cy="749" r="4.3"/><circle cx="1712" cy="755" r="4.3"/><circle cx="1721" cy="769" r="4.3"/><circle cx="1871" cy="814" r="4.3"/><circle cx="1649" cy="836" r="4.3"/><circle cx="1802" cy="806" r="4.3"/><circle cx="1866" cy="794" r="4.3"/><circle cx="1792" cy="739" r="4.3"/><circle cx="1618" cy="716" r="4.3"/><circle cx="1731" cy="773" r="4.3"/><circle cx="1574" cy="780" r="4.3"/><circle cx="1822" cy="754" r="4.3"/><circle cx="1523" cy="785" r="4.3"/><circle cx="1528" cy="767" r="4.3"/><circle cx="1886" cy="768" r="4.3"/><circle cx="1608" cy="853" r="4.3"/><circle cx="1753" cy="708" r="4.3"/><circle cx="1560" cy="796" r="4.3"/><circle cx="1724" cy="746" r="4.3"/><circle cx="1606" cy="790" r="4.3"/><circle cx="1872" cy="739" r="4.3"/><circle cx="1772" cy="756" r="4.3"/><circle cx="1638" cy="635" r="4.3"/><circle cx="1550" cy="738" r="4.3"/><circle cx="1699" cy="791" r="4.3"/><circle cx="1588" cy="824" r="4.3"/><circle cx="1871" cy="760" r="4.3"/><circle cx="1728" cy="759" r="4.3"/><circle cx="1506" cy="842" r="4.3"/><circle cx="1525" cy="688" r="4.3"/><circle cx="1855" cy="818" r="4.3"/><circle cx="1765" cy="767" r="4.3"/><circle cx="1764" cy="810" r="4.3"/><circle cx="1665" cy="830" r="4.3"/><circle cx="1717" cy="774" r="4.3"/><circle cx="1608" cy="755" r="4.3"/><circle cx="1729" cy="699" r="4.3"/><circle cx="1767" cy="747" r="4.3"/><circle cx="1723" cy="773" r="4.3"/><circle cx="1573" cy="821" r="4.3"/><circle cx="1714" cy="863" r="4.3"/><circle cx="1619" cy="871" r="4.3"/><circle cx="1650" cy="751" r="4.3"/><circle cx="1756" cy="727" r="4.3"/><circle cx="1538" cy="764" r="4.3"/><circle cx="1543" cy="795" r="4.3"/><circle cx="1882" cy="826" r="4.3"/><circle cx="1737" cy="743" r="4.3"/><circle cx="1509" cy="809" r="4.3"/><circle cx="1504" cy="714" r="4.3"/><circle cx="1765" cy="636" r="4.3"/><circle cx="1535" cy="749" r="4.3"/><circle cx="1611" cy="752" r="4.3"/><circle cx="1833" cy="761" r="4.3"/><circle cx="1698" cy="926" r="4.3"/><circle cx="1522" cy="750" r="4.3"/><circle cx="1762" cy="706" r="4.3"/><circle cx="1779" cy="755" r="4.3"/><circle cx="1883" cy="748" r="4.3"/><circle cx="1761" cy="810" r="4.3"/><circle cx="1824" cy="721" r="4.3"/><circle cx="1545" cy="856" r="4.3"/><circle cx="1691" cy="826" r="4.3"/><circle cx="1724" cy="716" r="4.3"/><circle cx="1492" cy="849" r="4.3"/><circle cx="1629" cy="774" r="4.3"/><circle cx="1887" cy="777" r="4.3"/><circle cx="1717" cy="804" r="4.3"/><circle cx="1808" cy="745" r="4.3"/><circle cx="1823" cy="785" r="4.3"/><circle cx="1590" cy="852" r="4.3"/><circle cx="1766" cy="787" r="4.3"/><circle cx="1540" cy="763" r="4.3"/><circle cx="1719" cy="880" r="4.3"/><circle cx="1834" cy="734" r="4.3"/><circle cx="1723" cy="747" r="4.3"/><circle cx="1737" cy="719" r="4.3"/><circle cx="1539" cy="774" r="4.3"/><circle cx="1588" cy="763" r="4.3"/><circle cx="1721" cy="683" r="4.3"/><circle cx="1648" cy="819" r="4.3"/><circle cx="1809" cy="797" r="4.3"/><circle cx="1765" cy="803" r="4.3"/><circle cx="1841" cy="762" r="4.3"/><circle cx="1515" cy="771" r="4.3"/><circle cx="1662" cy="851" r="4.3"/><circle cx="1827" cy="707" r="4.3"/><circle cx="1508" cy="705" r="4.3"/><circle cx="1825" cy="788" r="4.3"/><circle cx="1627" cy="741" r="4.3"/><circle cx="1518" cy="799" r="4.3"/><circle cx="1770" cy="796" r="4.3"/><circle cx="1824" cy="763" r="4.3"/><circle cx="1844" cy="788" r="4.3"/><circle cx="1717" cy="733" r="4.3"/><circle cx="1832" cy="783" r="4.3"/><circle cx="1782" cy="873" r="4.3"/><circle cx="1704" cy="827" r="4.3"/><circle cx="1793" cy="871" r="4.3"/><circle cx="1742" cy="748" r="4.3"/><circle cx="1581" cy="826" r="4.3"/><circle cx="1734" cy="741" r="4.3"/><circle cx="1805" cy="775" r="4.3"/><circle cx="1733" cy="781" r="4.3"/><circle cx="1606" cy="804" r="4.3"/><circle cx="1832" cy="779" r="4.3"/><circle cx="1727" cy="719" r="4.3"/><circle cx="1563" cy="719" r="4.3"/><circle cx="1743" cy="812" r="4.3"/><circle cx="1815" cy="929" r="4.3"/><circle cx="1606" cy="783" r="4.3"/><circle cx="1731" cy="684" r="4.3"/><circle cx="1793" cy="755" r="4.3"/><circle cx="1820" cy="798" r="4.3"/><circle cx="1744" cy="856" r="4.3"/><circle cx="1619" cy="720" r="4.3"/><circle cx="1881" cy="798" r="4.3"/><circle cx="1500" cy="800" r="4.3"/><circle cx="1722" cy="771" r="4.3"/><circle cx="1707" cy="772" r="4.3"/><circle cx="1596" cy="921" r="4.3"/><circle cx="1787" cy="803" r="4.3"/><circle cx="1837" cy="743" r="4.3"/><circle cx="1825" cy="852" r="4.3"/><circle cx="1894" cy="808" r="4.3"/><circle cx="1483" cy="830" r="4.3"/><circle cx="1827" cy="748" r="4.3"/><circle cx="1861" cy="783" r="4.3"/><circle cx="1640" cy="782" r="4.3"/><circle cx="1872" cy="807" r="4.3"/><circle cx="1624" cy="795" r="4.3"/><circle cx="1778" cy="860" r="4.3"/><circle cx="1589" cy="885" r="4.3"/><circle cx="1582" cy="807" r="4.3"/><circle cx="1538" cy="773" r="4.3"/><circle cx="1691" cy="873" r="4.3"/><circle cx="1753" cy="837" r="4.3"/><circle cx="1765" cy="730" r="4.3"/><circle cx="1551" cy="776" r="4.3"/><circle cx="1713" cy="712" r="4.3"/><circle cx="1598" cy="838" r="4.3"/><circle cx="1638" cy="803" r="4.3"/><circle cx="1494" cy="820" r="4.3"/><circle cx="1567" cy="828" r="4.3"/><circle cx="1766" cy="798" r="4.3"/><circle cx="1556" cy="796" r="4.3"/><circle cx="1630" cy="690" r="4.3"/><circle cx="1717" cy="763" r="4.3"/><circle cx="1745" cy="775" r="4.3"/><circle cx="1583" cy="817" r="4.3"/><circle cx="1712" cy="790" r="4.3"/><circle cx="1515" cy="803" r="4.3"/><circle cx="1714" cy="795" r="4.3"/><circle cx="1861" cy="817" r="4.3"/><circle cx="1709" cy="859" r="4.3"/><circle cx="1627" cy="775" r="4.3"/><circle cx="1834" cy="727" r="4.3"/><circle cx="1694" cy="857" r="4.3"/><circle cx="1825" cy="806" r="4.3"/><circle cx="1865" cy="768" r="4.3"/><circle cx="1834" cy="731" r="4.3"/><circle cx="1664" cy="850" r="4.3"/><circle cx="1521" cy="798" r="4.3"/><circle cx="1494" cy="865" r="4.3"/><circle cx="1829" cy="873" r="4.3"/><circle cx="1709" cy="810" r="4.3"/><circle cx="1763" cy="694" r="4.3"/><circle cx="1599" cy="742" r="4.3"/><circle cx="1525" cy="739" r="4.3"/><circle cx="1835" cy="786" r="4.3"/><circle cx="1575" cy="893" r="4.3"/><circle cx="1498" cy="827" r="4.3"/><circle cx="1567" cy="864" r="4.3"/><circle cx="1550" cy="878" r="4.3"/><circle cx="1818" cy="627" r="4.3"/><circle cx="1862" cy="791" r="4.3"/><circle cx="1766" cy="810" r="4.3"/><circle cx="1640" cy="775" r="4.3"/><circle cx="1720" cy="788" r="4.3"/><circle cx="1606" cy="849" r="4.3"/><circle cx="1523" cy="695" r="4.3"/><circle cx="1754" cy="737" r="4.3"/><circle cx="1622" cy="778" r="4.3"/><circle cx="1488" cy="844" r="4.3"/><circle cx="1551" cy="798" r="4.3"/><circle cx="1580" cy="882" r="4.3"/><circle cx="1520" cy="719" r="4.3"/><circle cx="1868" cy="788" r="4.3"/><circle cx="1629" cy="630" r="4.3"/><circle cx="1714" cy="713" r="4.3"/><circle cx="1874" cy="769" r="4.3"/><circle cx="1717" cy="883" r="4.3"/><circle cx="1519" cy="744" r="4.3"/><circle cx="1518" cy="765" r="4.3"/><circle cx="1617" cy="788" r="4.3"/><circle cx="1715" cy="864" r="4.3"/><circle cx="1619" cy="843" r="4.3"/><circle cx="1713" cy="709" r="4.3"/><circle cx="1658" cy="898" r="4.3"/><circle cx="1580" cy="880" r="4.3"/><circle cx="1532" cy="738" r="4.3"/><circle cx="1834" cy="746" r="4.3"/><circle cx="1663" cy="825" r="4.3"/><circle cx="1720" cy="828" r="4.3"/><circle cx="1695" cy="878" r="4.3"/><circle cx="1520" cy="730" r="4.3"/><circle cx="1871" cy="804" r="4.3"/><circle cx="1568" cy="851" r="4.3"/><circle cx="1808" cy="859" r="4.3"/><circle cx="1548" cy="845" r="4.3"/><circle cx="1721" cy="644" r="4.3"/><circle cx="1879" cy="648" r="4.3"/><circle cx="1516" cy="778" r="4.3"/><circle cx="1729" cy="762" r="4.3"/><circle cx="1534" cy="725" r="4.3"/><circle cx="1871" cy="783" r="4.3"/><circle cx="1833" cy="744" r="4.3"/><circle cx="1662" cy="636" r="4.3"/><circle cx="1883" cy="820" r="4.3"/><circle cx="1689" cy="820" r="4.3"/><circle cx="1724" cy="793" r="4.3"/><circle cx="1601" cy="839" r="4.3"/><circle cx="1616" cy="771" r="4.3"/><circle cx="1662" cy="733" r="4.3"/><circle cx="1861" cy="776" r="4.3"/><circle cx="1875" cy="750" r="4.3"/><circle cx="1882" cy="826" r="4.3"/><circle cx="1504" cy="853" r="4.3"/><circle cx="1754" cy="826" r="4.3"/><circle cx="1750" cy="670" r="4.3"/><circle cx="1527" cy="746" r="4.3"/><circle cx="1798" cy="810" r="4.3"/><circle cx="1773" cy="639" r="4.3"/><circle cx="1598" cy="869" r="4.3"/><circle cx="1714" cy="726" r="4.3"/><circle cx="1773" cy="706" r="4.3"/><circle cx="1797" cy="812" r="4.3"/><circle cx="1577" cy="813" r="4.3"/><circle cx="1828" cy="779" r="4.3"/><circle cx="1710" cy="813" r="4.3"/><circle cx="1829" cy="760" r="4.3"/><circle cx="1626" cy="783" r="4.3"/><circle cx="1855" cy="760" r="4.3"/><circle cx="1502" cy="877" r="4.3"/><circle cx="1614" cy="771" r="4.3"/><circle cx="1817" cy="775" r="4.3"/><circle cx="1719" cy="729" r="4.3"/><circle cx="1813" cy="750" r="4.3"/><circle cx="1524" cy="752" r="4.3"/><circle cx="1772" cy="749" r="4.3"/><circle cx="1522" cy="799" r="4.3"/><circle cx="1750" cy="834" r="4.3"/><circle cx="1522" cy="774" r="4.3"/><circle cx="1837" cy="744" r="4.3"/><circle cx="1620" cy="767" r="4.3"/><circle cx="1499" cy="768" r="4.3"/><circle cx="1699" cy="843" r="4.3"/><circle cx="1829" cy="780" r="4.3"/><circle cx="1817" cy="810" r="4.3"/><circle cx="1583" cy="804" r="4.3"/><circle cx="1669" cy="867" r="4.3"/><circle cx="1827" cy="759" r="4.3"/><circle cx="1716" cy="739" r="4.3"/><circle cx="1836" cy="749" r="4.3"/><circle cx="1622" cy="802" r="4.3"/><circle cx="1527" cy="794" r="4.3"/><circle cx="1692" cy="872" r="4.3"/><circle cx="1616" cy="757" r="4.3"/><circle cx="1525" cy="650" r="4.3"/><circle cx="1731" cy="778" r="4.3"/><circle cx="1507" cy="637" r="4.3"/><circle cx="1693" cy="909" r="4.3"/><circle cx="1777" cy="751" r="4.3"/><circle cx="1699" cy="862" r="4.3"/><circle cx="1513" cy="809" r="4.3"/><circle cx="1758" cy="781" r="4.3"/><circle cx="1692" cy="886" r="4.3"/><circle cx="1501" cy="767" r="4.3"/><circle cx="1786" cy="839" r="4.3"/><circle cx="1693" cy="831" r="4.3"/><circle cx="1528" cy="653" r="4.3"/><circle cx="1653" cy="886" r="4.3"/><circle cx="1627" cy="816" r="4.3"/><circle cx="1495" cy="801" r="4.3"/><circle cx="1709" cy="809" r="4.3"/><circle cx="1877" cy="720" r="4.3"/><circle cx="1597" cy="903" r="4.3"/><circle cx="1889" cy="771" r="4.3"/><circle cx="1511" cy="779" r="4.3"/><circle cx="1872" cy="918" r="4.3"/><circle cx="1781" cy="825" r="4.3"/><circle cx="1714" cy="817" r="4.3"/><circle cx="1600" cy="830" r="4.3"/><circle cx="1614" cy="734" r="4.3"/><circle cx="1683" cy="785" r="4.3"/><circle cx="1842" cy="863" r="4.3"/><circle cx="1484" cy="814" r="4.3"/><circle cx="1520" cy="693" r="4.3"/><circle cx="1842" cy="807" r="4.3"/><circle cx="1653" cy="755" r="4.3"/><circle cx="1622" cy="673" r="4.3"/><circle cx="1840" cy="764" r="4.3"/><circle cx="1859" cy="825" r="4.3"/><circle cx="1807" cy="895" r="4.3"/><circle cx="1605" cy="757" r="4.3"/><circle cx="1628" cy="725" r="4.3"/><circle cx="1840" cy="830" r="4.3"/><circle cx="1724" cy="797" r="4.3"/><circle cx="1793" cy="761" r="4.3"/><circle cx="1628" cy="760" r="4.3"/><circle cx="1616" cy="751" r="4.3"/><circle cx="1834" cy="780" r="4.3"/><circle cx="1840" cy="763" r="4.3"/><circle cx="1607" cy="727" r="4.3"/><circle cx="1845" cy="789" r="4.3"/><circle cx="1763" cy="648" r="4.3"/><circle cx="1836" cy="762" r="4.3"/><circle cx="1585" cy="862" r="4.3"/><circle cx="1496" cy="802" r="4.3"/><circle cx="1611" cy="692" r="4.3"/><circle cx="1576" cy="866" r="4.3"/><circle cx="1609" cy="908" r="4.3"/><circle cx="1631" cy="836" r="4.3"/><circle cx="1717" cy="680" r="4.3"/><circle cx="1721" cy="803" r="4.3"/><circle cx="1522" cy="891" r="4.3"/><circle cx="1618" cy="781" r="4.3"/><circle cx="1750" cy="783" r="4.3"/><circle cx="1522" cy="764" r="4.3"/><circle cx="1744" cy="748" r="4.3"/><circle cx="1816" cy="824" r="4.3"/><circle cx="1500" cy="800" r="4.3"/><circle cx="1742" cy="831" r="4.3"/><circle cx="1808" cy="851" r="4.3"/><circle cx="1712" cy="717" r="4.3"/><circle cx="1772" cy="758" r="4.3"/><circle cx="1758" cy="826" r="4.3"/><circle cx="1732" cy="654" r="4.3"/><circle cx="1528" cy="727" r="4.3"/><circle cx="1633" cy="817" r="4.3"/><circle cx="1496" cy="818" r="4.3"/><circle cx="1668" cy="800" r="4.3"/><circle cx="1832" cy="829" r="4.3"/><circle cx="1621" cy="760" r="4.3"/><circle cx="1867" cy="829" r="4.3"/><circle cx="1878" cy="834" r="4.3"/><circle cx="1523" cy="766" r="4.3"/><circle cx="1640" cy="752" r="4.3"/><circle cx="1578" cy="852" r="4.3"/><circle cx="1522" cy="633" r="4.3"/><circle cx="1522" cy="776" r="4.3"/><circle cx="1855" cy="787" r="4.3"/><circle cx="1600" cy="757" r="4.3"/><circle cx="1517" cy="691" r="4.3"/><circle cx="1617" cy="739" r="4.3"/><circle cx="1830" cy="785" r="4.3"/><circle cx="1585" cy="874" r="4.3"/><circle cx="1803" cy="707" r="4.3"/><circle cx="1506" cy="849" r="4.3"/><circle cx="1825" cy="751" r="4.3"/><circle cx="1787" cy="786" r="4.3"/><circle cx="1709" cy="820" r="4.3"/><circle cx="1863" cy="837" r="4.3"/><circle cx="1767" cy="770" r="4.3"/><circle cx="1847" cy="773" r="4.3"/><circle cx="1631" cy="807" r="4.3"/><circle cx="1703" cy="847" r="4.3"/><circle cx="1817" cy="821" r="4.3"/><circle cx="1803" cy="859" r="4.3"/><circle cx="1837" cy="690" r="4.3"/><circle cx="1770" cy="788" r="4.3"/><circle cx="1553" cy="810" r="4.3"/><circle cx="1680" cy="827" r="4.3"/><circle cx="1720" cy="776" r="4.3"/><circle cx="1499" cy="872" r="4.3"/><circle cx="1646" cy="781" r="4.3"/><circle cx="1818" cy="802" r="4.3"/><circle cx="1813" cy="894" r="4.3"/><circle cx="1884" cy="732" r="4.3"/><circle cx="1765" cy="622" r="4.3"/><circle cx="1634" cy="767" r="4.3"/><circle cx="1776" cy="736" r="4.3"/><circle cx="1794" cy="787" r="4.3"/><circle cx="1886" cy="803" r="4.3"/><circle cx="1729" cy="682" r="4.3"/><circle cx="1860" cy="729" r="4.3"/><circle cx="1777" cy="807" r="4.3"/><circle cx="1861" cy="809" r="4.3"/><circle cx="1555" cy="799" r="4.3"/><circle cx="1594" cy="653" r="4.3"/><circle cx="1530" cy="615" r="4.3"/><circle cx="1871" cy="708" r="4.3"/><circle cx="1545" cy="823" r="4.3"/><circle cx="1507" cy="827" r="4.3"/><circle cx="1625" cy="773" r="4.3"/><circle cx="1600" cy="835" r="4.3"/><circle cx="1773" cy="869" r="4.3"/><circle cx="1585" cy="854" r="4.3"/><circle cx="1770" cy="775" r="4.3"/><circle cx="1515" cy="666" r="4.3"/><circle cx="1805" cy="802" r="4.3"/><circle cx="1769" cy="713" r="4.3"/><circle cx="1518" cy="675" r="4.3"/><circle cx="1865" cy="696" r="4.3"/><circle cx="1828" cy="775" r="4.3"/><circle cx="1888" cy="723" r="4.3"/><circle cx="1753" cy="703" r="4.3"/><circle cx="1575" cy="787" r="4.3"/><circle cx="1574" cy="837" r="4.3"/><circle cx="1730" cy="850" r="4.3"/><circle cx="1482" cy="896" r="4.3"/><circle cx="1713" cy="796" r="4.3"/><circle cx="1590" cy="923" r="4.3"/><circle cx="1530" cy="689" r="4.3"/><circle cx="1632" cy="774" r="4.3"/><circle cx="1560" cy="829" r="4.3"/><circle cx="1550" cy="795" r="4.3"/><circle cx="1853" cy="874" r="4.3"/><circle cx="1472" cy="852" r="4.3"/><circle cx="1809" cy="905" r="4.3"/><circle cx="1721" cy="785" r="4.3"/><circle cx="1624" cy="743" r="4.3"/><circle cx="1523" cy="619" r="4.3"/><circle cx="1483" cy="826" r="4.3"/><circle cx="1884" cy="724" r="4.3"/><circle cx="1626" cy="702" r="4.3"/><circle cx="1571" cy="746" r="4.3"/><circle cx="1536" cy="714" r="4.3"/><circle cx="1726" cy="627" r="4.3"/><circle cx="1878" cy="737" r="4.3"/><circle cx="1579" cy="820" r="4.3"/><circle cx="1520" cy="782" r="4.3"/><circle cx="1869" cy="789" r="4.3"/><circle cx="1497" cy="856" r="4.3"/><circle cx="1682" cy="875" r="4.3"/><circle cx="1566" cy="764" r="4.3"/><circle cx="1844" cy="797" r="4.3"/><circle cx="1857" cy="867" r="4.3"/><circle cx="1838" cy="705" r="4.3"/><circle cx="1515" cy="788" r="4.3"/><circle cx="1718" cy="799" r="4.3"/><circle cx="1759" cy="752" r="4.3"/><circle cx="1609" cy="661" r="4.3"/><circle cx="1632" cy="675" r="4.3"/><circle cx="1622" cy="767" r="4.3"/><circle cx="1593" cy="837" r="4.3"/><circle cx="1834" cy="785" r="4.3"/><circle cx="1476" cy="855" r="4.3"/><circle cx="1832" cy="730" r="4.3"/><circle cx="1530" cy="787" r="4.3"/><circle cx="1685" cy="868" r="4.3"/><circle cx="1491" cy="814" r="4.3"/><circle cx="1562" cy="780" r="4.3"/><circle cx="1858" cy="778" r="4.3"/><circle cx="1764" cy="795" r="4.3"/><circle cx="1651" cy="673" r="4.3"/><circle cx="1582" cy="834" r="4.3"/><circle cx="1867" cy="796" r="4.3"/><circle cx="1722" cy="733" r="4.3"/><circle cx="1607" cy="808" r="4.3"/><circle cx="1783" cy="742" r="4.3"/><circle cx="1526" cy="737" r="4.3"/><circle cx="1554" cy="732" r="4.3"/><circle cx="1610" cy="772" r="4.3"/><circle cx="1524" cy="856" r="4.3"/><circle cx="1884" cy="756" r="4.3"/><circle cx="1725" cy="780" r="4.3"/><circle cx="1621" cy="766" r="4.3"/><circle cx="1770" cy="777" r="4.3"/><circle cx="1833" cy="748" r="4.3"/><circle cx="1874" cy="719" r="4.3"/><circle cx="1769" cy="680" r="4.3"/><circle cx="1661" cy="872" r="4.3"/><circle cx="1744" cy="875" r="4.3"/><circle cx="1519" cy="702" r="4.3"/><circle cx="1716" cy="727" r="4.3"/><circle cx="1879" cy="787" r="4.3"/><circle cx="1553" cy="735" r="4.3"/><circle cx="1733" cy="684" r="4.3"/><circle cx="1871" cy="871" r="4.3"/><circle cx="1499" cy="840" r="4.3"/><circle cx="1729" cy="626" r="4.3"/><circle cx="1858" cy="842" r="4.3"/><circle cx="1692" cy="864" r="4.3"/><circle cx="1850" cy="749" r="4.3"/><circle cx="1771" cy="769" r="4.3"/><circle cx="1592" cy="929" r="4.3"/><circle cx="1771" cy="738" r="4.3"/><circle cx="1870" cy="741" r="4.3"/><circle cx="1830" cy="739" r="4.3"/><circle cx="1489" cy="847" r="4.3"/><circle cx="1864" cy="804" r="4.3"/><circle cx="1843" cy="879" r="4.3"/><circle cx="1655" cy="765" r="4.3"/><circle cx="1586" cy="815" r="4.3"/><circle cx="1772" cy="690" r="4.3"/><circle cx="1755" cy="818" r="4.3"/><circle cx="1664" cy="751" r="4.3"/><circle cx="1874" cy="787" r="4.3"/><circle cx="1807" cy="868" r="4.3"/><circle cx="1779" cy="674" r="4.3"/><circle cx="1592" cy="697" r="4.3"/><circle cx="1811" cy="802" r="4.3"/><circle cx="1785" cy="864" r="4.3"/><circle cx="1530" cy="794" r="4.3"/><circle cx="1543" cy="780" r="4.3"/><circle cx="1636" cy="777" r="4.3"/><circle cx="1530" cy="771" r="4.3"/><circle cx="1721" cy="786" r="4.3"/><circle cx="1880" cy="792" r="4.3"/><circle cx="1514" cy="706" r="4.3"/><circle cx="1832" cy="801" r="4.3"/><circle cx="1726" cy="692" r="4.3"/><circle cx="1648" cy="806" r="4.3"/><circle cx="1727" cy="681" r="4.3"/><circle cx="1772" cy="747" r="4.3"/><circle cx="1515" cy="746" r="4.3"/><circle cx="1765" cy="776" r="4.3"/><circle cx="1763" cy="838" r="4.3"/><circle cx="1722" cy="795" r="4.3"/><circle cx="1692" cy="863" r="4.3"/><circle cx="1833" cy="719" r="4.3"/><circle cx="1881" cy="877" r="4.3"/><circle cx="1855" cy="811" r="4.3"/><circle cx="1525" cy="780" r="4.3"/><circle cx="1840" cy="806" r="4.3"/><circle cx="1727" cy="876" r="4.3"/><circle cx="1670" cy="831" r="4.3"/><circle cx="1810" cy="749" r="4.3"/><circle cx="1880" cy="771" r="4.3"/><circle cx="1619" cy="757" r="4.3"/><circle cx="1490" cy="894" r="4.3"/><circle cx="1826" cy="782" r="4.3"/><circle cx="1561" cy="654" r="4.3"/><circle cx="1624" cy="742" r="4.3"/><circle cx="1848" cy="788" r="4.3"/><circle cx="1526" cy="762" r="4.3"/><circle cx="1752" cy="734" r="4.3"/><circle cx="1705" cy="874" r="4.3"/><circle cx="1877" cy="767" r="4.3"/><circle cx="1707" cy="780" r="4.3"/><circle cx="1524" cy="790" r="4.3"/><circle cx="1520" cy="749" r="4.3"/><circle cx="1864" cy="740" r="4.3"/><circle cx="1520" cy="734" r="4.3"/><circle cx="1832" cy="715" r="4.3"/><circle cx="1880" cy="673" r="4.3"/><circle cx="1659" cy="767" r="4.3"/><circle cx="1572" cy="714" r="4.3"/><circle cx="1527" cy="711" r="4.3"/><circle cx="1823" cy="786" r="4.3"/><circle cx="1494" cy="771" r="4.3"/><circle cx="1616" cy="788" r="4.3"/><circle cx="1792" cy="733" r="4.3"/><circle cx="1479" cy="808" r="4.3"/><circle cx="1698" cy="793" r="4.3"/><circle cx="1729" cy="770" r="4.3"/><circle cx="1740" cy="843" r="4.3"/><circle cx="1877" cy="846" r="4.3"/><circle cx="1746" cy="777" r="4.3"/><circle cx="1521" cy="728" r="4.3"/><circle cx="1595" cy="855" r="4.3"/><circle cx="1626" cy="823" r="4.3"/><circle cx="1528" cy="728" r="4.3"/><circle cx="1747" cy="762" r="4.3"/><circle cx="1791" cy="804" r="4.3"/><circle cx="1523" cy="783" r="4.3"/><circle cx="1724" cy="734" r="4.3"/><circle cx="1768" cy="824" r="4.3"/><circle cx="1626" cy="774" r="4.3"/><circle cx="1605" cy="671" r="4.3"/><circle cx="1861" cy="747" r="4.3"/><circle cx="1725" cy="749" r="4.3"/><circle cx="1512" cy="686" r="4.3"/><circle cx="1786" cy="742" r="4.3"/><circle cx="1524" cy="704" r="4.3"/><circle cx="1532" cy="629" r="4.3"/><circle cx="1839" cy="817" r="4.3"/><circle cx="1526" cy="757" r="4.3"/><circle cx="1661" cy="861" r="4.3"/><circle cx="1870" cy="803" r="4.3"/><circle cx="1700" cy="878" r="4.3"/><circle cx="1615" cy="763" r="4.3"/><circle cx="1860" cy="803" r="4.3"/><circle cx="1797" cy="807" r="4.3"/><circle cx="1752" cy="763" r="4.3"/><circle cx="1620" cy="793" r="4.3"/><circle cx="1825" cy="687" r="4.3"/><circle cx="1702" cy="796" r="4.3"/><circle cx="1796" cy="817" r="4.3"/><circle cx="1840" cy="768" r="4.3"/><circle cx="1802" cy="816" r="4.3"/><circle cx="1702" cy="853" r="4.3"/><circle cx="1619" cy="682" r="4.3"/><circle cx="1676" cy="786" r="4.3"/><circle cx="1659" cy="762" r="4.3"/><circle cx="1701" cy="855" r="4.3"/><circle cx="1831" cy="752" r="4.3"/><circle cx="1489" cy="895" r="4.3"/><circle cx="1636" cy="823" r="4.3"/><circle cx="1862" cy="737" r="4.3"/><circle cx="1757" cy="761" r="4.3"/><circle cx="1876" cy="753" r="4.3"/><circle cx="1519" cy="641" r="4.3"/><circle cx="1497" cy="819" r="4.3"/><circle cx="1818" cy="831" r="4.3"/><circle cx="1724" cy="682" r="4.3"/><circle cx="1475" cy="760" r="4.3"/><circle cx="1734" cy="781" r="4.3"/><circle cx="1751" cy="776" r="4.3"/><circle cx="1769" cy="778" r="4.3"/><circle cx="1535" cy="761" r="4.3"/><circle cx="1676" cy="870" r="4.3"/><circle cx="1524" cy="777" r="4.3"/><circle cx="1836" cy="638" r="4.3"/><circle cx="1810" cy="790" r="4.3"/><circle cx="1530" cy="728" r="4.3"/><circle cx="1858" cy="848" r="4.3"/><circle cx="1531" cy="720" r="4.3"/><circle cx="1678" cy="834" r="4.3"/><circle cx="1762" cy="820" r="4.3"/><circle cx="1531" cy="730" r="4.3"/><circle cx="1520" cy="780" r="4.3"/><circle cx="1703" cy="852" r="4.3"/><circle cx="1840" cy="726" r="4.3"/><circle cx="1678" cy="792" r="4.3"/><circle cx="1471" cy="883" r="4.3"/><circle cx="1722" cy="617" r="4.3"/><circle cx="1716" cy="825" r="4.3"/><circle cx="1496" cy="828" r="4.3"/><circle cx="1560" cy="767" r="4.3"/><circle cx="1565" cy="757" r="4.3"/><circle cx="1512" cy="751" r="4.3"/><circle cx="1719" cy="779" r="4.3"/><circle cx="1772" cy="716" r="4.3"/><circle cx="1736" cy="757" r="4.3"/><circle cx="1844" cy="682" r="4.3"/><circle cx="1861" cy="824" r="4.3"/><circle cx="1675" cy="889" r="4.3"/><circle cx="1500" cy="729" r="4.3"/><circle cx="1685" cy="787" r="4.3"/><circle cx="1571" cy="837" r="4.3"/><circle cx="1832" cy="732" r="4.3"/><circle cx="1605" cy="821" r="4.3"/><circle cx="1483" cy="800" r="4.3"/><circle cx="1827" cy="708" r="4.3"/><circle cx="1519" cy="674" r="4.3"/><circle cx="1715" cy="918" r="4.3"/><circle cx="1744" cy="735" r="4.3"/><circle cx="1547" cy="756" r="4.3"/><circle cx="1856" cy="869" r="4.3"/><circle cx="1690" cy="852" r="4.3"/><circle cx="1804" cy="822" r="4.3"/><circle cx="1726" cy="771" r="4.3"/><circle cx="1769" cy="790" r="4.3"/><circle cx="1513" cy="791" r="4.3"/><circle cx="1649" cy="781" r="4.3"/><circle cx="1826" cy="754" r="4.3"/><circle cx="1810" cy="814" r="4.3"/><circle cx="1842" cy="784" r="4.3"/><circle cx="1491" cy="801" r="4.3"/><circle cx="1708" cy="824" r="4.3"/><circle cx="1799" cy="882" r="4.3"/><circle cx="1717" cy="752" r="4.3"/><circle cx="1803" cy="746" r="4.3"/><circle cx="1751" cy="814" r="4.3"/><circle cx="1489" cy="781" r="4.3"/><circle cx="1502" cy="864" r="4.3"/><circle cx="1862" cy="797" r="4.3"/><circle cx="1588" cy="791" r="4.3"/><circle cx="1588" cy="800" r="4.3"/><circle cx="1487" cy="820" r="4.3"/><circle cx="1562" cy="663" r="4.3"/><circle cx="1607" cy="746" r="4.3"/><circle cx="1621" cy="704" r="4.3"/><circle cx="1603" cy="784" r="4.3"/><circle cx="1754" cy="704" r="4.3"/><circle cx="1891" cy="813" r="4.3"/><circle cx="1832" cy="730" r="4.3"/><circle cx="1809" cy="829" r="4.3"/><circle cx="1524" cy="790" r="4.3"/><circle cx="1737" cy="769" r="4.3"/><circle cx="1893" cy="811" r="4.3"/><circle cx="1690" cy="859" r="4.3"/><circle cx="1487" cy="838" r="4.3"/><circle cx="1800" cy="814" r="4.3"/><circle cx="1619" cy="761" r="4.3"/><circle cx="1549" cy="877" r="4.3"/><circle cx="1659" cy="920" r="4.3"/><circle cx="1736" cy="772" r="4.3"/><circle cx="1530" cy="649" r="4.3"/><circle cx="1597" cy="832" r="4.3"/><circle cx="1496" cy="915" r="4.3"/><circle cx="1596" cy="817" r="4.3"/><circle cx="1611" cy="768" r="4.3"/><circle cx="1481" cy="757" r="4.3"/><circle cx="1497" cy="745" r="4.3"/><circle cx="1616" cy="791" r="4.3"/><circle cx="1526" cy="771" r="4.3"/><circle cx="1683" cy="886" r="4.3"/><circle cx="1859" cy="803" r="4.3"/><circle cx="1827" cy="747" r="4.3"/><circle cx="1818" cy="734" r="4.3"/><circle cx="1615" cy="741" r="4.3"/><circle cx="1817" cy="816" r="4.3"/><circle cx="1804" cy="799" r="4.3"/><circle cx="1862" cy="763" r="4.3"/><circle cx="1648" cy="840" r="4.3"/><circle cx="1497" cy="828" r="4.3"/><circle cx="1737" cy="825" r="4.3"/><circle cx="1629" cy="763" r="4.3"/><circle cx="1619" cy="781" r="4.3"/><circle cx="1518" cy="672" r="4.3"/><circle cx="1874" cy="832" r="4.3"/><circle cx="1850" cy="713" r="4.3"/><circle cx="1868" cy="778" r="4.3"/><circle cx="1577" cy="767" r="4.3"/><circle cx="1522" cy="723" r="4.3"/><circle cx="1703" cy="806" r="4.3"/><circle cx="1590" cy="815" r="4.3"/><circle cx="1877" cy="797" r="4.3"/><circle cx="1865" cy="769" r="4.3"/><circle cx="1754" cy="775" r="4.3"/><circle cx="1759" cy="757" r="4.3"/><circle cx="1576" cy="877" r="4.3"/><circle cx="1690" cy="871" r="4.3"/><circle cx="1879" cy="786" r="4.3"/><circle cx="1610" cy="721" r="4.3"/><circle cx="1717" cy="778" r="4.3"/><circle cx="1595" cy="750" r="4.3"/><circle cx="1646" cy="819" r="4.3"/><circle cx="1829" cy="707" r="4.3"/><circle cx="1729" cy="800" r="4.3"/><circle cx="1643" cy="738" r="4.3"/><circle cx="1725" cy="726" r="4.3"/><circle cx="1512" cy="813" r="4.3"/><circle cx="1610" cy="711" r="4.3"/><circle cx="1595" cy="820" r="4.3"/><circle cx="1593" cy="751" r="4.3"/><circle cx="1748" cy="821" r="4.3"/><circle cx="1490" cy="831" r="4.3"/><circle cx="1683" cy="865" r="4.3"/><circle cx="1807" cy="774" r="4.3"/><circle cx="1869" cy="804" r="4.3"/><circle cx="1499" cy="830" r="4.3"/><circle cx="1485" cy="844" r="4.3"/><circle cx="1784" cy="862" r="4.3"/><circle cx="1540" cy="796" r="4.3"/><circle cx="1841" cy="809" r="4.3"/><circle cx="1833" cy="790" r="4.3"/><circle cx="1801" cy="756" r="4.3"/><circle cx="1768" cy="704" r="4.3"/><circle cx="1753" cy="778" r="4.3"/><circle cx="1856" cy="796" r="4.3"/><circle cx="1520" cy="752" r="4.3"/><circle cx="1527" cy="676" r="4.3"/><circle cx="1761" cy="730" r="4.3"/><circle cx="1612" cy="786" r="4.3"/><circle cx="1868" cy="773" r="4.3"/><circle cx="1818" cy="700" r="4.3"/><circle cx="1806" cy="849" r="4.3"/><circle cx="1597" cy="871" r="4.3"/><circle cx="1587" cy="759" r="4.3"/><circle cx="1574" cy="889" r="4.3"/><circle cx="1739" cy="769" r="4.3"/><circle cx="1641" cy="852" r="4.3"/><circle cx="1503" cy="826" r="4.3"/><circle cx="1818" cy="788" r="4.3"/><circle cx="1882" cy="817" r="4.3"/><circle cx="1812" cy="799" r="4.3"/><circle cx="1822" cy="760" r="4.3"/><circle cx="1500" cy="904" r="4.3"/><circle cx="1817" cy="789" r="4.3"/><circle cx="1617" cy="782" r="4.3"/><circle cx="1477" cy="882" r="4.3"/><circle cx="1572" cy="870" r="4.3"/><circle cx="1702" cy="916" r="4.3"/><circle cx="1849" cy="813" r="4.3"/><circle cx="1734" cy="781" r="4.3"/><circle cx="1826" cy="842" r="4.3"/><circle cx="1631" cy="735" r="4.3"/><circle cx="1630" cy="765" r="4.3"/><circle cx="1770" cy="737" r="4.3"/><circle cx="1768" cy="793" r="4.3"/><circle cx="1514" cy="791" r="4.3"/><circle cx="1777" cy="817" r="4.3"/><circle cx="1527" cy="699" r="4.3"/><circle cx="1617" cy="775" r="4.3"/><circle cx="1584" cy="890" r="4.3"/><circle cx="1827" cy="732" r="4.3"/><circle cx="1508" cy="732" r="4.3"/><circle cx="1663" cy="791" r="4.3"/><circle cx="1732" cy="777" r="4.3"/><circle cx="1861" cy="790" r="4.3"/><circle cx="1534" cy="751" r="4.3"/><circle cx="1699" cy="871" r="4.3"/><circle cx="1494" cy="780" r="4.3"/><circle cx="1784" cy="770" r="4.3"/><circle cx="1601" cy="873" r="4.3"/><circle cx="1669" cy="865" r="4.3"/><circle cx="1757" cy="774" r="4.3"/><circle cx="1527" cy="842" r="4.3"/><circle cx="1622" cy="857" r="4.3"/><circle cx="1876" cy="770" r="4.3"/><circle cx="1696" cy="792" r="4.3"/><circle cx="1674" cy="776" r="4.3"/><circle cx="1770" cy="744" r="4.3"/><circle cx="1612" cy="778" r="4.3"/><circle cx="1614" cy="653" r="4.3"/><circle cx="1761" cy="764" r="4.3"/><circle cx="1509" cy="808" r="4.3"/><circle cx="1883" cy="790" r="4.3"/><circle cx="1488" cy="847" r="4.3"/><circle cx="1835" cy="718" r="4.3"/><circle cx="1507" cy="791" r="4.3"/><circle cx="1502" cy="823" r="4.3"/><circle cx="1551" cy="832" r="4.3"/><circle cx="1514" cy="659" r="4.3"/><circle cx="1620" cy="698" r="4.3"/><circle cx="1811" cy="767" r="4.3"/><circle cx="1712" cy="870" r="4.3"/><circle cx="1768" cy="850" r="4.3"/><circle cx="1769" cy="804" r="4.3"/><circle cx="1639" cy="744" r="4.3"/><circle cx="1499" cy="808" r="4.3"/><circle cx="1776" cy="778" r="4.3"/><circle cx="1733" cy="828" r="4.3"/><circle cx="1535" cy="728" r="4.3"/><circle cx="1875" cy="793" r="4.3"/><circle cx="1664" cy="772" r="4.3"/><circle cx="1516" cy="711" r="4.3"/><circle cx="1714" cy="831" r="4.3"/><circle cx="1626" cy="722" r="4.3"/><circle cx="1731" cy="813" r="4.3"/><circle cx="1726" cy="737" r="4.3"/><circle cx="1686" cy="876" r="4.3"/><circle cx="1714" cy="737" r="4.3"/><circle cx="1483" cy="846" r="4.3"/><circle cx="1660" cy="744" r="4.3"/><circle cx="1625" cy="781" r="4.3"/><circle cx="1650" cy="760" r="4.3"/><circle cx="1716" cy="767" r="4.3"/><circle cx="1589" cy="800" r="4.3"/><circle cx="1728" cy="763" r="4.3"/><circle cx="1764" cy="824" r="4.3"/><circle cx="1774" cy="865" r="4.3"/><circle cx="1721" cy="783" r="4.3"/><circle cx="1883" cy="896" r="4.3"/><circle cx="1637" cy="748" r="4.3"/><circle cx="1481" cy="813" r="4.3"/><circle cx="1488" cy="833" r="4.3"/><circle cx="1879" cy="815" r="4.3"/><circle cx="1680" cy="743" r="4.3"/><circle cx="1625" cy="780" r="4.3"/><circle cx="1478" cy="848" r="4.3"/><circle cx="1615" cy="775" r="4.3"/><circle cx="1664" cy="817" r="4.3"/><circle cx="1527" cy="766" r="4.3"/><circle cx="1712" cy="794" r="4.3"/><circle cx="1819" cy="755" r="4.3"/><circle cx="1814" cy="742" r="4.3"/><circle cx="1759" cy="745" r="4.3"/><circle cx="1507" cy="796" r="4.3"/><circle cx="1808" cy="814" r="4.3"/><circle cx="1520" cy="833" r="4.3"/><circle cx="1497" cy="805" r="4.3"/><circle cx="1577" cy="777" r="4.3"/><circle cx="1495" cy="871" r="4.3"/><circle cx="1730" cy="769" r="4.3"/><circle cx="1725" cy="759" r="4.3"/><circle cx="1754" cy="792" r="4.3"/><circle cx="1671" cy="766" r="4.3"/><circle cx="1758" cy="784" r="4.3"/><circle cx="1528" cy="748" r="4.3"/><circle cx="1769" cy="774" r="4.3"/><circle cx="1727" cy="680" r="4.3"/><circle cx="1825" cy="814" r="4.3"/><circle cx="1712" cy="778" r="4.3"/><circle cx="1642" cy="736" r="4.3"/><circle cx="1885" cy="826" r="4.3"/><circle cx="1862" cy="813" r="4.3"/><circle cx="1626" cy="688" r="4.3"/><circle cx="1686" cy="772" r="4.3"/><circle cx="1863" cy="760" r="4.3"/><circle cx="1692" cy="877" r="4.3"/><circle cx="1481" cy="841" r="4.3"/><circle cx="1726" cy="782" r="4.3"/><circle cx="1789" cy="835" r="4.3"/><circle cx="1520" cy="698" r="4.3"/><circle cx="1685" cy="784" r="4.3"/><circle cx="1865" cy="814" r="4.3"/><circle cx="1686" cy="765" r="4.3"/><circle cx="1867" cy="853" r="4.3"/><circle cx="1510" cy="865" r="4.3"/><circle cx="1494" cy="873" r="4.3"/><circle cx="1829" cy="754" r="4.3"/><circle cx="1803" cy="864" r="4.3"/><circle cx="1611" cy="794" r="4.3"/><circle cx="1515" cy="674" r="4.3"/><circle cx="1873" cy="768" r="4.3"/><circle cx="1544" cy="782" r="4.3"/><circle cx="1768" cy="758" r="4.3"/><circle cx="1575" cy="837" r="4.3"/><circle cx="1522" cy="668" r="4.3"/><circle cx="1613" cy="772" r="4.3"/><circle cx="1818" cy="840" r="4.3"/><circle cx="1472" cy="946" r="4.3"/><circle cx="1618" cy="764" r="4.3"/><circle cx="1486" cy="888" r="4.3"/><circle cx="1495" cy="851" r="4.3"/><circle cx="1519" cy="622" r="4.3"/><circle cx="1763" cy="864" r="4.3"/><circle cx="1777" cy="695" r="4.3"/><circle cx="1728" cy="791" r="4.3"/><circle cx="1758" cy="693" r="4.3"/><circle cx="1600" cy="768" r="4.3"/><circle cx="1752" cy="850" r="4.3"/><circle cx="1630" cy="665" r="4.3"/><circle cx="1829" cy="738" r="4.3"/><circle cx="1542" cy="812" r="4.3"/><circle cx="1823" cy="761" r="4.3"/><circle cx="1871" cy="741" r="4.3"/><circle cx="1802" cy="843" r="4.3"/><circle cx="1550" cy="897" r="4.3"/><circle cx="1762" cy="707" r="4.3"/><circle cx="1646" cy="858" r="4.3"/><circle cx="1618" cy="726" r="4.3"/><circle cx="1841" cy="696" r="4.3"/><circle cx="1825" cy="715" r="4.3"/><circle cx="1714" cy="784" r="4.3"/><circle cx="1485" cy="817" r="4.3"/><circle cx="1527" cy="684" r="4.3"/><circle cx="1867" cy="736" r="4.3"/><circle cx="1833" cy="741" r="4.3"/><circle cx="1653" cy="728" r="4.3"/><circle cx="1585" cy="822" r="4.3"/><circle cx="1509" cy="775" r="4.3"/><circle cx="1621" cy="669" r="4.3"/><circle cx="1674" cy="715" r="4.3"/><circle cx="1520" cy="764" r="4.3"/><circle cx="1770" cy="704" r="4.3"/><circle cx="1865" cy="753" r="4.3"/><circle cx="1619" cy="794" r="4.3"/><circle cx="1732" cy="726" r="4.3"/><circle cx="1818" cy="804" r="4.3"/><circle cx="1559" cy="735" r="4.3"/><circle cx="1780" cy="749" r="4.3"/><circle cx="1725" cy="797" r="4.3"/><circle cx="1854" cy="767" r="4.3"/><circle cx="1790" cy="776" r="4.3"/><circle cx="1589" cy="829" r="4.3"/><circle cx="1596" cy="813" r="4.3"/><circle cx="1604" cy="827" r="4.3"/><circle cx="1562" cy="755" r="4.3"/><circle cx="1512" cy="774" r="4.3"/><circle cx="1870" cy="773" r="4.3"/><circle cx="1596" cy="866" r="4.3"/><circle cx="1601" cy="854" r="4.3"/><circle cx="1759" cy="746" r="4.3"/><circle cx="1489" cy="744" r="4.3"/><circle cx="1592" cy="932" r="4.3"/><circle cx="1552" cy="806" r="4.3"/><circle cx="1872" cy="760" r="4.3"/><circle cx="1738" cy="682" r="4.3"/><circle cx="1767" cy="748" r="4.3"/><circle cx="1825" cy="727" r="4.3"/><circle cx="1516" cy="796" r="4.3"/><circle cx="1540" cy="747" r="4.3"/><circle cx="1714" cy="620" r="4.3"/><circle cx="1729" cy="731" r="4.3"/><circle cx="1807" cy="848" r="4.3"/><circle cx="1887" cy="882" r="4.3"/><circle cx="1698" cy="813" r="4.3"/><circle cx="1534" cy="793" r="4.3"/><circle cx="1620" cy="776" r="4.3"/><circle cx="1579" cy="849" r="4.3"/><circle cx="1521" cy="620" r="4.3"/><circle cx="1747" cy="858" r="4.3"/><circle cx="1826" cy="818" r="4.3"/><circle cx="1822" cy="700" r="4.3"/><circle cx="1517" cy="739" r="4.3"/><circle cx="1683" cy="778" r="4.3"/><circle cx="1618" cy="725" r="4.3"/><circle cx="1765" cy="888" r="4.3"/><circle cx="1816" cy="744" r="4.3"/><circle cx="1680" cy="746" r="4.3"/><circle cx="1537" cy="880" r="4.3"/><circle cx="1868" cy="794" r="4.3"/><circle cx="1854" cy="792" r="4.3"/><circle cx="1702" cy="818" r="4.3"/><circle cx="1529" cy="735" r="4.3"/><circle cx="1701" cy="859" r="4.3"/><circle cx="1491" cy="842" r="4.3"/><circle cx="1874" cy="798" r="4.3"/><circle cx="1847" cy="852" r="4.3"/><circle cx="1525" cy="700" r="4.3"/><circle cx="1716" cy="823" r="4.3"/><circle cx="1584" cy="818" r="4.3"/><circle cx="1564" cy="876" r="4.3"/><circle cx="1887" cy="816" r="4.3"/><circle cx="1797" cy="846" r="4.3"/><circle cx="1504" cy="756" r="4.3"/><circle cx="1826" cy="818" r="4.3"/><circle cx="1851" cy="686" r="4.3"/><circle cx="1670" cy="736" r="4.3"/><circle cx="1835" cy="653" r="4.3"/><circle cx="1593" cy="792" r="4.3"/><circle cx="1494" cy="709" r="4.3"/><circle cx="1722" cy="758" r="4.3"/><circle cx="1578" cy="796" r="4.3"/><circle cx="1822" cy="774" r="4.3"/><circle cx="1538" cy="751" r="4.3"/><circle cx="1590" cy="854" r="4.3"/><circle cx="1517" cy="834" r="4.3"/><circle cx="1728" cy="699" r="4.3"/><circle cx="1829" cy="841" r="4.3"/><circle cx="1641" cy="792" r="4.3"/><circle cx="1473" cy="831" r="4.3"/><circle cx="1785" cy="871" r="4.3"/><circle cx="1832" cy="747" r="4.3"/><circle cx="1709" cy="821" r="4.3"/><circle cx="1640" cy="843" r="4.3"/><circle cx="1869" cy="696" r="4.3"/><circle cx="1531" cy="694" r="4.3"/><circle cx="1821" cy="829" r="4.3"/><circle cx="1870" cy="781" r="4.3"/><circle cx="1597" cy="748" r="4.3"/><circle cx="1787" cy="775" r="4.3"/><circle cx="1717" cy="683" r="4.3"/><circle cx="1630" cy="835" r="4.3"/><circle cx="1595" cy="847" r="4.3"/><circle cx="1623" cy="758" r="4.3"/><circle cx="1561" cy="867" r="4.3"/><circle cx="1512" cy="773" r="4.3"/><circle cx="1530" cy="677" r="4.3"/><circle cx="1757" cy="736" r="4.3"/><circle cx="1590" cy="828" r="4.3"/><circle cx="1758" cy="761" r="4.3"/><circle cx="1722" cy="652" r="4.3"/><circle cx="1521" cy="812" r="4.3"/><circle cx="1834" cy="670" r="4.3"/><circle cx="1621" cy="805" r="4.3"/><circle cx="1666" cy="693" r="4.3"/><circle cx="1576" cy="886" r="4.3"/><circle cx="1570" cy="891" r="4.3"/><circle cx="1668" cy="756" r="4.3"/><circle cx="1613" cy="752" r="4.3"/><circle cx="1815" cy="837" r="4.3"/><circle cx="1813" cy="792" r="4.3"/><circle cx="1720" cy="750" r="4.3"/><circle cx="1619" cy="756" r="4.3"/><circle cx="1711" cy="727" r="4.3"/><circle cx="1614" cy="750" r="4.3"/><circle cx="1619" cy="644" r="4.3"/><circle cx="1502" cy="821" r="4.3"/><circle cx="1717" cy="640" r="4.3"/><circle cx="1501" cy="774" r="4.3"/><circle cx="1883" cy="768" r="4.3"/><circle cx="1508" cy="646" r="4.3"/><circle cx="1820" cy="739" r="4.3"/><circle cx="1838" cy="762" r="4.3"/><circle cx="1506" cy="817" r="4.3"/><circle cx="1698" cy="842" r="4.3"/><circle cx="1498" cy="812" r="4.3"/><circle cx="1511" cy="785" r="4.3"/><circle cx="1547" cy="803" r="4.3"/><circle cx="1727" cy="757" r="4.3"/><circle cx="1627" cy="671" r="4.3"/><circle cx="1496" cy="894" r="4.3"/><circle cx="1493" cy="878" r="4.3"/><circle cx="1787" cy="729" r="4.3"/><circle cx="1503" cy="800" r="4.3"/><circle cx="1616" cy="750" r="4.3"/><circle cx="1521" cy="736" r="4.3"/><circle cx="1573" cy="922" r="4.3"/><circle cx="1487" cy="814" r="4.3"/><circle cx="1523" cy="706" r="4.3"/><circle cx="1617" cy="753" r="4.3"/><circle cx="1522" cy="756" r="4.3"/><circle cx="1525" cy="724" r="4.3"/><circle cx="1691" cy="840" r="4.3"/><circle cx="1605" cy="685" r="4.3"/><circle cx="1514" cy="784" r="4.3"/><circle cx="1764" cy="746" r="4.3"/><circle cx="1523" cy="733" r="4.3"/><circle cx="1784" cy="762" r="4.3"/><circle cx="1478" cy="768" r="4.3"/><circle cx="1624" cy="631" r="4.3"/><circle cx="1777" cy="772" r="4.3"/><circle cx="1521" cy="669" r="4.3"/><circle cx="1835" cy="750" r="4.3"/><circle cx="1861" cy="695" r="4.3"/><circle cx="1523" cy="721" r="4.3"/><circle cx="1747" cy="817" r="4.3"/><circle cx="1752" cy="760" r="4.3"/><circle cx="1779" cy="759" r="4.3"/><circle cx="1574" cy="837" r="4.3"/><circle cx="1624" cy="787" r="4.3"/><circle cx="1520" cy="822" r="4.3"/><circle cx="1606" cy="744" r="4.3"/><circle cx="1684" cy="816" r="4.3"/><circle cx="1565" cy="800" r="4.3"/><circle cx="1816" cy="747" r="4.3"/><circle cx="1761" cy="741" r="4.3"/><circle cx="1832" cy="611" r="4.3"/><circle cx="1485" cy="817" r="4.3"/><circle cx="1822" cy="723" r="4.3"/><circle cx="1721" cy="900" r="4.3"/><circle cx="1589" cy="818" r="4.3"/><circle cx="1644" cy="802" r="4.3"/><circle cx="1894" cy="811" r="4.3"/><circle cx="1696" cy="711" r="4.3"/><circle cx="1723" cy="789" r="4.3"/><circle cx="1765" cy="858" r="4.3"/><circle cx="1665" cy="824" r="4.3"/><circle cx="1870" cy="750" r="4.3"/><circle cx="1877" cy="728" r="4.3"/><circle cx="1528" cy="764" r="4.3"/><circle cx="1837" cy="761" r="4.3"/><circle cx="1796" cy="842" r="4.3"/><circle cx="1728" cy="744" r="4.3"/><circle cx="1515" cy="775" r="4.3"/><circle cx="1524" cy="734" r="4.3"/><circle cx="1686" cy="845" r="4.3"/><circle cx="1554" cy="727" r="4.3"/><circle cx="1696" cy="831" r="4.3"/><circle cx="1758" cy="829" r="4.3"/><circle cx="1720" cy="774" r="4.3"/><circle cx="1644" cy="867" r="4.3"/><circle cx="1640" cy="725" r="4.3"/><circle cx="1613" cy="736" r="4.3"/><circle cx="1594" cy="868" r="4.3"/><circle cx="1568" cy="840" r="4.3"/><circle cx="1575" cy="763" r="4.3"/><circle cx="1724" cy="744" r="4.3"/><circle cx="1874" cy="741" r="4.3"/><circle cx="1647" cy="799" r="4.3"/><circle cx="1624" cy="698" r="4.3"/><circle cx="1620" cy="825" r="4.3"/><circle cx="1727" cy="823" r="4.3"/><circle cx="1750" cy="749" r="4.3"/><circle cx="1599" cy="766" r="4.3"/><circle cx="1835" cy="787" r="4.3"/><circle cx="1770" cy="747" r="4.3"/><circle cx="1554" cy="744" r="4.3"/><circle cx="1766" cy="788" r="4.3"/><circle cx="1721" cy="746" r="4.3"/><circle cx="1768" cy="738" r="4.3"/><circle cx="1476" cy="864" r="4.3"/><circle cx="1615" cy="696" r="4.3"/><circle cx="1518" cy="777" r="4.3"/><circle cx="1759" cy="727" r="4.3"/><circle cx="1880" cy="778" r="4.3"/><circle cx="1803" cy="829" r="4.3"/><circle cx="1800" cy="822" r="4.3"/><circle cx="1609" cy="784" r="4.3"/><circle cx="1688" cy="718" r="4.3"/><circle cx="1734" cy="751" r="4.3"/><circle cx="1691" cy="776" r="4.3"/><circle cx="1877" cy="764" r="4.3"/><circle cx="1496" cy="807" r="4.3"/><circle cx="1694" cy="882" r="4.3"/><circle cx="1525" cy="736" r="4.3"/><circle cx="1830" cy="854" r="4.3"/><circle cx="1833" cy="783" r="4.3"/><circle cx="1799" cy="825" r="4.3"/><circle cx="1793" cy="894" r="4.3"/><circle cx="1846" cy="770" r="4.3"/><circle cx="1833" cy="745" r="4.3"/><circle cx="1623" cy="698" r="4.3"/><circle cx="1715" cy="742" r="4.3"/><circle cx="1691" cy="831" r="4.3"/><circle cx="1492" cy="824" r="4.3"/><circle cx="1545" cy="747" r="4.3"/><circle cx="1676" cy="863" r="4.3"/><circle cx="1728" cy="729" r="4.3"/><circle cx="1478" cy="806" r="4.3"/><circle cx="1827" cy="777" r="4.3"/><circle cx="1776" cy="907" r="4.3"/><circle cx="1725" cy="781" r="4.3"/><circle cx="1518" cy="768" r="4.3"/><circle cx="1760" cy="740" r="4.3"/><circle cx="1630" cy="768" r="4.3"/><circle cx="1755" cy="859" r="4.3"/><circle cx="1822" cy="805" r="4.3"/><circle cx="1868" cy="807" r="4.3"/><circle cx="1723" cy="749" r="4.3"/><circle cx="1827" cy="818" r="4.3"/><circle cx="1875" cy="794" r="4.3"/><circle cx="1826" cy="708" r="4.3"/><circle cx="1579" cy="771" r="4.3"/><circle cx="1516" cy="685" r="4.3"/><circle cx="1574" cy="675" r="4.3"/><circle cx="1521" cy="781" r="4.3"/><circle cx="1474" cy="877" r="4.3"/><circle cx="1869" cy="786" r="4.3"/><circle cx="1805" cy="792" r="4.3"/><circle cx="1692" cy="781" r="4.3"/><circle cx="1881" cy="888" r="4.3"/><circle cx="1733" cy="771" r="4.3"/><circle cx="1755" cy="794" r="4.3"/><circle cx="1720" cy="751" r="4.3"/><circle cx="1554" cy="787" r="4.3"/><circle cx="1629" cy="756" r="4.3"/><circle cx="1557" cy="867" r="4.3"/><circle cx="1892" cy="791" r="4.3"/><circle cx="1757" cy="715" r="4.3"/><circle cx="1827" cy="766" r="4.3"/><circle cx="1731" cy="705" r="4.3"/><circle cx="1793" cy="816" r="4.3"/><circle cx="1765" cy="796" r="4.3"/><circle cx="1505" cy="773" r="4.3"/><circle cx="1728" cy="813" r="4.3"/><circle cx="1564" cy="776" r="4.3"/><circle cx="1701" cy="874" r="4.3"/><circle cx="1619" cy="769" r="4.3"/><circle cx="1880" cy="725" r="4.3"/><circle cx="1500" cy="770" r="4.3"/><circle cx="1637" cy="774" r="4.3"/><circle cx="1488" cy="818" r="4.3"/><circle cx="1705" cy="803" r="4.3"/><circle cx="1854" cy="782" r="4.3"/><circle cx="1731" cy="698" r="4.3"/><circle cx="1844" cy="729" r="4.3"/><circle cx="1613" cy="704" r="4.3"/><circle cx="1760" cy="808" r="4.3"/><circle cx="1878" cy="817" r="4.3"/><circle cx="1672" cy="782" r="4.3"/><circle cx="1623" cy="782" r="4.3"/><circle cx="1662" cy="780" r="4.3"/><circle cx="1827" cy="734" r="4.3"/><circle cx="1525" cy="686" r="4.3"/><circle cx="1656" cy="738" r="4.3"/><circle cx="1573" cy="820" r="4.3"/><circle cx="1517" cy="672" r="4.3"/><circle cx="1796" cy="806" r="4.3"/><circle cx="1871" cy="746" r="4.3"/><circle cx="1809" cy="735" r="4.3"/><circle cx="1801" cy="789" r="4.3"/><circle cx="1613" cy="712" r="4.3"/><circle cx="1566" cy="776" r="4.3"/><circle cx="1534" cy="735" r="4.3"/><circle cx="1740" cy="808" r="4.3"/><circle cx="1845" cy="748" r="4.3"/><circle cx="1816" cy="781" r="4.3"/><circle cx="1577" cy="937" r="4.3"/><circle cx="1700" cy="890" r="4.3"/><circle cx="1789" cy="748" r="4.3"/><circle cx="1868" cy="725" r="4.3"/><circle cx="1519" cy="720" r="4.3"/><circle cx="1759" cy="766" r="4.3"/><circle cx="1730" cy="758" r="4.3"/><circle cx="1584" cy="828" r="4.3"/><circle cx="1827" cy="796" r="4.3"/><circle cx="1514" cy="724" r="4.3"/><circle cx="1757" cy="643" r="4.3"/><circle cx="1871" cy="787" r="4.3"/><circle cx="1801" cy="832" r="4.3"/><circle cx="1559" cy="812" r="4.3"/><circle cx="1507" cy="776" r="4.3"/><circle cx="1874" cy="762" r="4.3"/><circle cx="1511" cy="801" r="4.3"/><circle cx="1493" cy="777" r="4.3"/><circle cx="1780" cy="650" r="4.3"/><circle cx="1546" cy="792" r="4.3"/><circle cx="1595" cy="756" r="4.3"/><circle cx="1814" cy="811" r="4.3"/><circle cx="1879" cy="803" r="4.3"/><circle cx="1885" cy="665" r="4.3"/><circle cx="1627" cy="813" r="4.3"/><circle cx="1783" cy="859" r="4.3"/><circle cx="1478" cy="817" r="4.3"/><circle cx="1506" cy="786" r="4.3"/><circle cx="1624" cy="728" r="4.3"/><circle cx="1776" cy="777" r="4.3"/><circle cx="1835" cy="748" r="4.3"/><circle cx="1650" cy="822" r="4.3"/><circle cx="1713" cy="793" r="4.3"/><circle cx="1594" cy="859" r="4.3"/><circle cx="1619" cy="711" r="4.3"/><circle cx="1698" cy="867" r="4.3"/><circle cx="1593" cy="828" r="4.3"/><circle cx="1719" cy="738" r="4.3"/><circle cx="1529" cy="740" r="4.3"/><circle cx="1723" cy="799" r="4.3"/><circle cx="1614" cy="811" r="4.3"/><circle cx="1731" cy="764" r="4.3"/><circle cx="1482" cy="852" r="4.3"/><circle cx="1791" cy="719" r="4.3"/><circle cx="1807" cy="798" r="4.3"/><circle cx="1816" cy="799" r="4.3"/><circle cx="1825" cy="664" r="4.3"/><circle cx="1754" cy="788" r="4.3"/><circle cx="1649" cy="843" r="4.3"/><circle cx="1629" cy="752" r="4.3"/><circle cx="1719" cy="796" r="4.3"/><circle cx="1474" cy="761" r="4.3"/><circle cx="1614" cy="671" r="4.3"/><circle cx="1650" cy="842" r="4.3"/><circle cx="1759" cy="714" r="4.3"/><circle cx="1521" cy="782" r="4.3"/><circle cx="1624" cy="748" r="4.3"/><circle cx="1703" cy="824" r="4.3"/><circle cx="1591" cy="963" r="4.3"/><circle cx="1756" cy="923" r="4.3"/><circle cx="1614" cy="696" r="4.3"/><circle cx="1500" cy="946" r="4.3"/><circle cx="1874" cy="724" r="4.3"/><circle cx="1837" cy="715" r="4.3"/><circle cx="1625" cy="665" r="4.3"/><circle cx="1599" cy="831" r="4.3"/><circle cx="1826" cy="801" r="4.3"/><circle cx="1859" cy="677" r="4.3"/><circle cx="1826" cy="723" r="4.3"/><circle cx="1722" cy="654" r="4.3"/><circle cx="1882" cy="795" r="4.3"/><circle cx="1765" cy="672" r="4.3"/><circle cx="1640" cy="717" r="4.3"/><circle cx="1596" cy="832" r="4.3"/><circle cx="1778" cy="753" r="4.3"/><circle cx="1540" cy="764" r="4.3"/><circle cx="1758" cy="773" r="4.3"/><circle cx="1632" cy="762" r="4.3"/><circle cx="1833" cy="738" r="4.3"/><circle cx="1761" cy="815" r="4.3"/><circle cx="1763" cy="692" r="4.3"/><circle cx="1695" cy="868" r="4.3"/><circle cx="1730" cy="899" r="4.3"/><circle cx="1503" cy="738" r="4.3"/><circle cx="1489" cy="826" r="4.3"/><circle cx="1571" cy="866" r="4.3"/><circle cx="1623" cy="667" r="4.3"/><circle cx="1637" cy="738" r="4.3"/><circle cx="1584" cy="842" r="4.3"/><circle cx="1722" cy="745" r="4.3"/><circle cx="1826" cy="709" r="4.3"/><circle cx="1640" cy="774" r="4.3"/><circle cx="1852" cy="771" r="4.3"/><circle cx="1692" cy="808" r="4.3"/><circle cx="1478" cy="896" r="4.3"/><circle cx="1493" cy="867" r="4.3"/><circle cx="1622" cy="636" r="4.3"/><circle cx="1618" cy="714" r="4.3"/><circle cx="1746" cy="727" r="4.3"/><circle cx="1582" cy="776" r="4.3"/><circle cx="1837" cy="677" r="4.3"/><circle cx="1495" cy="802" r="4.3"/><circle cx="1509" cy="803" r="4.3"/><circle cx="1819" cy="719" r="4.3"/><circle cx="1632" cy="703" r="4.3"/><circle cx="1843" cy="697" r="4.3"/><circle cx="1807" cy="791" r="4.3"/><circle cx="1730" cy="754" r="4.3"/><circle cx="1539" cy="797" r="4.3"/><circle cx="1822" cy="779" r="4.3"/><circle cx="1682" cy="792" r="4.3"/><circle cx="1863" cy="779" r="4.3"/><circle cx="1526" cy="757" r="4.3"/><circle cx="1726" cy="776" r="4.3"/><circle cx="1535" cy="691" r="4.3"/><circle cx="1775" cy="770" r="4.3"/><circle cx="1479" cy="868" r="4.3"/><circle cx="1716" cy="707" r="4.3"/><circle cx="1513" cy="692" r="4.3"/><circle cx="1753" cy="888" r="4.3"/><circle cx="1582" cy="826" r="4.3"/><circle cx="1571" cy="793" r="4.3"/><circle cx="1758" cy="808" r="4.3"/><circle cx="1633" cy="765" r="4.3"/><circle cx="1486" cy="919" r="4.3"/><circle cx="1520" cy="827" r="4.3"/><circle cx="1673" cy="776" r="4.3"/><circle cx="1825" cy="742" r="4.3"/><circle cx="1480" cy="819" r="4.3"/><circle cx="1654" cy="811" r="4.3"/><circle cx="1702" cy="870" r="4.3"/><circle cx="1639" cy="795" r="4.3"/><circle cx="1564" cy="685" r="4.3"/><circle cx="1874" cy="739" r="4.3"/><circle cx="1658" cy="796" r="4.3"/><circle cx="1588" cy="804" r="4.3"/><circle cx="1728" cy="811" r="4.3"/><circle cx="1720" cy="733" r="4.3"/><circle cx="1816" cy="840" r="4.3"/><circle cx="1685" cy="796" r="4.3"/><circle cx="1863" cy="798" r="4.3"/><circle cx="1601" cy="727" r="4.3"/><circle cx="1821" cy="837" r="4.3"/><circle cx="1626" cy="614" r="4.3"/><circle cx="1679" cy="771" r="4.3"/><circle cx="1500" cy="809" r="4.3"/><circle cx="1629" cy="876" r="4.3"/><circle cx="1526" cy="739" r="4.3"/><circle cx="1795" cy="822" r="4.3"/><circle cx="1609" cy="743" r="4.3"/><circle cx="1488" cy="886" r="4.3"/><circle cx="1624" cy="768" r="4.3"/><circle cx="1844" cy="707" r="4.3"/><circle cx="1836" cy="734" r="4.3"/><circle cx="1574" cy="723" r="4.3"/><circle cx="1820" cy="796" r="4.3"/><circle cx="1623" cy="701" r="4.3"/><circle cx="1773" cy="873" r="4.3"/><circle cx="1616" cy="704" r="4.3"/><circle cx="1586" cy="820" r="4.3"/><circle cx="1580" cy="845" r="4.3"/><circle cx="1869" cy="746" r="4.3"/><circle cx="1884" cy="804" r="4.3"/><circle cx="1689" cy="845" r="4.3"/><circle cx="1612" cy="747" r="4.3"/><circle cx="1875" cy="785" r="4.3"/><circle cx="1633" cy="808" r="4.3"/><circle cx="1577" cy="878" r="4.3"/><circle cx="1831" cy="694" r="4.3"/><circle cx="1814" cy="890" r="4.3"/><circle cx="1727" cy="780" r="4.3"/><circle cx="1482" cy="906" r="4.3"/><circle cx="1732" cy="787" r="4.3"/><circle cx="1510" cy="759" r="4.3"/><circle cx="1867" cy="757" r="4.3"/><circle cx="1473" cy="844" r="4.3"/><circle cx="1585" cy="823" r="4.3"/><circle cx="1618" cy="755" r="4.3"/><circle cx="1607" cy="766" r="4.3"/><circle cx="1496" cy="736" r="4.3"/><circle cx="1679" cy="753" r="4.3"/><circle cx="1664" cy="807" r="4.3"/><circle cx="1568" cy="792" r="4.3"/><circle cx="1509" cy="740" r="4.3"/><circle cx="1581" cy="788" r="4.3"/><circle cx="1766" cy="833" r="4.3"/><circle cx="1796" cy="863" r="4.3"/><circle cx="1841" cy="688" r="4.3"/><circle cx="1620" cy="771" r="4.3"/><circle cx="1761" cy="768" r="4.3"/><circle cx="1814" cy="859" r="4.3"/><circle cx="1862" cy="836" r="4.3"/><circle cx="1829" cy="766" r="4.3"/><circle cx="1521" cy="668" r="4.3"/><circle cx="1856" cy="804" r="4.3"/><circle cx="1724" cy="671" r="4.3"/><circle cx="1876" cy="716" r="4.3"/><circle cx="1839" cy="777" r="4.3"/><circle cx="1888" cy="793" r="4.3"/><circle cx="1827" cy="785" r="4.3"/><circle cx="1689" cy="889" r="4.3"/><circle cx="1868" cy="888" r="4.3"/><circle cx="1520" cy="792" r="4.3"/><circle cx="1503" cy="796" r="4.3"/><circle cx="1485" cy="788" r="4.3"/><circle cx="1483" cy="847" r="4.3"/><circle cx="1824" cy="795" r="4.3"/><circle cx="1781" cy="757" r="4.3"/><circle cx="1720" cy="778" r="4.3"/><circle cx="1516" cy="696" r="4.3"/><circle cx="1886" cy="760" r="4.3"/><circle cx="1824" cy="771" r="4.3"/><circle cx="1751" cy="840" r="4.3"/><circle cx="1759" cy="819" r="4.3"/><circle cx="1870" cy="784" r="4.3"/><circle cx="1554" cy="796" r="4.3"/><circle cx="1485" cy="913" r="4.3"/><circle cx="1886" cy="768" r="4.3"/><circle cx="1616" cy="745" r="4.3"/><circle cx="1836" cy="784" r="4.3"/><circle cx="1824" cy="782" r="4.3"/><circle cx="1617" cy="777" r="4.3"/><circle cx="1775" cy="705" r="4.3"/><circle cx="1753" cy="692" r="4.3"/><circle cx="1737" cy="707" r="4.3"/><circle cx="1825" cy="767" r="4.3"/><circle cx="1834" cy="759" r="4.3"/><circle cx="1711" cy="832" r="4.3"/><circle cx="1713" cy="874" r="4.3"/><circle cx="1598" cy="804" r="4.3"/><circle cx="1667" cy="698" r="4.3"/><circle cx="1866" cy="765" r="4.3"/><circle cx="1499" cy="854" r="4.3"/><circle cx="1591" cy="779" r="4.3"/><circle cx="1659" cy="812" r="4.3"/><circle cx="1828" cy="735" r="4.3"/><circle cx="1862" cy="793" r="4.3"/><circle cx="1702" cy="835" r="4.3"/><circle cx="1772" cy="735" r="4.3"/><circle cx="1624" cy="824" r="4.3"/><circle cx="1610" cy="746" r="4.3"/><circle cx="1800" cy="758" r="4.3"/><circle cx="1832" cy="761" r="4.3"/><circle cx="1751" cy="771" r="4.3"/><circle cx="1826" cy="755" r="4.3"/><circle cx="1773" cy="707" r="4.3"/><circle cx="1520" cy="762" r="4.3"/><circle cx="1516" cy="712" r="4.3"/><circle cx="1499" cy="836" r="4.3"/><circle cx="1530" cy="808" r="4.3"/><circle cx="1486" cy="828" r="4.3"/><circle cx="1705" cy="813" r="4.3"/><circle cx="1727" cy="756" r="4.3"/><circle cx="1695" cy="877" r="4.3"/><circle cx="1525" cy="649" r="4.3"/><circle cx="1582" cy="774" r="4.3"/><circle cx="1873" cy="756" r="4.3"/><circle cx="1622" cy="678" r="4.3"/><circle cx="1741" cy="790" r="4.3"/><circle cx="1774" cy="746" r="4.3"/><circle cx="1606" cy="788" r="4.3"/><circle cx="1619" cy="765" r="4.3"/><circle cx="1479" cy="756" r="4.3"/><circle cx="1769" cy="666" r="4.3"/><circle cx="1886" cy="780" r="4.3"/><circle cx="1529" cy="746" r="4.3"/><circle cx="1661" cy="775" r="4.3"/><circle cx="1529" cy="729" r="4.3"/><circle cx="1736" cy="762" r="4.3"/><circle cx="1527" cy="622" r="4.3"/><circle cx="1830" cy="752" r="4.3"/><circle cx="1516" cy="694" r="4.3"/><circle cx="1873" cy="760" r="4.3"/><circle cx="1750" cy="795" r="4.3"/><circle cx="1692" cy="864" r="4.3"/><circle cx="1817" cy="788" r="4.3"/><circle cx="1584" cy="878" r="4.3"/><circle cx="1530" cy="719" r="4.3"/><circle cx="1555" cy="781" r="4.3"/><circle cx="1711" cy="789" r="4.3"/><circle cx="1751" cy="763" r="4.3"/><circle cx="1702" cy="813" r="4.3"/><circle cx="1840" cy="753" r="4.3"/><circle cx="1693" cy="743" r="4.3"/><circle cx="1819" cy="833" r="4.3"/><circle cx="1787" cy="798" r="4.3"/><circle cx="1625" cy="650" r="4.3"/><circle cx="1760" cy="739" r="4.3"/><circle cx="1672" cy="765" r="4.3"/><circle cx="1776" cy="706" r="4.3"/><circle cx="1598" cy="777" r="4.3"/><circle cx="1624" cy="746" r="4.3"/><circle cx="1824" cy="785" r="4.3"/><circle cx="1514" cy="669" r="4.3"/><circle cx="1634" cy="842" r="4.3"/><circle cx="1476" cy="861" r="4.3"/><circle cx="1837" cy="789" r="4.3"/><circle cx="1832" cy="735" r="4.3"/><circle cx="1596" cy="844" r="4.3"/><circle cx="1737" cy="768" r="4.3"/><circle cx="1538" cy="728" r="4.3"/><circle cx="1534" cy="787" r="4.3"/><circle cx="1611" cy="796" r="4.3"/><circle cx="1527" cy="725" r="4.3"/><circle cx="1840" cy="874" r="4.3"/><circle cx="1519" cy="770" r="4.3"/><circle cx="1610" cy="796" r="4.3"/><circle cx="1502" cy="795" r="4.3"/><circle cx="1521" cy="770" r="4.3"/><circle cx="1738" cy="869" r="4.3"/><circle cx="1766" cy="727" r="4.3"/><circle cx="1666" cy="852" r="4.3"/><circle cx="1768" cy="772" r="4.3"/><circle cx="1488" cy="860" r="4.3"/><circle cx="1679" cy="846" r="4.3"/><circle cx="1872" cy="771" r="4.3"/><circle cx="1881" cy="775" r="4.3"/><circle cx="1621" cy="618" r="4.3"/><circle cx="1501" cy="800" r="4.3"/><circle cx="1893" cy="806" r="4.3"/><circle cx="1814" cy="813" r="4.3"/><circle cx="1847" cy="743" r="4.3"/><circle cx="1759" cy="699" r="4.3"/><circle cx="1823" cy="823" r="4.3"/><circle cx="1501" cy="803" r="4.3"/><circle cx="1725" cy="830" r="4.3"/><circle cx="1862" cy="799" r="4.3"/><circle cx="1528" cy="765" r="4.3"/><circle cx="1830" cy="779" r="4.3"/><circle cx="1485" cy="762" r="4.3"/><circle cx="1628" cy="770" r="4.3"/><circle cx="1759" cy="754" r="4.3"/><circle cx="1681" cy="792" r="4.3"/><circle cx="1518" cy="721" r="4.3"/><circle cx="1752" cy="785" r="4.3"/><circle cx="1511" cy="642" r="4.3"/><circle cx="1539" cy="766" r="4.3"/><circle cx="1488" cy="819" r="4.3"/><circle cx="1494" cy="860" r="4.3"/><circle cx="1842" cy="754" r="4.3"/><circle cx="1500" cy="804" r="4.3"/><circle cx="1843" cy="758" r="4.3"/><circle cx="1832" cy="690" r="4.3"/><circle cx="1552" cy="767" r="4.3"/><circle cx="1852" cy="773" r="4.3"/><circle cx="1494" cy="818" r="4.3"/><circle cx="1703" cy="820" r="4.3"/><circle cx="1516" cy="764" r="4.3"/><circle cx="1521" cy="730" r="4.3"/><circle cx="1774" cy="729" r="4.3"/><circle cx="1813" cy="805" r="4.3"/><circle cx="1634" cy="765" r="4.3"/><circle cx="1472" cy="882" r="4.3"/><circle cx="1484" cy="838" r="4.3"/><circle cx="1523" cy="616" r="4.3"/><circle cx="1717" cy="709" r="4.3"/><circle cx="1720" cy="791" r="4.3"/><circle cx="1623" cy="814" r="4.3"/><circle cx="1785" cy="777" r="4.3"/><circle cx="1558" cy="767" r="4.3"/><circle cx="1728" cy="765" r="4.3"/><circle cx="1615" cy="734" r="4.3"/><circle cx="1545" cy="774" r="4.3"/><circle cx="1481" cy="764" r="4.3"/><circle cx="1806" cy="806" r="4.3"/><circle cx="1471" cy="749" r="4.3"/><circle cx="1726" cy="796" r="4.3"/><circle cx="1500" cy="804" r="4.3"/><circle cx="1714" cy="812" r="4.3"/><circle cx="1816" cy="782" r="4.3"/><circle cx="1516" cy="637" r="4.3"/><circle cx="1639" cy="723" r="4.3"/><circle cx="1769" cy="775" r="4.3"/><circle cx="1758" cy="675" r="4.3"/><circle cx="1722" cy="678" r="4.3"/><circle cx="1894" cy="786" r="4.3"/><circle cx="1622" cy="781" r="4.3"/><circle cx="1836" cy="724" r="4.3"/><circle cx="1645" cy="755" r="4.3"/><circle cx="1510" cy="866" r="4.3"/><circle cx="1614" cy="783" r="4.3"/><circle cx="1792" cy="869" r="4.3"/><circle cx="1843" cy="904" r="4.3"/><circle cx="1499" cy="763" r="4.3"/><circle cx="1512" cy="778" r="4.3"/><circle cx="1736" cy="765" r="4.3"/><circle cx="1505" cy="797" r="4.3"/><circle cx="1607" cy="789" r="4.3"/><circle cx="1499" cy="826" r="4.3"/><circle cx="1807" cy="813" r="4.3"/><circle cx="1476" cy="824" r="4.3"/><circle cx="1814" cy="878" r="4.3"/><circle cx="1732" cy="702" r="4.3"/><circle cx="1494" cy="885" r="4.3"/><circle cx="1608" cy="736" r="4.3"/><circle cx="1488" cy="742" r="4.3"/><circle cx="1502" cy="784" r="4.3"/><circle cx="1625" cy="726" r="4.3"/><circle cx="1728" cy="685" r="4.3"/><circle cx="1879" cy="803" r="4.3"/><circle cx="1502" cy="840" r="4.3"/><circle cx="1480" cy="878" r="4.3"/><circle cx="1633" cy="645" r="4.3"/><circle cx="1520" cy="780" r="4.3"/><circle cx="1729" cy="749" r="4.3"/><circle cx="1759" cy="790" r="4.3"/><circle cx="1752" cy="790" r="4.3"/><circle cx="1649" cy="825" r="4.3"/><circle cx="1506" cy="768" r="4.3"/><circle cx="1521" cy="840" r="4.3"/><circle cx="1483" cy="754" r="4.3"/><circle cx="1827" cy="708" r="4.3"/><circle cx="1634" cy="760" r="4.3"/><circle cx="1517" cy="739" r="4.3"/><circle cx="1511" cy="827" r="4.3"/><circle cx="1684" cy="696" r="4.3"/><circle cx="1613" cy="765" r="4.3"/><circle cx="1622" cy="767" r="4.3"/><circle cx="1558" cy="810" r="4.3"/><circle cx="1661" cy="871" r="4.3"/><circle cx="1773" cy="755" r="4.3"/><circle cx="1495" cy="884" r="4.3"/><circle cx="1711" cy="813" r="4.3"/><circle cx="1825" cy="773" r="4.3"/><circle cx="1740" cy="728" r="4.3"/><circle cx="1770" cy="759" r="4.3"/><circle cx="1723" cy="679" r="4.3"/><circle cx="1627" cy="719" r="4.3"/><circle cx="1891" cy="811" r="4.3"/><circle cx="1818" cy="741" r="4.3"/><circle cx="1571" cy="730" r="4.3"/><circle cx="1765" cy="755" r="4.3"/><circle cx="1771" cy="790" r="4.3"/><circle cx="1729" cy="786" r="4.3"/><circle cx="1730" cy="836" r="4.3"/><circle cx="1622" cy="724" r="4.3"/><circle cx="1674" cy="803" r="4.3"/><circle cx="1830" cy="805" r="4.3"/><circle cx="1816" cy="808" r="4.3"/><circle cx="1617" cy="657" r="4.3"/><circle cx="1781" cy="887" r="4.3"/><circle cx="1833" cy="746" r="4.3"/><circle cx="1701" cy="818" r="4.3"/><circle cx="1628" cy="651" r="4.3"/><circle cx="1483" cy="866" r="4.3"/><circle cx="1735" cy="695" r="4.3"/><circle cx="1806" cy="882" r="4.3"/><circle cx="1611" cy="743" r="4.3"/><circle cx="1490" cy="778" r="4.3"/><circle cx="1694" cy="840" r="4.3"/><circle cx="1662" cy="815" r="4.3"/><circle cx="1741" cy="761" r="4.3"/><circle cx="1498" cy="824" r="4.3"/><circle cx="1720" cy="776" r="4.3"/><circle cx="1803" cy="796" r="4.3"/><circle cx="1821" cy="756" r="4.3"/><circle cx="1716" cy="776" r="4.3"/><circle cx="1842" cy="651" r="4.3"/><circle cx="1811" cy="769" r="4.3"/><circle cx="1814" cy="806" r="4.3"/><circle cx="1676" cy="850" r="4.3"/><circle cx="1590" cy="889" r="4.3"/><circle cx="1537" cy="787" r="4.3"/><circle cx="1873" cy="741" r="4.3"/><circle cx="1514" cy="683" r="4.3"/><circle cx="1770" cy="754" r="4.3"/><circle cx="1613" cy="755" r="4.3"/><circle cx="1753" cy="719" r="4.3"/><circle cx="1819" cy="812" r="4.3"/><circle cx="1788" cy="727" r="4.3"/><circle cx="1717" cy="764" r="4.3"/><circle cx="1717" cy="686" r="4.3"/><circle cx="1772" cy="865" r="4.3"/><circle cx="1624" cy="724" r="4.3"/><circle cx="1562" cy="838" r="4.3"/><circle cx="1784" cy="692" r="4.3"/><circle cx="1868" cy="799" r="4.3"/><circle cx="1796" cy="825" r="4.3"/><circle cx="1620" cy="773" r="4.3"/><circle cx="1550" cy="839" r="4.3"/><circle cx="1827" cy="785" r="4.3"/><circle cx="1544" cy="638" r="4.3"/><circle cx="1486" cy="890" r="4.3"/><circle cx="1737" cy="650" r="4.3"/><circle cx="1627" cy="696" r="4.3"/><circle cx="1627" cy="782" r="4.3"/><circle cx="1856" cy="733" r="4.3"/><circle cx="1786" cy="675" r="4.3"/><circle cx="1870" cy="686" r="4.3"/><circle cx="1598" cy="876" r="4.3"/><circle cx="1513" cy="660" r="4.3"/><circle cx="1699" cy="792" r="4.3"/><circle cx="1846" cy="785" r="4.3"/><circle cx="1821" cy="790" r="4.3"/><circle cx="1619" cy="712" r="4.3"/><circle cx="1692" cy="865" r="4.3"/><circle cx="1487" cy="898" r="4.3"/><circle cx="1561" cy="764" r="4.3"/><circle cx="1726" cy="768" r="4.3"/><circle cx="1486" cy="911" r="4.3"/><circle cx="1838" cy="783" r="4.3"/><circle cx="1597" cy="847" r="4.3"/><circle cx="1652" cy="775" r="4.3"/><circle cx="1875" cy="788" r="4.3"/><circle cx="1658" cy="859" r="4.3"/><circle cx="1534" cy="710" r="4.3"/><circle cx="1494" cy="760" r="4.3"/><circle cx="1716" cy="809" r="4.3"/><circle cx="1542" cy="801" r="4.3"/><circle cx="1602" cy="875" r="4.3"/><circle cx="1756" cy="771" r="4.3"/><circle cx="1614" cy="771" r="4.3"/><circle cx="1782" cy="799" r="4.3"/><circle cx="1515" cy="764" r="4.3"/><circle cx="1733" cy="788" r="4.3"/><circle cx="1653" cy="794" r="4.3"/><circle cx="1721" cy="772" r="4.3"/><circle cx="1503" cy="800" r="4.3"/><circle cx="1720" cy="790" r="4.3"/><circle cx="1524" cy="731" r="4.3"/><circle cx="1884" cy="782" r="4.3"/><circle cx="1717" cy="726" r="4.3"/><circle cx="1483" cy="718" r="4.3"/><circle cx="1549" cy="798" r="4.3"/><circle cx="1618" cy="748" r="4.3"/><circle cx="1858" cy="743" r="4.3"/><circle cx="1766" cy="782" r="4.3"/><circle cx="1819" cy="757" r="4.3"/><circle cx="1840" cy="759" r="4.3"/><circle cx="1649" cy="752" r="4.3"/><circle cx="1653" cy="840" r="4.3"/><circle cx="1626" cy="760" r="4.3"/><circle cx="1594" cy="897" r="4.3"/><circle cx="1574" cy="775" r="4.3"/><circle cx="1516" cy="870" r="4.3"/><circle cx="1526" cy="663" r="4.3"/><circle cx="1875" cy="714" r="4.3"/><circle cx="1554" cy="841" r="4.3"/><circle cx="1725" cy="880" r="4.3"/><circle cx="1661" cy="847" r="4.3"/><circle cx="1668" cy="719" r="4.3"/><circle cx="1763" cy="767" r="4.3"/><circle cx="1597" cy="785" r="4.3"/><circle cx="1790" cy="931" r="4.3"/><circle cx="1877" cy="858" r="4.3"/><circle cx="1804" cy="818" r="4.3"/><circle cx="1808" cy="781" r="4.3"/><circle cx="1639" cy="802" r="4.3"/><circle cx="1648" cy="870" r="4.3"/><circle cx="1800" cy="691" r="4.3"/><circle cx="1558" cy="760" r="4.3"/><circle cx="1615" cy="635" r="4.3"/><circle cx="1646" cy="787" r="4.3"/><circle cx="1526" cy="729" r="4.3"/><circle cx="1497" cy="850" r="4.3"/><circle cx="1820" cy="803" r="4.3"/><circle cx="1622" cy="655" r="4.3"/><circle cx="1503" cy="812" r="4.3"/><circle cx="1770" cy="761" r="4.3"/><circle cx="1693" cy="878" r="4.3"/><circle cx="1507" cy="808" r="4.3"/><circle cx="1765" cy="746" r="4.3"/><circle cx="1517" cy="705" r="4.3"/><circle cx="1608" cy="866" r="4.3"/><circle cx="1487" cy="726" r="4.3"/><circle cx="1681" cy="770" r="4.3"/><circle cx="1525" cy="729" r="4.3"/><circle cx="1765" cy="753" r="4.3"/><circle cx="1868" cy="714" r="4.3"/><circle cx="1729" cy="783" r="4.3"/><circle cx="1592" cy="878" r="4.3"/><circle cx="1515" cy="783" r="4.3"/><circle cx="1624" cy="703" r="4.3"/><circle cx="1586" cy="845" r="4.3"/><circle cx="1492" cy="854" r="4.3"/><circle cx="1522" cy="782" r="4.3"/><circle cx="1744" cy="740" r="4.3"/><circle cx="1516" cy="658" r="4.3"/><circle cx="1803" cy="735" r="4.3"/><circle cx="1679" cy="832" r="4.3"/><circle cx="1865" cy="769" r="4.3"/><circle cx="1620" cy="744" r="4.3"/><circle cx="1847" cy="894" r="4.3"/><circle cx="1528" cy="675" r="4.3"/><circle cx="1731" cy="892" r="4.3"/><circle cx="1721" cy="726" r="4.3"/><circle cx="1509" cy="801" r="4.3"/><circle cx="1802" cy="778" r="4.3"/><circle cx="1662" cy="810" r="4.3"/><circle cx="1698" cy="826" r="4.3"/><circle cx="1727" cy="776" r="4.3"/><circle cx="1712" cy="752" r="4.3"/><circle cx="1517" cy="713" r="4.3"/><circle cx="1840" cy="767" r="4.3"/><circle cx="1658" cy="838" r="4.3"/><circle cx="1496" cy="867" r="4.3"/><circle cx="1619" cy="828" r="4.3"/><circle cx="1782" cy="637" r="4.3"/><circle cx="1576" cy="859" r="4.3"/><circle cx="1874" cy="736" r="4.3"/><circle cx="1522" cy="733" r="4.3"/><circle cx="1866" cy="775" r="4.3"/><circle cx="1830" cy="693" r="4.3"/><circle cx="1595" cy="857" r="4.3"/><circle cx="1871" cy="748" r="4.3"/><circle cx="1863" cy="776" r="4.3"/><circle cx="1713" cy="750" r="4.3"/><circle cx="1719" cy="883" r="4.3"/><circle cx="1728" cy="733" r="4.3"/><circle cx="1895" cy="761" r="4.3"/><circle cx="1832" cy="755" r="4.3"/><circle cx="1731" cy="771" r="4.3"/><circle cx="1560" cy="859" r="4.3"/><circle cx="1674" cy="819" r="4.3"/><circle cx="1649" cy="795" r="4.3"/><circle cx="1632" cy="771" r="4.3"/><circle cx="1686" cy="818" r="4.3"/><circle cx="1611" cy="712" r="4.3"/><circle cx="1621" cy="756" r="4.3"/><circle cx="1820" cy="814" r="4.3"/><circle cx="1778" cy="769" r="4.3"/><circle cx="1515" cy="714" r="4.3"/><circle cx="1524" cy="740" r="4.3"/><circle cx="1525" cy="752" r="4.3"/><circle cx="1802" cy="775" r="4.3"/><circle cx="1658" cy="683" r="4.3"/><circle cx="1765" cy="771" r="4.3"/><circle cx="1649" cy="800" r="4.3"/><circle cx="1545" cy="712" r="4.3"/><circle cx="1684" cy="710" r="4.3"/><circle cx="1601" cy="829" r="4.3"/><circle cx="1746" cy="808" r="4.3"/><circle cx="1811" cy="798" r="4.3"/><circle cx="1617" cy="747" r="4.3"/><circle cx="1838" cy="809" r="4.3"/><circle cx="1866" cy="789" r="4.3"/><circle cx="1531" cy="790" r="4.3"/><circle cx="1702" cy="817" r="4.3"/><circle cx="1806" cy="850" r="4.3"/><circle cx="1779" cy="761" r="4.3"/><circle cx="1518" cy="756" r="4.3"/><circle cx="1559" cy="707" r="4.3"/><circle cx="1490" cy="769" r="4.3"/><circle cx="1569" cy="750" r="4.3"/><circle cx="1697" cy="788" r="4.3"/><circle cx="1679" cy="727" r="4.3"/><circle cx="1879" cy="757" r="4.3"/><circle cx="1681" cy="893" r="4.3"/><circle cx="1622" cy="656" r="4.3"/><circle cx="1562" cy="751" r="4.3"/><circle cx="1733" cy="778" r="4.3"/><circle cx="1560" cy="701" r="4.3"/><circle cx="1526" cy="764" r="4.3"/><circle cx="1687" cy="839" r="4.3"/><circle cx="1613" cy="652" r="4.3"/><circle cx="1716" cy="790" r="4.3"/><circle cx="1870" cy="750" r="4.3"/><circle cx="1875" cy="794" r="4.3"/><circle cx="1767" cy="744" r="4.3"/><circle cx="1761" cy="727" r="4.3"/><circle cx="1520" cy="736" r="4.3"/><circle cx="1594" cy="788" r="4.3"/><circle cx="1868" cy="663" r="4.3"/><circle cx="1764" cy="737" r="4.3"/><circle cx="1611" cy="782" r="4.3"/><circle cx="1684" cy="801" r="4.3"/><circle cx="1501" cy="786" r="4.3"/><circle cx="1607" cy="682" r="4.3"/><circle cx="1823" cy="804" r="4.3"/><circle cx="1612" cy="671" r="4.3"/><circle cx="1822" cy="859" r="4.3"/><circle cx="1656" cy="867" r="4.3"/><circle cx="1613" cy="785" r="4.3"/><circle cx="1686" cy="794" r="4.3"/><circle cx="1808" cy="790" r="4.3"/><circle cx="1853" cy="786" r="4.3"/><circle cx="1525" cy="686" r="4.3"/><circle cx="1499" cy="864" r="4.3"/><circle cx="1620" cy="777" r="4.3"/><circle cx="1887" cy="759" r="4.3"/><circle cx="1628" cy="745" r="4.3"/><circle cx="1683" cy="786" r="4.3"/><circle cx="1811" cy="763" r="4.3"/><circle cx="1770" cy="719" r="4.3"/><circle cx="1624" cy="833" r="4.3"/><circle cx="1713" cy="820" r="4.3"/><circle cx="1862" cy="684" r="4.3"/><circle cx="1584" cy="828" r="4.3"/><circle cx="1701" cy="819" r="4.3"/><circle cx="1714" cy="807" r="4.3"/><circle cx="1833" cy="720" r="4.3"/><circle cx="1745" cy="765" r="4.3"/><circle cx="1518" cy="684" r="4.3"/><circle cx="1712" cy="798" r="4.3"/><circle cx="1525" cy="684" r="4.3"/><circle cx="1819" cy="671" r="4.3"/><circle cx="1830" cy="727" r="4.3"/><circle cx="1869" cy="778" r="4.3"/><circle cx="1687" cy="917" r="4.3"/><circle cx="1838" cy="763" r="4.3"/><circle cx="1822" cy="675" r="4.3"/><circle cx="1518" cy="799" r="4.3"/><circle cx="1844" cy="855" r="4.3"/><circle cx="1578" cy="815" r="4.3"/><circle cx="1776" cy="748" r="4.3"/><circle cx="1471" cy="880" r="4.3"/><circle cx="1516" cy="701" r="4.3"/><circle cx="1776" cy="764" r="4.3"/><circle cx="1482" cy="834" r="4.3"/><circle cx="1488" cy="893" r="4.3"/><circle cx="1809" cy="912" r="4.3"/><circle cx="1616" cy="708" r="4.3"/><circle cx="1516" cy="765" r="4.3"/><circle cx="1481" cy="926" r="4.3"/><circle cx="1754" cy="730" r="4.3"/><circle cx="1737" cy="709" r="4.3"/><circle cx="1719" cy="699" r="4.3"/><circle cx="1669" cy="748" r="4.3"/><circle cx="1697" cy="708" r="4.3"/><circle cx="1825" cy="728" r="4.3"/><circle cx="1765" cy="794" r="4.3"/><circle cx="1552" cy="764" r="4.3"/><circle cx="1875" cy="732" r="4.3"/><circle cx="1874" cy="754" r="4.3"/><circle cx="1711" cy="713" r="4.3"/><circle cx="1786" cy="717" r="4.3"/><circle cx="1537" cy="741" r="4.3"/><circle cx="1832" cy="763" r="4.3"/><circle cx="1731" cy="838" r="4.3"/><circle cx="1613" cy="722" r="4.3"/><circle cx="1762" cy="770" r="4.3"/><circle cx="1875" cy="796" r="4.3"/><circle cx="1725" cy="781" r="4.3"/><circle cx="1623" cy="768" r="4.3"/><circle cx="1481" cy="925" r="4.3"/><circle cx="1517" cy="688" r="4.3"/><circle cx="1569" cy="997" r="4.3"/><circle cx="1722" cy="792" r="4.3"/><circle cx="1571" cy="738" r="4.3"/><circle cx="1470" cy="789" r="4.3"/><circle cx="1531" cy="760" r="4.3"/><circle cx="1882" cy="742" r="4.3"/><circle cx="1868" cy="840" r="4.3"/><circle cx="1772" cy="791" r="4.3"/><circle cx="1859" cy="704" r="4.3"/><circle cx="1491" cy="757" r="4.3"/><circle cx="1613" cy="774" r="4.3"/><circle cx="1621" cy="687" r="4.3"/><circle cx="1662" cy="801" r="4.3"/><circle cx="1829" cy="722" r="4.3"/><circle cx="1731" cy="724" r="4.3"/><circle cx="1768" cy="754" r="4.3"/><circle cx="1884" cy="753" r="4.3"/><circle cx="1839" cy="764" r="4.3"/><circle cx="1880" cy="781" r="4.3"/><circle cx="1675" cy="828" r="4.3"/><circle cx="1705" cy="825" r="4.3"/><circle cx="1823" cy="815" r="4.3"/><circle cx="1536" cy="796" r="4.3"/><circle cx="1829" cy="784" r="4.3"/><circle cx="1868" cy="771" r="4.3"/><circle cx="1830" cy="756" r="4.3"/><circle cx="1833" cy="759" r="4.3"/><circle cx="1543" cy="817" r="4.3"/><circle cx="1524" cy="773" r="4.3"/><circle cx="1519" cy="655" r="4.3"/><circle cx="1686" cy="813" r="4.3"/><circle cx="1585" cy="898" r="4.3"/><circle cx="1704" cy="849" r="4.3"/><circle cx="1515" cy="722" r="4.3"/><circle cx="1567" cy="745" r="4.3"/><circle cx="1568" cy="800" r="4.3"/><circle cx="1769" cy="775" r="4.3"/><circle cx="1723" cy="797" r="4.3"/><circle cx="1496" cy="862" r="4.3"/><circle cx="1574" cy="805" r="4.3"/><circle cx="1702" cy="794" r="4.3"/><circle cx="1627" cy="730" r="4.3"/><circle cx="1762" cy="798" r="4.3"/><circle cx="1577" cy="731" r="4.3"/><circle cx="1581" cy="716" r="4.3"/><circle cx="1826" cy="711" r="4.3"/><circle cx="1833" cy="849" r="4.3"/><circle cx="1581" cy="789" r="4.3"/><circle cx="1698" cy="801" r="4.3"/><circle cx="1792" cy="852" r="4.3"/><circle cx="1794" cy="731" r="4.3"/><circle cx="1730" cy="748" r="4.3"/><circle cx="1866" cy="757" r="4.3"/><circle cx="1878" cy="730" r="4.3"/><circle cx="1833" cy="805" r="4.3"/><circle cx="1879" cy="712" r="4.3"/><circle cx="1836" cy="676" r="4.3"/><circle cx="1735" cy="808" r="4.3"/><circle cx="1709" cy="833" r="4.3"/><circle cx="1659" cy="780" r="4.3"/><circle cx="1624" cy="780" r="4.3"/><circle cx="1784" cy="823" r="4.3"/><circle cx="1844" cy="750" r="4.3"/><circle cx="1790" cy="790" r="4.3"/><circle cx="1680" cy="797" r="4.3"/><circle cx="1711" cy="892" r="4.3"/><circle cx="1764" cy="782" r="4.3"/><circle cx="1523" cy="655" r="4.3"/><circle cx="1484" cy="825" r="4.3"/><circle cx="1695" cy="780" r="4.3"/><circle cx="1751" cy="835" r="4.3"/><circle cx="1547" cy="779" r="4.3"/><circle cx="1471" cy="846" r="4.3"/><circle cx="1509" cy="782" r="4.3"/><circle cx="1539" cy="833" r="4.3"/><circle cx="1891" cy="851" r="4.3"/><circle cx="1629" cy="793" r="4.3"/><circle cx="1520" cy="761" r="4.3"/><circle cx="1745" cy="874" r="4.3"/><circle cx="1535" cy="725" r="4.3"/><circle cx="1730" cy="782" r="4.3"/><circle cx="1801" cy="808" r="4.3"/><circle cx="1590" cy="832" r="4.3"/><circle cx="1512" cy="672" r="4.3"/><circle cx="1895" cy="815" r="4.3"/><circle cx="1695" cy="868" r="4.3"/><circle cx="1586" cy="829" r="4.3"/><circle cx="1599" cy="869" r="4.3"/><circle cx="1537" cy="676" r="4.3"/><circle cx="1723" cy="789" r="4.3"/><circle cx="1736" cy="787" r="4.3"/><circle cx="1829" cy="791" r="4.3"/><circle cx="1618" cy="742" r="4.3"/><circle cx="1781" cy="762" r="4.3"/><circle cx="1517" cy="768" r="4.3"/><circle cx="1737" cy="901" r="4.3"/><circle cx="1825" cy="772" r="4.3"/><circle cx="1520" cy="732" r="4.3"/><circle cx="1870" cy="750" r="4.3"/><circle cx="1711" cy="792" r="4.3"/><circle cx="1623" cy="716" r="4.3"/><circle cx="1783" cy="837" r="4.3"/><circle cx="1748" cy="702" r="4.3"/><circle cx="1524" cy="728" r="4.3"/><circle cx="1795" cy="812" r="4.3"/><circle cx="1520" cy="843" r="4.3"/><circle cx="1705" cy="824" r="4.3"/><circle cx="1498" cy="857" r="4.3"/><circle cx="1876" cy="657" r="4.3"/><circle cx="1490" cy="846" r="4.3"/><circle cx="1871" cy="798" r="4.3"/><circle cx="1887" cy="880" r="4.3"/><circle cx="1757" cy="813" r="4.3"/><circle cx="1833" cy="740" r="4.3"/><circle cx="1871" cy="769" r="4.3"/><circle cx="1880" cy="806" r="4.3"/><circle cx="1514" cy="709" r="4.3"/><circle cx="1806" cy="886" r="4.3"/><circle cx="1493" cy="882" r="4.3"/><circle cx="1778" cy="798" r="4.3"/><circle cx="1769" cy="810" r="4.3"/><circle cx="1611" cy="734" r="4.3"/><circle cx="1764" cy="874" r="4.3"/><circle cx="1654" cy="822" r="4.3"/><circle cx="1856" cy="773" r="4.3"/><circle cx="1672" cy="754" r="4.3"/><circle cx="1628" cy="774" r="4.3"/><circle cx="1867" cy="840" r="4.3"/><circle cx="1488" cy="731" r="4.3"/><circle cx="1602" cy="860" r="4.3"/><circle cx="1515" cy="653" r="4.3"/><circle cx="1520" cy="768" r="4.3"/><circle cx="1596" cy="748" r="4.3"/><circle cx="1549" cy="844" r="4.3"/><circle cx="1868" cy="831" r="4.3"/><circle cx="1644" cy="741" r="4.3"/><circle cx="1515" cy="748" r="4.3"/><circle cx="1719" cy="837" r="4.3"/><circle cx="1831" cy="807" r="4.3"/><circle cx="1527" cy="739" r="4.3"/><circle cx="1661" cy="782" r="4.3"/><circle cx="1540" cy="785" r="4.3"/><circle cx="1867" cy="780" r="4.3"/><circle cx="1777" cy="796" r="4.3"/><circle cx="1728" cy="740" r="4.3"/><circle cx="1514" cy="793" r="4.3"/><circle cx="1532" cy="672" r="4.3"/><circle cx="1710" cy="713" r="4.3"/><circle cx="1665" cy="882" r="4.3"/><circle cx="1841" cy="779" r="4.3"/><circle cx="1498" cy="779" r="4.3"/><circle cx="1697" cy="824" r="4.3"/><circle cx="1532" cy="698" r="4.3"/><circle cx="1877" cy="737" r="4.3"/><circle cx="1634" cy="712" r="4.3"/><circle cx="1558" cy="717" r="4.3"/><circle cx="1869" cy="765" r="4.3"/><circle cx="1585" cy="826" r="4.3"/><circle cx="1763" cy="748" r="4.3"/><circle cx="1679" cy="834" r="4.3"/><circle cx="1895" cy="816" r="4.3"/><circle cx="1584" cy="865" r="4.3"/><circle cx="1515" cy="703" r="4.3"/><circle cx="1617" cy="790" r="4.3"/><circle cx="1802" cy="860" r="4.3"/><circle cx="1618" cy="742" r="4.3"/><circle cx="1785" cy="756" r="4.3"/><circle cx="1635" cy="807" r="4.3"/><circle cx="1803" cy="805" r="4.3"/><circle cx="1840" cy="722" r="4.3"/><circle cx="1499" cy="810" r="4.3"/><circle cx="1497" cy="812" r="4.3"/><circle cx="1741" cy="790" r="4.3"/><circle cx="1769" cy="734" r="4.3"/><circle cx="1553" cy="878" r="4.3"/><circle cx="1741" cy="801" r="4.3"/><circle cx="1700" cy="821" r="4.3"/><circle cx="1764" cy="746" r="4.3"/><circle cx="1618" cy="765" r="4.3"/><circle cx="1847" cy="777" r="4.3"/><circle cx="1522" cy="708" r="4.3"/><circle cx="1488" cy="897" r="4.3"/><circle cx="1624" cy="629" r="4.3"/><circle cx="1724" cy="746" r="4.3"/><circle cx="1497" cy="862" r="4.3"/><circle cx="1872" cy="751" r="4.3"/><circle cx="1893" cy="795" r="4.3"/><circle cx="1761" cy="761" r="4.3"/><circle cx="1818" cy="766" r="4.3"/><circle cx="1699" cy="885" r="4.3"/><circle cx="1539" cy="824" r="4.3"/><circle cx="1772" cy="804" r="4.3"/><circle cx="1626" cy="761" r="4.3"/><circle cx="1655" cy="809" r="4.3"/><circle cx="1536" cy="793" r="4.3"/><circle cx="1723" cy="746" r="4.3"/><circle cx="1723" cy="734" r="4.3"/><circle cx="1654" cy="781" r="4.3"/><circle cx="1720" cy="758" r="4.3"/><circle cx="1775" cy="834" r="4.3"/><circle cx="1701" cy="844" r="4.3"/><circle cx="1613" cy="665" r="4.3"/><circle cx="1727" cy="754" r="4.3"/><circle cx="1618" cy="695" r="4.3"/><circle cx="1717" cy="702" r="4.3"/><circle cx="1620" cy="757" r="4.3"/><circle cx="1513" cy="859" r="4.3"/><circle cx="1684" cy="833" r="4.3"/><circle cx="1490" cy="868" r="4.3"/><circle cx="1832" cy="773" r="4.3"/><circle cx="1535" cy="772" r="4.3"/><circle cx="1792" cy="815" r="4.3"/><circle cx="1596" cy="755" r="4.3"/><circle cx="1771" cy="732" r="4.3"/><circle cx="1620" cy="757" r="4.3"/><circle cx="1618" cy="764" r="4.3"/><circle cx="1576" cy="669" r="4.3"/><circle cx="1636" cy="743" r="4.3"/><circle cx="1798" cy="866" r="4.3"/><circle cx="1850" cy="733" r="4.3"/><circle cx="1614" cy="664" r="4.3"/><circle cx="1638" cy="728" r="4.3"/><circle cx="1774" cy="769" r="4.3"/><circle cx="1815" cy="782" r="4.3"/><circle cx="1729" cy="762" r="4.3"/><circle cx="1585" cy="769" r="4.3"/><circle cx="1833" cy="797" r="4.3"/><circle cx="1766" cy="792" r="4.3"/><circle cx="1726" cy="778" r="4.3"/><circle cx="1841" cy="654" r="4.3"/><circle cx="1583" cy="826" r="4.3"/><circle cx="1760" cy="826" r="4.3"/><circle cx="1886" cy="779" r="4.3"/><circle cx="1647" cy="819" r="4.3"/><circle cx="1620" cy="721" r="4.3"/><circle cx="1835" cy="775" r="4.3"/><circle cx="1503" cy="795" r="4.3"/><circle cx="1515" cy="717" r="4.3"/><circle cx="1848" cy="738" r="4.3"/><circle cx="1672" cy="711" r="4.3"/><circle cx="1869" cy="811" r="4.3"/><circle cx="1650" cy="672" r="4.3"/><circle cx="1487" cy="828" r="4.3"/><circle cx="1664" cy="825" r="4.3"/><circle cx="1823" cy="753" r="4.3"/><circle cx="1720" cy="805" r="4.3"/><circle cx="1807" cy="841" r="4.3"/><circle cx="1782" cy="869" r="4.3"/><circle cx="1485" cy="857" r="4.3"/><circle cx="1492" cy="772" r="4.3"/><circle cx="1795" cy="776" r="4.3"/><circle cx="1833" cy="682" r="4.3"/><circle cx="1737" cy="758" r="4.3"/><circle cx="1493" cy="825" r="4.3"/><circle cx="1518" cy="707" r="4.3"/><circle cx="1878" cy="797" r="4.3"/><circle cx="1767" cy="788" r="4.3"/><circle cx="1513" cy="761" r="4.3"/><circle cx="1767" cy="727" r="4.3"/><circle cx="1691" cy="858" r="4.3"/><circle cx="1563" cy="835" r="4.3"/><circle cx="1746" cy="742" r="4.3"/><circle cx="1702" cy="765" r="4.3"/><circle cx="1692" cy="792" r="4.3"/><circle cx="1593" cy="794" r="4.3"/><circle cx="1819" cy="793" r="4.3"/><circle cx="1839" cy="810" r="4.3"/><circle cx="1519" cy="755" r="4.3"/><circle cx="1774" cy="775" r="4.3"/><circle cx="1775" cy="735" r="4.3"/><circle cx="1727" cy="797" r="4.3"/><circle cx="1616" cy="745" r="4.3"/><circle cx="1609" cy="772" r="4.3"/><circle cx="1630" cy="682" r="4.3"/><circle cx="1625" cy="772" r="4.3"/><circle cx="1687" cy="680" r="4.3"/><circle cx="1749" cy="849" r="4.3"/><circle cx="1805" cy="799" r="4.3"/><circle cx="1834" cy="819" r="4.3"/><circle cx="1827" cy="780" r="4.3"/><circle cx="1698" cy="908" r="4.3"/><circle cx="1714" cy="851" r="4.3"/><circle cx="1833" cy="715" r="4.3"/><circle cx="1780" cy="833" r="4.3"/><circle cx="1770" cy="745" r="4.3"/><circle cx="1872" cy="752" r="4.3"/><circle cx="1599" cy="806" r="4.3"/><circle cx="1587" cy="888" r="4.3"/><circle cx="1627" cy="771" r="4.3"/><circle cx="1481" cy="769" r="4.3"/><circle cx="1634" cy="635" r="4.3"/><circle cx="1776" cy="675" r="4.3"/><circle cx="1720" cy="795" r="4.3"/><circle cx="1822" cy="726" r="4.3"/><circle cx="1534" cy="711" r="4.3"/><circle cx="1805" cy="817" r="4.3"/><circle cx="1578" cy="762" r="4.3"/><circle cx="1832" cy="755" r="4.3"/><circle cx="1833" cy="748" r="4.3"/><circle cx="1737" cy="871" r="4.3"/><circle cx="1830" cy="796" r="4.3"/><circle cx="1509" cy="818" r="4.3"/><circle cx="1586" cy="835" r="4.3"/><circle cx="1515" cy="828" r="4.3"/><circle cx="1610" cy="758" r="4.3"/><circle cx="1836" cy="805" r="4.3"/><circle cx="1879" cy="699" r="4.3"/><circle cx="1753" cy="648" r="4.3"/><circle cx="1765" cy="766" r="4.3"/><circle cx="1666" cy="787" r="4.3"/><circle cx="1485" cy="810" r="4.3"/><circle cx="1882" cy="844" r="4.3"/><circle cx="1734" cy="779" r="4.3"/><circle cx="1737" cy="790" r="4.3"/><circle cx="1869" cy="716" r="4.3"/><circle cx="1675" cy="803" r="4.3"/><circle cx="1542" cy="777" r="4.3"/><circle cx="1733" cy="756" r="4.3"/><circle cx="1618" cy="774" r="4.3"/><circle cx="1525" cy="870" r="4.3"/><circle cx="1880" cy="845" r="4.3"/><circle cx="1865" cy="845" r="4.3"/><circle cx="1641" cy="796" r="4.3"/><circle cx="1877" cy="792" r="4.3"/><circle cx="1873" cy="763" r="4.3"/><circle cx="1727" cy="713" r="4.3"/><circle cx="1799" cy="826" r="4.3"/><circle cx="1615" cy="721" r="4.3"/><circle cx="1517" cy="786" r="4.3"/><circle cx="1622" cy="783" r="4.3"/><circle cx="1888" cy="796" r="4.3"/><circle cx="1889" cy="907" r="4.3"/><circle cx="1716" cy="850" r="4.3"/><circle cx="1828" cy="797" r="4.3"/><circle cx="1563" cy="851" r="4.3"/><circle cx="1706" cy="737" r="4.3"/><circle cx="1532" cy="749" r="4.3"/><circle cx="1629" cy="771" r="4.3"/><circle cx="1536" cy="796" r="4.3"/><circle cx="1688" cy="799" r="4.3"/><circle cx="1624" cy="783" r="4.3"/><circle cx="1786" cy="765" r="4.3"/><circle cx="1848" cy="606" r="4.3"/><circle cx="1532" cy="740" r="4.3"/><circle cx="1865" cy="749" r="4.3"/><circle cx="1704" cy="799" r="4.3"/><circle cx="1691" cy="907" r="4.3"/><circle cx="1764" cy="756" r="4.3"/><circle cx="1653" cy="826" r="4.3"/><circle cx="1584" cy="784" r="4.3"/><circle cx="1772" cy="793" r="4.3"/><circle cx="1656" cy="795" r="4.3"/><circle cx="1626" cy="749" r="4.3"/><circle cx="1676" cy="853" r="4.3"/><circle cx="1634" cy="721" r="4.3"/><circle cx="1523" cy="809" r="4.3"/><circle cx="1666" cy="723" r="4.3"/><circle cx="1705" cy="760" r="4.3"/><circle cx="1672" cy="741" r="4.3"/><circle cx="1493" cy="943" r="4.3"/><circle cx="1518" cy="722" r="4.3"/><circle cx="1531" cy="682" r="4.3"/><circle cx="1483" cy="853" r="4.3"/><circle cx="1496" cy="818" r="4.3"/><circle cx="1759" cy="715" r="4.3"/><circle cx="1798" cy="859" r="4.3"/><circle cx="1830" cy="752" r="4.3"/><circle cx="1555" cy="717" r="4.3"/><circle cx="1599" cy="797" r="4.3"/><circle cx="1623" cy="907" r="4.3"/><circle cx="1842" cy="769" r="4.3"/><circle cx="1596" cy="859" r="4.3"/><circle cx="1641" cy="793" r="4.3"/><circle cx="1610" cy="741" r="4.3"/><circle cx="1480" cy="788" r="4.3"/><circle cx="1796" cy="854" r="4.3"/><circle cx="1631" cy="685" r="4.3"/><circle cx="1837" cy="776" r="4.3"/><circle cx="1630" cy="837" r="4.3"/><circle cx="1655" cy="831" r="4.3"/><circle cx="1666" cy="806" r="4.3"/><circle cx="1722" cy="733" r="4.3"/><circle cx="1821" cy="767" r="4.3"/><circle cx="1705" cy="824" r="4.3"/><circle cx="1599" cy="802" r="4.3"/><circle cx="1514" cy="676" r="4.3"/><circle cx="1549" cy="871" r="4.3"/><circle cx="1627" cy="740" r="4.3"/><circle cx="1884" cy="713" r="4.3"/><circle cx="1724" cy="800" r="4.3"/><circle cx="1696" cy="890" r="4.3"/><circle cx="1489" cy="820" r="4.3"/><circle cx="1884" cy="697" r="4.3"/><circle cx="1489" cy="809" r="4.3"/><circle cx="1762" cy="779" r="4.3"/><circle cx="1837" cy="722" r="4.3"/><circle cx="1832" cy="841" r="4.3"/><circle cx="1664" cy="833" r="4.3"/><circle cx="1578" cy="882" r="4.3"/><circle cx="1692" cy="893" r="4.3"/><circle cx="1473" cy="869" r="4.3"/><circle cx="1834" cy="762" r="4.3"/><circle cx="1605" cy="834" r="4.3"/><circle cx="1660" cy="769" r="4.3"/><circle cx="1890" cy="802" r="4.3"/><circle cx="1598" cy="805" r="4.3"/><circle cx="1770" cy="743" r="4.3"/><circle cx="1512" cy="827" r="4.3"/><circle cx="1547" cy="821" r="4.3"/><circle cx="1734" cy="767" r="4.3"/><circle cx="1779" cy="728" r="4.3"/><circle cx="1522" cy="735" r="4.3"/><circle cx="1881" cy="830" r="4.3"/><circle cx="1580" cy="762" r="4.3"/><circle cx="1678" cy="810" r="4.3"/><circle cx="1796" cy="864" r="4.3"/><circle cx="1696" cy="697" r="4.3"/></g>
<polyline points="1475.6,816.1 1477,816.6 1478.4,816.9 1479.8,817.2 1481.1,817.3 1482.5,817.3 1483.9,817.1 1485.3,816.8 1486.7,816.3 1488.1,815.8 1489.5,815.1 1490.8,814.2 1492.2,813.3 1493.6,812.3 1495,811.1 1496.4,809.9 1497.8,808.5 1499.2,807.1 1500.5,805.6 1501.9,804.1 1503.3,802.5 1504.7,800.9 1506.1,799.3 1507.5,797.7 1508.9,796 1510.2,794.4 1511.6,792.8 1513,791.2 1514.4,789.7 1515.8,788.2 1517.2,786.8 1518.6,785.5 1519.9,784.3 1521.3,783.1 1522.7,782.1 1524.1,781.2 1525.5,780.3 1526.9,779.7 1528.3,779.1 1529.6,778.7 1531,778.4 1532.4,778.2 1533.8,778.2 1535.2,778.3 1536.6,778.6 1538,779 1539.3,779.5 1540.7,780.1 1542.1,780.9 1543.5,781.8 1544.9,782.8 1546.3,783.9 1547.7,785.1 1549,786.4 1550.4,787.8 1551.8,789.3 1553.2,790.8 1554.6,792.3 1556,793.9 1557.4,795.6 1558.7,797.2 1560.1,798.8 1561.5,800.5 1562.9,802.1 1564.3,803.7 1565.7,805.2 1567.1,806.7 1568.4,808.1 1569.8,809.5 1571.2,810.8 1572.6,811.9 1574,813 1575.4,814 1576.8,814.9 1578.1,815.6 1579.5,816.2 1580.9,816.7 1582.3,817 1583.7,817.2 1585.1,817.3 1586.4,817.2 1587.8,817 1589.2,816.7 1590.6,816.2 1592,815.6 1593.4,814.9 1594.8,814 1596.1,813.1 1597.5,812 1598.9,810.8 1600.3,809.5 1601.7,808.2 1603.1,806.8 1604.5,805.3 1605.8,803.7 1607.2,802.1 1608.6,800.5 1610,798.9 1611.4,797.3 1612.8,795.6 1614.2,794 1615.5,792.4 1616.9,790.8 1618.3,789.3 1619.7,787.9 1621.1,786.5 1622.5,785.2 1623.9,784 1625.2,782.9 1626.6,781.8 1628,780.9 1629.4,780.2 1630.8,779.5 1632.2,779 1633.6,778.6 1634.9,778.3 1636.3,778.2 1637.7,778.2 1639.1,778.4 1640.5,778.7 1641.9,779.1 1643.3,779.6 1644.6,780.3 1646,781.1 1647.4,782.1 1648.8,783.1 1650.2,784.2 1651.6,785.5 1653,786.8 1654.3,788.2 1655.7,789.6 1657.1,791.2 1658.5,792.7 1659.9,794.3 1661.3,796 1662.7,797.6 1664,799.3 1665.4,800.9 1666.8,802.5 1668.2,804.1 1669.6,805.6 1671,807.1 1672.4,808.5 1673.7,809.8 1675.1,811.1 1676.5,812.2 1677.9,813.3 1679.3,814.2 1680.7,815 1682.1,815.8 1683.4,816.3 1684.8,816.8 1686.2,817.1 1687.6,817.3 1689,817.3 1690.4,817.2 1691.8,817 1693.1,816.6 1694.5,816.1 1695.9,815.4 1697.3,814.7 1698.7,813.8 1700.1,812.8 1701.5,811.7 1702.8,810.5 1704.2,809.2 1705.6,807.8 1707,806.4 1708.4,804.9 1709.8,803.3 1711.2,801.7 1712.5,800.1 1713.9,798.5 1715.3,796.8 1716.7,795.2 1718.1,793.6 1719.5,792 1720.9,790.4 1722.2,788.9 1723.6,787.5 1725,786.2 1726.4,784.9 1727.8,783.7 1729.2,782.6 1730.6,781.6 1731.9,780.7 1733.3,780 1734.7,779.4 1736.1,778.9 1737.5,778.5 1738.9,778.3 1740.3,778.2 1741.6,778.2 1743,778.4 1744.4,778.7 1745.8,779.2 1747.2,779.8 1748.6,780.5 1750,781.3 1751.3,782.3 1752.7,783.4 1754.1,784.5 1755.5,785.8 1756.9,787.1 1758.3,788.5 1759.7,790 1761,791.6 1762.4,793.1 1763.8,794.8 1765.2,796.4 1766.6,798 1768,799.7 1769.4,801.3 1770.7,802.9 1772.1,804.5 1773.5,806 1774.9,807.4 1776.3,808.8 1777.7,810.1 1779.1,811.4 1780.4,812.5 1781.8,813.5 1783.2,814.4 1784.6,815.2 1786,815.9 1787.4,816.5 1788.7,816.9 1790.1,817.1 1791.5,817.3 1792.9,817.3 1794.3,817.1 1795.7,816.9 1797.1,816.5 1798.4,815.9 1799.8,815.3 1801.2,814.5 1802.6,813.6 1804,812.5 1805.4,811.4 1806.8,810.2 1808.1,808.9 1809.5,807.5 1810.9,806 1812.3,804.5 1813.7,802.9 1815.1,801.3 1816.5,799.7 1817.8,798.1 1819.2,796.4 1820.6,794.8 1822,793.2 1823.4,791.6 1824.8,790.1 1826.2,788.6 1827.5,787.2 1828.9,785.8 1830.3,784.6 1831.7,783.4 1833.1,782.3 1834.5,781.4 1835.9,780.5 1837.2,779.8 1838.6,779.2 1840,778.8 1841.4,778.4 1842.8,778.2 1844.2,778.2 1845.6,778.3 1846.9,778.5 1848.3,778.9 1849.7,779.3 1851.1,780 1852.5,780.7 1853.9,781.6 1855.3,782.6 1856.6,783.6 1858,784.8 1859.4,786.1 1860.8,787.5 1862.2,788.9 1863.6,790.4 1865,792 1866.3,793.5 1867.7,795.2 1869.1,796.8 1870.5,798.4 1871.9,800.1 1873.3,801.7 1874.7,803.3 1876,804.8 1877.4,806.4 1878.8,807.8 1880.2,809.2 1881.6,810.5 1883,811.7 1884.4,812.8 1885.7,813.8 1887.1,814.6 1888.5,815.4 1889.9,816.1" fill="none" stroke="#000" stroke-width="4.5" stroke-dasharray="16.7 8.3"/>
<polyline points="1483.2,826.3 1505,799.2 1526.7,767.3 1546.6,804.6 1568.3,798.1 1588.9,832.5 1609.9,786.5 1630.9,771.3 1652.3,793 1672.5,797.4 1693.2,834.7 1713.1,804.6 1733.7,779.7 1754.7,788.3 1775.3,788.3 1796.3,811.9 1818,804.6 1837.9,776.4 1858.9,795.6 1879.5,801.7" fill="none" stroke="#1f77b4" stroke-width="4.4" stroke-linejoin="round" stroke-linecap="square"/>
</g>
<rect x="1475.6" y="611" width="414.3" height="403.2" fill="none" stroke="#000" stroke-width="2.2" stroke-linejoin="miter"/>
<path d="M1475.6 1014.2v10.0M1607.5 1014.2v10.0M1739.4 1014.2v10.0M1871.2 1014.2v10.0" stroke="#000" stroke-width="2.2"/>
<text transform="translate(1475.6 1051.4) scale(1 1.06)" y="10.2" text-anchor="middle" font-size="29.2">0</text>
<text transform="translate(1607.5 1051.4) scale(1 1.06)" y="10.2" text-anchor="middle" font-size="29.2">2</text>
<text transform="translate(1739.4 1051.4) scale(1 1.06)" y="10.2" text-anchor="middle" font-size="29.2">4</text>
<text transform="translate(1871.2 1051.4) scale(1 1.06)" y="10.2" text-anchor="middle" font-size="29.2">6</text>
<path d="M1475.6 611h-10.0M1475.6 711.8h-10.0M1475.6 812.6h-10.0M1475.6 913.4h-10.0M1475.6 1014.2h-10.0" stroke="#000" stroke-width="2.2"/>
<text transform="translate(1450.6 611.6) scale(1 1.06)" y="10.2" text-anchor="end" font-size="29.2">5</text>
<text transform="translate(1450.6 712.4) scale(1 1.06)" y="10.2" text-anchor="end" font-size="29.2">0</text>
<text transform="translate(1450.6 813.2) scale(1 1.06)" y="10.2" text-anchor="end" font-size="29.2">−5</text>
<text transform="translate(1450.6 914) scale(1 1.06)" y="10.2" text-anchor="end" font-size="29.2">−10</text>
<text transform="translate(1450.6 1014.8) scale(1 1.06)" y="10.2" text-anchor="end" font-size="29.2">−15</text>
<text x="1682.8" y="1109.3" text-anchor="middle" font-size="29.2">angle (rad)</text>
<text transform="translate(1372 812.9) rotate(-90)" text-anchor="middle" font-size="29.2">angular velocity <tspan font-style="italic" font-family="Liberation Serif, serif">ω</tspan> (rad/s)</text>
<rect x="1491.5" y="624.5" width="188.8" height="122.6" rx="7" fill="#fff" fill-opacity="0.6" stroke="#c4c4c4" stroke-opacity="0.55" stroke-width="4.7"/>
<circle cx="1537.8" cy="645.6" r="11.8" fill="#8fbbd9"/>
<text x="1584.3" y="655.6" font-size="29.2">data</text>
<path d="M1502.2 679.9H1569" stroke="#1f77b4" stroke-width="4.4"/>
<text x="1584.3" y="692.4" font-size="29.2">mean</text>
<path d="M1502.2 720.2H1569" stroke="#000" stroke-width="4.6" stroke-dasharray="16.7 8.5"/>
<text x="1584.3" y="729" font-size="29.2">fit</text>
<text x="-2.6" y="31.2" font-size="43.5" font-weight="bold">a</text>
<text x="651.3" y="29.9" font-size="43.5" font-weight="bold">b</text>
<text x="1319" y="30.5" font-size="43.5" font-weight="bold">c</text>
<text x="-1.7" y="613" font-size="43.5" font-weight="bold">d</text>
<text x="652" y="614" font-size="43.5" font-weight="bold">e</text>
<text x="1319.5" y="613.3" font-size="43.5" font-weight="bold">f</text></svg>
</body></html>
